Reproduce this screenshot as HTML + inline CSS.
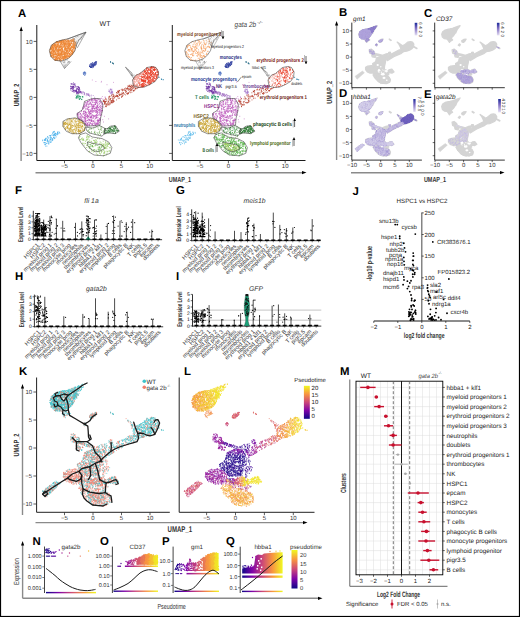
<!DOCTYPE html>
<html><head><meta charset="utf-8"><style>
html,body{margin:0;padding:0;background:#fff;}
svg{display:block;font-family:"Liberation Sans", sans-serif;text-rendering:geometricPrecision;}
</style></head><body>
<svg width="520" height="617" viewBox="0 0 520 617">
<defs><path id="my10" d="M73.9 40.6h0m-1-.9h0m-.2 1.7h0m-4.1-.3h0m-.8-.7h0m-4.1 1.2h0m-3.7-.5h0m-2.8 .4h0m-1.4 1.1h0m2.8 1.3h0m2.7-.5h0m1.3-1.1h0m1.1 .8h0m5.6-.2h0m.2 .9h0m.4 .7h0m3-.5h0m1.1-1.8h0m.4 5.5h0m-2.6-1.2h0m-3.4 1.4h0m-.4 0h0m-1.8-2.6h0m-.9 1.7h0m-4.3 .2h0m-.1-2.1h0m-.5 .9h0m-2.8 .3h0m-2.3 1.1h0m-.4-1.4h0m-2.7 .6h0m-.2-.8h0m0 1.5h0m-.8-1.3h0m1.3 4.5h0m.2-.9h0m.2 .2h0m1-.3h0m1.7-.1h0m.4-.9h0m.1 .8h0m.1 .7h0m.2 .9h0m.2-1.8h0m.2-.3h0m.1 2.1h0m6-1.1h0m2.7-1.5h0m.2 .4h0m.6-.1h0m0 2.3h0m1.3-.1h0m0-.4h0m.1 .4h0m2.4-.6h0m.4-2.1h0m1.9 3.1h0m-.2 .4h0m-1.3 1.6h0m-4-1.5h0m-.2 1h0m-1.9 1.2h0m0-1.8h0m-.6 .8h0m-1-1.5h0m-.1 1.3h0m-1.2-.2h0m0-.2h0m-.3 1.2h0m-.5-2.2h0m-.4-.2h0m-.3 2.4h0m-1.8-2.1h0m-.4-.3h0m-.7 .6h0m-6 1.2h0m-.1 .8h0m-.4-1.7h0m-1.4-.1h0m.7 2.3h0m2.4 .8h0m.3 1.7h0m.1-2.4h0m1.8 .3h0m1.8-.4h0m.3 1.2h0m1.2-.3h0m3 .6h0m.6 .5h0m1.4-2.1h0m1 1.9h0m.4-1.5h0m0 1.1h0m1.1 0h0m1.4 1.3h0m.7-1.2h0m.5 1h0m.8-.2h0m.2 .2h0m1.3-2.2h0m.8 0h0m-4.5 3.3h0m-.8 0h0m-.6-.3h0m-9.6 .1h0m-.7 2.3h0m-1.8-2.6h0m3.6 3.1h0m2.7-.4h0m4.4 .1h0"/><path id="my11" d="M74.1 41.4h0m-3.1-.6h0m-6.7 1h0m-.8-1.3h0m-.4 .3h0m-.9-.5h0m-2.1 1.6h0m-2.5 2.7h0m1-2h0m1.6 1.7h0m1.4-.9h0m.4 1.4h0m2-.6h0m.7-.9h0m.4-.3h0m1.1-.9h0m.4 2.2h0m1.8-2h0m.1 1.9h0m.4-.3h0m1.7 .2h0m.6-1.2h0m4.4-.1h0m0-.1h0m.1 2.1h0m-1.7 2.1h0m-.1 .5h0m-.5-.2h0m-.1-.8h0m-.6-.2h0m-1.2 1.2h0m-1.8-2.4h0m-.2 1.8h0m-1.5-.2h0m-.1-1.1h0m-1.7 1.3h0m-.5 .5h0m-1.7-2.3h0m-1.5 1h0m-2.7 .3h0m-.1 .4h0m-.1 .8h0m-.9-.5h0m-1 .1h0m-.5-.8h0m-3-1.3h0m-.1 .5h0m-1.1-.5h0m-.2 .9h0m-1.3 2.1h0m1.6 1.6h0m1.3 .8h0m.9-2.4h0m4 2.1h0m0-1h0m.1-1.1h0m.3 2.6h0m.4-1.1h0m1-.9h0m.3 .1h0m.2-.6h0m4.3 .7h0m.1-.8h0m.3 1.6h0m2.5-1h0m.6 2.2h0m.4-1.6h0m.3 0h0m.1 .9h0m.1-1.4h0m1.2 5h0m-2.3-2.3h0m-1.5 1.9h0m-1.8-.6h0m-2.3 1.2h0m-3.8-1.1h0m-1.7 .2h0m-.1-1.5h0m-.7 1.8h0m-2.9-1.9h0m-.9-.3h0m-2.4 .9h0m.3 4.4h0m.2-1.4h0m0 1.3h0m2 .3h0m2.6-2.6h0m.2 .4h0m1.1 1.5h0m0-.3h0m4.9 .1h0m.1-1.3h0m.8 .4h0m1.8 1.5h0m1.4-.5h0m1.7-.1h0m.5-.5h0m.1 1.2h0m.6 .3h0m-3.9 .6h0m-1.6 1.8h0m-.2-1h0m-1 .3h0m-6.6 1.4h0m-1.2-1.7h0m-1-.8h0m1.3 2.7h0m2.4 .1h0m1.6 .6h0m2.2-.4h0"/><path id="my12" d="M73.5 39.1h0m-.2 2.3h0m-.9-1.7h0m-4.1 .5h0m-1.3 1.3h0m-.8-1.6h0m-5.2 1.9h0m-2.1-.3h0m-1.8 .3h0m-1.7 1.2h0m.9 1.8h0m2.6 .1h0m1.4-1.1h0m3.1 .3h0m.6-.1h0m.2 .8h0m.5-.8h0m1.8-.3h0m.7 1h0m8.7-.4h0m-1.9 1.5h0m-.3 .2h0m-.9 1h0m-.2 .7h0m-.4-.3h0m-3.4-1h0m-3 .9h0m-1.1-1h0m-.7-.8h0m-3.1 1.2h0m-2.3-.7h0m-.3 1.7h0m-3.7-.8h0m-.2 .1h0m-.2-.8h0m-1.1 1.1h0m-.9 0h0m0 0h0m-.2-2.3h0m0 1.5h0m-.5 1.4h0m-1.1 2.2h0m1.9-1.5h0m.5 2h0m1.3-1.9h0m.7 1.9h0m2.4-1.6h0m4.6 1.8h0m2.9-.6h0m.2-.8h0m0-1.3h0m.1 1.8h0m1.1-1.1h0m3.2 .8h0m.4-.6h0m.9-.9h0m0 .8h0m.5 .9h0m0-1.6h0m1.5 1.6h0m1.6 .2h0m0 1.1h0m-1 .9h0m-.8 .4h0m-.1 .7h0m-.9-1.9h0m-.9 1.7h0m-6 .8h0m-1.7-1.1h0m-.1-1.6h0m0 0h0m-.2 .1h0m-.6 .4h0m-.4 .8h0m-.2-.1h0m0 1.5h0m-3.2-.7h0m-2.5 .5h0m0-1.2h0m-1.7-.4h0m-.4-.4h0m-.2-.5h0m-.7 .3h0m-1.9 1.6h0m.9 3.2h0m.5 .1h0m1.9-1.5h0m.6-.5h0m.8 2.2h0m3.8-1.4h0m1.3-1h0m.1 2.3h0m.9-1.7h0m5.7-.5h0m0 .5h0m.5-.4h0m2.3 .3h0m-9.4 5.3h0m0-.1h0m-.6-2h0m-1 2.1h0m-.4-2.5h0m-.8 1.8h0m-.6-.9h0m0 1.4h0m-.9-1.5h0m-.5 0h0m-.1-1.1h0m.2 3h0m5.2 .8h0"/><path id="my13" d="M73.7 38.7h0m1.2 2.4h0m-1.2 0h0m-2.3-1.3h0m-.6 .7h0m-3.1 .1h0m-.8-.6h0m-3 1.8h0m-2.4-1h0m-.1 .2h0m-.4-.6h0m-.9 1h0m-.2-.4h0m-4.5 3.8h0m1.5-2.6h0m.8 .7h0m1.6-.2h0m2.1 1h0m1.6-.3h0m2.5 .2h0m2-.5h0m.9 .2h0m1.5 1.6h0m.4-.3h0m.7-1.6h0m.1-.2h0m.4 .7h0m2.4 1.3h0m.1-.6h0m0 3.3h0m-.2 .2h0m-1.6-.4h0m-3.2 .3h0m-1.6-.7h0m-4.4-.9h0m0 1.2h0m-.2-2.2h0m-4.9 2.4h0m-1.7-.9h0m-.8-1h0m-2.6-.4h0m-.4 5.6h0m1.3-.2h0m4.1-.7h0m2.2 .1h0m1.2 .2h0m.5-1.1h0m.3 1h0m.3-.9h0m.1-.5h0m2.5 1.5h0m.7-1.5h0m0 1.4h0m.2 .1h0m.1-1.8h0m.2 1.4h0m.5 .8h0m1.2-1.3h0m2.2-.8h0m.8 .7h0m.9 1.5h0m.8-1h0m.4 1.1h0m.2 1.9h0m-1.3 .2h0m-.7-1.4h0m-3.1 1.5h0m-.1-1.5h0m-1 .3h0m-.1 .2h0m-2.3 1.9h0m-.3-2h0m-1.7 2.1h0m-1.2-1.2h0m-2.1-.7h0m-1.8 1.1h0m-2-1.1h0m-1.4 1.3h0m-.6-.6h0m-1.2 .5h0m-.4 .6h0m-.1-.3h0m-.6-1.4h0m-.6 .4h0m-.2 .2h0m.9 2.9h0m1.9 .7h0m1.1-1.7h0m3.9-.6h0m0 .7h0m.5 1.1h0m.7 .9h0m1.8-1.9h0m2 2.1h0m1-2h0m1.8 1.6h0m.9-.1h0m.8 1.9h0m-.4-1.2h0m-3.5-.1h0m-1.2 .3h0m-.3 1.7h0m-.4-1.3h0m-.9 .1h0m-.9 2h0m-.6-1.2h0m-.7-.2h0m-1.2-.1h0m-4.6-1h0m7.2 3.4h0"/><path id="my14" d="M73.9 41.1h0m-1-.6h0m-1.9 1.1h0m-.7-.9h0m-.4-.6h0m-3.4 1.6h0m-2.9-.4h0m-1-.8h0m-1.1 .7h0m-6.8 3.3h0m1.6-2.5h0m1.2 .2h0m3.3 .7h0m.2 .2h0m1.3 1.1h0m.1 .1h0m3.7 .4h0m2.2-.1h0m1.1-.8h0m.1 .4h0m.2-1.6h0m3.9 .8h0m1.4 4.4h0m-.4-.5h0m-1.9-1.4h0m-.7 .5h0m-.9 .8h0m-.9-2h0m-.6 1.3h0m-.9-1h0m-4.2 .2h0m-.2-.5h0m-.3 1.1h0m-.5 .7h0m-3.2 .6h0m-.8-1.5h0m-.6-.4h0m-2.2 .2h0m-.2 .5h0m-.6 1.1h0m-3.3-.3h0m-.1 .3h0m-.4 1.8h0m1.2-.8h0m1.2 .5h0m.9 .3h0m.6 1.3h0m.1-2h0m2 1.3h0m3.6-1.4h0m.3 1.5h0m3.1 .2h0m1.2 .7h0m1.1-.8h0m1.6-.7h0m1.1-.5h0m4.5-.7h0m-1.8 4.4h0m-1.1 .9h0m-.2-2h0m-2-.2h0m0 2.4h0m-.8-2.3h0m-.2 1.2h0m-.8 .8h0m-1.1 .5h0m-.9-1.8h0m-2.3 1.8h0m-.3-2.5h0m-.9-.3h0m-.3 .3h0m-.8 1h0m-3-.9h0m-1.4 2.4h0m-.2-1.9h0m-1.8-.7h0m-.8 .5h0m-.8 .6h0m-.6 .5h0m0 .9h0m-.9-2.1h0m1 3.5h0m1-1.2h0m2 .4h0m1.7 .5h0m.7 0h0m.5 .5h0m.4-.3h0m1.4 .1h0m.2-1.1h0m.3 1.3h0m.6-.2h0m.3 1.5h0m2.8-.9h0m.2-1.5h0m.7-.1h0m.7 2h0m.3 .6h0m4.4-1.1h0m0-.2h0m-4.3 2.2h0m-1.6-.2h0m0 1.1h0m-1.5 1.1h0m-4-.3h0m-2.1-.9h0m-.8-1.5h0m0 2.1h0m-.8 .7h0m-1.6-2.1h0"/><path id="my15" d="M73.1 41.2h0m-1.3 .3h0m-.9-1.4h0m-1.4 1.6h0m-.7-1.2h0m-.1 .8h0m-1.1 0h0m-1.2-1.2h0m-1.1 .2h0m-3.4 .9h0m-1.9 .1h0m-5 1.8h0m1.1 .2h0m1.7-.3h0m.2 1.2h0m1.1-2h0m.7-.2h0m2.1 .4h0m2.2-.1h0m0 .5h0m.8 1h0m4.4 0h0m2.7 1h0m1.6-1.8h0m.9 1.9h0m.8-2.8h0m-.6 3.9h0m-1.5-.8h0m-.1-.2h0m-4.7 1h0m-.9 .9h0m-.7-.2h0m-1-.3h0m-1.3 .7h0m-.1-1.9h0m-4 1.2h0m-2-.5h0m-.7 .2h0m-1.4 1h0m-.5 .1h0m-.1-2.2h0m-.4 2.5h0m-.2-2.2h0m-1.4 1.4h0m-3.9 3.3h0m1.2-1.6h0m.1 .1h0m.3 .5h0m.7 .2h0m3.5 .8h0m1.5-.8h0m1.4-.1h0m0 1.1h0m.2-1.1h0m1.2 .2h0m.2 1.1h0m.4 0h0m1.7-.1h0m1.4 .6h0m3.9-2.3h0m2 2h0m1.9 .3h0m2.2-2.6h0m.3 0h0m-1.1 3.7h0m-.5 1.8h0m-4.2-1.4h0m-1.7-1.4h0m0 .6h0m-4.2 .2h0m0 2.1h0m-.6-1.1h0m-3 1.1h0m-.1-.9h0m-.1-1.3h0m-2.5 .9h0m-2.8 .5h0m-.1-1.8h0m-1.3-.1h0m-1.1 2.6h0m.8 2.6h0m.4-.9h0m2-1h0m.2 .2h0m2.1 .1h0m0-.3h0m1.6 .6h0m1.1-.5h0m1.1-.6h0m.1 2.6h0m2.6-1.8h0m.6 2h0m1.8-.2h0m1.5-1.5h0m2.8 1.8h0m.5-2.6h0m.2 2.3h0m-1.2 1.1h0m-4.2 .9h0m-.9-.3h0m-.3 .9h0m-.1 .2h0m-.6-1.6h0m-3 1.1h0m-.3-.3h0m-2.9-1.3h0m-.7 1.6h0m-.7-1.2h0m-.4-.7h0m-.5 2.5h0"/><path id="my16" d="M73.3 40h0m-2 .1h0m-1.1 .4h0m-.7 .9h0m-.9-.1h0m-.4-1.3h0m-.2 1.5h0m-2.8-1.2h0m-.4-.1h0m-.2 .9h0m-1.5-1h0m-.3 1.4h0m-1.6-.5h0m-1.3 .2h0m-6.1 2.5h0m.4 .1h0m2.3-1.4h0m.3 .3h0m1.1 2.1h0m.6-2.8h0m.7 .7h0m1.5 1.7h0m1.2-2h0m1.5 .6h0m.4 .1h0m1 1.3h0m.6-1.2h0m2.3 .8h0m2.4 .9h0m1.1-1.9h0m.2 .5h0m1.7 1.4h0m1.1-1h0m1.1-1.5h0m.5 .7h0m.2 2.4h0m-.8 1.4h0m-7.4 .8h0m-5.5 0h0m0-.8h0m-2.2 .6h0m-2.8-1.5h0m-.5-.1h0m-.4 1.8h0m-.4-1.1h0m-.4 .8h0m-.4-1.8h0m-.8-.3h0m-.1-.2h0m-.7 2.7h0m-.3-.7h0m-.6 .1h0m0 .2h0m0-2.1h0m-.4 1.1h0m-1.1 .2h0m-.2 1.7h0m.4 .3h0m.2 .7h0m.3-.6h0m3.5-.3h0m1.8 1.5h0m.9-.5h0m1.4 1.2h0m.9-.8h0m.2-.6h0m1.2 0h0m8.9-1.1h0m.3 2.3h0m4.4-1.8h0m-2.7 4.2h0m0 1h0m-3.3-2.7h0m-1.5 2.8h0m-1.4-2.3h0m-4.9 2.1h0m-2 .1h0m-.3-.5h0m-1.3 0h0m-.8-2.1h0m-2.1 .7h0m-.2 .7h0m-.2-.8h0m-.3 .1h0m-.4-.5h0m-1 .7h0m-2-.5h0m2.8 4.3h0m2-.1h0m.2-1.7h0m3 1h0m.1 .4h0m.4-.8h0m.4 .4h0m.6-.4h0m.2-.4h0m1.1-.2h0m2.2 .5h0m.8 1.6h0m.7-2.1h0m.1 2.3h0m3-.3h0m1.9-1.1h0m.3 .9h0m-6.1 1.8h0m-3 .6h0m-1.2-.7h0m-.7 .6h0m-3.1-.7h0m-3.5 1.2h0"/><path id="my17" d="M71.9 41.2h0m-6.7-.4h0m-1.5-.2h0m-4.6 .5h0m-1.5 .5h0m-1 .3h0m-4.2 3h0m1.6-.8h0m.7 .2h0m.3 .3h0m1.4-.4h0m1.1 .4h0m.3-.3h0m.3 0h0m2.8 .2h0m.7-1.2h0m0 1.6h0m3.6-2.4h0m1.3-.4h0m.7 1.7h0m1.6-.1h0m4.4 .4h0m1.4-2h0m.1 4.1h0m-.5-1.1h0m-.3 2.7h0m-.1 .1h0m-3.4-2.2h0m-.5-.7h0m-.1 .2h0m-1 .6h0m-.2 1.6h0m-.1-1.7h0m-.4-.7h0m-.1 1.6h0m-2.9-1.3h0m-.1 2.1h0m-5.2-1.7h0m-2.2 .9h0m-1.2 .8h0m-.2-1.5h0m-.2 2h0m-5.4 1.6h0m.8 1.2h0m2.5-.3h0m2.7-2.1h0m1.5 2.1h0m.1 .1h0m.8 .4h0m1.4-.9h0m1.6-1.1h0m2.3 .5h0m.4-.4h0m2.9 1.9h0m.1-2.7h0m.4 2.3h0m2.4-1.9h0m.3 1.6h0m1.6 .1h0m.8-2.2h0m.3 1.1h0m-1.3 2.6h0m0 1.7h0m-1.1 .4h0m-.4-1.5h0m-1.2 1h0m-.1 .3h0m-2.7 0h0m-.7-.9h0m-1.7-.8h0m-10 1.6h0m-.2-2.3h0m-2.6 1.2h0m-.6 .7h0m-.3-.5h0m.5 3h0m1.1-1.3h0m1.1 1.3h0m.1-1.3h0m3.1 1.4h0m.7 .8h0m2.6-1.4h0m.5 1.1h0m1.6-1.6h0m.2 2.2h0m.6-.3h0m.6 .2h0m.4 0h0m3.3-1.8h0m.2 .5h0m0 .4h0m-1.1 2.7h0m-1-1.5h0m-.1 1.3h0m0-.3h0m-.3-.9h0m-1.1-.1h0m-.4 .9h0m-.9 .2h0m-1.1 .3h0m-.1-.2h0m-.3 1.2h0m-2.8-2.4h0m-.7 .1h0m-.7 .5h0m-.1-.2h0m-1.2 1.8h0m.3 1h0m.5-.2h0m1.5 .1h0"/><path id="my18" d="M73.8 39.7h0m-1.4 .9h0m-1.2 .7h0m-.4-.2h0m-1.9 0h0m-2.3 .5h0m-1.3-.4h0m-.7-1.3h0m-1.8 .4h0m-1.2 .6h0m-.4 .9h0m-8.3 3h0m1.3-1.1h0m1.3 .6h0m2.8-1.2h0m3.2-.9h0m1.7 .3h0m1.4 1.7h0m.7-1.9h0m1.6 1.2h0m.9 .7h0m.9-1.1h0m2.4 0h0m1.9-1.1h0m.8 .1h0m.6 1.3h0m.4 1.1h0m.3 1.1h0m-.6 1.1h0m-.6-.9h0m-3-.6h0m-1.3-.2h0m-.5 2.9h0m-3.4 0h0m-4.2-1.6h0m-.4-.7h0m0 1.1h0m-.4-.6h0m-.9 .1h0m-.1 1.3h0m-2-1.8h0m-1.4 1.9h0m-1.2-.7h0m-.5-1.7h0m-.4 1.5h0m-.2-1.7h0m-.8 2.7h0m-.4-1.5h0m-.3-.5h0m-1.9 3h0m.1-.7h0m.5 .9h0m2.1 .1h0m.3 .2h0m.1-.6h0m2 .4h0m.2 1.2h0m2.6 .2h0m.1-1.8h0m2 .8h0m1.9-.1h0m4.7 1.5h0m.8-1h0m1-1.7h0m.9 1h0m1.4 1.6h0m2.9-1.6h0m-.1 1.9h0m-.6 1.1h0m-1 .2h0m-.4-1.1h0m-2.4 2h0m-1.4 .1h0m-.4-.2h0m-1.4-1.5h0m-.9 .8h0m-.2 .9h0m-.7 .3h0m-.4-1h0m-.5-.4h0m-2.1 1.1h0m-1.1-2.3h0m-1.7 .9h0m-.9 .7h0m-2.5 .9h0m-2.2-2h0m-.5 2h0m-1.9 3.1h0m1.1-1.4h0m1.4-.2h0m1.4 1.3h0m.7-2h0m1.2 2.1h0m1.7-1.9h0m.8 1.5h0m1.9-2h0m3.3 2.3h0m.7 .5h0m4.7-2.3h0m-2.3 3.7h0m-1.4-1.2h0m-2.7 1.7h0m-1.2 1.1h0m-2.8-1.6h0m-1.3 .5h0m-1.2 .7h0m-3.4-2.3h0m-1.1 .4h0m2.9 2.6h0m3.6 .2h0"/><path id="my19" d="M74.2 39.8h0m-1.9 1.3h0m-.5-1h0m-6.4 .9h0m-3.5 .4h0m-1.2 .1h0m-.4-.4h0m-3.2 .7h0m-.4 .5h0m1 .4h0m2.8 1.6h0m.1-1.8h0m.7-.3h0m.9-.2h0m.6 2h0m.5-1.7h0m1.6 1.1h0m.2 .3h0m.4 1.1h0m.2-.3h0m.1-.8h0m1.3-1.5h0m.3 .5h0m1-.5h0m2 1.2h0m2.5 0h0m.7-1.4h0m1.7 2.9h0m.3-1.6h0m-1.8 3h0m-1.8 1.3h0m-.6-1.2h0m0 .2h0m-1.3 .3h0m-.7-1.2h0m-2.2 .4h0m-.4-.9h0m-.8 .6h0m-1.6 .1h0m-.5 1.2h0m-.1-.7h0m-1.6 1.1h0m-.8-.5h0m-.3-.3h0m-1.7 .7h0m-.6 0h0m0-1.4h0m-1.4 .1h0m-2.1 .9h0m-1.8-1.5h0m-.7-.3h0m-1.6 2.4h0m-1 1.9h0m2.4-1.5h0m.8 .7h0m4.1 1.9h0m1.4-.5h0m.8-.9h0m4.8-.7h0m1.7 .3h0m1.3 1.4h0m.5-2.1h0m.4 .7h0m2.6-.3h0m1.2 .7h0m1.9 1.1h0m-1.3 1.6h0m-5.8 1.5h0m-1-.7h0m-.2 .5h0m-1.1-1.6h0m-.9 1.3h0m-2.5-.3h0m-1-.4h0m-1.4 1.1h0m-1.7-2h0m-3.8 .6h0m-2.1 4.4h0m.8-.9h0m1.2 .3h0m1 .4h0m1.4 .5h0m1.6 .2h0m1.5-2h0m5.5 2.1h0m.4-.6h0m.7-2h0m.2 1.4h0m2.1 .8h0m1 .2h0m.2-2.7h0m.5 .1h0m0 1.7h0m.3-.5h0m2.5-.7h0m-6.6 4.3h0m-.3-1.8h0m-5 2.5h0m0-2.2h0m-.2 1.5h0m-.9-.3h0m-.3-.9h0m-.1-.1h0m-.8 .7h0m-1.4 .6h0m-.9-.3h0m-1.2 1.2h0m-.1-.3h0m1.4 .9h0m5.7 0h0"/><path id="my20" d="M84.9 33.8h0m-12.1 4.9h0m1.9-.2h0m1.3-1.4h0m1.8-.6h0m3.8 1.2h0m-.6 1.5h0m-2.8 .8h0m-1.9 1.2h0m-2-1.6h0m0 1.9h0m.6 1.4h0m1.2 .3h0m.4-.3h0m.1 3.1h0m-1.4-.8h0"/><path id="my21" d="M82.3 34.7h0m-.3-.8h0m-.4 1.6h0m-11.4 3.1h0m1.8-.2h0m1.1-1h0m.6 .9h0m1.3-1.5h0m2.2 1.2h0m.6-1.5h0m3.7 .5h0m-4.5 3.3h0m-.6 0h0m-.6 1.3h0m-1.9 .8h0m2.5 2h0"/><path id="my22" d="M79 35.3h0m-10.7 3.5h0m6.1-1.3h0m.1 .8h0m3.6-1.9h0m.2 .3h0m1.5 .7h0m1.3-1.4h0m0 .2h0m2 .4h0m-5.5 4h0m-1.6-.5h0m-1.1 .6h0m-2.4 .2h0m-3.5-1.8h0m5.7 4.9h0"/><path id="my23" d="M84.8 33.5h0m-2 0h0m-2.2 2h0m-4.9 1.2h0m4 .6h0m.2-1.1h0m1.6 2.7h0m.5-2.1h0m1.3-.5h0m-7.7 3h0m-1 2.4h0m-4-1.7h0m6.9 4.1h0m.5-.3h0m-1.6 2.8h0m-.2 .5h0"/><path id="my24" d="M81.1 35.3h0m-2.9 0h0m-2.9 3h0m.2-1.2h0m2.2-1h0m-1 5.2h0m-2.9-.2h0m-4.6-1.5h0m6.2 3.5h0m.7 1h0m1.1-1.1h0m1.2 1.8h0m.7-2h0m-2.1 2.3h0m-1.5-.1h0m0 .6h0"/><path id="my25" d="M85 33.5h0m-13.1 4.3h0m4.1 .2h0m3.3 .8h0m.6 0h0m.4-2.1h0m.3-.5h0m-1.5 4.5h0m-1.4-.2h0m-3.4 1.5h0m2.1 1.6h0m.5 .1h0m1.4 .6h0m-1.6 2.7h0m0-.8h0m-.8-1.2h0"/><path id="my26" d="M70.8 38.9h0m1.3-.3h0m2.1 0h0m.8-.3h0m2.3 .6h0m3.6-2.2h0m-5.8 3.8h0m-.8 .7h0m-.3 .5h0m-5.1-1.8h0m-1.3-.1h0m7.4 3.6h0m0-.1h0m2.2 0h0m.7 1.5h0m-2.2 1.3h0"/><path id="my27" d="M69.6 38.8h0m1.7-.7h0m3.7-1.4h0m.6-.1h0m2 1.2h0m.5-.6h0m.2-.2h0m2.9 1.4h0m-2.4 2.3h0m-.5-1.4h0m-1.1 2.1h0m-.9-.7h0m-3.5-.5h0m3 2.6h0m1.1 5h0m-1.3-2.7h0"/><path id="my28" d="M82.4 33.9h0m-2.6 1.9h0m-1.1-.6h0m-3.9 1.5h0m6.1 .1h0m.1 .2h0m1.5-.1h0m-3.1 2.6h0m-.9 .2h0m-.7 .2h0m-6-.6h0m4 4.2h0m.2-1.2h0m.6 0h0m.2 4h0m-1.4 .1h0"/><path id="my29" d="M81.6 34.2h0m-2.1 1.7h0m-6.9 2.3h0m1.3-.8h0m1.8 1.5h0m1.2-2.2h0m.4 1.5h0m.9-2.1h0m.2 2h0m2.6-1.8h0m-.4 3.8h0m-.2-.2h0m-2.3-.2h0m-2 .6h0m.1 4h0m1.9-.6h0"/><path id="my30" d="M64.2 61.4h0m4.3 .5h0m.5-.5h0m-1.9 3.5h0m-2.8 1.2h0"/><path id="my31" d="M63.6 62.3h0m4.1 .6h0m1.3-.2h0m-3.1 2.3h0m-.8 .2h0"/><path id="my32" d="M64.7 62.6h0m1.1-2.5h0m1.3 0h0m2.1 1.6h0m-3.8 5.4h0"/><path id="my33" d="M65.2 60.6h0m1.5 .1h0m2.3 2.8h0m-.6-.1h0m-4.8 1.3h0"/><path id="my34" d="M66 61.4h0m2.7-.9h0m.9 2.3h0m-3.6 .4h0m-3.4 .8h0"/><path id="my35" d="M67.1 62.1h0m.9 1.9h0m-3.8 1.8h0m-.5-.7h0"/><path id="my36" d="M66.1 59.5h0m-1.7 1.1h0m6.1 2.4h0m-5.7 .2h0"/><path id="my37" d="M68.2 61.9h0m.5 .7h0m-2.2 1.7h0m-2.4 2.2h0"/><path id="my38" d="M66.2 62.2h0m1.1 .9h0m-.1 .7h0m-3.9-.3h0"/><path id="my39" d="M65.9 61.5h0m3 2.1h0m-.8-.3h0m-4.8 2.2h0"/><path id="mono0" d="M96.4 63.8h0m-1-.8h0m-3.5 1.7h0m-.9-.9h0m-.9 2.8h0m.5 .3h0m.7 .6h0m1.4-.8h0"/><path id="mono1" d="M94.6 62.6h0m2.1-.8h0m-1.8 1.4h0m-.2 1.8h0m-.6-.7h0m-1.8-.2h0m-2.4 .7h0m2.7 1.4h0"/><path id="mono2" d="M95.9 64.6h0m-.9 .9h0m-1.3 .4h0m-.5-.7h0m0-1.2h0m-.8 .8h0m-2.6 1.8h0m3.4 0h0"/><path id="mono3" d="M95.7 61.7h0m.4 1.1h0m-.1 .9h0m-2 1.5h0m-.8 .2h0m-.2-1.6h0m-1.5 .6h0m-1.9 1.8h0"/><path id="mono4" d="M94.7 64.7h0m-.9 1.2h0m-.6-.6h0m-.1-2.3h0m-.5 1.7h0m-2.8 .9h0m1.5 1.5h0m.4 .1h0"/><path id="mono5" d="M95.5 64.4h0m-1.4-.8h0m-.9 1.2h0m-2-1.4h0m-.1 2.3h0m-1-.8h0m.3 2.5h0m.9-1.1h0"/><path id="mono6" d="M92.6 62.6h0m3.7-.5h0m.1-.1h0m-1.1 2.1h0m-.9-.4h0m-3.6 .3h0m.1 2.8h0m2.3 .6h0"/><path id="mono7" d="M95 62.3h0m-1 1.9h0m-1.2 1.3h0m-.1-.3h0m-1.4 .4h0m-.3-.8h0m-1.3 1.7h0m2.6 1.2h0"/><path id="mono8" d="M95.2 62.5h0m-.3 3.2h0m-.8-1.3h0m-2.2 1.4h0m-2.1 .7h0m.7 .7h0m.2 .2h0m.5-.1h0"/><path id="mono9" d="M95.4 62h0m.3 .4h0m.1 1.6h0m-1.7 .4h0m-2.1-1h0m-.4 3.8h0m1.5-.7h0m.3-.2h0"/><path id="monop0" d="M85.2 74.7h0m.6-1.6h0"/><path id="monop1" d="M83.8 74.4h0m.9-2.4h0"/><path id="monop2" d="M84.2 72.2h0m1.1 .6h0"/><path id="monop3" d="M83.4 73h0m1.2 2.3h0"/><path id="monop4" d="M83.2 73.1h0m.8-.7h0"/><path id="monop5" d="M83.8 73.8h0m.4-1.2h0"/><path id="monop6" d="M83.4 74.2h0m1.6 .7h0"/><path id="monop7" d="M84.3 73.1h0m.6 .2h0"/><path id="monop8" d="M84.9 72.8h0m.1-.6h0"/><path id="monop9" d="M84.7 72.8h0m1 1h0"/><path id="epcam0" d="M110.4 62h0"/><path id="epcam1" d="M113.5 63.7h0"/><path id="epcam2" d="M110.6 62.1h0"/><path id="epcam3" d="M112.7 62.8h0"/><path id="epcam4" d="M112.7 63.5h0"/><path id="epcam5" d="M113.5 63.9h0"/><path id="epcam6" d="M112.8 62.9h0"/><path id="epcam7" d="M113.1 63.5h0"/><path id="epcam8" d="M110.6 61.5h0"/><path id="epcam9" d="M110.8 62.4h0"/><path id="ery20" d="M150.5 67.9h0m.3-.2h0m3.1-.1h0m0-.3h0m3.3 2.3h0m-.1 .6h0m-2.5-.3h0m-.1 .9h0m-3.5-.1h0m-5.8-.4h0m-.3 0h0m-2.2 2.9h0m.1-1.2h0m3.2 1.8h0m.9-.6h0m2.1 1.2h0m3.3-.7h0m3.1-.8h0m1.7 3h0m-.4 1.8h0m-4.9-1.6h0m-.1-.1h0m-.9 1.4h0m-2-.2h0m-2-.1h0m-2.3-.1h0m-2.6 .1h0m-.6-1.2h0m-5.8 2h0m-1.7 .6h0m4-.5h0m2.6 .5h0m1.7 1.7h0m2.3-2h0m3.8 2.6h0m2.3-2.3h0m3.7 .1h0m1.5 .4h0m-5.3 2.1h0m-.3 0h0m-1.2 .3h0m-5 2.3h0m-.3-1h0m-4.2 .8h0m-.1 0h0m-1.6-2.2h0m-3.8 1.2h0m5.1 3h0m2.9-.9h0m3 .8h0m.4-.9h0m4.3-.2h0"/><path id="ery21" d="M147.3 68.2h0m.8 .2h0m9.8 3h0m-.1 .2h0m-3.3-2.5h0m-2.9 1.1h0m-3.4-.6h0m-.9 1.9h0m-2.1 .2h0m-4.1 1.4h0m2.8-1.1h0m.6 .5h0m1 .7h0m.5 .5h0m1.1 .5h0m1.5-2.1h0m1.8 0h0m1.2-.1h0m5.4 .7h0m0-.1h0m-3.2 4.9h0m-4.2-1.3h0m-.3 1h0m-.1-.3h0m-7.4-1.9h0m-4.7 1.8h0m-2.6 .6h0m-1.5 3.3h0m1.2-2.4h0m2.2 2.6h0m2.5-2.6h0m2.6 1.1h0m.5 1h0m.3-.3h0m1-2h0m5.4 2.5h0m1.8-.8h0m1 .8h0m4.4-2.3h0m-2.2 3.3h0m-3.7 .8h0m0-.3h0m-.4-.2h0m-4.3-.1h0m-2.4 1.7h0m-.5-2.2h0m-3 1.2h0m-2.9-1.5h0m6.3 5.2h0m6.1-2h0m-8.6 2.9h0m-2 .3h0"/><path id="ery22" d="M152 68.3h0m.9-1.4h0m1.7 1.3h0m.4 1.1h0m-1 .6h0m-1.8 1.5h0m-3-1h0m-1.5 0h0m-2.9 1.1h0m-1.7 .4h0m-5 2.7h0m1.1 .2h0m4.5-.9h0m3.1-1.4h0m.8-.3h0m2.1 1.7h0m1.1-1.2h0m.5-.4h0m.2 2.3h0m.8-2h0m.8 1.4h0m2.4-.2h0m-.5 2.3h0m-.5-.9h0m-4.1 .5h0m0 1.8h0m-4.8-1.6h0m-1.4-.1h0m-2.8 1.1h0m-1.3-.5h0m-.6-.5h0m-1.3-.3h0m1.7 3.9h0m1.3-.1h0m8-1h0m.5 2h0m2.7-.7h0m2.1-1.3h0m-1.9 3.1h0m-8.7-.1h0m-.7 1.8h0m-3.6-.4h0m-1.2 .6h0m-.1-.6h0m-4.6 2.8h0m2.5-.2h0m.6-1.4h0m.4 .6h0m2.4 .1h0m4.9-.7h0m2.2 1.5h0m-5.6 1.5h0"/><path id="ery23" d="M146.6 68.7h0m3.8 .2h0m4.1 1.2h0m-2.9 1.1h0m-1.1-.7h0m0-.8h0m-.1 2.1h0m-.4-1.3h0m-1.3-1.4h0m-.9 1.6h0m-1.1-.9h0m-2.5 .5h0m-7 4.6h0m2.3-.7h0m1.6-.6h0m3.1 .6h0m1.4-.7h0m.3-1.1h0m2.3 .1h0m.6 1h0m1.8 .7h0m4.8 .2h0m-3 2.3h0m-1-1.6h0m-1.1 .5h0m-1.3 1.8h0m-1.4 .2h0m-4.3-1.1h0m-1.6 .1h0m-3.1 .6h0m-3.1-.4h0m-2 1.9h0m3.9 .5h0m1.7-.9h0m.6 2h0m4-1h0m1.9 1.1h0m2.4-1.1h0m0-1.3h0m2 2.5h0m4.4-2.5h0m-2.9 4h0m-9 1.9h0m-.9-2.9h0m-1.5 1.8h0m-6-1.1h0m.2 2.5h0m2.9 1.4h0m3.9-.5h0m.3 .9h0m1.4 .8h0m1.1-.3h0"/><path id="ery24" d="M147 67.5h0m4.2 .1h0m.5-.8h0m.4 .9h0m4.3 1.2h0m-1.6 1.2h0m-.8 .2h0m-.9-.1h0m-1.1 .6h0m-2-1.6h0m-1.1 .6h0m-.4 .3h0m-4.2 1h0m-3.3 1.9h0m6.8 .7h0m3-1.4h0m1.6 1.4h0m2.6 .9h0m.5-.9h0m2.9-.7h0m-1.6 3h0m-1.8-.6h0m-6-.3h0m-.1 1.5h0m-1.2-.6h0m-2.6 .8h0m-8.9 3.1h0m.5-.3h0m4.9-.1h0m.9 1.2h0m.9-.3h0m2-.1h0m1.9-1.8h0m5.9 .3h0m0 .1h0m-1.8 3.3h0m-.4 1h0m-.2 .3h0m-.5 .3h0m-.1-2.8h0m-1.2 2.7h0m-.3-1.6h0m-.6 .6h0m-2.7-1.5h0m-1.1 2h0m-1.1-2.2h0m-.4 .1h0m-3.4 .9h0m-.3 1.7h0m-.4-2.6h0m-1.9 5.4h0m3.1-1.9h0"/><path id="ery25" d="M151.1 68.4h0m.6-1h0m.2 .1h0m1.1-.1h0m2.3 2.4h0m-6.2-.8h0m-6.4 5.4h0m.6-.2h0m6.9-.3h0m1.3 .6h0m.3-.3h0m1.5-1.2h0m.1 1.6h0m4.3 .6h0m-8.1 2.7h0m-1.7-1.2h0m-.2 .8h0m-1.4-.1h0m-2.1-2.1h0m-1.8 1.9h0m-1-.5h0m-.8-.2h0m-3.4 1h0m-.3-1.5h0m-.1-.9h0m-2.8 5h0m.2-.5h0m0-1.4h0m3.9 .4h0m1 .6h0m5.4 .7h0m1-1.8h0m1.7 .5h0m5.9 .7h0m.6 .7h0m1.2 1.2h0m-3.4 .6h0m-3.5-.6h0m-2 .9h0m-.1 .8h0m-.9-1.3h0m0 .5h0m-1.3-1.1h0m-1.2 2.8h0m-3.8-1.1h0m-3.5-.2h0m-.9-1.3h0m-.1 1.9h0m-.3-1.7h0m3.6 4.7h0m2-1.1h0m1.6 .8h0"/><path id="ery26" d="M154.2 67.3h0m.7 1.5h0m-.7 1.6h0m-7 .7h0m-1-.5h0m-5.4 3.7h0m.2-.1h0m5 .3h0m.4-.6h0m2.5-1.1h0m.5 .4h0m4.8 1.1h0m2.3 .9h0m-.1 2.1h0m-.7-1.2h0m-1.1 .6h0m-1.7-.2h0m-.8-1.5h0m-1.4 0h0m-.8 2h0m-.7-.4h0m-2.1 0h0m-1.6-.9h0m-2.8 1.4h0m-4.9-.8h0m-1.4-.5h0m-.1 2.1h0m-.7 1.6h0m3.3 1.3h0m7.3-2.1h0m2.6 1.6h0m2.8-.8h0m1-1.1h0m1.2 2.3h0m2-1.7h0m-11.2 2h0m-.3 .1h0m-2.3 2.6h0m-4.8-.6h0m-2-1.7h0m.2 3.8h0m.3 .4h0m.4 .5h0m.9-1.2h0m4.8 1.2h0m.4 .5h0m1-.3h0m.2 .4h0m.7-.4h0m3.1-1.3h0m1.9-.3h0m-10.8 2.5h0"/><path id="ery27" d="M146.9 68.2h0m4.2-1.2h0m.9 1.2h0m1.5-1.2h0m1.8 2.4h0m-1.6-.1h0m-.7 .1h0m-7.7 2.1h0m-4.7 3.2h0m.6-1.8h0m2.2 1.5h0m.8 .4h0m6.9-.7h0m4.4-1.4h0m2.7 1.6h0m-1.3 2.3h0m-3.6-.2h0m-.2 1.2h0m-5.1-1.9h0m-3.5 1h0m-1.4-.4h0m-.4 1.2h0m-2.5-.9h0m-1.3-.8h0m-2 2h0m-.9 0h0m-2.8 1.9h0m1.1-.5h0m1.1-1.1h0m4.7 1.6h0m1.3 1.2h0m3.3-.3h0m.9-1.8h0m.5 1.3h0m1.2-.8h0m0 0h0m1.3-1.2h0m.4 1.5h0m1.8-1.5h0m.1 1h0m-.3 4.2h0m-1.6-.4h0m-.3-1.3h0m-1 .6h0m-3.8-1.2h0m-4.4 2.8h0m-1.2-.9h0m-4 2.5h0m8.5 .3h0m.1 .1h0m.6-.6h0m.3-.5h0"/><path id="ery28" d="M155.4 67.6h0m-2 1.7h0m-.8 2.1h0m-2.1 .3h0m-1.5-2.5h0m-2.8 .4h0m-1.4 1.7h0m-5.5 3.3h0m.5-.7h0m.4 .1h0m5.9-.5h0m.5-1h0m.9 2.4h0m.7-1.6h0m1.7-.1h0m3.6-.6h0m1.9 .3h0m1.1 1.8h0m.9-.4h0m.1-2.3h0m-.2 5.8h0m-6.1-1h0m-6.5 .6h0m-1.1-.2h0m-4.9 .2h0m-.8-1h0m-1.1-.2h0m.5 2.7h0m1.9-.1h0m.2-.2h0m.3-.1h0m.2 .3h0m2.6 1.2h0m.4-.2h0m.4 .9h0m9.2-.3h0m0-.2h0m1.6 .3h0m1.2-.4h0m-4.9 2.7h0m-2.9-.2h0m-2-1.4h0m-1.9-.2h0m-9.6 2.6h0m-.4 1.3h0m4.3 1.7h0m2.1-1.6h0m2.1 1.8h0m.2-1.1h0m1.2-.9h0m2.6 .4h0m-6.7 2.1h0"/><path id="ery29" d="M146.8 68.4h0m3.3-.9h0m1.6-.9h0m4.9 4.5h0m-2.9-1.2h0m-2.9-.3h0m-5.2 1.9h0m4.9 1.7h0m1.7 .1h0m.9-.4h0m1.4 .9h0m2.6 1.1h0m.8-2.5h0m.1 2.2h0m-1.3 2.8h0m0-.9h0m-3.1-1.4h0m-.1 2.2h0m-6-2.3h0m-.2 1h0m-.7 1.3h0m-7.4-1.1h0m-.5 1.7h0m-3.3-.9h0m-.2-.6h0m2.7 4.3h0m3.4-.6h0m0-1.7h0m4.8 .1h0m2.8 .4h0m7.9-.5h0m-2.8 3h0m0-.1h0m-4.7 1.5h0m-1.3 .8h0m-3.9-2.1h0m-3.1-.2h0m-2.4 1.1h0m-.2 .6h0m-.2-1.8h0m-3.8 2.7h0m-1.3-.6h0m2 2.2h0m4.2-.2h0m1.8-.9h0m.4 0h0m.6 2.5h0m.6-2.2h0m.4 1.3h0m1.3-.2h0m1.5-1.1h0m3.3-.6h0"/><path id="hbb0" d="M131.7 74.1h0m1.3 1.1h0m-.3 .5h0"/><path id="hbb1" d="M127.9 69.5h0m4.6 5.7h0m-.6 .2h0"/><path id="hbb2" d="M131.5 74.8h0m2.6 .3h0m-2.9 0h0"/><path id="hbb3" d="M130.4 71.3h0m-.1 1.4h0m1 1.1h0"/><path id="hbb4" d="M126.1 68h0m6.1 7.6h0m-.3 2h0"/><path id="hbb5" d="M128.6 70.6h0m-1-.5h0m7.2 4h0"/><path id="hbb6" d="M128.8 71.5h0m4.3 1.8h0m-1.2 4.1h0"/><path id="hbb7" d="M128.8 70.3h0m-1.1 0h0m3.5 3.9h0"/><path id="hbb8" d="M130.3 71.2h0m1.4 2.9h0m.7 0h0"/><path id="hbb9" d="M131.7 72.1h0m.8 2.5h0m-.2 2.6h0"/><path id="dbl0" d="M163.1 79.8h0"/><path id="dbl1" d="M161.3 79h0"/><path id="dbl2" d="M158.8 77.4h0"/><path id="dbl3" d="M161.7 79.5h0"/><path id="dbl4" d="M161.4 79.3h0"/><path id="dbl5" d="M159.2 77.3h0"/><path id="dbl6" d="M163.3 79.6h0"/><path id="dbl7" d="M161.7 79.3h0"/><path id="dbl8" d=""/><path id="dbl9" d=""/><path id="ery10" d="M130.1 86.6h0m3.8-.6h0m.2-.2h0m3-1.1h0m-1.2 3.7h0m-.8 .2h0m-5.4 1.1h0m-2.2-1.7h0m-2 .1h0m.2 2.2h0m2.5-.2h0m4.9 .3h0m-10.1 4.9h0m-.7-1.9h0m-.4-.4h0m-.9 1.8h0m-8.3-.2h0m-1.4 .5h0m-5.4 3.4h0m4.4 0h0m3-1.8h0m-.9 3h0m-2.8 .2h0m-5.3 1.3h0m-.9-.9h0m6.5 2.3h0"/><path id="ery11" d="M132 85.5h0m3.9 3.4h0m-11.3-.1h0m-.6 .6h0m-1.7 .4h0m-.2-.7h0m1.6 1h0m5.9 1.9h0m1.1 .7h0m.2-2.1h0m3 0h0m-11.2 5.3h0m-12.1 3h0m4.8-2.7h0m0 .5h0m1.2-.5h0m-3.7 4.8h0m-4.3 .5h0m-3.3 1h0m.4 2.4h0m2.7-2.9h0m.7 2.8h0m2.2-2.4h0m.6 .4h0m-5.8 3.9h0m0-.2h0"/><path id="ery12" d="M132.1 86.5h0m5.1 2.1h0m-2.2 1.1h0m-2.7-1.3h0m-1.5 .2h0m-.7 .6h0m-2.8-1.3h0m-9 3.6h0m.7 1.3h0m12.9-.6h0m-4.1 2.1h0m-8.9 .6h0m-5.6 .5h0m-.8 1.5h0m1 2h0m.3-2.1h0m.8 1.2h0m2.3-1.7h0m.6 .5h0m-12 4.6h0m-.9-1.4h0m-.8 1.6h0m4 .5h0m4.5 .6h0m1-.6h0m-5.4 2.9h0"/><path id="ery13" d="M130.2 86.5h0m2 .2h0m5.8 1h0m-4.7 .5h0m-1.7-.5h0m-1.7 1.5h0m-10.7 1.6h0m6.7-.6h0m.6 1.5h0m1.6 .9h0m5.9-1.8h0m0-.5h0m-5.9 3.1h0m-1.1 .2h0m-3.7-.5h0m-.3 .9h0m-14.5 4.8h0m9.7-.2h0m0-1.7h0m4.2-.3h0m-8.1 4.6h0m-10 .5h0m-.7-1.1h0m-.4 .7h0m1.3 2.8h0m3.8 0h0"/><path id="ery14" d="M128 86.2h0m1.2-.9h0m.5 .1h0m1 1.1h0m6.4-1.2h0m.9 1.4h0m-10.1 1.9h0m-11.5 4.2h0m1.6-1.3h0m.2 .3h0m1-1.4h0m6.9 1.4h0m4.6-1.6h0m-2.3 2.9h0m-6.5 1.6h0m-1.2-.3h0m-1-.1h0m-.5 0h0m-3 1.7h0m-2.9 4.2h0m-.1 .4h0m-8.8 2h0m1.4 1h0m.9 1.2h0m.5 0h0m3.7-1.9h0"/><path id="ery15" d="M131.8 85.6h0m1.2 1h0m-.9 1.2h0m0 1.6h0m-5.7-.7h0m-5.2 1.1h0m-3.5 1.3h0m1.1-.1h0m4.7 1.7h0m1.9-.5h0m8-1.2h0m-4.8 2.3h0m-1.6 .1h0m-2.4 .7h0m-7.4 1.3h0m-5.5 .4h0m-2.4 1h0m.4 1.1h0m3.2 .5h0m6.7-.2h0m-3.1 1.7h0m-11-.7h0m-.5 2.2h0m-.1 2.3h0m7.9-1.6h0m-6.3 2.9h0"/><path id="ery16" d="M128.1 85.9h0m.4 .7h0m2.5-1.6h0m5 .3h0m0 2.8h0m-5-.9h0m-2.9 1.5h0m-1.8 .2h0m-9.6 3.7h0m2.9-1.8h0m2.7-.7h0m3 .9h0m6.2-1h0m-3.9 3.7h0m-7.7 1.4h0m-.5 .4h0m-9.5 1.1h0m4.5 .6h0m7.1-.5h0m-10 5.1h0m-.9-1.8h0m-2.4 .2h0m-1.6-.4h0m-1.8 2.2h0m4.5 1.6h0m2.4-1.2h0"/><path id="ery17" d="M133.1 85h0m1.6 .4h0m1.3 .5h0m1 .5h0m-1.5 1.7h0m-1.2-.7h0m-1 .2h0m-2 2.2h0m-2.3-1.6h0m-.6 1.6h0m-.8-.8h0m-5.1 1.8h0m7.6 .3h0m-7 2h0m-5.3 .3h0m-1.4 1.8h0m-2.2 .6h0m-.5-1.5h0m-3.9 1.9h0m3.7 .1h0m4.5 .2h0m-5.1 4.5h0m-1.3-.5h0m-4.6 3h0m2 1.2h0m-3.3 1.6h0"/><path id="ery18" d="M129.7 86.5h0m4.5-2h0m4.2 2.4h0m-8.2 1.1h0m-12.1 4.5h0m.2-.1h0m6.5-2h0m.9 4.5h0m-4.5-.9h0m-3.8 1.8h0m0-.2h0m-8.8 1.5h0m3.4 1.1h0m9.4-.9h0m-7.7 4.4h0m-.6-.5h0m-.9-.6h0m-.8 .6h0m-1.2 0h0m-.1-1.6h0m-3.6 1.7h0m-1.2 .3h0m-2.1-.3h0m1.3 2h0m3.5-.1h0m2.5 .7h0"/><path id="ery19" d="M128.5 86.4h0m6.9-1.3h0m1.4 1.6h0m-3.5 3h0m-.8-.7h0m-1.8-1h0m-4.4-.5h0m-.6 1.2h0m-1.7 0h0m-4.4 2.9h0m8.3 .5h0m.9 .7h0m2.4-1.7h0m-9.3 1.9h0m-.1 1.9h0m-2.5-.3h0m-7.8 .6h0m-2.2 1.1h0m2.9 .5h0m2.1 .6h0m.3-.5h0m4 1.4h0m-6.7 1.2h0m-8.8 1.9h0m3.7 2.7h0m4.1-.3h0"/><path id="hspc10" d="M97.4 98.9h0m-2.1 1.7h0m-.5-1.6h0m0 .7h0m-2.6-.4h0m-5.5 4.7h0m.8-1.1h0m2.2 .8h0m.9-1.2h0m1.8-.3h0m3.9 0h0m3.5 1.5h0m-.2 2.9h0m-1.3 1.1h0m-1.6-.5h0m-.6 .2h0m-.2 .3h0m-1-1.1h0m-1.5 .4h0m-3.4-.5h0m-1.7-1.5h0m-2.3 .8h0m.1 3h0m1.4 .2h0m4.9 1.5h0m1-1.9h0m1 0h0m2-.2h0m2.7 1.7h0m1.8 3.7h0m-1.6-.9h0m-1.4-.4h0m-1.6-1.4h0m0 1.1h0m-4-.2h0m-1.7-.5h0m-.8 .6h0m-.7 1.7h0m-.7-.6h0m-1.9 .7h0m-.8-.9h0m-7.4 .2h0m-.2 1.4h0m3.8 1.3h0m3.6-.1h0m0-1.2h0m.7 1.9h0m1.1 .1h0m8.1-1.3h0m1.3 0h0m.5 0h0m2.9-1.2h0m.3 1.6h0m-1.2 3.2h0m-3.9-1h0m-10 1.1h0m-.1-1.1h0m-.1-.3h0m-.8-.4h0m-.2 .9h0m-2.9 1.3h0m-1.7-1.3h0m4.4 2h0m.1 1.6h0m6.6 .9h0m1.1-2.5h0m1.6 .5h0m1.7 1.4h0m2.3 .8h0m.8-2.3h0m-.2 3.6h0m-.6-.3h0m-.2 0h0m-2.1 .8h0m-2.1 .6h0m-.6-.8h0m-2.7-.2h0m-1.7 .1h0m-1.6 .7h0m-1.3-1.5h0"/><path id="hspc11" d="M95.1 98.5h0m2.5 2.6h0m-.9-.4h0m-1.3 .3h0m-1.7-1.9h0m-.5 1.2h0m-1.2-.3h0m-.1 .8h0m-4.2 .8h0m-1.5 1h0m1.9 1.2h0m2.2-.4h0m2.6 1.5h0m2.2-2.5h0m1.2 0h0m2.6-.3h0m3.8 4.2h0m-2.1 1.2h0m-2.3 .1h0m-1.1-.8h0m-4.2-.8h0m-.7 1.3h0m-.8-.4h0m-2.9 .6h0m-1.6-.9h0m-2.8 .9h0m-.4-.9h0m-.8 1.7h0m.2 .5h0m2.7-.1h0m1.9 0h0m0 .7h0m1.3 .1h0m3.4-.3h0m2.4-.2h0m3.2 1.7h0m2-1.5h0m.1 .9h0m.9-.9h0m-1.4 2.5h0m-3.4 .4h0m-3.4-.5h0m-1.2 0h0m-3-.2h0m-2.6 1.2h0m-.5-1.2h0m-.9 1.8h0m-.5-2.1h0m-.8 2.1h0m0-1.8h0m-5.1 4.4h0m.6 .9h0m1-1.9h0m.5-.8h0m5.6 2.4h0m1.3-1.1h0m4.6 1h0m2.1-.4h0m3-1.1h0m1.9 .4h0m2-.9h0m-.5 4.9h0m-7.2-2h0m-2.1 2.2h0m-.3-2.1h0m-.3-.1h0m-1.3 .6h0m-4.4 .4h0m-4.3-.3h0m-1.4 .6h0m7.7 4.3h0m2.8-2.2h0m1.4 .4h0m6.1-.4h0m1.3 2.4h0m-2.4 1.3h0m-1 1.1h0m-6.1-.4h0m-1.2-1.8h0m-1.3 1.1h0"/><path id="hspc12" d="M91.4 98.9h0m4.7 2.6h0m-.7-1.8h0m-.6 .6h0m-6.7 1.2h0m0 3h0m3.4-.5h0m2.4 .7h0m1.3-.5h0m.3-.2h0m1.8-.3h0m4.5-.8h0m-1.4 2.9h0m-.3 .2h0m-3.2 1.2h0m-3.1-.4h0m-.5 .2h0m-.1-1.9h0m-1.5 .1h0m-3.3 1.8h0m-3.2-1.9h0m-2.2 2.3h0m2.9 2.4h0m2.9 1h0m1.5-.8h0m.6 .7h0m.7-.1h0m2 .3h0m1.2-2.7h0m2.9 1.4h0m2 .1h0m.1 .3h0m1 .8h0m.6-2.7h0m.9 2.4h0m-4.7 1h0m-.3 2h0m-2.7-2.5h0m-1.5 1.1h0m-1.2 0h0m-1.4-1.1h0m-.1 2.5h0m-.7-1.9h0m-.2 1.1h0m-4.1-.3h0m-1.5 .5h0m-6.6 1.1h0m.3 .4h0m.2 .2h0m3.3 .6h0m6.8 .9h0m.3 .3h0m2.2-1.5h0m3 1.8h0m.7-.9h0m1.5 .2h0m.9 1.2h0m-3.5 1.2h0m-2.4-.7h0m-.4-.4h0m-5.1 1.7h0m0 .8h0m-4-1.6h0m-2.5 0h0m6.4 2.3h0m.1 1.4h0m.2-.5h0m.5 1.5h0m5.4-2.4h0m3.8 2.2h0m2.5-1.4h0m.7-.1h0m.8-.3h0m.8-.9h0m-1.7 4.3h0m-3-.5h0m-1.8 1.9h0m-1.6-.7h0m-6.1-1.3h0m1.6 2.3h0"/><path id="hspc13" d="M99.7 101.2h0m-3-1h0m-1.9-1.1h0m-3.6 1.7h0m-3.2 .8h0m-.1 .4h0m2 2.6h0m1.9-.2h0m.4-2.3h0m2.9 2.3h0m.2 .1h0m.5-.8h0m.2-.7h0m3.2 1h0m2.7 0h0m-4.3 1.1h0m-.2 1.3h0m-.3-1h0m-.2 .7h0m-3.2 .2h0m-1.3 .3h0m-5.7-1.5h0m-.5 .9h0m6.2 2.9h0m.1-.2h0m0-.3h0m1.2 2.3h0m3.6-1.5h0m1.3 .8h0m1 0h0m2.2 .5h0m.4 0h0m-.2 1.3h0m-1.3 0h0m-1 1.2h0m-4-.7h0m-.9-1.3h0m-4.8 1.6h0m-1.1-.4h0m-3 .6h0m-1.7-1.6h0m-2.5 .4h0m-1.1 1.7h0m-2.6-.1h0m-.7 2.6h0m3.2 1h0m3.3-2.5h0m1.3 2.5h0m3.5-.5h0m3 .5h0m3.2-.6h0m4.3 3.7h0m-2.2-1.9h0m-1.2 .5h0m-4.2-1.4h0m-.9 .2h0m-1.4 2.3h0m-1.1-.8h0m-.7-1.2h0m-1.4 .8h0m-4.8 .4h0m2.4 2.6h0m1.7 .1h0m2.9-.6h0m.9 2h0m2.2-1.4h0m.3-1.2h0m2.3 1.1h0m4.1-1.4h0m1 .2h0m-1 3h0m-1.4 .4h0m-.2-.5h0m-.8 2.1h0m-1.3-2.1h0m-2.6 .6h0m-4.1 1.5h0m-.1-1.7h0m-.2 .6h0m-2 0h0"/><path id="hspc14" d="M96.9 98.7h0m3.3 2.4h0m-1.2-1.4h0m-2 .5h0m-5.2-.9h0m-.5 .7h0m-1.9 .6h0m-2.1 1.1h0m-3 3.2h0m.6-2.9h0m.1 1.6h0m1.3 1.3h0m3.6-2.8h0m6.2 .3h0m4.3 .2h0m1.7 .4h0m-.8 3.2h0m-6.6-1h0m-5.6 1.9h0m-1.2 .3h0m-2.1-.5h0m-1.3-1.9h0m-2.9 5.7h0m9.7-1.6h0m.2-.3h0m3.6-.2h0m.6 1.9h0m.5 0h0m.6-2.2h0m0 2.5h0m4.8 1.2h0m-.6 .2h0m-5-.7h0m-5.8 1.9h0m-3.2-1.2h0m-3 1.6h0m-1.2 .1h0m-2.3-.3h0m1.7 2.9h0m2.3-1.1h0m.3-.1h0m1.1-.5h0m1 1.1h0m.3-1.1h0m.5 .3h0m0 .5h0m1.5 0h0m2.9-.1h0m2.6 .8h0m4.3-1.8h0m1.2 .9h0m-.1 4.4h0m-5.2 .1h0m-1.1-1.9h0m-1.7-.1h0m-2.4 1.9h0m-1.2-.1h0m-4.4-2h0m-2-.6h0m-3.7 .3h0m7.7 3.7h0m.9-.8h0m.5 .2h0m1.4 2h0m1.8-2.3h0m.9 1h0m.6-.9h0m5.7 2.4h0m.1-1.9h0m.7-.4h0m.1 .3h0m.8 1.9h0m-2.8 2h0m-1.5-.7h0m-2.7-.1h0m-.4 .4h0m-1.6-.7h0m-1.1 1.6h0m-.2 .6h0m-3.4-.9h0"/><path id="hspc15" d="M99.4 101.4h0m-.8-2.1h0m-6.1 .5h0m-1.3-.4h0m-1.3 1.3h0m-.8-.8h0m-3.5 2.5h0m1.2 1.5h0m3.3 0h0m1.6 .9h0m2.1-2.6h0m1 .4h0m2.7 .3h0m4.6 1.4h0m.6 0h0m-4.5 .7h0m-.3 1.9h0m-.3-.8h0m-4 0h0m-.9 .7h0m-8.1-.2h0m-.7-.3h0m-.1 2h0m4.7 1.5h0m.2 1h0m6.1-1.9h0m2.1 .6h0m.3-1.5h0m2 .1h0m2.1 .5h0m.6 1.9h0m-4.1 1.5h0m-.5 1h0m-5.7 .9h0m-.7-.4h0m-1 .1h0m-4.4-1.4h0m-1.7-.6h0m-4.2 1.2h0m-2.3 1.2h0m2.8 2.8h0m1.6-1.8h0m6.9 1.8h0m.8-2.4h0m.6 2.2h0m2-1.3h0m.3-.5h0m1.3 .6h0m2.6 .9h0m.3-1.9h0m.6 1.2h0m3.3 2.2h0m-.7 .7h0m-1.7-1.1h0m-1-.2h0m-.6 .6h0m-.2-.5h0m-4.8-.2h0m-.3 1.1h0m-1.4 1.7h0m-2.5-2.3h0m-1.9 2.3h0m-1.6-2.8h0m-1.4 2.8h0m-.3-2.3h0m-2.6 1.6h0m2 .9h0m1.2 .7h0m3.3 .2h0m6.7 .8h0m1-.3h0m3.8-1.5h0m1 1.2h0m1.8-.4h0m-2 3.1h0m-4.4-.7h0m-4 1h0m-1.8 .8h0m-.9 .3h0m-2.3-1.9h0"/><path id="hspc16" d="M96 98.5h0m4.8 2.3h0m-.9-.9h0m-2.3 .5h0m0 .7h0m-1.5-1.9h0m-.7 .7h0m-7.8 .7h0m-3.4 2.9h0m.6-1.3h0m2.6 2.7h0m4-1.9h0m1.6 .5h0m0-1.1h0m7 .4h0m.4 .2h0m0 3.6h0m-.4-.6h0m-2.9 .2h0m-1.7 1.3h0m-.6-1.4h0m-.6 .1h0m-2.1-.9h0m-2.7-.2h0m-.5 .7h0m-2.5 .2h0m-1.3 1.6h0m-.7 .3h0m-.2-.5h0m-.2-2.4h0m-.6 3.9h0m6.5-.6h0m2.1 1.3h0m2.5-.6h0m3 .8h0m.4-.5h0m.4-1.1h0m1.4 2.6h0m2.2-1.7h0m-5.3 2h0m-3.5 1.4h0m-5.2 .8h0m-2.3-.5h0m-2-.1h0m-1.6-1.5h0m-.8 5.2h0m.4-2.4h0m2.4 1.2h0m3.2 .7h0m2.6 .7h0m.8-1h0m2.5-.7h0m6.6-.5h0m.7 1.8h0m-1.3 1.7h0m-.7-.9h0m-1.1 1.9h0m-6.4-1.8h0m-.6 1.4h0m-.8 .2h0m-.2 .3h0m-.8-.2h0m-1.8-1.8h0m-3.2 .4h0m-1.2 2.2h0m2.4 3h0m.3-.2h0m4.2-.5h0m2-.7h0m1.3 .6h0m1.7-1.7h0m1.6 2.7h0m2.8-2h0m.3 .1h0m-.6 3.1h0m-.9 1.2h0m-4-.4h0m-2.8-.6h0m-1.1 1.2h0m-4.3-2.1h0"/><path id="hspc17" d="M95.6 98.8h0m3.4 2.4h0m-.9-1.6h0m-2.8 .5h0m-.6 .8h0m-8 .5h0m-1.1 .4h0m.5 1.6h0m.1-.5h0m1 1.3h0m.9 0h0m4.8-1.6h0m2.5-.1h0m.4 1.7h0m6.9 .3h0m-.2 .6h0m-.8 2.8h0m-1.2-1.8h0m-.7-.3h0m-1.6 0h0m-1.5 .5h0m-2.9 .7h0m-2.2-1.2h0m-.8 1.4h0m-.1-.3h0m-2.8-1.3h0m-1.8-.3h0m-2.4-.3h0m-1.9 5.3h0m3.9-2.2h0m1.3 1h0m4.4-1h0m1.8 .2h0m3.6 2.5h0m.4-1.9h0m1.1 .8h0m2.1 2h0m-.5 .6h0m-8.4-1.1h0m-1 1.5h0m-2.6 .3h0m-1.1 .5h0m-.7-.6h0m-3.8-1.5h0m-2.7 1.7h0m-.2-.8h0m3.1 4.4h0m4.9-1.8h0m.4 .5h0m6.7-.3h0m2.9 1.6h0m2.2-1.3h0m-2.8 4.3h0m-.5-.4h0m-2.5-1.6h0m-1.8 .6h0m-.9 .8h0m-2.7 .7h0m-1.4-1.7h0m-1.7-.2h0m-3.1 2h0m-.8-1.9h0m-1.5-.8h0m4.1 4.3h0m4.2 1.1h0m.6 .1h0m6.1-1.9h0m.4 1.7h0m.1 0h0m.5-.2h0m.6 .2h0m1.2-.3h0m.4-.2h0m1.3 .1h0m-1.3 2.8h0m-4.8-1.5h0m-.9 .5h0m-5.3 1.7h0m-.4-2.3h0m-1.4 .1h0"/><path id="hspc18" d="M93.4 98.8h0m7.6 3h0m-7.1-2.1h0m-3.5 0h0m-.2 .2h0m-1.2 1.9h0m-.4-1.1h0m-1.9 .1h0m-.4 2.2h0m.2 1.3h0m1-2.3h0m.8 1.1h0m2.4-.4h0m3.6-.3h0m.1 .6h0m6.5 1.8h0m-1.2 2.3h0m-.6-1.8h0m-7.8 1.7h0m-1-.4h0m-1.2-.6h0m-2.6 .2h0m-1.1-.1h0m-1.8 1.7h0m6.4 .7h0m1.2 1.2h0m.3-1.6h0m1.2 .6h0m4.3-.5h0m.1 2.3h0m2.9-1h0m1.2 2.6h0m-3.4-.9h0m-1.8 .7h0m-6.4 1.2h0m-.1 .7h0m-9.6 2.9h0m4.1-2.6h0m1.4 1.6h0m1.3 1.1h0m.9-1.3h0m.8 1.2h0m.7-1.8h0m3.9 .7h0m.3-.8h0m4.6 .6h0m.2-.5h0m.2-.3h0m0 2.1h0m.3-.4h0m2.6-1.8h0m-1.5 4h0m-.8-1.5h0m-3.3 2.3h0m-2.8 .4h0m-.3-.1h0m-3.2-.2h0m-2.9-.7h0m-.1 .6h0m-1.5-.8h0m-1.3 .3h0m.7 2.2h0m.9 1h0m.7 0h0m.7 .3h0m.7-.8h0m.9-1.1h0m3.5 .8h0m.3 .4h0m.9 .1h0m.7 0h0m1.5 1.2h0m.6-2.6h0m2.3 .2h0m.1 .5h0m1.4 3.7h0m-2.7-1.5h0m-1.7-.2h0m-1.8 1h0m-2.9 1.5h0"/><path id="hspc19" d="M91.4 98.9h0m9.8 2.5h0m-1.9-2.4h0m-.7 2.5h0m-.8 .4h0m-1.1-.3h0m-.2 .1h0m-.7-1.1h0m-.2-1.6h0m-3.2 .1h0m-1.7 1.3h0m-5.9 2.3h0m1.1-.1h0m3.2-.4h0m1.5 1.5h0m1.9 .5h0m1-1.9h0m1.9-.2h0m1.6 .2h0m.3 2.2h0m.8-.6h0m1.6 .7h0m1.5-1.4h0m.5 2.7h0m-.6 .4h0m-3.1-1h0m-2.3 1.6h0m-1-1.9h0m-8.7 1.6h0m-3.6 3.2h0m1.9 0h0m4.5 .4h0m2-.2h0m1.8 .8h0m.6-2h0m1.5-.5h0m-.5 3.5h0m-1-.5h0m-.9 1.2h0m-1.5-1.2h0m-.3 2.6h0m-3.8-1.9h0m-2.9 1.2h0m-.1-1.6h0m-1.1 .1h0m-1.7 1.3h0m-.8-1h0m-2.1 1.3h0m2.5 3.4h0m1.3-.9h0m.7-.9h0m2.4 1.7h0m2.4-1.3h0m2.1 .4h0m.3-1.6h0m2.2 1h0m4 1.2h0m3.7-2.3h0m-1.8 5.1h0m-1.1-1h0m-.5 1.6h0m-4.5-1.7h0m-3-.7h0m-4.9 .4h0m-1.5 1.2h0m-.1 .4h0m-1.6-1.7h0m6.1 3.5h0m6 .1h0m1.6-.7h0m1.7-.5h0m2.9 .5h0m-1.5 4.7h0m-1.7-1.2h0m-2 1.4h0m-1-2.4h0m-2.3 1.4h0m-.1 .8h0m-1.3-.9h0m-2.5 .8h0"/><path id="hspc20" d="M76.1 119.2h0m-6.9-.5h0m-4.1 4.2h0m1.8-2.2h0m4.4 .3h0m.5-.2h0m4.8 .6h0m7.4 2.7h0m-2.2-1.1h0m-2.8 2.9h0m-.1-2.5h0m-8.9 .7h0m-3.5-.2h0m-.7 .3h0m-1.4-.2h0m-1 .3h0m3.7 3.5h0m1.1 .5h0m2.2-1h0m.4 1.4h0m.8-.9h0m1.4-1.6h0m3.5 2.1h0m0-1.1h0m.2 1.7h0m8-.4h0m-.2 .7h0m-.6 1.2h0m-1.1-.2h0m-2.6 1.1h0m-.7 .4h0m-1.3-.2h0m-2.1-1.9h0m-.8 1.3h0m-7.5-.5h0m5.2 1.9h0m.5 0h0m6 1.3h0"/><path id="hspc21" d="M78.1 119.7h0m-8.4-.9h0m-2 .8h0m-2.2 3h0m1.3-1.7h0m3 1.2h0m1.3-.7h0m4.2-.4h0m5.5 1.4h0m.9 0h0m.6 .1h0m.7 1.2h0m-3.2 1.6h0m-1.4-2h0m-2 1.7h0m-5.2-1.3h0m-1.6 1.1h0m-.9-.7h0m-.3 1.7h0m-4 .1h0m-.1-2.8h0m-.2 1.1h0m-.8 1.6h0m1.6 2.4h0m10.6-1.7h0m1.7 1.5h0m6.7-1h0m.5 .9h0m-1.6 1.9h0m-2.5 1.1h0m-2.5-1h0m-5-.1h0m-.3 .5h0m-7-1.1h0m10.7 3.4h0m3.2 .9h0m1.2-.9h0m.9-.4h0"/><path id="hspc22" d="M74.8 118.6h0m-1.8 .9h0m-2.3-.1h0m-.9 .4h0m-4.2 2.9h0m6.4-1.5h0m.1 1.5h0m9.7-.7h0m1 1.4h0m-2.4 2.5h0m-1.3-.1h0m-.7 .1h0m-.2-1.5h0m-.1 .9h0m-1 .3h0m-2.4-.6h0m-.9 .9h0m-2.2-1h0m-1.2-1h0m-4.2-.9h0m-.8 1.1h0m-.7-.2h0m-1.3-.8h0m3.5 5.2h0m.3-.5h0m.4-1.7h0m1.9 2.1h0m1.3-1.7h0m.7 .4h0m10.9-.7h0m-1.8 4.2h0m-.4-.3h0m-1.7 .2h0m-2.2 .1h0m-1.4-.8h0m-4.9 .5h0m-4.6-.7h0m8 4.1h0"/><path id="hspc23" d="M79.9 119.9h0m-5.9-1.4h0m1.2 3.6h0m3.5-.8h0m.3 .7h0m3.2-.5h0m.1 4.2h0m-3.1-2.5h0m-3.2 .1h0m-.1 2.5h0m-.2-.7h0m-3.2 .2h0m-2.3-.8h0m-1.6 .8h0m-.8-2.3h0m-.6 .3h0m-3.1 .5h0m-.2 .3h0m-.7 2.2h0m2.5 1.2h0m2-.9h0m.3 2.1h0m2.6 .1h0m.2-.3h0m6.9-2.3h0m.9 1.1h0m.7 .3h0m1-.3h0m.7 1.5h0m1.3-2.7h0m1.8 4.4h0m-1.7 .6h0m-11.2 0h0m-.1-1.4h0m-1.6-.7h0m0 3h0m2.2 .7h0m1.2 .9h0"/><path id="hspc24" d="M69.9 120.9h0m2.9 .1h0m1.8-.1h0m1.1 .1h0m1.9 0h0m3.4-.4h0m-.6 2.5h0m-.2 1.7h0m-2.9 .3h0m-.1-1.5h0m-6.5 1.9h0m-1.8-1.3h0m-4.8 2.4h0m3.8 1.3h0m3.1-1.8h0m10.2 .7h0m.4 1.1h0m.4-.5h0m.7 1.3h0m1.6 1.6h0m-2.9 .7h0m-2 0h0m-.3 .5h0m-.4-1.4h0m-.2 .2h0m-5.4 0h0m-.6 1.5h0m-1.2-.8h0m-.9 .3h0m-.3-.4h0m-1-1.4h0m-.6 1.8h0m-2.8-2h0m9.2 3.3h0m.6-.6h0m.9 1.7h0m2.1-.7h0m.4-.1h0"/><path id="hspc25" d="M76.8 118.6h0m-3.1 .4h0m-5.6 .1h0m-4.2 2.6h0m1.3 .4h0m2.9 0h0m2.9-1.3h0m5 1.3h0m3.3 .6h0m.1-2.4h0m.8 1.4h0m4.1 3.9h0m-4.2 .3h0m-3.7-1.5h0m-5.2 1.3h0m-1.6-1.2h0m-1.9-.2h0m-.4 .1h0m-.1 1.5h0m-1.8-1.5h0m-1-1.3h0m-.7 .1h0m3.8 4.3h0m2.7 .9h0m.3-.5h0m3.7-1.8h0m1 .6h0m3.5 .3h0m.2 1.2h0m.1-.7h0m5.1 2.2h0m-3.9 1.5h0m-.7-1.1h0m-1.1-.6h0m-1.2 1.9h0m-4.1 0h0m-3.5-1.1h0m-.5-1.2h0"/><path id="hspc26" d="M79.7 119.9h0m-4.2-1h0m-3.8 .2h0m-7.8 3.1h0m4.2-1.4h0m2.1 1.7h0m1.7-.8h0m6.4-.9h0m.9 .7h0m.8 1h0m4.6 2.4h0m-1.7-1.8h0m-1 1.8h0m-3.2-.2h0m-4.3-.5h0m-.6-1.2h0m-.9 2.7h0m-.6-.3h0m-2.8-1.6h0m-2.7-.3h0m-.4 3.1h0m1.4 .9h0m4.6-.1h0m2.5 .7h0m.3 .1h0m.9-1.3h0m.9 .6h0m4.4-1.1h0m1.1-.1h0m-2.4 4.6h0m-1.4 .7h0m-.1-1.6h0m-3.4 .8h0m-.9-1.4h0m-.7 .2h0m-2.5-.1h0m-5.7-.5h0m9.3 4.3h0"/><path id="hspc27" d="M78 119.7h0m-.4 .1h0m-9.3 1.7h0m1.1 .3h0m2.2-.1h0m.1-1.1h0m7.1-.2h0m1.1 2.2h0m.8-1.6h0m-.6 3.4h0m-3.6 1h0m-.3-.1h0m-.9-1.7h0m-2.3-.5h0m-3.3 .6h0m-.9 .2h0m-.3-.8h0m-4.7 2.3h0m.6 2.6h0m5.7-1h0m3.5 1.4h0m.4 .1h0m1-1.3h0m.5 1.1h0m.2-1.7h0m4.2-.5h0m3.7 2.3h0m.2-2.4h0m-1.2 3.3h0m-1.5 .4h0m-.1 1.6h0m-1.4-1.8h0m-3.9 1.3h0m-4.5 .8h0m-3.3-1.1h0m-1.5-1.2h0m-.1 1.8h0m10.3 1.4h0"/><path id="hspc28" d="M79.7 119.8h0m-7.2-.4h0m0-.2h0m-4.9 2h0m1.6 1h0m4.1-1.2h0m.3 .3h0m1.5 .8h0m3.3 1.8h0m-1.8 .1h0m-4.2 1.7h0m-.1-1.3h0m-1.3-.2h0m-1-.9h0m-3.2 2.4h0m-.5-1.8h0m-.2-.6h0m-1.7 .2h0m-.5 3.2h0m.1-.1h0m1.6-.6h0m1.8 2.7h0m1.1-1h0m.5 .1h0m.2-1.1h0m1.3 .9h0m1.2-.1h0m2 .4h0m.1-.3h0m1.2 .3h0m2.2-1.2h0m.7 .8h0m1.5 1.2h0m1-.2h0m-1.7 2.8h0m-5.7 .2h0m-5.2-2.5h0m3.6 3.5h0"/><path id="hspc29" d="M77.1 119.8h0m-1.8-.3h0m-.2-1.6h0m-.6 1.6h0m-7.6 .4h0m-3.2 2h0m2.4-1.6h0m1.1 2.4h0m.6-1.2h0m.6-.8h0m2.1 1.4h0m2-2.1h0m1.5 2.7h0m1.2-1.7h0m3.8 1.6h0m1.4 .3h0m2.2 .8h0m-6.8-.6h0m-2.8 2.2h0m-7.8 .8h0m.4 1.2h0m1.6-.7h0m2.7 2.1h0m.8-.5h0m3.1-.5h0m.8 1.1h0m0-1.2h0m2-1.4h0m2 .3h0m5.5 .6h0m.9 .7h0m-2.1 3.4h0m-3.9-1.7h0m-10.1 1.1h0m-1.8-1.6h0m-1.8 .8h0m5.9 2.2h0m.2 .3h0"/><path id="phagL0" d="M99.4 125.8h0m-5.6 3h0m1.3-1.3h0m5.6-.5h0m1 1.2h0m2.7 .2h0m-.8 2.6h0m-2.8-1.4h0m-.9 .4h0m-.5 1.7h0m-.8-2.3h0m-7 2.3h0m-1.8-2.4h0m-.5 2.6h0m5 .4h0m.7 1.8h0m2.1-1.5h0m2-.2h0m1.5 1.9h0m.9-1.8h0m1.4-.5h0m-2.7 3.2h0"/><path id="phagL1" d="M90 128.8h0m1.2-.2h0m.4 .2h0m5.2-2h0m1.2 1.1h0m2.8 1h0m.9-2h0m2.5 3.6h0m-2.5-.3h0m-6.8 1h0m-6.4-1h0m-.3 1h0m-.3-.8h0m1.3 2h0m2 .4h0m3.5-.1h0m.1-.5h0m.5 1.6h0m2.5-.1h0m.5 .9h0m1.1-1.4h0m4.5-1.1h0"/><path id="phagL2" d="M89.3 128h0m.4-.2h0m4.4 .5h0m1-.8h0m0 .7h0m1.5-.2h0m2.1-.6h0m.3 1.3h0m3.9-.6h0m-2.8 3h0m-1.4-.2h0m-1.5-.5h0m-.9 .3h0m-1.5-1.1h0m-1.1 .3h0m-1.5-.1h0m-1.6 2.5h0m3.5 .2h0m1.5 .9h0m1.1-.4h0m5.6 2h0m-.2 .6h0"/><path id="phagL3" d="M87.9 128.5h0m5.2 .3h0m1.6-1.3h0m.3 .3h0m4.2 .6h0m1.6-.8h0m4.1 1.2h0m-.8 1.9h0m-2.3-.2h0m-.5 .9h0m-1.2-.2h0m-.5-.7h0m-5.5 .8h0m-1 .1h0m-.4-.8h0m-.9-.3h0m-.1-1.1h0m-.3 .9h0m-1.5 1.6h0m-2.2-.4h0m6.2 .9h0m4.1 2.5h0"/><path id="phagL4" d="M95.4 128h0m1.2 .6h0m4.2-1.3h0m3.7 1.1h0m-2.7 2.9h0m0-1.8h0m-1.4 1h0m-2.3 1h0m-.8-2.2h0m-.5 .3h0m-3-.4h0m-.5-.1h0m-2.7 .8h0m-.1 1.8h0m-1.6-1h0m-1.1 .2h0m5.3 2.5h0m1.3-.7h0m2.2-.5h0m3.5 2.5h0m.4 .1h0m1.4 .5h0"/><path id="phagL5" d="M90.3 128.2h0m9.8 .7h0m.2-1.8h0m.5 .7h0m.4 0h0m1.6 2.8h0m-5.6-1.4h0m-2.7 .2h0m-5.6 1.4h0m-1.5-1.8h0m-.4 1.4h0m2.9 2h0m.8 .8h0m2-.5h0m.7 .2h0m1.5-.6h0m.2 .3h0m1.5 .3h0m5.7 1h0m0-.9h0m.5 .6h0m-3.7 1.5h0"/><path id="phagL6" d="M87.2 128.4h0m.3-.2h0m11.2-.4h0m.2-1.4h0m3.9 5.4h0m-1-2.1h0m-1.7 .6h0m0-.4h0m-2.8 1h0m-4.4-1.2h0m-.1 2h0m-1.1-1.2h0m-.1-.8h0m-1.1 0h0m-.3 .9h0m.5 2h0m7.6 2.1h0m1.9-1.5h0m.3 .7h0m1-1.5h0m1.1 1.1h0m1-1.5h0"/><path id="phagL7" d="M87.7 128.5h0m3.6 .3h0m4-1.7h0m2.1 1.5h0m1.5-1.8h0m1.2-.7h0m.1 .9h0m4.4 2.7h0m-.9 2h0m-1.5-.7h0m-.1-1.4h0m-3.3 1.3h0m-.8-.1h0m-10.3-1.5h0m-1.4-.3h0m2.8 3.5h0m2 .6h0m5.1-.3h0m0 0h0m5.8 .1h0m1.9-.1h0m.4-.7h0"/><path id="phagL8" d="M86.4 127.7h0m10.8-.4h0m4 1.3h0m3.3 2h0m-2.6 .9h0m-.3 .1h0m-1.2-2.4h0m-.9 1.4h0m-.8 .7h0m-2.5-.2h0m-.5-.3h0m-5.9 .4h0m2.1 1.4h0m1.4-.4h0m2.4 1.9h0m1.5-1.1h0m.6 .4h0m3.2 1.4h0m0-2.5h0m.4 1.8h0m.7-.3h0m-1.3 1.4h0"/><path id="phagL9" d="M90.4 128.3h0m.8-.3h0m3.6-.3h0m2.9-1.2h0m3.9 .4h0m.1 1h0m0 .2h0m2.9 2.2h0m-1.4 0h0m-2.7 .8h0m-2.9-1.6h0m-.6 .7h0m-4.6-1h0m-.5 2.6h0m-.8-.4h0m-4.1-.9h0m9.2 4.1h0m1.6-.4h0m.6 .7h0m.8-2.2h0m2.5 .6h0m.7 1.3h0"/><path id="phagR0" d="M109.1 128.9h0m1.2-1.3h0m4.9-1.4h0m1.8 5.4h0m-3.5-.5h0m0 .7h0m-.4-.8h0m-.1-.4h0m-.2-.3h0m-.6 1.2h0m-1-2.1h0m-1.4 .5h0m-1.9 1.2h0m2.5 1.1h0m1.4-.2h0"/><path id="phagR1" d="M112.9 127.5h0m2-1h0m.5 4.5h0m-.9-.4h0m-1.7-.8h0m-1 .2h0m-.7-.6h0m-1.7 2.5h0m-.7-1.5h0m-.7 .2h0m-3.1 1.3h0m-.2-.2h0m1.1 1.1h0m2-.6h0m6.2 1.2h0"/><path id="phagR2" d="M114.3 125.8h0m-6 3.1h0m2.4-.1h0m3.5-2.3h0m.9 1.7h0m3.5 2.5h0m-.6-.1h0m-1-.1h0m-4.4-.2h0m-2.5 .4h0m-.3 .3h0m-2.6-2h0m-1.9 4h0m.4 .4h0m3.3-.7h0"/><path id="phagR3" d="M108.9 128.1h0m.5 .5h0m5.4-2.3h0m.8 .9h0m.3 1.1h0m1.3 .7h0m-.1 1.5h0m-.4-1.2h0m-1.9 .1h0m-.3 1.9h0m-4.6 0h0m-.9 .4h0m-3.2-1.1h0m1.3 1.9h0m8.3 0h0"/><path id="phagR4" d="M105.6 128.9h0m4.2-.1h0m.8-.5h0m2.7 0h0m1.5-1.5h0m.9 1.3h0m0-.4h0m1.7 3.3h0m-2.5-2h0m-1.1 .9h0m-3.2 1h0m-1.7 .2h0m-1.8 .3h0m-.9 1.1h0m2.4 .3h0"/><path id="phagR5" d="M109.2 127.9h0m1.3 .5h0m2.4-1.7h0m.5 2.2h0m.7-.3h0m2.2 2h0m-2 .6h0m-2.7-.1h0m-.6-1.4h0m-4.7 1h0m-.8 .1h0m-.3-1.7h0m-.3 .4h0m2.2 2.8h0m5.8 .6h0"/><path id="phagR6" d="M107.6 128.7h0m2.2-1.7h0m0 1.5h0m1.9-1.2h0m.1-1h0m2.5 .6h0m1.6-.2h0m2 4.3h0m-5.9-.8h0m-1.3-1.1h0m-1.2 2.3h0m-1-1.1h0m-4.1 3.4h0m11-.3h0m.2-.4h0"/><path id="phagR7" d="M108.8 128.3h0m1 .6h0m1.7-1.4h0m.8-.6h0m1.7 .3h0m1.9 2h0m-.7 1h0m0-.8h0m-1.4-.2h0m-5.1 1.5h0m-.2 0h0m-3.4 .5h0m5.6 1.7h0m5-.4h0m1.2-.5h0"/><path id="phagR8" d="M111.1 128.1h0m.5-.6h0m.2 0h0m.2-.8h0m3 2h0m1.2 .7h0m-2.6 2.2h0m-.2-2.1h0m-4.8 .8h0m-2.6-.8h0m-.2 3h0m6.5 .4h0m.8-.6h0m1.9 .2h0m.1-.5h0"/><path id="phagR9" d="M111.7 127.3h0m.5 .5h0m.5-1.2h0m1.8 1h0m1.9 1h0m2 3.1h0m-2.5-2.6h0m-1.4 2.6h0m-2.7-.4h0m-4.4 0h0m-.4 .3h0m-2.2 0h0m.2 2.1h0m1.2-.8h0m9.3-.4h0"/><path id="lymO0" d="M89.3 136.8h0m-.8-.1h0m-1.7-.5h0m-7.4 1.5h0m3.7 2.1h0m3.1 .5h0m1.9-1.4h0m3.9-.6h0m4.4 1.9h0m12.7 3.2h0m-12.4-1.2h0m-1.2 .3h0m-.7 0h0m-3.4-1.1h0m-5.7-.1h0m-2.9 1.8h0m6.8 3.3h0m.5-1.7h0m2.9 2.1h0m2-.9h0m6-1.5h0m2 2.5h0m.1-1.6h0m.1 .9h0m.2-1.5h0m3.4 .4h0m.1 1.5h0m.1-2.6h0m.9 2.6h0m.4-2.2h0m1.7 3.2h0m-3.1 1h0m-1-1.2h0m-.4 1h0m-7.4-1h0m-4.3 2.5h0m-5.7-2.9h0m1.5 4.3h0m4-1.3h0m7.4 .5h0m.5 .8h0m3.4 .3h0m2-.4h0m1.9-.1h0m1-.5h0m-2.8 2.7h0m-.7 1.5h0m-2.8-1.8h0m-3.7 .5h0m-2.7 1.4h0"/><path id="lymO1" d="M80.8 134.4h0m8 2.9h0m-1.5-2.3h0m-.1 2.9h0m-.6-.2h0m-4.1 .4h0m4.2 1.5h0m.9 .1h0m1.7 .4h0m6.3-.2h0m1.8-1.3h0m1.9 .2h0m8.8 4.6h0m-.9-.6h0m-1.9 1.1h0m-2.1-2.7h0m-.3 2.7h0m-2.8-2h0m-.8 1.8h0m-3.1-.9h0m-2.3 .6h0m-3.9-2.1h0m-4.5 2.2h0m-2.7 .2h0m3.8 1.6h0m1.1 0h0m5.3 1.5h0m.6-2.8h0m7.4 .1h0m1.3 1.6h0m1.6 .1h0m1.3 .1h0m1.8-1.8h0m1.8 .2h0m1.2 3.5h0m-5.3 .7h0m-.8 .7h0m-5.9-.1h0m-9 2.6h0m2.6-.7h0m4.6-.6h0m1.6 1.4h0m1.6-.1h0m2.6-.3h0m2.2-.4h0m.2 1.6h0m5.5-.9h0m-5.1 1.4h0m-4.4 1h0m-4.1-.9h0"/><path id="lymO2" d="M87.6 136.2h0m-7.6 .1h0m.6 3.2h0m.9-1.1h0m.5 1.2h0m.3 .5h0m1.3-.4h0m.1-.8h0m.2 1.6h0m9.6-.1h0m.9 0h0m11.3 1.6h0m-.2 .2h0m-4.5 .6h0m-3.9-.9h0m-1.9-.1h0m-.3-.5h0m-3.1 2.3h0m-3.5-2h0m-4.2 1.7h0m0 1.8h0m5.9 1.7h0m2.1-1.3h0m.5 .9h0m2.7-1.3h0m4.6 1.8h0m1.7-2.2h0m.9 .6h0m1.4 1h0m.3-2.1h0m1.3 .9h0m2.1 .2h0m-1.8 2.2h0m-1.3-.1h0m-.1-.1h0m-5 .6h0m-.4 1.2h0m-9.7-.7h0m-3-.9h0m6.4 3.4h0m1 1.1h0m.7-.5h0m4.9 .7h0m2.3 .5h0m1.6-2.3h0m4.3 1.3h0m-3.4 2.2h0m-.2 1.7h0m-.5 .1h0m-5.6-.7h0"/><path id="lymO3" d="M82.9 133.9h0m2.7 1h0m10.3 3h0m-14.8-.8h0m-.4 2.1h0m.7 1.5h0m4.2-.8h0m7.5 1h0m1.4-2.8h0m8.3 2.7h0m1.7 .1h0m1.9 1.6h0m-1 .4h0m-.1 .2h0m-4-1.9h0m-.4 2.1h0m-.6-1.9h0m-4.2 1.6h0m-.4-1.3h0m-3.1 1.7h0m-3.3-1.3h0m-5 .9h0m-2.8 .5h0m5.6 2.6h0m3.4-1.5h0m1.2-.1h0m2 1h0m.3-.3h0m16.2 1.8h0m-.1 1.9h0m-.2-1.1h0m-6.1 1.9h0m-3.4-1h0m-5 .9h0m-.7-.5h0m-4.7 .8h0m.2 2.5h0m.1-1.5h0m1 1.7h0m3.9-2.2h0m.4 1.9h0m4.5-1.6h0m.7 1h0m.5-1.3h0m5 .6h0m-8.4 2h0m-1.4 1.8h0m-1-1h0m-1.8 1h0m-1.2-1.3h0"/><path id="lymO4" d="M86.5 134.8h0m2.6 .6h0m-.8 1.7h0m-5.2-1.8h0m-2 1.9h0m-1.7 .8h0m2 .1h0m3.9-.1h0m.8 1.7h0m4.6-1.6h0m1.4 2.4h0m2.2-2h0m1.6 .6h0m7.7 1.1h0m4.3 2h0m-8.4 .3h0m-.6 1.3h0m-1.5-1.4h0m-.2-.3h0m-.5 1h0m-6.7 .3h0m-2.3-1.9h0m-3.1-.5h0m-1 1.9h0m-.9-1.1h0m.6 3.5h0m5.4-1.1h0m1.6 1.1h0m8.5 1.2h0m2.5-1.7h0m1.8 2.1h0m.9-.7h0m5.5-.1h0m.6 1.2h0m-5.9 1.2h0m-12.4-.4h0m-1.5-.3h0m-1.9 1.9h0m5.4 3h0m5.4-2h0m1.9 1.8h0m.3-.8h0m1.7 .5h0m1.4-.2h0m3.2-1h0m-8.1 3.6h0m-.6 .6h0m-.7-2.2h0m-4.2 .2h0m-2.1 .5h0"/><path id="lymO5" d="M87.3 134.7h0m5.1 2.9h0m-3.7-2.2h0m-.7 .6h0m0 1.7h0m-1.6-.8h0m-1.9-1.4h0m-5.3 1.3h0m4.9 2.4h0m3.5-.2h0m2.3 .9h0m1.2-1.3h0m3.2-.6h0m4.3 1.5h0m3.8 4.2h0m-3.3-.5h0m-.1-1.7h0m-1.8 2.1h0m-2.4 .2h0m-1.3-2.2h0m-3.7 1.7h0m-2.5-.6h0m-2.5-1.1h0m-2.2 1.1h0m10.8 2.3h0m14.9 0h0m.1-.9h0m2.3 4.7h0m-6.1-1.2h0m-1.3 1.8h0m-2-1.7h0m-1.1 .9h0m-1.5 1h0m-.5-1.9h0m-.8 0h0m-.6 1.9h0m-3.9-.3h0m-.6 3.3h0m.1-2.2h0m2.2-.1h0m2.1 1.2h0m1.7-.5h0m6.5 1.3h0m1.6-1.4h0m1.1-.3h0m2.1 .8h0m1.1-1.2h0m-4.4 3.4h0m-8.9 1.4h0m-4.1-1.3h0"/><path id="lymO6" d="M80.8 134.3h0m5.9 3.2h0m-3.8-1.8h0m-2.5 1.9h0m-1.9 .2h0m2.1 1.9h0m.7-.8h0m3.6 .7h0m1.5-.3h0m.8 .5h0m8.9 .3h0m.5-1.2h0m1.6 1.4h0m.1 .3h0m.1-.6h0m4.6 .3h0m6.3 3.3h0m-1 .3h0m-.8-1h0m-2.2-.4h0m-5.2 .9h0m-1.6-1.9h0m-.7-.2h0m-2.9 2.3h0m-.1-.1h0m-5.2-2.3h0m-1.9 1.2h0m-.5-1.2h0m-3.3 4.5h0m1.1 .9h0m.5-.7h0m.5-.1h0m1-.5h0m.9 .1h0m3 1h0m7.5-1.1h0m9.8 3.6h0m-6.9 .1h0m-2.7-1.6h0m-1.4 .6h0m-6.2 1h0m-2-1.3h0m-3.1-.5h0m5.2 4.5h0m5.8 .6h0m5.3 .4h0m3.1 1.6h0m-3.4-.9h0m-.6 1.2h0m-5.6-.5h0"/><path id="lymO7" d="M83.9 134.6h0m12.8 3.2h0m-6.6-.4h0m-3.2-.8h0m-3.9-1.2h0m-.9 .5h0m.9 3.8h0m.8 1.2h0m3.2-.5h0m2-1.9h0m18.2 3.2h0m-4.8 1.3h0m-.8-.2h0m-.5 .6h0m-.1-1h0m-1.6 .8h0m-7.3-.8h0m-10.9-.1h0m5.5 3.4h0m1.1-.1h0m.5-.1h0m.1-.7h0m.3-.5h0m5.1 2.6h0m4.4-.5h0m2.8-.7h0m0-.6h0m1.5 1.8h0m.4-1.3h0m5.3 .7h0m1.9-.4h0m-.6 1.3h0m-7.8 0h0m-4.6 .1h0m-.9 1.8h0m-2-1.2h0m-.2-.7h0m-.4 1.2h0m-2 1.1h0m-2.6 1.5h0m8.6-.9h0m.1 1.8h0m5.2 .2h0m1.1 .8h0m1.2-2.5h0m3 2.9h0m-3.6 .2h0m-5.5 1.9h0m-2.7-.5h0m-.3-.2h0"/><path id="lymO8" d="M86.5 134.5h0m-.7 3.1h0m-3.7 1.1h0m.6 .8h0m.7 .3h0m.2 1h0m.8-1.6h0m2-.1h0m.7 1.6h0m.4-1.8h0m5.5 .7h0m2.5-.2h0m3.5-1.2h0m7.1 5h0m-1.6-.6h0m-3.3-.4h0m-2.8 1.2h0m-1.4-.2h0m-.7 0h0m-14.8-1.9h0m9.4 4.1h0m.8 .5h0m1-.6h0m.1-.1h0m3.9 1.6h0m2.4-1.3h0m4.6 1.2h0m0-2.3h0m5.3 1.5h0m1.2-.5h0m-7.3 3.7h0m-5-1.3h0m-.6 .9h0m-1.8 1h0m-.1-2.5h0m-4.4 2.6h0m4 1.2h0m2.1 1.2h0m.7-1.4h0m.5 .5h0m1.4 .9h0m.3-1h0m.5-1.2h0m2.2 2.8h0m3.2-2.3h0m1 1h0m-3.8 1.7h0m-7.6-.1h0m-2.1 1.3h0m-.3-.7h0"/><path id="lymO9" d="M89.8 136.4h0m-2.2-.6h0m-.2-.2h0m-1.2 .7h0m-1.2-.6h0m-1 2h0m-1.1 0h0m-2.7-2.3h0m4.8 4.9h0m4.4-.6h0m2.6 .5h0m3.7-1.7h0m10.7 4.9h0m-2 .3h0m-.1-2.1h0m-.2 1.6h0m-8.2-1h0m-3.8-.4h0m-3.2 .7h0m-.4-.3h0m-.1-.1h0m-.2-.1h0m-.2 .3h0m-.1 1.3h0m-7.2-1.5h0m7.7 4.6h0m8.8-.1h0m3.5-1.8h0m1.2 .9h0m.9 .9h0m4.3-2h0m-1.4 2.8h0m-11.8 2.4h0m-4.6-2.2h0m-.6-.5h0m0 1.6h0m1.4 1.6h0m.5 .8h0m13.6-.9h0m2.4 1.5h0m.7 .2h0m1.8-1.9h0m.4 .6h0m.7 1.1h0m-4.6 1.4h0m-2.2 1.2h0m-1.2-.1h0m-2.5-.9h0m-7.8 .1h0m-.2 .1h0"/><path id="lymI0" d="M88.6 144h0m2.3 1.1h0m5-.9h0m1.9 1.3h0m3.6 1.2h0m-.4 2.6h0m-.3-.5h0m-1 1h0m-5.3-.1h0"/><path id="lymI1" d="M87.6 142.6h0m13.8 4.7h0m-1.6 .2h0m-1.5 2h0m-6.9-.4h0m-1.1-.9h0m-.8-1.1h0m8.9 4h0m1.6-1h0"/><path id="lymI2" d="M92.3 143.6h0m-2.2 .9h0m.9 2.1h0m1.3-1.1h0m0 .8h0m3.8-1h0m3.1 1.4h0m-.2 1.4h0m-3 2.1h0"/><path id="lymI3" d="M90.9 144.4h0m.2 .1h0m1.6 1.5h0m2.5 .6h0m2.9-1.3h0m-3.1 3.6h0m-4.7-.3h0m6.7 2.4h0m2.9-.6h0"/><path id="lymI4" d="M90.7 143h0m7.3 3.9h0m4.6 1.5h0m-2 .9h0m-3.9-1.8h0m-3.5 2h0m2.5 1.7h0m1.2-1h0m2.7 .3h0"/><path id="lymI5" d="M89.8 144.6h0m2 2.3h0m6.2-2.5h0m3.8 2.1h0m1.7 .5h0m-.3 1.1h0m-2.7-.4h0m-2.7 1h0m-3.6-.7h0"/><path id="lymI6" d="M93.5 143.4h0m-4.4 1.6h0m1.7 1.8h0m2-2h0m2.2 .7h0m.3 .2h0m2.8-.2h0m3.5 .8h0m-6.6 4.1h0"/><path id="lymI7" d="M89.6 144.2h0m3.4 .4h0m3.1 1.5h0m8.1 2.1h0m-9.7 .3h0m-.9 .6h0m-1.3-.6h0m3.2 2.1h0m3.5-.1h0"/><path id="lymI8" d="M90.9 143.7h0m0-.4h0m-1.8 .2h0m-.3 .7h0m9.3 2.3h0m1.6-1.1h0m3.2 2.1h0m-9.9 .5h0m3.6 2.1h0"/><path id="lymI9" d="M92.7 144.6h0m2.4 .7h0m.5 1.3h0m.6-1.9h0m.6 .1h0m5.3 4.8h0m-7.5-.4h0m-.6-1.6h0m1.9 2.5h0"/><path id="neut0" d="M54.6 131.4h0m.1 3h0m0 .5h0m.3-1.9h0m.4 .5h0m4.4-.3h0m-4.5 2.5h0m-.4-.7h0m-1.2 0h0m-.3 .6h0m0 1.7h0m-2.9-1.4h0m-2.8 .8h0m-.3 .3h0m-2.7 3h0m2.8 .6h0m1.7-.3h0m.6 1.5h0m-.8 2h0m-3.6 .4h0"/><path id="neut1" d="M53.3 132.1h0m2.6 2.1h0m1.9 0h0m.2-.5h0m-2.5 1.6h0m-.9-.3h0m-1.1 2.3h0m-1.6-2.3h0m-3 2.4h0m-4.4 2.8h0m1.3-1.5h0m.3-.6h0m1.4 1.9h0m2.4-.9h0m4.4-.5h0m.7-.5h0m-6.3 4.6h0m-1.1-1.7h0m-1.9 1.6h0m-1.3 0h0"/><path id="neut2" d="M53.3 131.9h0m-.6 1.2h0m4.8-.7h0m2.1 0h0m-4.9 4.8h0m-2.5-2.1h0m-.7 2.6h0m-1.1-2h0m-.3-.1h0m-.8 .1h0m-6.5 4.3h0m2.7-.7h0m.5-.7h0m4.4 1.3h0m.3-.2h0m.5-.8h0m1.3-.3h0m-1.7 3.5h0m-.6 .2h0m-1.8-1h0"/><path id="neut3" d="M52.9 133.2h0m.9 1.5h0m.1-2.7h0m1 1.4h0m1.9 1.4h0m.4-.1h0m.2-2.6h0m.4 1.3h0m-7.3 4.3h0m-5.4 1.6h0m.9 .7h0m6-.9h0m.5 .7h0m.2 .6h0m.1-.8h0m1.2-1.4h0m-7 5.2h0m-2.9-.5h0m-.1-.5h0m.9 2.3h0"/><path id="neut4" d="M58.8 131.9h0m-2.7 1.7h0m1.7-.6h0m-1.6 3.9h0m-5.4 .2h0m-8.1 3.6h0m2-.7h0m.7 .5h0m2-1.2h0m.8-1h0m2.3 .7h0m1.3 1.8h0m-.7 1.2h0m-2.6 1.8h0m-.7-1.9h0m-.7-.7h0m-.8 2.4h0m-1.2 .8h0m.6 1.7h0m1.2 0h0"/><path id="neut5" d="M56.5 131.8h0m-5.1 2.4h0m2-1.2h0m1.5 1.8h0m1.2-1.3h0m3.3 0h0m.7-.6h0m-3.8 3.1h0m-13.8 4.8h0m4.9-.9h0m0-.2h0m2.1 1.1h0m.2-.2h0m2.3-.5h0m1.2-.9h0m-2.5 2h0m-1.5 .8h0m-.3 1.2h0m-.7 .4h0m-2.4 0h0"/><path id="neut6" d="M54.8 134.5h0m.1-2.5h0m.7 0h0m-.3 3.4h0m-.1 1h0m-.4-1.3h0m-.3 .8h0m0-.9h0m-.9 1.2h0m0-.1h0m-1.8 .5h0m-2.2-1.2h0m-2.8 2.3h0m-.9 .7h0m2.8 2.5h0m.5 0h0m.7-.8h0m3.1-.3h0m-5.2 3.6h0m-2.5-.3h0"/><path id="neut7" d="M57.9 131.6h0m-4.4 1h0m4.5-.1h0m-2.4 3.6h0m-.5 .3h0m-.9 1.3h0m-4.5-2.7h0m-1.1 1.2h0m-.5 1.7h0m-.1 0h0m-4.4 2.8h0m1.5-.7h0m.6 .6h0m2.2-2.3h0m0 1.9h0m1.6-1h0m2.8 .5h0m-2.4 2.9h0m-4.9 .1h0m2.3 2.6h0"/><path id="neut8" d="M56.5 131.4h0m-.5-.8h0m-1.3 4h0m3.9-.8h0m-1.4 1.4h0m-.6 1.1h0m-.8 1.2h0m-3.8-.1h0m-.5-1h0m-5.4 1.1h0m-3 3.2h0m5.9-2.2h0m1.6 2.9h0m-.5 .2h0m-.4 .3h0m-2.4 .3h0m-1.2 .3h0m-.8-1.5h0m-.8 .9h0m.6 3.4h0"/><path id="neut9" d="M50.3 134.5h0m4.9-1.9h0m.9 .7h0m1.1 1.4h0m.4 .7h0m-5 .3h0m-3 1.1h0m-.1-1.5h0m-1 2.2h0m-2.6 2.6h0m1-1.4h0m1.5 .6h0m.9-1.3h0m.4 1.6h0m1.9-.7h0m.7 1.2h0m.5-1.2h0m.7 .5h0m-5.2 3.4h0m-2.9 1.2h0"/><path id="nk0" d="M72.7 86.3h0m.4 .4h0m.7 0h0m.3-2.6h0m3.9 2.6h0m1.4 1.5h0m-2.2 .7h0m-2.8 3.1h0m2.1-1.3h0m2.9 2h0m-2.7 .4h0"/><path id="nk1" d="M71.1 83.7h0m-.5 2.6h0m2.8 .6h0m.4 .7h0m-1.6-.4h0m-.6 1.4h0m-.6-.8h0m4.3 3.5h0m.9 .9h0m3.3-.3h0m-1.4 1.4h0"/><path id="nk2" d="M75.6 86.9h0m3.7 .8h0m-.2 1.3h0m-.4-1.6h0m-2.1 2h0m-3.3 1.4h0m1.7-.1h0m.9 .8h0m.8 1.4h0m3.5-1.6h0m.1 1.2h0"/><path id="nk3" d="M73.4 84.7h0m-2.7 4.1h0m2.9 3.1h0m.1-1.2h0m0-.4h0m1.8 .3h0m1 .6h0m1.9 .9h0m.7-1.4h0m1.1 .8h0m-2.8 1.5h0"/><path id="nk4" d="M73.6 82.9h0m-2.3 1.3h0m2.2 2.3h0m1.2-1.6h0m-1.9 3h0m-.5-.7h0m-.3 1.3h0m4.3 2.8h0m.1-.1h0m.3-.1h0m.7 .8h0"/><path id="nk5" d="M71.6 86.5h0m7.5 2.1h0m-.2 .8h0m-1.2-.7h0m-4.1-.3h0m-.7-1.4h0m-2.1 1.7h0m4.2 1.9h0m2.7 2.2h0m.8-.8h0m.2-1.7h0"/><path id="nk6" d="M72.2 84.3h0m2.8 .8h0m1.9 1.7h0m2.1 2.3h0m-.7 .7h0m-5.9-.4h0m1.9 1.3h0m2.1 .1h0m1.9 1h0m2 .4h0m-1.6 1.2h0"/><path id="nk7" d="M75 83.9h0m.3 2h0m1.8 .9h0m1.3 .1h0m1.5 3h0m-5.7-2.7h0m-1.1 1.7h0m-2.2 1.2h0m6.1 2.6h0m3.6-1h0m.2 .8h0"/><path id="nk8" d="M72 83.6h0m-1.1 2.8h0m2 .3h0m.4-.5h0m5.6 1.1h0m-.6 2.2h0m-1.6-1.2h0m-.6 1.6h0m-4 1.3h0m.4 0h0m5.4 1.4h0"/><path id="nk9" d="M74.1 84.1h0m4.2 3.3h0m-.8 1.5h0m-3.7 .9h0m-1.3-1.7h0m-.9-.1h0m6.2 4h0m1.3-2h0m.2 1.1h0m.6 1.5h0m-3.1 1.3h0"/><path id="nkst0" d="M79 92.2h0m.1-1.5h0m2.2 .8h0m1.1 .6h0m6.1 1.8h0m-.1 .9h0m-.9-.6h0m-2.8-1h0"/><path id="nkst1" d="M80.5 92.8h0m2.7-.8h0m8.2 3.2h0m-3-.3h0m-1.8-1.4h0m-1.8 .5h0m-2.6-.2h0m7.3 2.4h0"/><path id="nkst2" d="M89.9 95.8h0m-2.2-1.8h0m-1 .5h0m-.5 1.2h0m-2-2.4h0m0 1.5h0m-2.5-1.3h0m13 3.8h0"/><path id="nkst3" d="M81.6 92.5h0m11.6 3h0m-3.4-.3h0m-.8-1h0m-.7 1h0m-.3 .1h0m-3.4-2.2h0m-.3 1.4h0"/><path id="nkst4" d="M81.5 92.5h0m.4-.2h0m1.8-.1h0m.5 .6h0m4.4 2.7h0m-.4-.3h0m-1.1-1.1h0m4.1 2.9h0"/><path id="nkst5" d="M79.8 92.4h0m.7 .4h0m2.1 .1h0m11.9 3h0m-10-1.1h0m-.2-.1h0m7.9 2.7h0m2.3-1.1h0"/><path id="nkst6" d="M83.5 92.2h0m4.1 1.8h0m-4.1 0h0m-1.8-.5h0m-1.1 0h0m6.8 2.5h0m5.9 1.8h0m1.1-.7h0"/><path id="nkst7" d="M80.6 91.3h0m.5 .3h0m11 3.7h0m-1.5-.7h0m-1.5 .2h0m-4.2-1.2h0m8.7 4.3h0m.1-1.7h0"/><path id="nkst8" d="M79.3 92.7h0m5.7 .2h0m6.1 1.5h0m-.9 1.1h0m-7.3-2.5h0m-.6 1.2h0m6.8 2.3h0m3-.5h0"/><path id="nkst9" d="M80.8 91.4h0m.9 1.3h0m2.8-.1h0m2.4 1.2h0m-.3 1h0m-.6 .9h0m1.2 .3h0m4.2 1.1h0"/><path id="tc0" d="M76.5 97.9h0m.6-1h0m.1 0h0m5.3-.2h0m.3 .1h0"/><path id="tc1" d="M78.7 95.1h0m-2.8 2.7h0m2.7-.8h0m3.6-.4h0m.3 .1h0"/><path id="tc2" d="M76.6 96.9h0m.5-.6h0m2.8 1.9h0m2 1h0m-.4 .2h0"/><path id="tc3" d="M77.8 95h0m-1.6 3.1h0m.5-1.4h0m3.7-.1h0m1.1 2.9h0"/><path id="tc4" d="M76.9 96.6h0m.2 .4h0m1.3 .8h0m.7-1.7h0m.9 2h0"/><path id="tc5" d="M77.9 95.9h0m-1.3 1.8h0m.6 .4h0m2.5-1.8h0"/><path id="tc6" d="M76.1 95.3h0m6.4 1.4h0m.5 .3h0m-3.5 2.3h0"/><path id="tc7" d="M78.9 96.3h0m.2 2.6h0m.6-2.3h0m2.2 3h0"/><path id="tc8" d="M76.4 96.9h0m3.4-.4h0m.3 2.2h0m.2-.4h0"/><path id="tc9" d="M77.6 95.3h0m-.6 2.1h0m3.3-.5h0m-1 2.6h0"/><path id="thr0" d="M111.8 91.8h0m.4-.1h0m.4 1.4h0"/><path id="thr1" d="M111.8 89.2h0m-1.6 0h0m1.4 2.4h0"/><path id="thr2" d="M108.9 90.1h0m1.9 2.7h0m.8 1.4h0"/><path id="thr3" d="M111.9 90.3h0m.7 1.7h0m-.5 1h0"/><path id="thr4" d="M110.7 89.6h0m.8 3h0m-.9 .6h0"/><path id="thr5" d="M109.8 91.4h0m.2-.6h0"/><path id="thr6" d="M110.6 89.2h0m2.2 2.9h0"/><path id="thr7" d="M109.7 91.2h0m1.9 1.4h0"/><path id="thr8" d="M111.4 89.9h0m-1.6 2.8h0"/><path id="thr9" d="M108.8 91.5h0m3.1 1.6h0"/><path id="fill0" d="M104.1 130.7h0m-10.9 .3h0m-9.1-1.1h0m-.4 .7h0m-.5 2.4h0m.7 .4h0m3.3 1h0m.3-2.3h0m11.9 .7h0m2.5 3.9h0m-1.7 1h0m-4.5-1.9h0m-3.4 .4h0m-1.7-.8h0m7.1 2.8h0"/><path id="fill1" d="M92.9 128.9h0m8.8 2.2h0m-8.9 .1h0m-4-.6h0m-3.4-1.1h0m-1.1-.3h0m4.7 3.7h0m7.4-.9h0m4.8 .1h0m3.3 2.3h0m1.2 0h0m.9 .9h0m-1.3 2.4h0m-12.6-.9h0m11.4 2.7h0"/><path id="fill2" d="M91 128.7h0m12.8 2.5h0m-9.3-1.8h0m-6.6 2.5h0m-1-.7h0m-.8-.5h0m-1.4 .8h0m-.3-.3h0m7.2 3h0m6.1 .7h0m1.4-1.7h0m5.2-.4h0m3.8 2.9h0m-4.3 1.9h0m-10.9-.8h0"/><path id="fill3" d="M99.8 127.5h0m2.9 2.3h0m-2.2 .4h0m-13.1-.8h0m-3.1 2h0m8.2 3.3h0m3.1-2.4h0m2.2 2.6h0m.3-1.8h0m6.5-.1h0m.9 4h0m-12.2-1.3h0m9.5 3.7h0m.4 .4h0m1.1-.5h0"/><path id="fill4" d="M103.7 130.4h0m-2.8-.6h0m-4.4 .2h0m-6.9 1.4h0m-.9-.6h0m-1.3 1h0m-.6 .2h0m4.4 2.1h0m4.1 .3h0m2.7-1.6h0m1.1 .5h0m1.2 .7h0m3.9 3.4h0m-1.5-.9h0m-.5 3h0"/><path id="fill5" d="M95.5 128.9h0m.7-.7h0m5 .4h0m-14 .4h0m-1.5 .5h0m-.9-.3h0m-1.1 3h0m2.3 1.2h0m1.7 .9h0m9.4 1.1h0m-6.3 1.3h0m-1-.4h0m-.4-.7h0m9.2 3.3h0m2 .2h0"/><path id="fill6" d="M100.3 127.6h0m-1.4 2.1h0m-13.8 1.2h0m3.1 3.3h0m2-.7h0m1-1.3h0m.9 1.3h0m1.4-1h0m.1 1.7h0m14.3 2.2h0m-3.8 .7h0m-.1-.8h0m-8.3-.1h0m.2 2.3h0m6.9-.3h0"/><path id="fill7" d="M99.9 130.1h0m-.4-1.1h0m-.3 1.3h0m-5.5-1.3h0m0 .7h0m-8.3 1.1h0m6.9 1.3h0m2.8 1.2h0m6.1 1.2h0m1.1 .3h0m2-.5h0m2.6 1.9h0m-8.4 0h0m-1 2.3h0m2.4 .5h0"/><path id="fill8" d="M99.5 130.3h0m-4.2 .7h0m-7.6-.4h0m-1.3-.3h0m-2.3-.3h0m1 3.7h0m2.5-.9h0m1.9 1.6h0m.1-1.5h0m6.3-.9h0m4.1 2.8h0m2.2-1.2h0m2.6 2.4h0m-7.4 1.5h0m6.1 .5h0"/><path id="fill9" d="M102.2 128.6h0m2 2.1h0m-2.9 .3h0m-8.8-.3h0m-6.9 .1h0m1.1 1.5h0m.2 .9h0m4.9-.7h0m.5 2.3h0m13.3-.5h0m-3.1 3.2h0m-2.6-1.3h0m-2.2-.5h0m.5 2.4h0m.6 .7h0"/><path id="fill20" d="M100.3 98.6h0m1-.3h0m3.9-.6h0m-1.3 2.9h0m-1-1.5h0m-2.2 2.3h0"/><path id="fill21" d="M106.9 94.8h0m-.7-1.7h0m-3.9 2.6h0m-2.7-.4h0m4.7 5.1h0m-.7-.8h0"/><path id="fill22" d="M107 95.1h0m-10.5 1.8h0m1.4 0h0m5.2-.9h0m-.6 3h0m-.6 .2h0"/><path id="fill23" d="M106.7 95.6h0m-1.7-1.6h0m-7 2.6h0m1.6 .5h0m5.5 .9h0m-1 1.8h0"/><path id="fill24" d="M101.9 94.8h0m-5.3 1.6h0m1.8 1.3h0m6.6-.5h0m.4 2.2h0m-6.2 .6h0"/><path id="fill25" d="M97.4 95.8h0m.8 .6h0m4.4 2.2h0m.9 .1h0m.1 .9h0m-5.3 1.4h0"/><path id="fill26" d="M101 94h0m-3.6 4.8h0m1.2-2.6h0m3.7 .6h0m-1.6 5h0m-2.3-1.6h0"/><path id="fill27" d="M104.7 94.6h0m-2.7 .7h0m2.9 .9h0m-4.1 5.2h0m-1.8-.5h0m-.1 0h0"/><path id="fill28" d="M106 95.5h0m-1.5-2h0m-5.3 1.8h0m5.3 1.8h0m2-.1h0m-6.8 3.2h0"/><path id="fill29" d="M104.1 94.3h0m-2.1-.5h0m.9 2.2h0m1.7 .7h0m.3 1h0m-2.4 2.1h0"/><path id="fill30" d="M103.9 107.2h0m-1.8-.4h0m-.2 8.2h0m2.4 1.3h0m4.4 2.6h0m-5.9 .8h0m.6 2.3h0"/><path id="fill31" d="M106.2 111.1h0m1.6 4.8h0m.3 1.3h0m-1.5 1h0m-3-.7h0m1.5 5.1h0m-2 3.8h0"/><path id="fill32" d="M106.7 109.6h0m-4.3 3.9h0m.4 1.1h0m4.3 2.7h0m-2.7 2.6h0m-.2 1.3h0m0 4.2h0"/><path id="fill33" d="M105.7 110.3h0m-1.3 5.6h0m2.5 3.3h0m-.2-1h0m-3.8 1.7h0m5.5 .2h0m-4.6 5.3h0"/><path id="fill34" d="M103 110.7h0m.9 .1h0m1.1-2.7h0m-1.4 5.6h0m.1 3.7h0m-.5 3.7h0m-.4 3.3h0"/><path id="fill35" d="M107.7 110.6h0m-.9 2.8h0m-.1 .9h0m-.5 3.2h0m-3.2 5.2h0m4.5-2.3h0m-4.2 6.4h0"/><path id="fill36" d="M103.8 109.5h0m3.1 3h0m-1.3 4.2h0m.6-.8h0m.4 2.5h0m-3.9 1.4h0m-.3-2.5h0"/><path id="fill37" d="M105.9 111.6h0m-2.6 2.6h0m6.4 2.9h0m-4.7 1.6h0m-2-.4h0m.3 2.2h0m3.5 2.3h0"/><path id="fill38" d="M103.5 108.5h0m2.1 .9h0m-1.9 3.1h0m1.1 6.4h0m.2 1.9h0m-1.7 3.1h0m-.5 2.6h0"/><path id="fill39" d="M105.3 110.4h0m-2.6 3.5h0m5.8 2.2h0m-2.6 3.4h0m-2.3-1.8h0m-1.8 1.6h0m.9 4.5h0"/></defs>
<rect x="0.5" y="0.5" width="519" height="616" fill="#fff" stroke="#000" stroke-width="1.2"/>
<text x="18" y="17.3" font-size="11.4" font-weight="bold">A</text>
<g transform="translate(0.00 0.00)" stroke="#ef8532" stroke-width="0.85" stroke-linecap="round"><use href="#my10"/><use href="#my11"/><use href="#my12"/><use href="#my13"/><use href="#my14"/><use href="#my15"/><use href="#my16"/><use href="#my17"/><use href="#my18"/><use href="#my19"/></g>
<g transform="translate(0.00 0.00)" stroke="#8a8a8a" stroke-width="0.85" stroke-linecap="round"><use href="#my20"/></g>
<g transform="translate(0.00 0.00)" stroke="#8a8a8a" stroke-width="0.85" stroke-linecap="round"><use href="#my30"/><use href="#my31"/><use href="#my32"/></g>
<g transform="translate(0.00 0.00)" stroke="#3040a0" stroke-width="0.85" stroke-linecap="round"><use href="#mono0"/><use href="#mono1"/><use href="#mono2"/><use href="#mono3"/><use href="#mono4"/><use href="#mono5"/><use href="#mono6"/><use href="#mono7"/><use href="#mono8"/><use href="#mono9"/></g>
<g transform="translate(0.00 0.00)" stroke="#4a6fc0" stroke-width="0.85" stroke-linecap="round"><use href="#monop0"/><use href="#monop1"/><use href="#monop2"/><use href="#monop3"/><use href="#monop4"/><use href="#monop5"/><use href="#monop6"/><use href="#monop7"/><use href="#monop8"/><use href="#monop9"/></g>
<g transform="translate(0.00 0.00)" stroke="#2a6f8a" stroke-width="0.85" stroke-linecap="round"><use href="#epcam0"/><use href="#epcam1"/><use href="#epcam2"/><use href="#epcam3"/><use href="#epcam4"/><use href="#epcam5"/><use href="#epcam6"/><use href="#epcam7"/><use href="#epcam8"/><use href="#epcam9"/></g>
<g transform="translate(0.00 0.00)" stroke="#e8351e" stroke-width="0.85" stroke-linecap="round"><use href="#ery20"/><use href="#ery21"/><use href="#ery22"/><use href="#ery23"/><use href="#ery24"/><use href="#ery25"/><use href="#ery26"/><use href="#ery27"/><use href="#ery28"/><use href="#ery29"/></g>
<g transform="translate(0.00 0.00)" stroke="#8a8a8a" stroke-width="0.85" stroke-linecap="round"><use href="#hbb0"/><use href="#hbb1"/><use href="#hbb2"/></g>
<g transform="translate(0.00 0.00)" stroke="#3a8ab0" stroke-width="0.85" stroke-linecap="round"><use href="#dbl0"/><use href="#dbl1"/><use href="#dbl2"/><use href="#dbl3"/><use href="#dbl4"/><use href="#dbl5"/><use href="#dbl6"/><use href="#dbl7"/><use href="#dbl8"/><use href="#dbl9"/></g>
<g transform="translate(0.00 0.00)" stroke="#b0301e" stroke-width="0.85" stroke-linecap="round"><use href="#ery10"/><use href="#ery11"/><use href="#ery12"/><use href="#ery13"/><use href="#ery14"/><use href="#ery15"/><use href="#ery16"/><use href="#ery17"/><use href="#ery18"/></g>
<g transform="translate(0.00 0.00)" stroke="#b64ab6" stroke-width="0.85" stroke-linecap="round"><use href="#hspc10"/><use href="#hspc11"/><use href="#hspc12"/><use href="#hspc13"/><use href="#hspc14"/><use href="#hspc15"/></g>
<g transform="translate(0.00 0.00)" stroke="#c9a028" stroke-width="0.85" stroke-linecap="round"><use href="#hspc20"/><use href="#hspc21"/><use href="#hspc22"/><use href="#hspc23"/><use href="#hspc24"/><use href="#hspc25"/><use href="#hspc26"/></g>
<g transform="translate(0.00 0.00)" stroke="#6aa84f" stroke-width="0.85" stroke-linecap="round"><use href="#phagL0"/><use href="#phagL1"/></g>
<g transform="translate(0.00 0.00)" stroke="#2a7a30" stroke-width="0.85" stroke-linecap="round"><use href="#phagR0"/><use href="#phagR1"/><use href="#phagR2"/><use href="#phagR3"/><use href="#phagR4"/><use href="#phagR5"/><use href="#phagR6"/></g>
<g transform="translate(0.00 0.00)" stroke="#86c04a" stroke-width="0.85" stroke-linecap="round"><use href="#lymO0"/><use href="#lymO1"/><use href="#lymO2"/></g>
<g transform="translate(0.00 0.00)" stroke="#5aaa44" stroke-width="0.85" stroke-linecap="round"><use href="#lymI0"/><use href="#lymI1"/><use href="#lymI2"/></g>
<g transform="translate(0.00 0.00)" stroke="#35a8e8" stroke-width="0.85" stroke-linecap="round"><use href="#neut0"/><use href="#neut1"/><use href="#neut2"/><use href="#neut3"/><use href="#neut4"/></g>
<g transform="translate(0.00 0.00)" stroke="#6a2aa0" stroke-width="0.85" stroke-linecap="round"><use href="#nk0"/><use href="#nk1"/><use href="#nk2"/><use href="#nk3"/><use href="#nk4"/><use href="#nk5"/><use href="#nk6"/><use href="#nk7"/><use href="#nk8"/><use href="#nk9"/></g>
<g transform="translate(0.00 0.00)" stroke="#a878c8" stroke-width="0.85" stroke-linecap="round"><use href="#nkst0"/><use href="#nkst1"/><use href="#nkst2"/><use href="#nkst3"/><use href="#nkst4"/></g>
<g transform="translate(0.00 0.00)" stroke="#30a070" stroke-width="0.85" stroke-linecap="round"><use href="#tc0"/><use href="#tc1"/><use href="#tc2"/><use href="#tc3"/><use href="#tc4"/><use href="#tc5"/><use href="#tc6"/><use href="#tc7"/><use href="#tc8"/><use href="#tc9"/></g>
<g transform="translate(0.00 0.00)" stroke="#a070c8" stroke-width="0.85" stroke-linecap="round"><use href="#thr0"/><use href="#thr1"/><use href="#thr2"/><use href="#thr3"/><use href="#thr4"/><use href="#thr5"/><use href="#thr6"/><use href="#thr7"/><use href="#thr8"/><use href="#thr9"/></g>
<g transform="translate(0.00 0.00)" stroke="#b050b0" stroke-width="0.85" stroke-linecap="round"><use href="#fill20"/></g>
<g transform="translate(0.00 0.00)" stroke="#c070c0" stroke-width="0.85" stroke-linecap="round"><use href="#fill30"/></g>
<path d="M92.3 80h0m21.2 2.4h0m-11.9-1h0m-.4 .8h0m-5.3-.7h0m11.1 3.2h0m-4.7 11.8h0m2.8 .3h0" stroke="#c070c0" stroke-width="0.7" stroke-linecap="round"/>
<path d="M132.5 80 135.5 75.5 140 73.5 142.5 71.5 141 78 139 87.5 133.5 86Z" fill="#fff" fill-opacity="0.45"/>
<path d="M86 32.2L67 39.2M86 32.2L69 41M86 32.2L71.1 42.7M86 32.2L73.1 44.5M86 32.2L75.2 46.2M86 32.2L77.2 48" stroke="#999" stroke-width="0.25" fill="none"/>
<path d="M86 32.2L67 39.2M86 32.2L77.2 48" stroke="#777" stroke-width="0.5" fill="none"/>
<path d="M64.5 68.5L59.5 60M64.5 68.5L62.4 60.4M64.5 68.5L65.2 60.8M64.5 68.5L68.1 61.1M64.5 68.5L71 61.5" stroke="#999" stroke-width="0.3" fill="none"/>
<path d="M64.5 68.5L59.5 60M64.5 68.5L71 61.5" stroke="#777" stroke-width="0.5" fill="none"/>
<path d="M125.5 67.2L132.5 73.5M125.5 67.2L133 75M125.5 67.2L133.5 76.5M125.5 67.2L134 78M125.5 67.2L134.5 79.5" stroke="#999" stroke-width="0.3" fill="none"/>
<path d="M125.5 67.2L132.5 73.5M125.5 67.2L134.5 79.5" stroke="#777" stroke-width="0.5" fill="none"/>
<path d="M132.5 80 135.5 75.5 140 73.5 144 70 147 67.5 152 66.5 156 67.5 158.6 72 158 77.5 155 81.5 150 84.5 144.5 87 138 87.5 133.5 86Z" fill="none" stroke="#4a4a4a" stroke-width="0.6"/>
<path d="M84.5 101.3 92.5 98.5 99.5 98.5 102.9 104.2 102.3 111.2 100.6 118.1 100 125 94.8 125.6 86.8 126.2 83.3 121.5 77.5 118.1 77 113.5 82.2 110 83.3 106.5Z" fill="none" stroke="#4a4a4a" stroke-width="0.6"/>
<path d="M62.9 121.4 67 119 75.1 117.8 81.7 120.6 85.8 126.3 84.1 131.2 79.2 133.7 71.9 133.7 66.2 131.2 62.9 126.3Z" fill="none" stroke="#4a4a4a" stroke-width="0.6"/>
<path d="M85.8 127.2 92.3 128 99.7 125.5 105 128.5 104 134 102.1 136.2 95.6 134.5 89 132.9 86.6 130.4Z" fill="none" stroke="#4a4a4a" stroke-width="0.6"/>
<path d="M105 128.5 107 128.8 110.3 126.3 115.2 125.5 119.3 131.2 115.2 133.7 108.6 132.9 104 134Z" fill="none" stroke="#4a4a4a" stroke-width="0.6"/>
<path d="M80 134.5 85.8 132.9 92.3 137 102.1 138.6 108.6 141.9 111.9 147.6 110.3 153.3 103.7 155.8 94 155 87.4 150.9 80.9 142.7 78.4 137.8Z" fill="none" stroke="#4a4a4a" stroke-width="0.6"/>
<path d="M87.4 141.9 94 143.5 102.1 145.1 104.6 148.4 100.5 150.9 95.6 151.7 90.7 149.2 87.4 145.1Z" fill="none" stroke="#4a4a4a" stroke-width="0.6"/>
<path d="M49.4 50.6 51.4 45.2 56.2 41.8 62.9 39.8 68 38.8 73 37 80 34.3 86 32.2 83 35.5 78.5 40.5 76.5 45 75 50.6 72.3 54.6 68.3 58.6 61.5 61.1 54.8 60.3 50.8 56.6Z" fill="none" stroke="#4a4a4a" stroke-width="0.6"/>
<g transform="translate(135.50 0.00)" stroke="#f59a55" stroke-width="0.85" stroke-linecap="round"><use href="#my10"/><use href="#my11"/></g>
<g transform="translate(135.50 0.00)" stroke="#8a8a8a" stroke-width="0.85" stroke-linecap="round"><use href="#my20"/></g>
<g transform="translate(135.50 0.00)" stroke="#8a8a8a" stroke-width="0.85" stroke-linecap="round"><use href="#my30"/><use href="#my31"/><use href="#my32"/></g>
<g transform="translate(135.50 0.00)" stroke="#3040a0" stroke-width="0.85" stroke-linecap="round"><use href="#mono0"/><use href="#mono1"/><use href="#mono2"/><use href="#mono3"/><use href="#mono4"/><use href="#mono5"/><use href="#mono6"/><use href="#mono7"/><use href="#mono8"/><use href="#mono9"/></g>
<g transform="translate(135.50 0.00)" stroke="#4a6fc0" stroke-width="0.85" stroke-linecap="round"><use href="#monop0"/><use href="#monop1"/><use href="#monop2"/><use href="#monop3"/><use href="#monop4"/><use href="#monop5"/><use href="#monop6"/><use href="#monop7"/><use href="#monop8"/><use href="#monop9"/></g>
<g transform="translate(135.50 0.00)" stroke="#2a6f8a" stroke-width="0.85" stroke-linecap="round"><use href="#epcam0"/><use href="#epcam1"/><use href="#epcam2"/><use href="#epcam3"/><use href="#epcam4"/><use href="#epcam5"/><use href="#epcam6"/><use href="#epcam7"/><use href="#epcam8"/><use href="#epcam9"/></g>
<g transform="translate(135.50 0.00)" stroke="#e8351e" stroke-width="0.85" stroke-linecap="round"><use href="#ery20"/><use href="#ery21"/><use href="#ery22"/><use href="#ery23"/></g>
<g transform="translate(135.50 0.00)" stroke="#8a8a8a" stroke-width="0.85" stroke-linecap="round"><use href="#hbb0"/><use href="#hbb1"/><use href="#hbb2"/></g>
<g transform="translate(135.50 0.00)" stroke="#3a8ab0" stroke-width="0.85" stroke-linecap="round"><use href="#dbl0"/><use href="#dbl1"/><use href="#dbl2"/><use href="#dbl3"/><use href="#dbl4"/><use href="#dbl5"/><use href="#dbl6"/><use href="#dbl7"/><use href="#dbl8"/><use href="#dbl9"/></g>
<g transform="translate(135.50 0.00)" stroke="#b0301e" stroke-width="0.85" stroke-linecap="round"><use href="#ery10"/><use href="#ery11"/><use href="#ery12"/><use href="#ery13"/><use href="#ery14"/><use href="#ery15"/></g>
<g transform="translate(135.50 0.00)" stroke="#bb55bb" stroke-width="0.85" stroke-linecap="round"><use href="#hspc10"/><use href="#hspc11"/><use href="#hspc12"/><use href="#hspc13"/><use href="#hspc14"/></g>
<g transform="translate(135.50 0.00)" stroke="#c9a028" stroke-width="0.85" stroke-linecap="round"><use href="#hspc20"/><use href="#hspc21"/><use href="#hspc22"/><use href="#hspc23"/><use href="#hspc24"/><use href="#hspc25"/><use href="#hspc26"/><use href="#hspc27"/></g>
<g transform="translate(135.50 0.00)" stroke="#2a8a30" stroke-width="0.85" stroke-linecap="round"><use href="#phagL0"/><use href="#phagL1"/><use href="#phagL2"/></g>
<g transform="translate(135.50 0.00)" stroke="#2a7a30" stroke-width="0.85" stroke-linecap="round"><use href="#phagR0"/><use href="#phagR1"/><use href="#phagR2"/><use href="#phagR3"/><use href="#phagR4"/><use href="#phagR5"/><use href="#phagR6"/><use href="#phagR7"/><use href="#phagR8"/><use href="#phagR9"/></g>
<g transform="translate(135.50 0.00)" stroke="#4cae3c" stroke-width="0.85" stroke-linecap="round"><use href="#lymO0"/><use href="#lymO1"/><use href="#lymO2"/><use href="#lymO3"/><use href="#lymO4"/><use href="#lymO5"/><use href="#lymO6"/></g>
<g transform="translate(135.50 0.00)" stroke="#a8cc60" stroke-width="0.85" stroke-linecap="round"><use href="#lymI0"/><use href="#lymI1"/><use href="#lymI2"/><use href="#lymI3"/><use href="#lymI4"/><use href="#lymI5"/><use href="#lymI6"/><use href="#lymI7"/><use href="#lymI8"/><use href="#lymI9"/></g>
<g transform="translate(135.50 0.00)" stroke="#55b8ea" stroke-width="0.85" stroke-linecap="round"><use href="#neut0"/><use href="#neut1"/><use href="#neut2"/><use href="#neut3"/></g>
<g transform="translate(135.50 0.00)" stroke="#6a2aa0" stroke-width="0.85" stroke-linecap="round"><use href="#nk0"/><use href="#nk1"/><use href="#nk2"/><use href="#nk3"/><use href="#nk4"/><use href="#nk5"/><use href="#nk6"/><use href="#nk7"/><use href="#nk8"/><use href="#nk9"/></g>
<g transform="translate(135.50 0.00)" stroke="#a878c8" stroke-width="0.85" stroke-linecap="round"><use href="#nkst0"/><use href="#nkst1"/><use href="#nkst2"/><use href="#nkst3"/><use href="#nkst4"/><use href="#nkst5"/><use href="#nkst6"/><use href="#nkst7"/><use href="#nkst8"/><use href="#nkst9"/></g>
<g transform="translate(135.50 0.00)" stroke="#30a070" stroke-width="0.85" stroke-linecap="round"><use href="#tc0"/><use href="#tc1"/><use href="#tc2"/><use href="#tc3"/><use href="#tc4"/><use href="#tc5"/><use href="#tc6"/><use href="#tc7"/><use href="#tc8"/><use href="#tc9"/></g>
<g transform="translate(135.50 0.00)" stroke="#a070c8" stroke-width="0.85" stroke-linecap="round"><use href="#thr0"/><use href="#thr1"/><use href="#thr2"/><use href="#thr3"/><use href="#thr4"/><use href="#thr5"/><use href="#thr6"/><use href="#thr7"/><use href="#thr8"/><use href="#thr9"/></g>
<g transform="translate(135.50 0.00)" stroke="#7cbf4a" stroke-width="0.85" stroke-linecap="round"><use href="#fill0"/></g>
<g transform="translate(135.50 0.00)" stroke="#b050b0" stroke-width="0.85" stroke-linecap="round"><use href="#fill20"/></g>
<g transform="translate(135.50 0.00)" stroke="#c070c0" stroke-width="0.85" stroke-linecap="round"><use href="#fill30"/></g>
<path d="M227.8 80h0m21.2 2.4h0m-11.9-1h0m-.4 .8h0m-5.3-.7h0m11.1 3.2h0m-4.7 11.8h0m2.8 .3h0" stroke="#c070c0" stroke-width="0.7" stroke-linecap="round"/>
<path d="M268 80 271 75.5 275.5 73.5 278 71.5 276.5 78 274.5 87.5 269 86Z" fill="#fff" fill-opacity="0.45"/>
<path d="M221.5 32.2L202.5 39.2M221.5 32.2L204.5 41M221.5 32.2L206.6 42.7M221.5 32.2L208.6 44.5M221.5 32.2L210.7 46.2M221.5 32.2L212.7 48" stroke="#bbb" stroke-width="0.25" fill="none"/>
<path d="M221.5 32.2L202.5 39.2M221.5 32.2L212.7 48" stroke="#999" stroke-width="0.5" fill="none"/>
<path d="M200 68.5L195 60M200 68.5L197.9 60.4M200 68.5L200.7 60.8M200 68.5L203.6 61.1M200 68.5L206.5 61.5" stroke="#bbb" stroke-width="0.3" fill="none"/>
<path d="M200 68.5L195 60M200 68.5L206.5 61.5" stroke="#999" stroke-width="0.5" fill="none"/>
<path d="M261 67.2L268 73.5M261 67.2L268.5 75M261 67.2L269 76.5M261 67.2L269.5 78M261 67.2L270 79.5" stroke="#bbb" stroke-width="0.3" fill="none"/>
<path d="M261 67.2L268 73.5M261 67.2L270 79.5" stroke="#999" stroke-width="0.5" fill="none"/>
<path d="M268 80 271 75.5 275.5 73.5 279.5 70 282.5 67.5 287.5 66.5 291.5 67.5 294.1 72 293.5 77.5 290.5 81.5 285.5 84.5 280 87 273.5 87.5 269 86Z" fill="none" stroke="#4a4a4a" stroke-width="0.6"/>
<path d="M220 101.3 228 98.5 235 98.5 238.4 104.2 237.8 111.2 236.1 118.1 235.5 125 230.3 125.6 222.3 126.2 218.8 121.5 213 118.1 212.5 113.5 217.7 110 218.8 106.5Z" fill="none" stroke="#4a4a4a" stroke-width="0.6"/>
<path d="M198.4 121.4 202.5 119 210.6 117.8 217.2 120.6 221.3 126.3 219.6 131.2 214.7 133.7 207.4 133.7 201.7 131.2 198.4 126.3Z" fill="none" stroke="#4a4a4a" stroke-width="0.6"/>
<path d="M221.3 127.2 227.8 128 235.2 125.5 240.5 128.5 239.5 134 237.6 136.2 231.1 134.5 224.5 132.9 222.1 130.4Z" fill="none" stroke="#4a4a4a" stroke-width="0.6"/>
<path d="M240.5 128.5 242.5 128.8 245.8 126.3 250.7 125.5 254.8 131.2 250.7 133.7 244.1 132.9 239.5 134Z" fill="none" stroke="#4a4a4a" stroke-width="0.6"/>
<path d="M215.5 134.5 221.3 132.9 227.8 137 237.6 138.6 244.1 141.9 247.4 147.6 245.8 153.3 239.2 155.8 229.5 155 222.9 150.9 216.4 142.7 213.9 137.8Z" fill="none" stroke="#4a4a4a" stroke-width="0.6"/>
<path d="M222.9 141.9 229.5 143.5 237.6 145.1 240.1 148.4 236 150.9 231.1 151.7 226.2 149.2 222.9 145.1Z" fill="none" stroke="#4a4a4a" stroke-width="0.6"/>
<path d="M184.9 50.6 186.9 45.2 191.7 41.8 198.4 39.8 203.5 38.8 208.5 37 215.5 34.3 221.5 32.2 218.5 35.5 214 40.5 212 45 210.5 50.6 207.8 54.6 203.8 58.6 197 61.1 190.3 60.3 186.3 56.6Z" fill="none" stroke="#4a4a4a" stroke-width="0.6"/>
<line x1="36.8" y1="25" x2="36.8" y2="160.5" stroke="#000" stroke-width="0.9"/>
<line x1="36.8" y1="160.5" x2="170" y2="160.5" stroke="#000" stroke-width="0.9"/>
<line x1="33.6" y1="41.4" x2="36.8" y2="41.4" stroke="#333" stroke-width="0.8"/>
<text x="32.5" y="43.5" font-size="6" text-anchor="end" fill="#333">10</text>
<line x1="33.6" y1="69.4" x2="36.8" y2="69.4" stroke="#333" stroke-width="0.8"/>
<text x="32.5" y="71.5" font-size="6" text-anchor="end" fill="#333">5</text>
<line x1="33.6" y1="97.4" x2="36.8" y2="97.4" stroke="#333" stroke-width="0.8"/>
<text x="32.5" y="99.5" font-size="6" text-anchor="end" fill="#333">0</text>
<line x1="33.6" y1="125.4" x2="36.8" y2="125.4" stroke="#333" stroke-width="0.8"/>
<text x="32.5" y="127.5" font-size="6" text-anchor="end" fill="#333">−5</text>
<line x1="33.6" y1="153.4" x2="36.8" y2="153.4" stroke="#333" stroke-width="0.8"/>
<text x="32.5" y="155.5" font-size="6" text-anchor="end" fill="#333">−10</text>
<line x1="64.5" y1="160.5" x2="64.5" y2="163.3" stroke="#333" stroke-width="0.8"/>
<text x="64.5" y="168.4" font-size="6" text-anchor="middle" fill="#333">−5</text>
<line x1="92.9" y1="160.5" x2="92.9" y2="163.3" stroke="#333" stroke-width="0.8"/>
<text x="92.9" y="168.4" font-size="6" text-anchor="middle" fill="#333">0</text>
<line x1="121.3" y1="160.5" x2="121.3" y2="163.3" stroke="#333" stroke-width="0.8"/>
<text x="121.3" y="168.4" font-size="6" text-anchor="middle" fill="#333">5</text>
<line x1="149.7" y1="160.5" x2="149.7" y2="163.3" stroke="#333" stroke-width="0.8"/>
<text x="149.7" y="168.4" font-size="6" text-anchor="middle" fill="#333">10</text>
<line x1="172.3" y1="25" x2="172.3" y2="160.5" stroke="#000" stroke-width="0.9"/>
<line x1="172.3" y1="160.5" x2="305.5" y2="160.5" stroke="#000" stroke-width="0.9"/>
<line x1="169.1" y1="41.4" x2="172.3" y2="41.4" stroke="#333" stroke-width="0.8"/>
<line x1="169.1" y1="69.4" x2="172.3" y2="69.4" stroke="#333" stroke-width="0.8"/>
<line x1="169.1" y1="97.4" x2="172.3" y2="97.4" stroke="#333" stroke-width="0.8"/>
<line x1="169.1" y1="125.4" x2="172.3" y2="125.4" stroke="#333" stroke-width="0.8"/>
<line x1="169.1" y1="153.4" x2="172.3" y2="153.4" stroke="#333" stroke-width="0.8"/>
<line x1="200" y1="160.5" x2="200" y2="163.3" stroke="#333" stroke-width="0.8"/>
<text x="200" y="168.4" font-size="6" text-anchor="middle" fill="#333">−5</text>
<line x1="228.4" y1="160.5" x2="228.4" y2="163.3" stroke="#333" stroke-width="0.8"/>
<text x="228.4" y="168.4" font-size="6" text-anchor="middle" fill="#333">0</text>
<line x1="256.8" y1="160.5" x2="256.8" y2="163.3" stroke="#333" stroke-width="0.8"/>
<text x="256.8" y="168.4" font-size="6" text-anchor="middle" fill="#333">5</text>
<line x1="285.2" y1="160.5" x2="285.2" y2="163.3" stroke="#333" stroke-width="0.8"/>
<text x="285.2" y="168.4" font-size="6" text-anchor="middle" fill="#333">10</text>
<line x1="21.1" y1="30" x2="21.1" y2="161" stroke="#8a8a8a" stroke-width="1.4"/>
<path d="M21.2 26.5 L19.6 31 L22.8 31Z" fill="#000"/>
<text x="0" y="0" font-size="7.4" text-anchor="middle" font-weight="bold" fill="#333" transform="translate(19.4 95) rotate(-90)" textLength="22.5" lengthAdjust="spacingAndGlyphs">UMAP_2</text>
<line x1="35.5" y1="172.7" x2="303" y2="172.7" stroke="#8a8a8a" stroke-width="1.4"/>
<path d="M306.5 172.6 L302 171 L302 174.2Z" fill="#000"/>
<text x="179.9" y="181.8" font-size="7.4" text-anchor="middle" font-weight="bold" fill="#333" textLength="22.2" lengthAdjust="spacingAndGlyphs">UMAP_1</text>
<text x="105" y="26.3" font-size="7" text-anchor="middle" fill="#222">WT</text>
<text x="234.6" y="26.9" font-size="7.6" font-style="italic" fill="#444" textLength="21.5" lengthAdjust="spacingAndGlyphs">gata 2b</text>
<text x="256.9" y="23.6" font-size="4.2" font-style="italic" fill="#444" textLength="5.8" lengthAdjust="spacingAndGlyphs">-/-</text>
<text x="177" y="35.6" font-size="5.4" font-weight="bold" fill="#7a4218" textLength="44.4" lengthAdjust="spacingAndGlyphs">myeloid progenitors 1</text>
<text x="211" y="47.6" font-size="4.2" fill="#111" textLength="33" lengthAdjust="spacingAndGlyphs">myeloid progenitors 2</text>
<text x="181" y="68.6" font-size="4.2" fill="#111" textLength="33" lengthAdjust="spacingAndGlyphs">myeloid progenitors 3</text>
<text x="219.8" y="58.8" font-size="5.6" font-weight="bold" fill="#1a2a80" textLength="21.9" lengthAdjust="spacingAndGlyphs">monocytes</text>
<text x="256.4" y="61.8" font-size="5.4" font-weight="bold" fill="#7a2010" textLength="47.4" lengthAdjust="spacingAndGlyphs">erythroid progenitors 2</text>
<text x="252" y="68.9" font-size="4.2" fill="#111" textLength="14" lengthAdjust="spacingAndGlyphs">hbba1 +klf1</text>
<text x="191" y="80.7" font-size="5.6" font-weight="bold" fill="#1a3590" textLength="45.8" lengthAdjust="spacingAndGlyphs">monocyte progenitors</text>
<text x="242" y="77.6" font-size="4.2" fill="#111" textLength="9.2" lengthAdjust="spacingAndGlyphs">epcam</text>
<text x="216" y="88" font-size="5.6" font-weight="bold" fill="#3a1a6a" textLength="6" lengthAdjust="spacingAndGlyphs">NK</text>
<text x="225.4" y="87.6" font-size="4.2" fill="#111" textLength="11.4" lengthAdjust="spacingAndGlyphs">pigr3.5</text>
<text x="243" y="88" font-size="5.6" font-weight="bold" fill="#6a3a90" textLength="26.5" lengthAdjust="spacingAndGlyphs">thrombocytes</text>
<text x="259.7" y="99.2" font-size="5.4" font-weight="bold" fill="#6a1a10" textLength="47.3" lengthAdjust="spacingAndGlyphs">erythroid progenitors 1</text>
<text x="195" y="98.7" font-size="5.6" font-weight="bold" fill="#1a7a4a" textLength="14" lengthAdjust="spacingAndGlyphs">T cells</text>
<text x="204.1" y="107.8" font-size="5.6" font-weight="bold" fill="#8a2a8a" textLength="14.8" lengthAdjust="spacingAndGlyphs">HSPC1</text>
<text x="193.4" y="117.8" font-size="5.6" font-weight="bold" fill="#7a6218" textLength="15.4" lengthAdjust="spacingAndGlyphs">HSPC2</text>
<text x="173.7" y="126.7" font-size="5.6" font-weight="bold" fill="#2a78a8" textLength="21.6" lengthAdjust="spacingAndGlyphs">neutrophils</text>
<text x="253" y="126.2" font-size="5.6" font-weight="bold" fill="#10400f" textLength="39" lengthAdjust="spacingAndGlyphs">phagocytic B cells</text>
<text x="250" y="145.2" font-size="5.6" font-weight="bold" fill="#4a6a10" textLength="40.7" lengthAdjust="spacingAndGlyphs">lymphoid progenitor</text>
<text x="202.5" y="151.7" font-size="5.6" font-weight="bold" fill="#1a5a1a" textLength="11.5" lengthAdjust="spacingAndGlyphs">B cells</text>
<text x="291.2" y="85.1" font-size="4.2" fill="#111" textLength="11.1" lengthAdjust="spacingAndGlyphs">doublets</text>
<line x1="241.2" y1="77.2" x2="237.6" y2="81.8" stroke="#111" stroke-width="0.5"/>
<line x1="262.5" y1="69.3" x2="266.5" y2="72.3" stroke="#555" stroke-width="0.4"/>
<line x1="212" y1="45.5" x2="208.5" y2="43" stroke="#555" stroke-width="0.4"/>
<line x1="223" y1="31" x2="223" y2="39" stroke="#000" stroke-width="0.6"/>
<path d="M223 39 l-1.4 -2.6 h2.8Z"/>
<line x1="221.5" y1="30" x2="221.5" y2="37" stroke="#aaa" stroke-width="0.8"/>
<line x1="306" y1="56" x2="306" y2="64" stroke="#000" stroke-width="0.6"/>
<path d="M306 64 l-1.4 -2.6 h2.8Z"/>
<line x1="304.5" y1="55" x2="304.5" y2="62" stroke="#aaa" stroke-width="0.8"/>
<line x1="294.6" y1="118.5" x2="294.6" y2="127" stroke="#000" stroke-width="0.6"/>
<path d="M294.6 118.5 l-1.4 2.6 h2.8Z"/>
<line x1="293.2" y1="120" x2="293.2" y2="127.5" stroke="#aaa" stroke-width="0.8"/>
<line x1="294" y1="137.5" x2="294" y2="146" stroke="#000" stroke-width="0.6"/>
<path d="M294 137.5 l-1.4 2.6 h2.8Z"/>
<line x1="292.6" y1="139" x2="292.6" y2="146.5" stroke="#aaa" stroke-width="0.8"/>
<line x1="217" y1="143.5" x2="217" y2="152" stroke="#000" stroke-width="0.6"/>
<path d="M217 143.5 l-1.4 2.6 h2.8Z"/>
<line x1="215.6" y1="145" x2="215.6" y2="152.5" stroke="#aaa" stroke-width="0.8"/>
<path d="M358.8 34.2 359.8 31.7 362.2 30.1 365.6 29.2 369 29.2 371 28.5 372.3 31 371.7 34.2 370.3 36.1 368.3 37.9 364.9 39.1 361.5 38.7 359.5 37Z" fill="#d4d4d4" stroke="#d4d4d4" stroke-width="1.3" stroke-linejoin="round"/>
<path d="M367.2 29 370.2 28.1 374.2 26.7 377.2 25.6 376.2 27.1 374.2 29.7 372.7 33.2 371.7 32.1 370.7 29.7Z" fill="#d4d4d4" stroke="#d4d4d4" stroke-width="1.3" stroke-linejoin="round"/>
<path d="M364.2 38.8 366.6 42.4 367.2 41.4 369.7 39.9 368.2 38.1Z" fill="#d4d4d4" stroke="#d4d4d4" stroke-width="1.3" stroke-linejoin="round"/>
<path d="M378.8 40.9 380.8 39.5 383.2 39.2 382.3 40.7 380.8 42.4 379.2 42.1Z" fill="#d4d4d4" stroke="#d4d4d4" stroke-width="1.3" stroke-linejoin="round"/>
<path d="M375.4 45.2 376.5 43.9 377.4 44.5 376.7 45.9Z" fill="#d4d4d4" stroke="#d4d4d4" stroke-width="1.3" stroke-linejoin="round"/>
<path d="M389.3 39 391.3 40.2 390.8 40.6 389.3 39.5Z" fill="#d4d4d4" stroke="#d4d4d4" stroke-width="1.3" stroke-linejoin="round"/>
<path d="M400.6 48 402.1 45.9 404.4 44.9 406.4 43.3 407.9 42.1 410.5 41.6 412.5 42.1 413.8 44.2 413.5 46.8 412 48.7 409.5 50.1 406.7 51.2 403.4 51.5 401.1 50.8Z" fill="#d4d4d4" stroke="#d4d4d4" stroke-width="1.3" stroke-linejoin="round"/>
<path d="M397.2 42.1 401.9 45.2 400.5 47.5 398.9 44.2Z" fill="#d4d4d4" stroke="#d4d4d4" stroke-width="1.3" stroke-linejoin="round"/>
<path d="M414 46.6 417 48.2 416.8 48.7 413.7 47Z" fill="#d4d4d4" stroke="#d4d4d4" stroke-width="1.3" stroke-linejoin="round"/>
<path d="M385.5 57.6 392.3 53.6 399.4 49.8 402.9 50.1 403.9 51.2 401.4 53.3 393.8 56.6 387.3 60.6Z" fill="#d4d4d4" stroke="#d4d4d4" stroke-width="1.3" stroke-linejoin="round"/>
<path d="M376.5 57.9 380.5 56.6 384 56.6 385.7 59.3 385.4 62.6 384.6 65.8 384.3 69 381.7 69.3 377.6 69.6 375.9 67.4 372.9 65.8 372.7 63.6 375.3 62 375.9 60.4Z" fill="#d4d4d4" stroke="#d4d4d4" stroke-width="1.3" stroke-linejoin="round"/>
<path d="M365.6 67.3 367.7 66.2 371.7 65.6 375.1 67 377.1 69.6 376.3 71.9 373.8 73.1 370.1 73.1 367.3 71.9 365.6 69.6Z" fill="#d4d4d4" stroke="#d4d4d4" stroke-width="1.3" stroke-linejoin="round"/>
<path d="M377.1 70 380.4 70.4 384.1 69.2 386.8 70.7 386.3 73.2 385.3 74.3 382.1 73.5 378.7 72.7 377.5 71.5Z" fill="none" stroke="#d4d4d4" stroke-width="1.6" stroke-linejoin="round"/>
<g transform="matrix(0.5035 0 0 0.4679 333.92 10.53)" stroke="#d4d4d4" stroke-width="3.09" stroke-linecap="round"><use href="#phagL0"/><use href="#phagL1"/><use href="#phagL2"/><use href="#phagL3"/><use href="#phagL4"/><use href="#phagL5"/><use href="#phagL6"/><use href="#phagL7"/><use href="#phagL8"/><use href="#phagL9"/></g>
<path d="M386.8 70.7 387.8 70.8 389.5 69.6 391.9 69.2 394 71.9 391.9 73.1 388.6 72.7 386.3 73.2Z" fill="#d4d4d4" stroke="#d4d4d4" stroke-width="1.3" stroke-linejoin="round"/>
<path d="M374.2 73.5 377.1 72.7 380.4 74.6 385.3 75.4 388.6 76.9 390.3 79.6 389.5 82.3 386.1 83.4 381.3 83 377.9 81.1 374.7 77.3 373.4 75Z" fill="none" stroke="#d4d4d4" stroke-width="1.6" stroke-linejoin="round"/>
<g transform="matrix(0.5035 0 0 0.4679 333.92 10.53)" stroke="#d4d4d4" stroke-width="3.09" stroke-linecap="round"><use href="#lymO0"/><use href="#lymO1"/><use href="#lymO2"/><use href="#lymO3"/><use href="#lymO4"/><use href="#lymO5"/><use href="#lymO6"/><use href="#lymO7"/><use href="#lymO8"/><use href="#lymO9"/></g>
<path d="M377.9 76.9 381.3 77.7 385.3 78.4 386.6 80 384.5 81.1 382.1 81.5 379.6 80.3 377.9 78.4Z" fill="#d4d4d4" stroke="#d4d4d4" stroke-width="1.3" stroke-linejoin="round"/>
<path d="M355.1 76.3 362.4 71.1 364.4 72.8 357.1 79.3Z" fill="#d4d4d4" stroke="#d4d4d4" stroke-width="0.5" stroke-linejoin="round"/>
<path d="M369.2 49.8 371.2 49.1 373.7 51 374.7 53.9 372.7 54.5 369.7 53.1Z" fill="#d4d4d4" stroke="#d4d4d4" stroke-width="1.3" stroke-linejoin="round"/>
<path d="M373.2 52.6 377.2 54 381.8 55.2 381.7 56.6 377.2 55.4 373.7 54.3Z" fill="#d4d4d4" stroke="#d4d4d4" stroke-width="1.3" stroke-linejoin="round"/>
<path d="M371.8 55 374.2 54.7 375.9 55.9 375.2 57.4 372.2 56.8Z" fill="#d4d4d4" stroke="#d4d4d4" stroke-width="1.3" stroke-linejoin="round"/>
<path d="M388.7 52.3 390.3 52.2 391 54 389.8 55 388.7 54Z" fill="#d4d4d4" stroke="#d4d4d4" stroke-width="1.3" stroke-linejoin="round"/>
<path d="M376.2 70.9 384.3 69.9 387.3 71.4 388.8 74.6 386.3 76 381.8 75.3 378.2 74.2 375.7 72.8Z" fill="#d4d4d4" stroke="#d4d4d4" stroke-width="1.3" stroke-linejoin="round"/>
<path d="M382.3 55.4 385.8 54 388.3 53.6 387.3 56.8 385.3 58.7 383.3 57.8Z" fill="#d4d4d4" stroke="#d4d4d4" stroke-width="1.3" stroke-linejoin="round"/>
<g transform="matrix(0.5035 0 0 0.4679 333.92 10.53)" stroke="#fff" stroke-width="1.44" stroke-linecap="round"><use href="#phagL1"/></g>
<ellipse cx="379" cy="70.2" rx="1.2" ry="1.3" fill="#fff"/>
<ellipse cx="382.8" cy="74.2" rx="1.9" ry="1.2" fill="#fff"/>
<ellipse cx="386.4" cy="71.1" rx="1.6" ry="1" fill="#fff"/>
<ellipse cx="384" cy="77.9" rx="1.5" ry="1.1" fill="#fff"/>
<ellipse cx="377.7" cy="65" rx="1.1" ry="1" fill="#fff"/>
<ellipse cx="380.8" cy="66.7" rx="0.7" ry="0.7" fill="#fff"/>
<ellipse cx="386.8" cy="80.2" rx="0.9" ry="0.7" fill="#fff"/>
<g transform="matrix(0.5035 0 0 0.4679 333.92 10.53)" stroke="#7465c0" stroke-width="1.85" stroke-linecap="round"><use href="#my11"/></g>
<g transform="matrix(0.5035 0 0 0.4679 333.92 10.53)" stroke="#9d8ed3" stroke-width="1.85" stroke-linecap="round"><use href="#my15"/></g>
<g transform="matrix(0.5035 0 0 0.4679 333.92 10.53)" stroke="#a495d6" stroke-width="1.85" stroke-linecap="round"><use href="#my16"/></g>
<g transform="matrix(0.5035 0 0 0.4679 333.92 10.53)" stroke="#a899d8" stroke-width="1.85" stroke-linecap="round"><use href="#my10"/></g>
<g transform="matrix(0.5035 0 0 0.4679 333.92 10.53)" stroke="#ab9dd9" stroke-width="1.85" stroke-linecap="round"><use href="#my12"/></g>
<g transform="matrix(0.5035 0 0 0.4679 333.92 10.53)" stroke="#aea0da" stroke-width="1.85" stroke-linecap="round"><use href="#my17"/></g>
<g transform="matrix(0.5035 0 0 0.4679 333.92 10.53)" stroke="#aea1da" stroke-width="1.85" stroke-linecap="round"><use href="#my13"/></g>
<g transform="matrix(0.5035 0 0 0.4679 333.92 10.53)" stroke="#afa2db" stroke-width="1.85" stroke-linecap="round"><use href="#my19"/></g>
<g transform="matrix(0.5035 0 0 0.4679 333.92 10.53)" stroke="#afa2db" stroke-width="1.85" stroke-linecap="round"><use href="#my14"/></g>
<g transform="matrix(0.5035 0 0 0.4679 333.92 10.53)" stroke="#b1a5dc" stroke-width="1.85" stroke-linecap="round"><use href="#my18"/></g>
<g transform="matrix(0.5035 0 0 0.4679 333.92 10.53)" stroke="#6758ba" stroke-width="1.85" stroke-linecap="round"><use href="#my28"/></g>
<g transform="matrix(0.5035 0 0 0.4679 333.92 10.53)" stroke="#8172c6" stroke-width="1.85" stroke-linecap="round"><use href="#my29"/></g>
<g transform="matrix(0.5035 0 0 0.4679 333.92 10.53)" stroke="#8475c8" stroke-width="1.85" stroke-linecap="round"><use href="#my27"/></g>
<g transform="matrix(0.5035 0 0 0.4679 333.92 10.53)" stroke="#8677c8" stroke-width="1.85" stroke-linecap="round"><use href="#my22"/></g>
<g transform="matrix(0.5035 0 0 0.4679 333.92 10.53)" stroke="#8879c9" stroke-width="1.85" stroke-linecap="round"><use href="#my21"/></g>
<g transform="matrix(0.5035 0 0 0.4679 333.92 10.53)" stroke="#8879c9" stroke-width="1.85" stroke-linecap="round"><use href="#my24"/></g>
<g transform="matrix(0.5035 0 0 0.4679 333.92 10.53)" stroke="#8d7ecc" stroke-width="1.85" stroke-linecap="round"><use href="#my26"/></g>
<g transform="matrix(0.5035 0 0 0.4679 333.92 10.53)" stroke="#8d7ecc" stroke-width="1.85" stroke-linecap="round"><use href="#my25"/></g>
<g transform="matrix(0.5035 0 0 0.4679 333.92 10.53)" stroke="#8f80cc" stroke-width="1.85" stroke-linecap="round"><use href="#my20"/></g>
<g transform="matrix(0.5035 0 0 0.4679 333.92 10.53)" stroke="#8f80cd" stroke-width="1.85" stroke-linecap="round"><use href="#my23"/></g>
<g transform="matrix(0.5035 0 0 0.4679 333.92 10.53)" stroke="#9687d0" stroke-width="1.85" stroke-linecap="round"><use href="#my31"/></g>
<g transform="matrix(0.5035 0 0 0.4679 333.92 10.53)" stroke="#9687d0" stroke-width="1.85" stroke-linecap="round"><use href="#my34"/></g>
<g transform="matrix(0.5035 0 0 0.4679 333.92 10.53)" stroke="#9788d0" stroke-width="1.85" stroke-linecap="round"><use href="#my32"/></g>
<g transform="matrix(0.5035 0 0 0.4679 333.92 10.53)" stroke="#9889d1" stroke-width="1.85" stroke-linecap="round"><use href="#my30"/></g>
<g transform="matrix(0.5035 0 0 0.4679 333.92 10.53)" stroke="#a293d5" stroke-width="1.85" stroke-linecap="round"><use href="#my33"/></g>
<g transform="matrix(0.5035 0 0 0.4679 333.92 10.53)" stroke="#a495d6" stroke-width="1.85" stroke-linecap="round"><use href="#my35"/></g>
<g transform="matrix(0.5035 0 0 0.4679 333.92 10.53)" stroke="#9081cd" stroke-width="1.85" stroke-linecap="round"><use href="#mono3"/></g>
<g transform="matrix(0.5035 0 0 0.4679 333.92 10.53)" stroke="#9485cf" stroke-width="1.85" stroke-linecap="round"><use href="#mono2"/></g>
<g transform="matrix(0.5035 0 0 0.4679 333.92 10.53)" stroke="#a597d7" stroke-width="1.85" stroke-linecap="round"><use href="#mono4"/></g>
<g transform="matrix(0.5035 0 0 0.4679 333.92 10.53)" stroke="#b8adde" stroke-width="1.85" stroke-linecap="round"><use href="#mono0"/></g>
<g transform="matrix(0.5035 0 0 0.4679 333.92 10.53)" stroke="#b9aedf" stroke-width="1.85" stroke-linecap="round"><use href="#mono1"/></g>
<g transform="matrix(0.5035 0 0 0.4679 333.92 10.53)" stroke="#9384ce" stroke-width="1.85" stroke-linecap="round"><use href="#monop1"/></g>
<g transform="matrix(0.5035 0 0 0.4679 333.92 10.53)" stroke="#9485cf" stroke-width="1.85" stroke-linecap="round"><use href="#monop4"/></g>
<g transform="matrix(0.5035 0 0 0.4679 333.92 10.53)" stroke="#9d8ed3" stroke-width="1.85" stroke-linecap="round"><use href="#monop2"/></g>
<g transform="matrix(0.5035 0 0 0.4679 333.92 10.53)" stroke="#aa9cd9" stroke-width="1.85" stroke-linecap="round"><use href="#monop0"/></g>
<g transform="matrix(0.5035 0 0 0.4679 333.92 10.53)" stroke="#b1a5dc" stroke-width="1.85" stroke-linecap="round"><use href="#monop3"/></g>
<g transform="matrix(0.5035 0 0 0.4679 333.92 10.53)" stroke="#aa9cd9" stroke-width="1.85" stroke-linecap="round"><use href="#nk1"/></g>
<g transform="matrix(0.5035 0 0 0.4679 333.92 10.53)" stroke="#aa9cd9" stroke-width="1.85" stroke-linecap="round"><use href="#nk2"/></g>
<g transform="matrix(0.5035 0 0 0.4679 333.92 10.53)" stroke="#b4a8dd" stroke-width="1.85" stroke-linecap="round"><use href="#nk0"/></g>
<line x1="351.8" y1="22.6" x2="351.8" y2="87.7" stroke="#000" stroke-width="0.8"/>
<line x1="351.8" y1="87.7" x2="421.9" y2="87.7" stroke="#000" stroke-width="0.8"/>
<line x1="349.8" y1="30.9" x2="351.8" y2="30.9" stroke="#000" stroke-width="0.6"/>
<line x1="349.8" y1="44" x2="351.8" y2="44" stroke="#000" stroke-width="0.6"/>
<line x1="349.8" y1="57.1" x2="351.8" y2="57.1" stroke="#000" stroke-width="0.6"/>
<line x1="349.8" y1="70.2" x2="351.8" y2="70.2" stroke="#000" stroke-width="0.6"/>
<line x1="349.8" y1="83.3" x2="351.8" y2="83.3" stroke="#000" stroke-width="0.6"/>
<line x1="352.1" y1="87.7" x2="352.1" y2="89.7" stroke="#000" stroke-width="0.6"/>
<line x1="366.4" y1="87.7" x2="366.4" y2="89.7" stroke="#000" stroke-width="0.6"/>
<line x1="380.7" y1="87.7" x2="380.7" y2="89.7" stroke="#000" stroke-width="0.6"/>
<line x1="395" y1="87.7" x2="395" y2="89.7" stroke="#000" stroke-width="0.6"/>
<line x1="409.3" y1="87.7" x2="409.3" y2="89.7" stroke="#000" stroke-width="0.6"/>
<text x="353.1" y="20.6" font-size="6.4" font-style="italic" fill="#222">gm1</text>
<linearGradient id="gB" x1="0" y1="1" x2="0" y2="0"><stop offset="0" stop-color="#e4def2"/><stop offset="0.6" stop-color="#7a68c0"/><stop offset="1" stop-color="#1a2a9a"/></linearGradient>
<rect x="414.7" y="22.8" width="2.6" height="12.6" fill="url(#gB)"/>
<text x="0" y="0" font-size="4.6" text-anchor="middle" fill="#333" transform="translate(418.5 23.5) rotate(90)">6</text>
<text x="0" y="0" font-size="4.6" text-anchor="middle" fill="#333" transform="translate(418.5 27.6) rotate(90)">4</text>
<text x="0" y="0" font-size="4.6" text-anchor="middle" fill="#333" transform="translate(418.5 31.8) rotate(90)">2</text>
<text x="0" y="0" font-size="4.6" text-anchor="middle" fill="#333" transform="translate(418.5 35.9) rotate(90)">0</text>
<path d="M441.7 34.2 442.7 31.7 445.1 30.1 448.5 29.2 451.9 29.2 453.9 28.5 455.2 31 454.6 34.2 453.2 36.1 451.2 37.9 447.8 39.1 444.4 38.7 442.4 37Z" fill="#d4d4d4" stroke="#d4d4d4" stroke-width="1.3" stroke-linejoin="round"/>
<path d="M450.1 29 453.1 28.1 457.1 26.7 460.1 25.6 459.1 27.1 457.1 29.7 455.6 33.2 454.6 32.1 453.6 29.7Z" fill="#d4d4d4" stroke="#d4d4d4" stroke-width="1.3" stroke-linejoin="round"/>
<path d="M447.1 38.8 449.5 42.4 450.1 41.4 452.6 39.9 451.1 38.1Z" fill="#d4d4d4" stroke="#d4d4d4" stroke-width="1.3" stroke-linejoin="round"/>
<path d="M461.7 40.9 463.7 39.5 466.1 39.2 465.2 40.7 463.7 42.4 462.1 42.1Z" fill="#d4d4d4" stroke="#d4d4d4" stroke-width="1.3" stroke-linejoin="round"/>
<path d="M458.3 45.2 459.4 43.9 460.3 44.5 459.6 45.9Z" fill="#d4d4d4" stroke="#d4d4d4" stroke-width="1.3" stroke-linejoin="round"/>
<path d="M472.2 39 474.2 40.2 473.7 40.6 472.2 39.5Z" fill="#d4d4d4" stroke="#d4d4d4" stroke-width="1.3" stroke-linejoin="round"/>
<path d="M483.5 48 485.1 45.9 487.3 44.9 489.3 43.3 490.8 42.1 493.4 41.6 495.4 42.1 496.7 44.2 496.4 46.8 494.9 48.7 492.4 50.1 489.6 51.2 486.3 51.5 484 50.8Z" fill="#d4d4d4" stroke="#d4d4d4" stroke-width="1.3" stroke-linejoin="round"/>
<path d="M480.1 42.1 484.8 45.2 483.4 47.5 481.8 44.2Z" fill="#d4d4d4" stroke="#d4d4d4" stroke-width="1.3" stroke-linejoin="round"/>
<path d="M496.9 46.6 499.9 48.2 499.7 48.7 496.6 47Z" fill="#d4d4d4" stroke="#d4d4d4" stroke-width="1.3" stroke-linejoin="round"/>
<path d="M468.4 57.6 475.2 53.6 482.3 49.8 485.8 50.1 486.8 51.2 484.3 53.3 476.7 56.6 470.2 60.6Z" fill="#d4d4d4" stroke="#d4d4d4" stroke-width="1.3" stroke-linejoin="round"/>
<path d="M459.4 57.9 463.4 56.6 466.9 56.6 468.6 59.3 468.3 62.6 467.5 65.8 467.2 69 464.6 69.3 460.5 69.6 458.8 67.4 455.8 65.8 455.6 63.6 458.2 62 458.8 60.4Z" fill="#d4d4d4" stroke="#d4d4d4" stroke-width="1.3" stroke-linejoin="round"/>
<path d="M448.5 67.3 450.6 66.2 454.6 65.6 458 67 460 69.6 459.2 71.9 456.7 73.1 453 73.1 450.2 71.9 448.5 69.6Z" fill="#d4d4d4" stroke="#d4d4d4" stroke-width="1.3" stroke-linejoin="round"/>
<path d="M460 70 463.3 70.4 467 69.2 469.7 70.7 469.2 73.2 468.2 74.3 465 73.5 461.6 72.7 460.4 71.5Z" fill="none" stroke="#d4d4d4" stroke-width="1.6" stroke-linejoin="round"/>
<g transform="matrix(0.5035 0 0 0.4679 416.82 10.53)" stroke="#d4d4d4" stroke-width="3.09" stroke-linecap="round"><use href="#phagL0"/><use href="#phagL1"/><use href="#phagL2"/><use href="#phagL3"/><use href="#phagL4"/><use href="#phagL5"/><use href="#phagL6"/><use href="#phagL7"/><use href="#phagL8"/><use href="#phagL9"/></g>
<path d="M469.7 70.7 470.7 70.8 472.4 69.6 474.8 69.2 476.9 71.9 474.8 73.1 471.5 72.7 469.2 73.2Z" fill="#d4d4d4" stroke="#d4d4d4" stroke-width="1.3" stroke-linejoin="round"/>
<path d="M457.1 73.5 460 72.7 463.3 74.6 468.2 75.4 471.5 76.9 473.2 79.6 472.4 82.3 469 83.4 464.2 83 460.8 81.1 457.6 77.3 456.3 75Z" fill="none" stroke="#d4d4d4" stroke-width="1.6" stroke-linejoin="round"/>
<g transform="matrix(0.5035 0 0 0.4679 416.82 10.53)" stroke="#d4d4d4" stroke-width="3.09" stroke-linecap="round"><use href="#lymO0"/><use href="#lymO1"/><use href="#lymO2"/><use href="#lymO3"/><use href="#lymO4"/><use href="#lymO5"/><use href="#lymO6"/><use href="#lymO7"/><use href="#lymO8"/><use href="#lymO9"/></g>
<path d="M460.8 76.9 464.2 77.7 468.2 78.4 469.5 80 467.4 81.1 465 81.5 462.5 80.3 460.8 78.4Z" fill="#d4d4d4" stroke="#d4d4d4" stroke-width="1.3" stroke-linejoin="round"/>
<path d="M438 76.3 445.3 71.1 447.3 72.8 440 79.3Z" fill="#d4d4d4" stroke="#d4d4d4" stroke-width="0.5" stroke-linejoin="round"/>
<path d="M452.1 49.8 454.1 49.1 456.6 51 457.6 53.9 455.6 54.5 452.6 53.1Z" fill="#d4d4d4" stroke="#d4d4d4" stroke-width="1.3" stroke-linejoin="round"/>
<path d="M456.1 52.6 460.1 54 464.7 55.2 464.6 56.6 460.1 55.4 456.6 54.3Z" fill="#d4d4d4" stroke="#d4d4d4" stroke-width="1.3" stroke-linejoin="round"/>
<path d="M454.7 55 457.1 54.7 458.8 55.9 458.1 57.4 455.1 56.8Z" fill="#d4d4d4" stroke="#d4d4d4" stroke-width="1.3" stroke-linejoin="round"/>
<path d="M471.6 52.3 473.2 52.2 473.9 54 472.7 55 471.6 54Z" fill="#d4d4d4" stroke="#d4d4d4" stroke-width="1.3" stroke-linejoin="round"/>
<path d="M459.1 70.9 467.2 69.9 470.2 71.4 471.7 74.6 469.2 76 464.7 75.3 461.1 74.2 458.6 72.8Z" fill="#d4d4d4" stroke="#d4d4d4" stroke-width="1.3" stroke-linejoin="round"/>
<path d="M465.2 55.4 468.7 54 471.2 53.6 470.2 56.8 468.2 58.7 466.2 57.8Z" fill="#d4d4d4" stroke="#d4d4d4" stroke-width="1.3" stroke-linejoin="round"/>
<g transform="matrix(0.5035 0 0 0.4679 416.82 10.53)" stroke="#fff" stroke-width="1.44" stroke-linecap="round"><use href="#phagL1"/></g>
<ellipse cx="461.9" cy="70.2" rx="1.2" ry="1.3" fill="#fff"/>
<ellipse cx="465.7" cy="74.2" rx="1.9" ry="1.2" fill="#fff"/>
<ellipse cx="469.3" cy="71.1" rx="1.6" ry="1" fill="#fff"/>
<ellipse cx="466.9" cy="77.9" rx="1.5" ry="1.1" fill="#fff"/>
<ellipse cx="460.6" cy="65" rx="1.1" ry="1" fill="#fff"/>
<ellipse cx="463.7" cy="66.7" rx="0.7" ry="0.7" fill="#fff"/>
<ellipse cx="469.7" cy="80.2" rx="0.9" ry="0.7" fill="#fff"/>
<g transform="matrix(0.5035 0 0 0.4679 416.82 10.53)" stroke="#a192d5" stroke-width="1.85" stroke-linecap="round"><use href="#lymO1"/></g>
<g transform="matrix(0.5035 0 0 0.4679 416.82 10.53)" stroke="#a192d5" stroke-width="1.85" stroke-linecap="round"><use href="#lymO5"/></g>
<g transform="matrix(0.5035 0 0 0.4679 416.82 10.53)" stroke="#a596d7" stroke-width="1.85" stroke-linecap="round"><use href="#lymO3"/></g>
<g transform="matrix(0.5035 0 0 0.4679 416.82 10.53)" stroke="#a799d8" stroke-width="1.85" stroke-linecap="round"><use href="#lymO7"/></g>
<g transform="matrix(0.5035 0 0 0.4679 416.82 10.53)" stroke="#ab9dd9" stroke-width="1.85" stroke-linecap="round"><use href="#lymO6"/></g>
<g transform="matrix(0.5035 0 0 0.4679 416.82 10.53)" stroke="#ada0da" stroke-width="1.85" stroke-linecap="round"><use href="#lymO2"/></g>
<g transform="matrix(0.5035 0 0 0.4679 416.82 10.53)" stroke="#aea1da" stroke-width="1.85" stroke-linecap="round"><use href="#lymO4"/></g>
<g transform="matrix(0.5035 0 0 0.4679 416.82 10.53)" stroke="#b6abde" stroke-width="1.85" stroke-linecap="round"><use href="#lymO0"/></g>
<g transform="matrix(0.5035 0 0 0.4679 416.82 10.53)" stroke="#a293d5" stroke-width="1.85" stroke-linecap="round"><use href="#lymI0"/></g>
<g transform="matrix(0.5035 0 0 0.4679 416.82 10.53)" stroke="#a89ad8" stroke-width="1.85" stroke-linecap="round"><use href="#lymI2"/></g>
<g transform="matrix(0.5035 0 0 0.4679 416.82 10.53)" stroke="#ada0da" stroke-width="1.85" stroke-linecap="round"><use href="#lymI1"/></g>
<g transform="matrix(0.5035 0 0 0.4679 416.82 10.53)" stroke="#c1b8e2" stroke-width="1.85" stroke-linecap="round"><use href="#lymI3"/></g>
<g transform="matrix(0.5035 0 0 0.4679 416.82 10.53)" stroke="#a799d8" stroke-width="1.85" stroke-linecap="round"><use href="#phagR1"/></g>
<g transform="matrix(0.5035 0 0 0.4679 416.82 10.53)" stroke="#ac9fda" stroke-width="1.85" stroke-linecap="round"><use href="#phagR2"/></g>
<g transform="matrix(0.5035 0 0 0.4679 416.82 10.53)" stroke="#b4a8dd" stroke-width="1.85" stroke-linecap="round"><use href="#phagR5"/></g>
<g transform="matrix(0.5035 0 0 0.4679 416.82 10.53)" stroke="#b4a8dd" stroke-width="1.85" stroke-linecap="round"><use href="#phagR0"/></g>
<g transform="matrix(0.5035 0 0 0.4679 416.82 10.53)" stroke="#bbb1e0" stroke-width="1.85" stroke-linecap="round"><use href="#phagR4"/></g>
<g transform="matrix(0.5035 0 0 0.4679 416.82 10.53)" stroke="#c8c0e5" stroke-width="1.85" stroke-linecap="round"><use href="#phagR3"/></g>
<g transform="matrix(0.5035 0 0 0.4679 416.82 10.53)" stroke="#a192d5" stroke-width="1.85" stroke-linecap="round"><use href="#phagL4"/></g>
<g transform="matrix(0.5035 0 0 0.4679 416.82 10.53)" stroke="#a293d5" stroke-width="1.85" stroke-linecap="round"><use href="#phagL3"/></g>
<g transform="matrix(0.5035 0 0 0.4679 416.82 10.53)" stroke="#a596d7" stroke-width="1.85" stroke-linecap="round"><use href="#phagL2"/></g>
<g transform="matrix(0.5035 0 0 0.4679 416.82 10.53)" stroke="#aea1da" stroke-width="1.85" stroke-linecap="round"><use href="#phagL1"/></g>
<g transform="matrix(0.5035 0 0 0.4679 416.82 10.53)" stroke="#c7bfe4" stroke-width="1.85" stroke-linecap="round"><use href="#phagL0"/></g>
<g transform="matrix(0.5035 0 0 0.4679 416.82 10.53)" stroke="#9586cf" stroke-width="1.85" stroke-linecap="round"><use href="#dbl0"/></g>
<g transform="matrix(0.5035 0 0 0.4679 416.82 10.53)" stroke="#9b8cd2" stroke-width="1.85" stroke-linecap="round"><use href="#dbl1"/></g>
<g transform="matrix(0.5035 0 0 0.4679 416.82 10.53)" stroke="#a799d8" stroke-width="1.85" stroke-linecap="round"><use href="#dbl3"/></g>
<g transform="matrix(0.5035 0 0 0.4679 416.82 10.53)" stroke="#ab9dd9" stroke-width="1.85" stroke-linecap="round"><use href="#dbl4"/></g>
<g transform="matrix(0.5035 0 0 0.4679 416.82 10.53)" stroke="#ac9fda" stroke-width="1.85" stroke-linecap="round"><use href="#dbl2"/></g>
<g transform="matrix(0.5035 0 0 0.4679 416.82 10.53)" stroke="#bbb0df" stroke-width="1.85" stroke-linecap="round"><use href="#nk0"/></g>
<line x1="434.7" y1="22.6" x2="434.7" y2="87.7" stroke="#000" stroke-width="0.8"/>
<line x1="434.7" y1="87.7" x2="504.8" y2="87.7" stroke="#000" stroke-width="0.8"/>
<line x1="432.7" y1="30.9" x2="434.7" y2="30.9" stroke="#000" stroke-width="0.6"/>
<line x1="432.7" y1="44" x2="434.7" y2="44" stroke="#000" stroke-width="0.6"/>
<line x1="432.7" y1="57.1" x2="434.7" y2="57.1" stroke="#000" stroke-width="0.6"/>
<line x1="432.7" y1="70.2" x2="434.7" y2="70.2" stroke="#000" stroke-width="0.6"/>
<line x1="432.7" y1="83.3" x2="434.7" y2="83.3" stroke="#000" stroke-width="0.6"/>
<line x1="435" y1="87.7" x2="435" y2="89.7" stroke="#000" stroke-width="0.6"/>
<line x1="449.3" y1="87.7" x2="449.3" y2="89.7" stroke="#000" stroke-width="0.6"/>
<line x1="463.6" y1="87.7" x2="463.6" y2="89.7" stroke="#000" stroke-width="0.6"/>
<line x1="477.9" y1="87.7" x2="477.9" y2="89.7" stroke="#000" stroke-width="0.6"/>
<line x1="492.2" y1="87.7" x2="492.2" y2="89.7" stroke="#000" stroke-width="0.6"/>
<text x="436" y="20.6" font-size="6.4" font-style="italic" fill="#222">CD37</text>
<linearGradient id="gC" x1="0" y1="1" x2="0" y2="0"><stop offset="0" stop-color="#e4def2"/><stop offset="0.6" stop-color="#7a68c0"/><stop offset="1" stop-color="#1a2a9a"/></linearGradient>
<rect x="496.9" y="22.8" width="2.6" height="12.6" fill="url(#gC)"/>
<text x="0" y="0" font-size="4.6" text-anchor="middle" fill="#333" transform="translate(500.7 23.5) rotate(90)">6</text>
<text x="0" y="0" font-size="4.6" text-anchor="middle" fill="#333" transform="translate(500.7 27.6) rotate(90)">4</text>
<text x="0" y="0" font-size="4.6" text-anchor="middle" fill="#333" transform="translate(500.7 31.8) rotate(90)">2</text>
<text x="0" y="0" font-size="4.6" text-anchor="middle" fill="#333" transform="translate(500.7 35.9) rotate(90)">0</text>
<path d="M358.8 106.6 359.8 104.1 362.2 102.5 365.6 101.6 369 101.6 371 100.9 372.3 103.4 371.7 106.6 370.3 108.5 368.3 110.3 364.9 111.5 361.5 111.1 359.5 109.4Z" fill="#d4d4d4" stroke="#d4d4d4" stroke-width="1.3" stroke-linejoin="round"/>
<path d="M367.2 101.4 370.2 100.5 374.2 99.1 377.2 98 376.2 99.5 374.2 102.1 372.7 105.6 371.7 104.5 370.7 102.1Z" fill="#d4d4d4" stroke="#d4d4d4" stroke-width="1.3" stroke-linejoin="round"/>
<path d="M364.2 111.2 366.6 114.8 367.2 113.8 369.7 112.3 368.2 110.5Z" fill="#d4d4d4" stroke="#d4d4d4" stroke-width="1.3" stroke-linejoin="round"/>
<path d="M378.8 113.3 380.8 111.9 383.2 111.6 382.3 113.1 380.8 114.8 379.2 114.5Z" fill="#d4d4d4" stroke="#d4d4d4" stroke-width="1.3" stroke-linejoin="round"/>
<path d="M375.4 117.6 376.5 116.3 377.4 116.9 376.7 118.3Z" fill="#d4d4d4" stroke="#d4d4d4" stroke-width="1.3" stroke-linejoin="round"/>
<path d="M389.3 111.4 391.3 112.6 390.8 113 389.3 111.9Z" fill="#d4d4d4" stroke="#d4d4d4" stroke-width="1.3" stroke-linejoin="round"/>
<path d="M400.6 120.4 402.1 118.3 404.4 117.3 406.4 115.7 407.9 114.5 410.5 114 412.5 114.5 413.8 116.6 413.5 119.2 412 121.1 409.5 122.5 406.7 123.6 403.4 123.9 401.1 123.2Z" fill="#d4d4d4" stroke="#d4d4d4" stroke-width="1.3" stroke-linejoin="round"/>
<path d="M397.2 114.5 401.9 117.6 400.5 119.9 398.9 116.6Z" fill="#d4d4d4" stroke="#d4d4d4" stroke-width="1.3" stroke-linejoin="round"/>
<path d="M414 119 417 120.6 416.8 121.1 413.7 119.4Z" fill="#d4d4d4" stroke="#d4d4d4" stroke-width="1.3" stroke-linejoin="round"/>
<path d="M385.5 130 392.3 126 399.4 122.2 402.9 122.5 403.9 123.6 401.4 125.7 393.8 129 387.3 133Z" fill="#d4d4d4" stroke="#d4d4d4" stroke-width="1.3" stroke-linejoin="round"/>
<path d="M376.5 130.3 380.5 129 384 129 385.7 131.7 385.4 135 384.6 138.2 384.3 141.4 381.7 141.7 377.6 142 375.9 139.8 372.9 138.2 372.7 136 375.3 134.4 375.9 132.8Z" fill="#d4d4d4" stroke="#d4d4d4" stroke-width="1.3" stroke-linejoin="round"/>
<path d="M365.6 139.7 367.7 138.6 371.7 138 375.1 139.4 377.1 142 376.3 144.3 373.8 145.5 370.1 145.5 367.3 144.3 365.6 142Z" fill="#d4d4d4" stroke="#d4d4d4" stroke-width="1.3" stroke-linejoin="round"/>
<path d="M377.1 142.4 380.4 142.8 384.1 141.6 386.8 143.1 386.3 145.6 385.3 146.7 382.1 145.9 378.7 145.1 377.5 143.9Z" fill="none" stroke="#d4d4d4" stroke-width="1.6" stroke-linejoin="round"/>
<g transform="matrix(0.5035 0 0 0.4679 333.92 82.93)" stroke="#d4d4d4" stroke-width="3.09" stroke-linecap="round"><use href="#phagL0"/><use href="#phagL1"/><use href="#phagL2"/><use href="#phagL3"/><use href="#phagL4"/><use href="#phagL5"/><use href="#phagL6"/><use href="#phagL7"/><use href="#phagL8"/><use href="#phagL9"/></g>
<path d="M386.8 143.1 387.8 143.2 389.5 142 391.9 141.6 394 144.3 391.9 145.5 388.6 145.1 386.3 145.6Z" fill="#d4d4d4" stroke="#d4d4d4" stroke-width="1.3" stroke-linejoin="round"/>
<path d="M374.2 145.9 377.1 145.1 380.4 147 385.3 147.8 388.6 149.3 390.3 152 389.5 154.7 386.1 155.8 381.3 155.4 377.9 153.5 374.7 149.7 373.4 147.4Z" fill="none" stroke="#d4d4d4" stroke-width="1.6" stroke-linejoin="round"/>
<g transform="matrix(0.5035 0 0 0.4679 333.92 82.93)" stroke="#d4d4d4" stroke-width="3.09" stroke-linecap="round"><use href="#lymO0"/><use href="#lymO1"/><use href="#lymO2"/><use href="#lymO3"/><use href="#lymO4"/><use href="#lymO5"/><use href="#lymO6"/><use href="#lymO7"/><use href="#lymO8"/><use href="#lymO9"/></g>
<path d="M377.9 149.3 381.3 150.1 385.3 150.8 386.6 152.4 384.5 153.5 382.1 153.9 379.6 152.7 377.9 150.8Z" fill="#d4d4d4" stroke="#d4d4d4" stroke-width="1.3" stroke-linejoin="round"/>
<path d="M355.1 148.7 362.4 143.5 364.4 145.2 357.1 151.7Z" fill="#d4d4d4" stroke="#d4d4d4" stroke-width="0.5" stroke-linejoin="round"/>
<path d="M369.2 122.2 371.2 121.5 373.7 123.4 374.7 126.3 372.7 126.9 369.7 125.5Z" fill="#d4d4d4" stroke="#d4d4d4" stroke-width="1.3" stroke-linejoin="round"/>
<path d="M373.2 125 377.2 126.4 381.8 127.6 381.7 129 377.2 127.8 373.7 126.7Z" fill="#d4d4d4" stroke="#d4d4d4" stroke-width="1.3" stroke-linejoin="round"/>
<path d="M371.8 127.4 374.2 127.1 375.9 128.3 375.2 129.8 372.2 129.2Z" fill="#d4d4d4" stroke="#d4d4d4" stroke-width="1.3" stroke-linejoin="round"/>
<path d="M388.7 124.7 390.3 124.6 391 126.4 389.8 127.4 388.7 126.4Z" fill="#d4d4d4" stroke="#d4d4d4" stroke-width="1.3" stroke-linejoin="round"/>
<path d="M376.2 143.3 384.3 142.3 387.3 143.8 388.8 147 386.3 148.4 381.8 147.7 378.2 146.6 375.7 145.2Z" fill="#d4d4d4" stroke="#d4d4d4" stroke-width="1.3" stroke-linejoin="round"/>
<path d="M382.3 127.8 385.8 126.4 388.3 126 387.3 129.2 385.3 131.1 383.3 130.2Z" fill="#d4d4d4" stroke="#d4d4d4" stroke-width="1.3" stroke-linejoin="round"/>
<g transform="matrix(0.5035 0 0 0.4679 333.92 82.93)" stroke="#fff" stroke-width="1.44" stroke-linecap="round"><use href="#phagL1"/></g>
<ellipse cx="379" cy="142.6" rx="1.2" ry="1.3" fill="#fff"/>
<ellipse cx="382.8" cy="146.6" rx="1.9" ry="1.2" fill="#fff"/>
<ellipse cx="386.4" cy="143.5" rx="1.6" ry="1" fill="#fff"/>
<ellipse cx="384" cy="150.3" rx="1.5" ry="1.1" fill="#fff"/>
<ellipse cx="377.7" cy="137.4" rx="1.1" ry="1" fill="#fff"/>
<ellipse cx="380.8" cy="139.1" rx="0.7" ry="0.7" fill="#fff"/>
<ellipse cx="386.8" cy="152.6" rx="0.9" ry="0.7" fill="#fff"/>
<g transform="matrix(0.5035 0 0 0.4679 333.92 82.93)" stroke="#6052b7" stroke-width="1.85" stroke-linecap="round"><use href="#ery25"/></g>
<g transform="matrix(0.5035 0 0 0.4679 333.92 82.93)" stroke="#6253b8" stroke-width="1.85" stroke-linecap="round"><use href="#ery29"/></g>
<g transform="matrix(0.5035 0 0 0.4679 333.92 82.93)" stroke="#6556b9" stroke-width="1.85" stroke-linecap="round"><use href="#ery20"/></g>
<g transform="matrix(0.5035 0 0 0.4679 333.92 82.93)" stroke="#6859ba" stroke-width="1.85" stroke-linecap="round"><use href="#ery26"/></g>
<g transform="matrix(0.5035 0 0 0.4679 333.92 82.93)" stroke="#695abb" stroke-width="1.85" stroke-linecap="round"><use href="#ery23"/></g>
<g transform="matrix(0.5035 0 0 0.4679 333.92 82.93)" stroke="#6b5cbc" stroke-width="1.85" stroke-linecap="round"><use href="#ery28"/></g>
<g transform="matrix(0.5035 0 0 0.4679 333.92 82.93)" stroke="#6c5dbc" stroke-width="1.85" stroke-linecap="round"><use href="#ery22"/></g>
<g transform="matrix(0.5035 0 0 0.4679 333.92 82.93)" stroke="#6f60be" stroke-width="1.85" stroke-linecap="round"><use href="#ery27"/></g>
<g transform="matrix(0.5035 0 0 0.4679 333.92 82.93)" stroke="#7162bf" stroke-width="1.85" stroke-linecap="round"><use href="#ery21"/></g>
<g transform="matrix(0.5035 0 0 0.4679 333.92 82.93)" stroke="#7162bf" stroke-width="1.85" stroke-linecap="round"><use href="#ery24"/></g>
<g transform="matrix(0.5035 0 0 0.4679 333.92 82.93)" stroke="#9081cd" stroke-width="1.85" stroke-linecap="round"><use href="#hbb7"/></g>
<g transform="matrix(0.5035 0 0 0.4679 333.92 82.93)" stroke="#9182cd" stroke-width="1.85" stroke-linecap="round"><use href="#hbb0"/></g>
<g transform="matrix(0.5035 0 0 0.4679 333.92 82.93)" stroke="#9a8bd2" stroke-width="1.85" stroke-linecap="round"><use href="#hbb1"/></g>
<g transform="matrix(0.5035 0 0 0.4679 333.92 82.93)" stroke="#9f90d4" stroke-width="1.85" stroke-linecap="round"><use href="#hbb4"/></g>
<g transform="matrix(0.5035 0 0 0.4679 333.92 82.93)" stroke="#a091d4" stroke-width="1.85" stroke-linecap="round"><use href="#hbb5"/></g>
<g transform="matrix(0.5035 0 0 0.4679 333.92 82.93)" stroke="#a697d7" stroke-width="1.85" stroke-linecap="round"><use href="#hbb2"/></g>
<g transform="matrix(0.5035 0 0 0.4679 333.92 82.93)" stroke="#b9aedf" stroke-width="1.85" stroke-linecap="round"><use href="#hbb6"/></g>
<g transform="matrix(0.5035 0 0 0.4679 333.92 82.93)" stroke="#d7d2eb" stroke-width="1.85" stroke-linecap="round"><use href="#hbb3"/></g>
<g transform="matrix(0.5035 0 0 0.4679 333.92 82.93)" stroke="#6d5ebd" stroke-width="1.85" stroke-linecap="round"><use href="#dbl2"/></g>
<g transform="matrix(0.5035 0 0 0.4679 333.92 82.93)" stroke="#7b6cc4" stroke-width="1.85" stroke-linecap="round"><use href="#dbl0"/></g>
<g transform="matrix(0.5035 0 0 0.4679 333.92 82.93)" stroke="#7d6ec4" stroke-width="1.85" stroke-linecap="round"><use href="#dbl6"/></g>
<g transform="matrix(0.5035 0 0 0.4679 333.92 82.93)" stroke="#8f80cd" stroke-width="1.85" stroke-linecap="round"><use href="#dbl4"/></g>
<g transform="matrix(0.5035 0 0 0.4679 333.92 82.93)" stroke="#9485cf" stroke-width="1.85" stroke-linecap="round"><use href="#dbl1"/></g>
<g transform="matrix(0.5035 0 0 0.4679 333.92 82.93)" stroke="#9687d0" stroke-width="1.85" stroke-linecap="round"><use href="#dbl5"/></g>
<g transform="matrix(0.5035 0 0 0.4679 333.92 82.93)" stroke="#9a8bd2" stroke-width="1.85" stroke-linecap="round"><use href="#dbl7"/></g>
<g transform="matrix(0.5035 0 0 0.4679 333.92 82.93)" stroke="#9a8bd2" stroke-width="1.85" stroke-linecap="round"><use href="#dbl3"/></g>
<g transform="matrix(0.5035 0 0 0.4679 333.92 82.93)" stroke="#9f90d4" stroke-width="1.85" stroke-linecap="round"><use href="#ery13"/></g>
<g transform="matrix(0.5035 0 0 0.4679 333.92 82.93)" stroke="#a698d7" stroke-width="1.85" stroke-linecap="round"><use href="#ery15"/></g>
<g transform="matrix(0.5035 0 0 0.4679 333.92 82.93)" stroke="#a99bd8" stroke-width="1.85" stroke-linecap="round"><use href="#ery16"/></g>
<g transform="matrix(0.5035 0 0 0.4679 333.92 82.93)" stroke="#b0a3db" stroke-width="1.85" stroke-linecap="round"><use href="#ery18"/></g>
<g transform="matrix(0.5035 0 0 0.4679 333.92 82.93)" stroke="#b2a5dc" stroke-width="1.85" stroke-linecap="round"><use href="#ery11"/></g>
<g transform="matrix(0.5035 0 0 0.4679 333.92 82.93)" stroke="#b8adde" stroke-width="1.85" stroke-linecap="round"><use href="#ery14"/></g>
<g transform="matrix(0.5035 0 0 0.4679 333.92 82.93)" stroke="#bcb1e0" stroke-width="1.85" stroke-linecap="round"><use href="#ery17"/></g>
<g transform="matrix(0.5035 0 0 0.4679 333.92 82.93)" stroke="#cbc3e6" stroke-width="1.85" stroke-linecap="round"><use href="#ery12"/></g>
<g transform="matrix(0.5035 0 0 0.4679 333.92 82.93)" stroke="#cbc3e6" stroke-width="1.85" stroke-linecap="round"><use href="#ery10"/></g>
<g transform="matrix(0.5035 0 0 0.4679 333.92 82.93)" stroke="#a596d7" stroke-width="1.85" stroke-linecap="round"><use href="#my16"/></g>
<g transform="matrix(0.5035 0 0 0.4679 333.92 82.93)" stroke="#b1a5dc" stroke-width="1.85" stroke-linecap="round"><use href="#my11"/></g>
<g transform="matrix(0.5035 0 0 0.4679 333.92 82.93)" stroke="#b2a5dc" stroke-width="1.85" stroke-linecap="round"><use href="#my14"/></g>
<g transform="matrix(0.5035 0 0 0.4679 333.92 82.93)" stroke="#b2a6dc" stroke-width="1.85" stroke-linecap="round"><use href="#my12"/></g>
<g transform="matrix(0.5035 0 0 0.4679 333.92 82.93)" stroke="#b3a7dc" stroke-width="1.85" stroke-linecap="round"><use href="#my10"/></g>
<g transform="matrix(0.5035 0 0 0.4679 333.92 82.93)" stroke="#bbb0df" stroke-width="1.85" stroke-linecap="round"><use href="#my13"/></g>
<g transform="matrix(0.5035 0 0 0.4679 333.92 82.93)" stroke="#bcb2e0" stroke-width="1.85" stroke-linecap="round"><use href="#my15"/></g>
<g transform="matrix(0.5035 0 0 0.4679 333.92 82.93)" stroke="#d7d2eb" stroke-width="1.85" stroke-linecap="round"><use href="#my17"/></g>
<g transform="matrix(0.5035 0 0 0.4679 333.92 82.93)" stroke="#d7d2eb" stroke-width="1.85" stroke-linecap="round"><use href="#my18"/></g>
<g transform="matrix(0.5035 0 0 0.4679 333.92 82.93)" stroke="#a495d6" stroke-width="1.85" stroke-linecap="round"><use href="#my23"/></g>
<g transform="matrix(0.5035 0 0 0.4679 333.92 82.93)" stroke="#b2a5dc" stroke-width="1.85" stroke-linecap="round"><use href="#my22"/></g>
<g transform="matrix(0.5035 0 0 0.4679 333.92 82.93)" stroke="#bab0df" stroke-width="1.85" stroke-linecap="round"><use href="#my21"/></g>
<g transform="matrix(0.5035 0 0 0.4679 333.92 82.93)" stroke="#cec7e7" stroke-width="1.85" stroke-linecap="round"><use href="#my20"/></g>
<g transform="matrix(0.5035 0 0 0.4679 333.92 82.93)" stroke="#d1cbe8" stroke-width="1.85" stroke-linecap="round"><use href="#my25"/></g>
<g transform="matrix(0.5035 0 0 0.4679 333.92 82.93)" stroke="#d1cbe8" stroke-width="1.85" stroke-linecap="round"><use href="#my24"/></g>
<g transform="matrix(0.5035 0 0 0.4679 333.92 82.93)" stroke="#9687d0" stroke-width="1.85" stroke-linecap="round"><use href="#my31"/></g>
<g transform="matrix(0.5035 0 0 0.4679 333.92 82.93)" stroke="#b4a9dd" stroke-width="1.85" stroke-linecap="round"><use href="#my32"/></g>
<g transform="matrix(0.5035 0 0 0.4679 333.92 82.93)" stroke="#b5a9dd" stroke-width="1.85" stroke-linecap="round"><use href="#my30"/></g>
<g transform="matrix(0.5035 0 0 0.4679 333.92 82.93)" stroke="#b9aedf" stroke-width="1.85" stroke-linecap="round"><use href="#my35"/></g>
<g transform="matrix(0.5035 0 0 0.4679 333.92 82.93)" stroke="#cfc8e7" stroke-width="1.85" stroke-linecap="round"><use href="#my33"/></g>
<g transform="matrix(0.5035 0 0 0.4679 333.92 82.93)" stroke="#d7d2eb" stroke-width="1.85" stroke-linecap="round"><use href="#my34"/></g>
<g transform="matrix(0.5035 0 0 0.4679 333.92 82.93)" stroke="#8a7bca" stroke-width="1.85" stroke-linecap="round"><use href="#hspc16"/></g>
<g transform="matrix(0.5035 0 0 0.4679 333.92 82.93)" stroke="#a596d7" stroke-width="1.85" stroke-linecap="round"><use href="#hspc14"/></g>
<g transform="matrix(0.5035 0 0 0.4679 333.92 82.93)" stroke="#ac9ed9" stroke-width="1.85" stroke-linecap="round"><use href="#hspc10"/></g>
<g transform="matrix(0.5035 0 0 0.4679 333.92 82.93)" stroke="#afa2db" stroke-width="1.85" stroke-linecap="round"><use href="#hspc15"/></g>
<g transform="matrix(0.5035 0 0 0.4679 333.92 82.93)" stroke="#b3a7dc" stroke-width="1.85" stroke-linecap="round"><use href="#hspc17"/></g>
<g transform="matrix(0.5035 0 0 0.4679 333.92 82.93)" stroke="#b4a8dd" stroke-width="1.85" stroke-linecap="round"><use href="#hspc12"/></g>
<g transform="matrix(0.5035 0 0 0.4679 333.92 82.93)" stroke="#bfb5e1" stroke-width="1.85" stroke-linecap="round"><use href="#hspc13"/></g>
<g transform="matrix(0.5035 0 0 0.4679 333.92 82.93)" stroke="#c2b9e2" stroke-width="1.85" stroke-linecap="round"><use href="#hspc11"/></g>
<g transform="matrix(0.5035 0 0 0.4679 333.92 82.93)" stroke="#d1cbe8" stroke-width="1.85" stroke-linecap="round"><use href="#hspc18"/></g>
<g transform="matrix(0.5035 0 0 0.4679 333.92 82.93)" stroke="#9e8fd4" stroke-width="1.85" stroke-linecap="round"><use href="#hspc25"/></g>
<g transform="matrix(0.5035 0 0 0.4679 333.92 82.93)" stroke="#ac9ed9" stroke-width="1.85" stroke-linecap="round"><use href="#hspc24"/></g>
<g transform="matrix(0.5035 0 0 0.4679 333.92 82.93)" stroke="#b5aadd" stroke-width="1.85" stroke-linecap="round"><use href="#hspc20"/></g>
<g transform="matrix(0.5035 0 0 0.4679 333.92 82.93)" stroke="#bbb0df" stroke-width="1.85" stroke-linecap="round"><use href="#hspc28"/></g>
<g transform="matrix(0.5035 0 0 0.4679 333.92 82.93)" stroke="#beb4e1" stroke-width="1.85" stroke-linecap="round"><use href="#hspc27"/></g>
<g transform="matrix(0.5035 0 0 0.4679 333.92 82.93)" stroke="#c1b7e2" stroke-width="1.85" stroke-linecap="round"><use href="#hspc23"/></g>
<g transform="matrix(0.5035 0 0 0.4679 333.92 82.93)" stroke="#c4bbe3" stroke-width="1.85" stroke-linecap="round"><use href="#hspc21"/></g>
<g transform="matrix(0.5035 0 0 0.4679 333.92 82.93)" stroke="#d0cae8" stroke-width="1.85" stroke-linecap="round"><use href="#hspc22"/></g>
<g transform="matrix(0.5035 0 0 0.4679 333.92 82.93)" stroke="#d3cee9" stroke-width="1.85" stroke-linecap="round"><use href="#hspc26"/></g>
<g transform="matrix(0.5035 0 0 0.4679 333.92 82.93)" stroke="#a293d5" stroke-width="1.85" stroke-linecap="round"><use href="#phagL3"/></g>
<g transform="matrix(0.5035 0 0 0.4679 333.92 82.93)" stroke="#a799d8" stroke-width="1.85" stroke-linecap="round"><use href="#phagL1"/></g>
<g transform="matrix(0.5035 0 0 0.4679 333.92 82.93)" stroke="#c4bbe3" stroke-width="1.85" stroke-linecap="round"><use href="#phagL2"/></g>
<g transform="matrix(0.5035 0 0 0.4679 333.92 82.93)" stroke="#c5bde4" stroke-width="1.85" stroke-linecap="round"><use href="#phagL5"/></g>
<g transform="matrix(0.5035 0 0 0.4679 333.92 82.93)" stroke="#c6bee4" stroke-width="1.85" stroke-linecap="round"><use href="#phagL6"/></g>
<g transform="matrix(0.5035 0 0 0.4679 333.92 82.93)" stroke="#c7bfe4" stroke-width="1.85" stroke-linecap="round"><use href="#phagL0"/></g>
<g transform="matrix(0.5035 0 0 0.4679 333.92 82.93)" stroke="#c8c0e5" stroke-width="1.85" stroke-linecap="round"><use href="#phagL7"/></g>
<g transform="matrix(0.5035 0 0 0.4679 333.92 82.93)" stroke="#d2cce9" stroke-width="1.85" stroke-linecap="round"><use href="#phagL4"/></g>
<g transform="matrix(0.5035 0 0 0.4679 333.92 82.93)" stroke="#b2a6dc" stroke-width="1.85" stroke-linecap="round"><use href="#phagR6"/></g>
<g transform="matrix(0.5035 0 0 0.4679 333.92 82.93)" stroke="#b8adde" stroke-width="1.85" stroke-linecap="round"><use href="#phagR2"/></g>
<g transform="matrix(0.5035 0 0 0.4679 333.92 82.93)" stroke="#bfb5e1" stroke-width="1.85" stroke-linecap="round"><use href="#phagR1"/></g>
<g transform="matrix(0.5035 0 0 0.4679 333.92 82.93)" stroke="#cac3e6" stroke-width="1.85" stroke-linecap="round"><use href="#phagR5"/></g>
<g transform="matrix(0.5035 0 0 0.4679 333.92 82.93)" stroke="#d4cfea" stroke-width="1.85" stroke-linecap="round"><use href="#phagR7"/></g>
<g transform="matrix(0.5035 0 0 0.4679 333.92 82.93)" stroke="#d5d0ea" stroke-width="1.85" stroke-linecap="round"><use href="#phagR3"/></g>
<g transform="matrix(0.5035 0 0 0.4679 333.92 82.93)" stroke="#d7d2eb" stroke-width="1.85" stroke-linecap="round"><use href="#phagR0"/></g>
<g transform="matrix(0.5035 0 0 0.4679 333.92 82.93)" stroke="#d7d2eb" stroke-width="1.85" stroke-linecap="round"><use href="#phagR4"/></g>
<g transform="matrix(0.5035 0 0 0.4679 333.92 82.93)" stroke="#8d7ecc" stroke-width="1.85" stroke-linecap="round"><use href="#lymO4"/></g>
<g transform="matrix(0.5035 0 0 0.4679 333.92 82.93)" stroke="#a192d5" stroke-width="1.85" stroke-linecap="round"><use href="#lymO0"/></g>
<g transform="matrix(0.5035 0 0 0.4679 333.92 82.93)" stroke="#a596d7" stroke-width="1.85" stroke-linecap="round"><use href="#lymO1"/></g>
<g transform="matrix(0.5035 0 0 0.4679 333.92 82.93)" stroke="#ada0da" stroke-width="1.85" stroke-linecap="round"><use href="#lymO2"/></g>
<g transform="matrix(0.5035 0 0 0.4679 333.92 82.93)" stroke="#b5a9dd" stroke-width="1.85" stroke-linecap="round"><use href="#lymO5"/></g>
<g transform="matrix(0.5035 0 0 0.4679 333.92 82.93)" stroke="#bbb0df" stroke-width="1.85" stroke-linecap="round"><use href="#lymO6"/></g>
<g transform="matrix(0.5035 0 0 0.4679 333.92 82.93)" stroke="#c2b9e2" stroke-width="1.85" stroke-linecap="round"><use href="#lymO7"/></g>
<g transform="matrix(0.5035 0 0 0.4679 333.92 82.93)" stroke="#d7d2eb" stroke-width="1.85" stroke-linecap="round"><use href="#lymO3"/></g>
<g transform="matrix(0.5035 0 0 0.4679 333.92 82.93)" stroke="#9e8fd4" stroke-width="1.85" stroke-linecap="round"><use href="#lymI5"/></g>
<g transform="matrix(0.5035 0 0 0.4679 333.92 82.93)" stroke="#ac9ed9" stroke-width="1.85" stroke-linecap="round"><use href="#lymI0"/></g>
<g transform="matrix(0.5035 0 0 0.4679 333.92 82.93)" stroke="#b2a6dc" stroke-width="1.85" stroke-linecap="round"><use href="#lymI2"/></g>
<g transform="matrix(0.5035 0 0 0.4679 333.92 82.93)" stroke="#b2a6dc" stroke-width="1.85" stroke-linecap="round"><use href="#lymI7"/></g>
<g transform="matrix(0.5035 0 0 0.4679 333.92 82.93)" stroke="#bfb6e1" stroke-width="1.85" stroke-linecap="round"><use href="#lymI3"/></g>
<g transform="matrix(0.5035 0 0 0.4679 333.92 82.93)" stroke="#c5bde4" stroke-width="1.85" stroke-linecap="round"><use href="#lymI4"/></g>
<g transform="matrix(0.5035 0 0 0.4679 333.92 82.93)" stroke="#ccc5e6" stroke-width="1.85" stroke-linecap="round"><use href="#lymI6"/></g>
<g transform="matrix(0.5035 0 0 0.4679 333.92 82.93)" stroke="#d7d2eb" stroke-width="1.85" stroke-linecap="round"><use href="#lymI1"/></g>
<g transform="matrix(0.5035 0 0 0.4679 333.92 82.93)" stroke="#b2a6dc" stroke-width="1.85" stroke-linecap="round"><use href="#neut1"/></g>
<g transform="matrix(0.5035 0 0 0.4679 333.92 82.93)" stroke="#b5a9dd" stroke-width="1.85" stroke-linecap="round"><use href="#neut5"/></g>
<g transform="matrix(0.5035 0 0 0.4679 333.92 82.93)" stroke="#b8adde" stroke-width="1.85" stroke-linecap="round"><use href="#neut4"/></g>
<g transform="matrix(0.5035 0 0 0.4679 333.92 82.93)" stroke="#c2b8e2" stroke-width="1.85" stroke-linecap="round"><use href="#neut7"/></g>
<g transform="matrix(0.5035 0 0 0.4679 333.92 82.93)" stroke="#cac3e6" stroke-width="1.85" stroke-linecap="round"><use href="#neut0"/></g>
<g transform="matrix(0.5035 0 0 0.4679 333.92 82.93)" stroke="#cbc4e6" stroke-width="1.85" stroke-linecap="round"><use href="#neut2"/></g>
<g transform="matrix(0.5035 0 0 0.4679 333.92 82.93)" stroke="#ccc5e6" stroke-width="1.85" stroke-linecap="round"><use href="#neut6"/></g>
<g transform="matrix(0.5035 0 0 0.4679 333.92 82.93)" stroke="#d4cfea" stroke-width="1.85" stroke-linecap="round"><use href="#neut3"/></g>
<g transform="matrix(0.5035 0 0 0.4679 333.92 82.93)" stroke="#afa2db" stroke-width="1.85" stroke-linecap="round"><use href="#nk2"/></g>
<g transform="matrix(0.5035 0 0 0.4679 333.92 82.93)" stroke="#b0a3db" stroke-width="1.85" stroke-linecap="round"><use href="#nk5"/></g>
<g transform="matrix(0.5035 0 0 0.4679 333.92 82.93)" stroke="#b3a7dc" stroke-width="1.85" stroke-linecap="round"><use href="#nk0"/></g>
<g transform="matrix(0.5035 0 0 0.4679 333.92 82.93)" stroke="#bbb0df" stroke-width="1.85" stroke-linecap="round"><use href="#nk1"/></g>
<g transform="matrix(0.5035 0 0 0.4679 333.92 82.93)" stroke="#bdb3e0" stroke-width="1.85" stroke-linecap="round"><use href="#nk6"/></g>
<g transform="matrix(0.5035 0 0 0.4679 333.92 82.93)" stroke="#c3bae3" stroke-width="1.85" stroke-linecap="round"><use href="#nk3"/></g>
<g transform="matrix(0.5035 0 0 0.4679 333.92 82.93)" stroke="#c9c2e5" stroke-width="1.85" stroke-linecap="round"><use href="#nk4"/></g>
<g transform="matrix(0.5035 0 0 0.4679 333.92 82.93)" stroke="#9a8bd2" stroke-width="1.85" stroke-linecap="round"><use href="#nkst4"/></g>
<g transform="matrix(0.5035 0 0 0.4679 333.92 82.93)" stroke="#beb5e1" stroke-width="1.85" stroke-linecap="round"><use href="#nkst3"/></g>
<g transform="matrix(0.5035 0 0 0.4679 333.92 82.93)" stroke="#c3bbe3" stroke-width="1.85" stroke-linecap="round"><use href="#nkst2"/></g>
<g transform="matrix(0.5035 0 0 0.4679 333.92 82.93)" stroke="#cbc3e6" stroke-width="1.85" stroke-linecap="round"><use href="#nkst1"/></g>
<g transform="matrix(0.5035 0 0 0.4679 333.92 82.93)" stroke="#cdc6e7" stroke-width="1.85" stroke-linecap="round"><use href="#nkst6"/></g>
<g transform="matrix(0.5035 0 0 0.4679 333.92 82.93)" stroke="#cfc9e8" stroke-width="1.85" stroke-linecap="round"><use href="#nkst5"/></g>
<g transform="matrix(0.5035 0 0 0.4679 333.92 82.93)" stroke="#d7d2eb" stroke-width="1.85" stroke-linecap="round"><use href="#nkst0"/></g>
<g transform="matrix(0.5035 0 0 0.4679 333.92 82.93)" stroke="#a899d8" stroke-width="1.85" stroke-linecap="round"><use href="#tc3"/></g>
<g transform="matrix(0.5035 0 0 0.4679 333.92 82.93)" stroke="#ab9ed9" stroke-width="1.85" stroke-linecap="round"><use href="#tc5"/></g>
<g transform="matrix(0.5035 0 0 0.4679 333.92 82.93)" stroke="#b8adde" stroke-width="1.85" stroke-linecap="round"><use href="#tc1"/></g>
<g transform="matrix(0.5035 0 0 0.4679 333.92 82.93)" stroke="#b9aedf" stroke-width="1.85" stroke-linecap="round"><use href="#tc2"/></g>
<g transform="matrix(0.5035 0 0 0.4679 333.92 82.93)" stroke="#bab0df" stroke-width="1.85" stroke-linecap="round"><use href="#tc4"/></g>
<g transform="matrix(0.5035 0 0 0.4679 333.92 82.93)" stroke="#c3bae3" stroke-width="1.85" stroke-linecap="round"><use href="#tc0"/></g>
<g transform="matrix(0.5035 0 0 0.4679 333.92 82.93)" stroke="#d5d0ea" stroke-width="1.85" stroke-linecap="round"><use href="#tc6"/></g>
<g transform="matrix(0.5035 0 0 0.4679 333.92 82.93)" stroke="#a192d5" stroke-width="1.85" stroke-linecap="round"><use href="#thr3"/></g>
<g transform="matrix(0.5035 0 0 0.4679 333.92 82.93)" stroke="#ab9dd9" stroke-width="1.85" stroke-linecap="round"><use href="#thr0"/></g>
<g transform="matrix(0.5035 0 0 0.4679 333.92 82.93)" stroke="#b1a4db" stroke-width="1.85" stroke-linecap="round"><use href="#thr4"/></g>
<g transform="matrix(0.5035 0 0 0.4679 333.92 82.93)" stroke="#b3a7dc" stroke-width="1.85" stroke-linecap="round"><use href="#thr5"/></g>
<g transform="matrix(0.5035 0 0 0.4679 333.92 82.93)" stroke="#b8acde" stroke-width="1.85" stroke-linecap="round"><use href="#thr1"/></g>
<g transform="matrix(0.5035 0 0 0.4679 333.92 82.93)" stroke="#bcb1e0" stroke-width="1.85" stroke-linecap="round"><use href="#thr2"/></g>
<g transform="matrix(0.5035 0 0 0.4679 333.92 82.93)" stroke="#d1cae8" stroke-width="1.85" stroke-linecap="round"><use href="#thr6"/></g>
<g transform="matrix(0.5035 0 0 0.4679 333.92 82.93)" stroke="#9a8bd2" stroke-width="1.85" stroke-linecap="round"><use href="#mono1"/></g>
<g transform="matrix(0.5035 0 0 0.4679 333.92 82.93)" stroke="#a192d5" stroke-width="1.85" stroke-linecap="round"><use href="#mono5"/></g>
<g transform="matrix(0.5035 0 0 0.4679 333.92 82.93)" stroke="#a899d8" stroke-width="1.85" stroke-linecap="round"><use href="#mono0"/></g>
<g transform="matrix(0.5035 0 0 0.4679 333.92 82.93)" stroke="#a899d8" stroke-width="1.85" stroke-linecap="round"><use href="#mono2"/></g>
<g transform="matrix(0.5035 0 0 0.4679 333.92 82.93)" stroke="#b0a4db" stroke-width="1.85" stroke-linecap="round"><use href="#mono6"/></g>
<g transform="matrix(0.5035 0 0 0.4679 333.92 82.93)" stroke="#cac2e5" stroke-width="1.85" stroke-linecap="round"><use href="#mono7"/></g>
<g transform="matrix(0.5035 0 0 0.4679 333.92 82.93)" stroke="#cbc3e6" stroke-width="1.85" stroke-linecap="round"><use href="#mono4"/></g>
<g transform="matrix(0.5035 0 0 0.4679 333.92 82.93)" stroke="#d5d0ea" stroke-width="1.85" stroke-linecap="round"><use href="#mono3"/></g>
<g transform="matrix(0.5035 0 0 0.4679 333.92 82.93)" stroke="#9d8ed3" stroke-width="1.85" stroke-linecap="round"><use href="#monop5"/></g>
<g transform="matrix(0.5035 0 0 0.4679 333.92 82.93)" stroke="#a091d4" stroke-width="1.85" stroke-linecap="round"><use href="#monop1"/></g>
<g transform="matrix(0.5035 0 0 0.4679 333.92 82.93)" stroke="#a798d7" stroke-width="1.85" stroke-linecap="round"><use href="#monop7"/></g>
<g transform="matrix(0.5035 0 0 0.4679 333.92 82.93)" stroke="#ab9dd9" stroke-width="1.85" stroke-linecap="round"><use href="#monop2"/></g>
<g transform="matrix(0.5035 0 0 0.4679 333.92 82.93)" stroke="#ac9fda" stroke-width="1.85" stroke-linecap="round"><use href="#monop3"/></g>
<g transform="matrix(0.5035 0 0 0.4679 333.92 82.93)" stroke="#beb5e1" stroke-width="1.85" stroke-linecap="round"><use href="#monop0"/></g>
<g transform="matrix(0.5035 0 0 0.4679 333.92 82.93)" stroke="#c1b7e2" stroke-width="1.85" stroke-linecap="round"><use href="#monop6"/></g>
<g transform="matrix(0.5035 0 0 0.4679 333.92 82.93)" stroke="#d7d2eb" stroke-width="1.85" stroke-linecap="round"><use href="#monop4"/></g>
<line x1="351.8" y1="95" x2="351.8" y2="160.1" stroke="#000" stroke-width="0.8"/>
<line x1="351.8" y1="160.1" x2="421.9" y2="160.1" stroke="#000" stroke-width="0.8"/>
<line x1="349.8" y1="103.3" x2="351.8" y2="103.3" stroke="#000" stroke-width="0.6"/>
<line x1="349.8" y1="116.4" x2="351.8" y2="116.4" stroke="#000" stroke-width="0.6"/>
<line x1="349.8" y1="129.5" x2="351.8" y2="129.5" stroke="#000" stroke-width="0.6"/>
<line x1="349.8" y1="142.6" x2="351.8" y2="142.6" stroke="#000" stroke-width="0.6"/>
<line x1="349.8" y1="155.7" x2="351.8" y2="155.7" stroke="#000" stroke-width="0.6"/>
<line x1="352.1" y1="160.1" x2="352.1" y2="162.1" stroke="#000" stroke-width="0.6"/>
<line x1="366.4" y1="160.1" x2="366.4" y2="162.1" stroke="#000" stroke-width="0.6"/>
<line x1="380.7" y1="160.1" x2="380.7" y2="162.1" stroke="#000" stroke-width="0.6"/>
<line x1="395" y1="160.1" x2="395" y2="162.1" stroke="#000" stroke-width="0.6"/>
<line x1="409.3" y1="160.1" x2="409.3" y2="162.1" stroke="#000" stroke-width="0.6"/>
<text x="353.1" y="99.3" font-size="6.4" font-style="italic" fill="#222">hbba1</text>
<linearGradient id="gD" x1="0" y1="1" x2="0" y2="0"><stop offset="0" stop-color="#e4def2"/><stop offset="0.6" stop-color="#7a68c0"/><stop offset="1" stop-color="#1a2a9a"/></linearGradient>
<rect x="413.3" y="99" width="2.3" height="12.9" fill="url(#gD)"/>
<text x="0" y="0" font-size="4.6" text-anchor="middle" fill="#333" transform="translate(417.6 99.7) rotate(90)">7.5</text>
<text x="0" y="0" font-size="4.6" text-anchor="middle" fill="#333" transform="translate(421.2 103.9) rotate(90)">5.0</text>
<text x="0" y="0" font-size="4.6" text-anchor="middle" fill="#333" transform="translate(417.6 108.2) rotate(90)">2.5</text>
<text x="0" y="0" font-size="4.6" text-anchor="middle" fill="#333" transform="translate(421.2 112.4) rotate(90)">0.0</text>
<path d="M441.7 106.6 442.7 104.1 445.1 102.5 448.5 101.6 451.9 101.6 453.9 100.9 455.2 103.4 454.6 106.6 453.2 108.5 451.2 110.3 447.8 111.5 444.4 111.1 442.4 109.4Z" fill="#d4d4d4" stroke="#d4d4d4" stroke-width="1.3" stroke-linejoin="round"/>
<path d="M450.1 101.4 453.1 100.5 457.1 99.1 460.1 98 459.1 99.5 457.1 102.1 455.6 105.6 454.6 104.5 453.6 102.1Z" fill="#d4d4d4" stroke="#d4d4d4" stroke-width="1.3" stroke-linejoin="round"/>
<path d="M447.1 111.2 449.5 114.8 450.1 113.8 452.6 112.3 451.1 110.5Z" fill="#d4d4d4" stroke="#d4d4d4" stroke-width="1.3" stroke-linejoin="round"/>
<path d="M461.7 113.3 463.7 111.9 466.1 111.6 465.2 113.1 463.7 114.8 462.1 114.5Z" fill="#d4d4d4" stroke="#d4d4d4" stroke-width="1.3" stroke-linejoin="round"/>
<path d="M458.3 117.6 459.4 116.3 460.3 116.9 459.6 118.3Z" fill="#d4d4d4" stroke="#d4d4d4" stroke-width="1.3" stroke-linejoin="round"/>
<path d="M472.2 111.4 474.2 112.6 473.7 113 472.2 111.9Z" fill="#d4d4d4" stroke="#d4d4d4" stroke-width="1.3" stroke-linejoin="round"/>
<path d="M483.5 120.4 485.1 118.3 487.3 117.3 489.3 115.7 490.8 114.5 493.4 114 495.4 114.5 496.7 116.6 496.4 119.2 494.9 121.1 492.4 122.5 489.6 123.6 486.3 123.9 484 123.2Z" fill="#d4d4d4" stroke="#d4d4d4" stroke-width="1.3" stroke-linejoin="round"/>
<path d="M480.1 114.5 484.8 117.6 483.4 119.9 481.8 116.6Z" fill="#d4d4d4" stroke="#d4d4d4" stroke-width="1.3" stroke-linejoin="round"/>
<path d="M496.9 119 499.9 120.6 499.7 121.1 496.6 119.4Z" fill="#d4d4d4" stroke="#d4d4d4" stroke-width="1.3" stroke-linejoin="round"/>
<path d="M468.4 130 475.2 126 482.3 122.2 485.8 122.5 486.8 123.6 484.3 125.7 476.7 129 470.2 133Z" fill="#d4d4d4" stroke="#d4d4d4" stroke-width="1.3" stroke-linejoin="round"/>
<path d="M459.4 130.3 463.4 129 466.9 129 468.6 131.7 468.3 135 467.5 138.2 467.2 141.4 464.6 141.7 460.5 142 458.8 139.8 455.8 138.2 455.6 136 458.2 134.4 458.8 132.8Z" fill="#d4d4d4" stroke="#d4d4d4" stroke-width="1.3" stroke-linejoin="round"/>
<path d="M448.5 139.7 450.6 138.6 454.6 138 458 139.4 460 142 459.2 144.3 456.7 145.5 453 145.5 450.2 144.3 448.5 142Z" fill="#d4d4d4" stroke="#d4d4d4" stroke-width="1.3" stroke-linejoin="round"/>
<path d="M460 142.4 463.3 142.8 467 141.6 469.7 143.1 469.2 145.6 468.2 146.7 465 145.9 461.6 145.1 460.4 143.9Z" fill="none" stroke="#d4d4d4" stroke-width="1.6" stroke-linejoin="round"/>
<g transform="matrix(0.5035 0 0 0.4679 416.82 82.93)" stroke="#d4d4d4" stroke-width="3.09" stroke-linecap="round"><use href="#phagL0"/><use href="#phagL1"/><use href="#phagL2"/><use href="#phagL3"/><use href="#phagL4"/><use href="#phagL5"/><use href="#phagL6"/><use href="#phagL7"/><use href="#phagL8"/><use href="#phagL9"/></g>
<path d="M469.7 143.1 470.7 143.2 472.4 142 474.8 141.6 476.9 144.3 474.8 145.5 471.5 145.1 469.2 145.6Z" fill="#d4d4d4" stroke="#d4d4d4" stroke-width="1.3" stroke-linejoin="round"/>
<path d="M457.1 145.9 460 145.1 463.3 147 468.2 147.8 471.5 149.3 473.2 152 472.4 154.7 469 155.8 464.2 155.4 460.8 153.5 457.6 149.7 456.3 147.4Z" fill="none" stroke="#d4d4d4" stroke-width="1.6" stroke-linejoin="round"/>
<g transform="matrix(0.5035 0 0 0.4679 416.82 82.93)" stroke="#d4d4d4" stroke-width="3.09" stroke-linecap="round"><use href="#lymO0"/><use href="#lymO1"/><use href="#lymO2"/><use href="#lymO3"/><use href="#lymO4"/><use href="#lymO5"/><use href="#lymO6"/><use href="#lymO7"/><use href="#lymO8"/><use href="#lymO9"/></g>
<path d="M460.8 149.3 464.2 150.1 468.2 150.8 469.5 152.4 467.4 153.5 465 153.9 462.5 152.7 460.8 150.8Z" fill="#d4d4d4" stroke="#d4d4d4" stroke-width="1.3" stroke-linejoin="round"/>
<path d="M438 148.7 445.3 143.5 447.3 145.2 440 151.7Z" fill="#d4d4d4" stroke="#d4d4d4" stroke-width="0.5" stroke-linejoin="round"/>
<path d="M452.1 122.2 454.1 121.5 456.6 123.4 457.6 126.3 455.6 126.9 452.6 125.5Z" fill="#d4d4d4" stroke="#d4d4d4" stroke-width="1.3" stroke-linejoin="round"/>
<path d="M456.1 125 460.1 126.4 464.7 127.6 464.6 129 460.1 127.8 456.6 126.7Z" fill="#d4d4d4" stroke="#d4d4d4" stroke-width="1.3" stroke-linejoin="round"/>
<path d="M454.7 127.4 457.1 127.1 458.8 128.3 458.1 129.8 455.1 129.2Z" fill="#d4d4d4" stroke="#d4d4d4" stroke-width="1.3" stroke-linejoin="round"/>
<path d="M471.6 124.7 473.2 124.6 473.9 126.4 472.7 127.4 471.6 126.4Z" fill="#d4d4d4" stroke="#d4d4d4" stroke-width="1.3" stroke-linejoin="round"/>
<path d="M459.1 143.3 467.2 142.3 470.2 143.8 471.7 147 469.2 148.4 464.7 147.7 461.1 146.6 458.6 145.2Z" fill="#d4d4d4" stroke="#d4d4d4" stroke-width="1.3" stroke-linejoin="round"/>
<path d="M465.2 127.8 468.7 126.4 471.2 126 470.2 129.2 468.2 131.1 466.2 130.2Z" fill="#d4d4d4" stroke="#d4d4d4" stroke-width="1.3" stroke-linejoin="round"/>
<g transform="matrix(0.5035 0 0 0.4679 416.82 82.93)" stroke="#fff" stroke-width="1.44" stroke-linecap="round"><use href="#phagL1"/></g>
<ellipse cx="461.9" cy="142.6" rx="1.2" ry="1.3" fill="#fff"/>
<ellipse cx="465.7" cy="146.6" rx="1.9" ry="1.2" fill="#fff"/>
<ellipse cx="469.3" cy="143.5" rx="1.6" ry="1" fill="#fff"/>
<ellipse cx="466.9" cy="150.3" rx="1.5" ry="1.1" fill="#fff"/>
<ellipse cx="460.6" cy="137.4" rx="1.1" ry="1" fill="#fff"/>
<ellipse cx="463.7" cy="139.1" rx="0.7" ry="0.7" fill="#fff"/>
<ellipse cx="469.7" cy="152.6" rx="0.9" ry="0.7" fill="#fff"/>
<g transform="matrix(0.5035 0 0 0.4679 416.82 82.93)" stroke="#c2b9e2" stroke-width="1.85" stroke-linecap="round"><use href="#hspc10"/></g>
<g transform="matrix(0.5035 0 0 0.4679 416.82 82.93)" stroke="#d1cbe8" stroke-width="1.85" stroke-linecap="round"><use href="#hspc11"/></g>
<g transform="matrix(0.5035 0 0 0.4679 416.82 82.93)" stroke="#c2b9e2" stroke-width="1.85" stroke-linecap="round"><use href="#hspc20"/></g>
<g transform="matrix(0.5035 0 0 0.4679 416.82 82.93)" stroke="#d7d2eb" stroke-width="1.85" stroke-linecap="round"><use href="#nkst0"/></g>
<line x1="434.7" y1="95" x2="434.7" y2="160.1" stroke="#000" stroke-width="0.8"/>
<line x1="434.7" y1="160.1" x2="504.8" y2="160.1" stroke="#000" stroke-width="0.8"/>
<line x1="432.7" y1="103.3" x2="434.7" y2="103.3" stroke="#000" stroke-width="0.6"/>
<line x1="432.7" y1="116.4" x2="434.7" y2="116.4" stroke="#000" stroke-width="0.6"/>
<line x1="432.7" y1="129.5" x2="434.7" y2="129.5" stroke="#000" stroke-width="0.6"/>
<line x1="432.7" y1="142.6" x2="434.7" y2="142.6" stroke="#000" stroke-width="0.6"/>
<line x1="432.7" y1="155.7" x2="434.7" y2="155.7" stroke="#000" stroke-width="0.6"/>
<line x1="435" y1="160.1" x2="435" y2="162.1" stroke="#000" stroke-width="0.6"/>
<line x1="449.3" y1="160.1" x2="449.3" y2="162.1" stroke="#000" stroke-width="0.6"/>
<line x1="463.6" y1="160.1" x2="463.6" y2="162.1" stroke="#000" stroke-width="0.6"/>
<line x1="477.9" y1="160.1" x2="477.9" y2="162.1" stroke="#000" stroke-width="0.6"/>
<line x1="492.2" y1="160.1" x2="492.2" y2="162.1" stroke="#000" stroke-width="0.6"/>
<text x="436" y="99.3" font-size="6.4" font-style="italic" fill="#222">gata2b</text>
<linearGradient id="gE" x1="0" y1="1" x2="0" y2="0"><stop offset="0" stop-color="#e4def2"/><stop offset="0.6" stop-color="#7a68c0"/><stop offset="1" stop-color="#1a2a9a"/></linearGradient>
<rect x="498.2" y="99" width="2.7" height="13.4" fill="url(#gE)"/>
<text x="0" y="0" font-size="4.6" text-anchor="middle" fill="#333" transform="translate(502.1 99.7) rotate(90)">4</text>
<text x="0" y="0" font-size="4.6" text-anchor="middle" fill="#333" transform="translate(502.1 103) rotate(90)">3</text>
<text x="0" y="0" font-size="4.6" text-anchor="middle" fill="#333" transform="translate(502.1 106.3) rotate(90)">2</text>
<text x="0" y="0" font-size="4.6" text-anchor="middle" fill="#333" transform="translate(502.1 109.6) rotate(90)">1</text>
<text x="0" y="0" font-size="4.6" text-anchor="middle" fill="#333" transform="translate(502.1 112.9) rotate(90)">0</text>
<text x="349" y="33" font-size="6" text-anchor="end" fill="#333">10</text>
<text x="349" y="46.1" font-size="6" text-anchor="end" fill="#333">5</text>
<text x="349" y="59.2" font-size="6" text-anchor="end" fill="#333">0</text>
<text x="349" y="72.3" font-size="6" text-anchor="end" fill="#333">−5</text>
<text x="349" y="85.4" font-size="6" text-anchor="end" fill="#333">−10</text>
<text x="349" y="105.4" font-size="6" text-anchor="end" fill="#333">10</text>
<text x="349" y="118.5" font-size="6" text-anchor="end" fill="#333">5</text>
<text x="349" y="131.6" font-size="6" text-anchor="end" fill="#333">0</text>
<text x="349" y="144.7" font-size="6" text-anchor="end" fill="#333">−5</text>
<text x="349" y="157.8" font-size="6" text-anchor="end" fill="#333">−10</text>
<text x="352.1" y="166.6" font-size="6" text-anchor="middle" fill="#333">−10</text>
<text x="366.4" y="166.6" font-size="6" text-anchor="middle" fill="#333">−5</text>
<text x="380.7" y="166.6" font-size="6" text-anchor="middle" fill="#333">0</text>
<text x="395" y="166.6" font-size="6" text-anchor="middle" fill="#333">5</text>
<text x="409.3" y="166.6" font-size="6" text-anchor="middle" fill="#333">10</text>
<text x="435" y="166.6" font-size="6" text-anchor="middle" fill="#333">−10</text>
<text x="449.3" y="166.6" font-size="6" text-anchor="middle" fill="#333">−5</text>
<text x="463.6" y="166.6" font-size="6" text-anchor="middle" fill="#333">0</text>
<text x="477.9" y="166.6" font-size="6" text-anchor="middle" fill="#333">5</text>
<text x="492.2" y="166.6" font-size="6" text-anchor="middle" fill="#333">10</text>
<text x="339" y="16.4" font-size="11.4" font-weight="bold">B</text>
<text x="424" y="16.6" font-size="11.4" font-weight="bold">C</text>
<text x="339" y="97.4" font-size="11.4" font-weight="bold">D</text>
<text x="424" y="98.3" font-size="11.4" font-weight="bold">E</text>
<line x1="336.6" y1="25" x2="336.6" y2="160" stroke="#8a8a8a" stroke-width="1.4"/>
<path d="M336.6 21 L335 25.5 L338.2 25.5Z"/>
<text x="0" y="0" font-size="7.6" text-anchor="middle" font-weight="bold" fill="#333" transform="translate(331.9 92.4) rotate(-90)" textLength="22.8" lengthAdjust="spacingAndGlyphs">UMAP_2</text>
<line x1="351" y1="172.7" x2="501" y2="172.7" stroke="#8a8a8a" stroke-width="1.4"/>
<path d="M504.5 172.6 L500 171 L500 174.2Z"/>
<text x="435" y="181.8" font-size="7.4" text-anchor="middle" font-weight="bold" fill="#333" textLength="22.2" lengthAdjust="spacingAndGlyphs">UMAP_1</text>
<line x1="33.3" y1="210.8" x2="33.3" y2="240.3" stroke="#000" stroke-width="0.8"/>
<line x1="31.5" y1="239.5" x2="33.3" y2="239.5" stroke="#000" stroke-width="0.6"/>
<text x="30.7" y="241.2" font-size="5" text-anchor="end">0</text>
<line x1="31.5" y1="233.7" x2="33.3" y2="233.7" stroke="#000" stroke-width="0.6"/>
<text x="30.7" y="235.3" font-size="5" text-anchor="end">1</text>
<line x1="31.5" y1="227.8" x2="33.3" y2="227.8" stroke="#000" stroke-width="0.6"/>
<text x="30.7" y="229.5" font-size="5" text-anchor="end">2</text>
<line x1="31.5" y1="221.9" x2="33.3" y2="221.9" stroke="#000" stroke-width="0.6"/>
<text x="30.7" y="223.6" font-size="5" text-anchor="end">3</text>
<line x1="31.5" y1="216.1" x2="33.3" y2="216.1" stroke="#000" stroke-width="0.6"/>
<text x="30.7" y="217.8" font-size="5" text-anchor="end">4</text>
<line x1="33.3" y1="239.7" x2="162.1" y2="239.7" stroke="#222" stroke-width="0.9"/>
<path d="M35.3 239.2h4M41.7 239.2h4M48 239.2h4M54.4 239.2h4M60.7 239.2h4M67.1 239.2h4M73.5 239.2h4M79.8 239.2h4M86.2 239.2h4M92.5 239.2h4M98.9 239.2h4M105.3 239.2h4M111.6 239.2h4M118 239.2h4M124.3 239.2h4M130.7 239.2h4M137.1 239.2h4M143.4 239.2h4M149.8 239.2h4M156.1 239.2h4" stroke="#000" stroke-width="1.5"/>
<line x1="37.3" y1="239.5" x2="37.3" y2="241.3" stroke="#000" stroke-width="0.5"/>
<line x1="43.7" y1="239.5" x2="43.7" y2="241.3" stroke="#000" stroke-width="0.5"/>
<line x1="50" y1="239.5" x2="50" y2="241.3" stroke="#000" stroke-width="0.5"/>
<line x1="56.4" y1="239.5" x2="56.4" y2="241.3" stroke="#000" stroke-width="0.5"/>
<line x1="62.7" y1="239.5" x2="62.7" y2="241.3" stroke="#000" stroke-width="0.5"/>
<line x1="69.1" y1="239.5" x2="69.1" y2="241.3" stroke="#000" stroke-width="0.5"/>
<line x1="75.5" y1="239.5" x2="75.5" y2="241.3" stroke="#000" stroke-width="0.5"/>
<line x1="81.8" y1="239.5" x2="81.8" y2="241.3" stroke="#000" stroke-width="0.5"/>
<line x1="88.2" y1="239.5" x2="88.2" y2="241.3" stroke="#000" stroke-width="0.5"/>
<line x1="94.5" y1="239.5" x2="94.5" y2="241.3" stroke="#000" stroke-width="0.5"/>
<line x1="100.9" y1="239.5" x2="100.9" y2="241.3" stroke="#000" stroke-width="0.5"/>
<line x1="107.3" y1="239.5" x2="107.3" y2="241.3" stroke="#000" stroke-width="0.5"/>
<line x1="113.6" y1="239.5" x2="113.6" y2="241.3" stroke="#000" stroke-width="0.5"/>
<line x1="120" y1="239.5" x2="120" y2="241.3" stroke="#000" stroke-width="0.5"/>
<line x1="126.3" y1="239.5" x2="126.3" y2="241.3" stroke="#000" stroke-width="0.5"/>
<line x1="132.7" y1="239.5" x2="132.7" y2="241.3" stroke="#000" stroke-width="0.5"/>
<line x1="139.1" y1="239.5" x2="139.1" y2="241.3" stroke="#000" stroke-width="0.5"/>
<line x1="145.4" y1="239.5" x2="145.4" y2="241.3" stroke="#000" stroke-width="0.5"/>
<line x1="151.8" y1="239.5" x2="151.8" y2="241.3" stroke="#000" stroke-width="0.5"/>
<line x1="158.1" y1="239.5" x2="158.1" y2="241.3" stroke="#000" stroke-width="0.5"/>
<text x="91.5" y="202.5" font-size="6.8" text-anchor="middle" font-style="italic" fill="#333">fli 1a</text>
<text x="0" y="0" font-size="7.0" text-anchor="middle" font-weight="bold" fill="#333" transform="translate(23 224.3) rotate(-90)" textLength="35.2" lengthAdjust="spacingAndGlyphs">Expression Level</text>
<path d="M85.9 239.5 L88.2 236.3 L90.5 239.5 Z" fill="#1aa37a"/>
<line x1="37.3" y1="239.5" x2="37.3" y2="213.5" stroke="#000" stroke-width="0.7"/>
<path d="M39.7 213.5h0m-.2 .3h0m-.4-.3h0m-.2 .1h0m-.7-.1h0m-.1 0h0m-.3 1h0m-.2-1h0m-.2 2.3h0m-.1-.6h0m-.1 .2h0m-.2-1.9h0m-.9 2h0m-.3-2h0m-.1 0h0m0 3.7h0m.2-.2h0m.1 1.4h0m.2-2h0m.4 .8h0m1.3 0h0m1-.7h0m.3 1.8h0m.1 .4h0m.7 .3h0m-.2 1.7h0m-.2-.5h0m-.1 1.4h0m-1-1.7h0m-.1 1.2h0m-.4 .3h0m-.2-2.3h0m0 2.5h0m-.3-.8h0m-.1-1h0m0 1.2h0m-.2 .6h0m-.1-1.3h0m-.5 .4h0m0-.4h0m-.1-.9h0m-.1 2h0m-.5-.9h0m-.5 1.4h0m-.2-1.6h0m-.3-1.2h0m-.3 3h0m.2 .6h0m0 1.1h0m.1-1.7h0m.2 1.6h0m0 1h0m.1-1.5h0m.3-.1h0m.1 1.1h0m.2-.9h0m.1 1.5h0m.4-2.4h0m0 1.5h0m.1-1.3h0m.1-.4h0m.2 1.5h0m.7-1.5h0m.4 1.4h0m0 .9h0m.4 .3h0m.2-1.4h0m.1 1.5h0m.5-1.2h0m0-1.4h0m.5 2.4h0m.4 .2h0m.2-2.6h0m0 .9h0m0 3.1h0m-.3 .6h0m0 1h0m-.1-2.8h0m0 .4h0m-.1 2.3h0m-.6-2.5h0m-.4 1.3h0m0-.8h0m0 .8h0m-.9-.1h0m-.1 .6h0m0-.1h0m-.2-.7h0m-.1 1.4h0m-.3-2.6h0m-.3 .8h0m0-.7h0m-.1 2h0m0-.7h0m-.2-.8h0m-.3 1.4h0m-.1-.3h0m-.1-.6h0m-.3 .5h0m0 .3h0m0 .5h0m0-1.1h0m-.3-.5h0m-.4 .5h0m0 .3h0m0-.3h0m-.3-.5h0m-.1 .8h0m0 3.3h0m.1-1.6h0m.1 1.9h0m0-.1h0m.1 .1h0m.2-1.4h0m0 .1h0m.1-.2h0m.3-.4h0m.1-.3h0m0 2.3h0m.2 .3h0m.1 .1h0m.1-1.6h0m.1-.4h0m.6 1.3h0m.1-1.1h0m.1-.7h0m.1-.1h0m.3 2.2h0m.1 .5h0m.1-.6h0m.2-.7h0m.1-.2h0m0 1.5h0m.5-1.1h0m.1-.9h0m.4-.5h0m.2 2.1h0m0-1.9h0m.1 .8h0m.1 .5h0m0-.6h0m0 1.2h0m.1-1.4h0m.3 .1h0m.2-.8h0m.1 2.3h0m.1-1.4h0m0 .1h0m.1 3.8h0m-.4-.2h0m-.1-1.9h0m0 2.4h0m-.4-.1h0m-.2-.7h0m-.2-1.1h0m-.1 2h0m-.3-1.1h0m-.5 .6h0m0 .4h0m-.4 .3h0m0-.7h0m-.4-.3h0m-.2-1.8h0m-.3 .6h0m-.1 1.8h0m-.1-1.3h0m-.2-1h0m-.2 1.2h0m0-.1h0m-.1 .9h0m0 .7h0m-.4-.3h0m-.1-2h0m-.5 .2h0m-.2 2.6h0m0 1.3h0m.3 .4h0m0-.5h0m0 .5h0m.1-2h0m.2 1.7h0m0-.1h0m.2 .4h0m.1 0h0m.1-1.1h0m.3 1.1h0m.1 0h0m.2-1.9h0m0 0h0m0 1.9h0m.4-1.3h0m.2-.7h0m.1 .3h0m0 1.7h0m.1 0h0m.1 0h0m.1-.3h0m0-.5h0m.7 .7h0m.3 .1h0m.1-1.6h0m.5 .9h0m.1-1.3h0m.2 .6h0m.3 .2h0m0 .3h0m.2 .9h0m.2 0h0m0-1.6h0m0 .6h0" stroke="#000" stroke-width="1.2" stroke-linecap="round"/>
<line x1="43.7" y1="239.5" x2="43.7" y2="219.6" stroke="#000" stroke-width="0.7"/>
<path d="M41.7 222.5h0m1.1 .1h0m.3 .7h0m0-.8h0m.4 1h0m.2 .1h0m.5 1h0m1.7 .2h0m.2-.1h0m0 1.7h0m-.2 1.2h0m-.3-2.5h0m-.1 .4h0m0 1.8h0m0 .4h0m-.1-.7h0m-.3 .9h0m0-1.9h0m-.2 1.6h0m-.2-.6h0m-.5 .3h0m-.1-1.2h0m-.2 .2h0m-.3-.7h0m0-.2h0m0 2.1h0m-1.3-1.3h0m0 1.7h0m-.2-.5h0m0-.5h0m-.1 .4h0m-.4-2h0m0 0h0m0-.1h0m-.3 1.7h0m-.1 .9h0m-.1-.4h0m-.2-1.7h0m.1 5.1h0m.1-1.9h0m.2-.9h0m0 .6h0m0 1.4h0m.1-.5h0m0-.2h0m.3 .2h0m0 1.1h0m.1-1h0m0 1.2h0m.4-1.9h0m.1 .9h0m.2-.5h0m.3 .4h0m0-1.6h0m0 1.6h0m.1-.8h0m.7 1.5h0m0-1.4h0m.2 .3h0m.1 .6h0m0 0h0m.1-1.7h0m.1 .4h0m.2 1.2h0m.2 0h0m.3-.5h0m.1 0h0m.1-1.2h0m0 2.3h0m.1 .1h0m.1-.7h0m.2-.3h0m.3-.4h0m.2-.2h0m0 .8h0m0-.2h0m.5 .4h0m0-1.2h0m0-.7h0m.1 4.1h0m-.9 1.5h0m-.1-.8h0m0 .2h0m-.2 .8h0m-.7-.4h0m-.4-1.9h0m-.2 1.1h0m0 .7h0m0-.1h0m-.1-1.4h0m-.4 .1h0m-.1 .8h0m0-.9h0m-.2-.8h0m-.4 1.7h0m0 .9h0m-.5 .3h0m-.1-1.6h0m0-1.1h0m-.5 .4h0m-.1 .5h0m0-1.1h0m-.1 1.1h0m0-.7h0m-.4 1.1h0m0 .5h0m-.2 1.9h0m.2-.3h0m0 .9h0m0 .5h0m.1 0h0m.3-1.6h0m.1 .7h0m.3 .9h0m.6-1.4h0m.1 1.4h0m.1-1h0m0 1h0m.4 0h0m.3-.6h0m.2-1.1h0m.1 .1h0m.4 .6h0m.1 .6h0m0 .4h0m.1 0h0m.2 0h0m.5 0h0m.1 0h0m.1-1.6h0m.2 1.6h0m.2-.4h0m0-.7h0m.4 1.1h0m.1 0h0" stroke="#000" stroke-width="1.2" stroke-linecap="round"/>
<line x1="50" y1="239.5" x2="50" y2="216.1" stroke="#000" stroke-width="0.7"/>
<path d="M51.3 216.1h0m.2 1.1h0m.5 .5h0m-1.2 2.7h0m-.8 .4h0m-1.7 .5h0m-.3 3.6h0m1.6-2h0m1.7 1h0m.1-1.5h0m-2 3h0m-1.5 1.9h0m.4 .7h0m1.4 2.2h0m.2 0h0m0-1.5h0m.2 1.2h0m2 2.4h0m-4.2 0h0m1.2 3.7h0m.4-1.6h0m.3 1.6h0m1 0h0m.2-.9h0m.6 .9h0" stroke="#000" stroke-width="1.2" stroke-linecap="round"/>
<line x1="56.4" y1="239.5" x2="56.4" y2="219" stroke="#000" stroke-width="0.7"/>
<path d="M56.2 219h0m1.3 6.9h0m-.2-.4h0m-1.3 2.9h0m0 5h0m-1.7 .6h0" stroke="#000" stroke-width="1.2" stroke-linecap="round"/>
<line x1="62.7" y1="239.5" x2="62.7" y2="220.8" stroke="#000" stroke-width="0.7"/>
<path d="M61.1 228h0m2.2 2.9h0m.8-2.6h0m.7 2.6h0" stroke="#000" stroke-width="1.2" stroke-linecap="round"/>
<line x1="75.5" y1="239.5" x2="75.5" y2="222.8" stroke="#000" stroke-width="0.7"/>
<path d="M74.7 227.3h0m2.7 5h0m.1 3.6h0" stroke="#000" stroke-width="1.2" stroke-linecap="round"/>
<line x1="81.8" y1="239.5" x2="81.8" y2="221.4" stroke="#000" stroke-width="0.7"/>
<path d="M80 229.3h0m.2 .2h0m1-.8h0m1.4 .5h0m.5 2.3h0m-.7 .4h0m-.1-.9h0m-1.3 1.2h0m-1.3 1.4h0m3.1 1.2h0m.3 1.2h0m.5-1.4h0" stroke="#000" stroke-width="1.2" stroke-linecap="round"/>
<line x1="88.2" y1="239.5" x2="88.2" y2="216.1" stroke="#000" stroke-width="0.7"/>
<path d="M86.4 216.1h0m.2 2.8h0m1.1-2.8h0m.6 .4h0m1 2h0m.8 .2h0m-1.6 1.7h0m-.5 0h0m-.6 .4h0m-.2-1.1h0m-.5 1.4h0m-.1-.5h0m-.4 2h0m1 1.1h0m.5 .4h0m.6-1.8h0m0-.2h0m.6 2.6h0m0-.3h0m1-2.3h0m.1 0h0m0 5.8h0m-1.1-1.4h0m-.3 1.3h0m-.2-1.5h0m-.6 .3h0m-.7-1.4h0m-.1 .4h0m-.1 3.2h0m.1-.1h0m.7 .9h0m1.7 1h0m.2-2.2h0m.1 .4h0m-.5 3.7h0m-.3-1.2h0m-.8 1.4h0m-1.3 .5h0m-.3-.6h0m-.3 3.1h0" stroke="#000" stroke-width="1.2" stroke-linecap="round"/>
<line x1="94.5" y1="239.5" x2="94.5" y2="219.9" stroke="#000" stroke-width="0.7"/>
<path d="M96.4 219.9h0m-1.2 0h0m1.3 6.2h0m-2.2 1h0m-.7 .4h0m-.8 .4h0m1.6 1.1h0m1.5-.7h0m.7 2.5h0m-.3 2.6h0m-.5-1.6h0m-.2 1.8h0m-.8-2.3h0m-1.5 2.1h0m-.1 2.6h0m2.6-1.7h0m.2 1.7h0m.4 0h0" stroke="#000" stroke-width="1.2" stroke-linecap="round"/>
<line x1="100.9" y1="239.5" x2="100.9" y2="234.5" stroke="#000" stroke-width="0.7"/>
<line x1="107.3" y1="239.5" x2="107.3" y2="223.4" stroke="#000" stroke-width="0.7"/>
<path d="M108.5 223.4h0m-2.3 3.1h0m-.2 6.8h0" stroke="#000" stroke-width="1.2" stroke-linecap="round"/>
<line x1="113.6" y1="239.5" x2="113.6" y2="215.5" stroke="#000" stroke-width="0.7"/>
<path d="M112.7 216.5h0m2.7 .6h0m-.9 3.4h0m-1.6 1.4h0m.6 .8h0m1.3 4.6h0m-2 3.5h0m1.2 0h0m.4 2.7h0m-2.1 0h0" stroke="#000" stroke-width="1.2" stroke-linecap="round"/>
<line x1="120" y1="239.5" x2="120" y2="220.8" stroke="#000" stroke-width="0.7"/>
<path d="M121.2 220.8h0m.9 1.5h0m-4 3.8h0m1.6 9.9h0m1.8 0h0m.6 0h0" stroke="#000" stroke-width="1.2" stroke-linecap="round"/>
<line x1="126.3" y1="239.5" x2="126.3" y2="222.2" stroke="#000" stroke-width="0.7"/>
<path d="M126.2 224.3h0m2.3 2.9h0m-3.6-.9h0m1.2 2.6h0m.5 1.9h0m.7-1.9h0m-3.1 2.7h0m2.4 4.4h0" stroke="#000" stroke-width="1.2" stroke-linecap="round"/>
<line x1="132.7" y1="239.5" x2="132.7" y2="219" stroke="#000" stroke-width="0.7"/>
<path d="M131.4 222.2h0m3.3 .5h0m-2.8 4.2h0m-1.3 5.5h0" stroke="#000" stroke-width="1.2" stroke-linecap="round"/>
<line x1="151.8" y1="239.5" x2="151.8" y2="229.6" stroke="#000" stroke-width="0.7"/>
<path d="M152.6 231.6h0m-2.9 .4h0m1.6 4h0" stroke="#000" stroke-width="1.2" stroke-linecap="round"/>
<text x="0" y="0" font-size="5.7" text-anchor="end" fill="#333" transform="translate(39.3 245.5) rotate(-45)">HSPC1</text>
<text x="0" y="0" font-size="5.7" text-anchor="end" fill="#333" transform="translate(45.7 245.5) rotate(-45)">HSPC2</text>
<text x="0" y="0" font-size="5.7" text-anchor="end" fill="#333" transform="translate(52 245.5) rotate(-45)">myeloid prog 1</text>
<text x="0" y="0" font-size="5.7" text-anchor="end" fill="#333" transform="translate(58.4 245.5) rotate(-45)">myeloid prog 2</text>
<text x="0" y="0" font-size="5.7" text-anchor="end" fill="#333" transform="translate(64.7 245.5) rotate(-45)">myeloid prog 3</text>
<text x="0" y="0" font-size="5.7" text-anchor="end" fill="#333" transform="translate(71.1 245.5) rotate(-45)">monocyte prog</text>
<text x="0" y="0" font-size="5.7" text-anchor="end" fill="#333" transform="translate(77.5 245.5) rotate(-45)">monocytes</text>
<text x="0" y="0" font-size="5.7" text-anchor="end" fill="#333" transform="translate(83.8 245.5) rotate(-45)">neutrophils</text>
<text x="0" y="0" font-size="5.7" text-anchor="end" fill="#333" transform="translate(90.2 245.5) rotate(-45)">thrombocytes</text>
<text x="0" y="0" font-size="5.7" text-anchor="end" fill="#333" transform="translate(96.5 245.5) rotate(-45)">erythroid prog 1</text>
<text x="0" y="0" font-size="5.7" text-anchor="end" fill="#333" transform="translate(102.9 245.5) rotate(-45)">hbba1 + klf1</text>
<text x="0" y="0" font-size="5.7" text-anchor="end" fill="#333" transform="translate(109.3 245.5) rotate(-45)">erythroid prog 2</text>
<text x="0" y="0" font-size="5.7" text-anchor="end" fill="#333" transform="translate(115.6 245.5) rotate(-45)">lymphoid prog</text>
<text x="0" y="0" font-size="5.7" text-anchor="end" fill="#333" transform="translate(122 245.5) rotate(-45)">B cells</text>
<text x="0" y="0" font-size="5.7" text-anchor="end" fill="#333" transform="translate(128.3 245.5) rotate(-45)">phagocytic B</text>
<text x="0" y="0" font-size="5.7" text-anchor="end" fill="#333" transform="translate(134.7 245.5) rotate(-45)">NK</text>
<text x="0" y="0" font-size="5.7" text-anchor="end" fill="#333" transform="translate(141.1 245.5) rotate(-45)">T cells</text>
<text x="0" y="0" font-size="5.7" text-anchor="end" fill="#333" transform="translate(147.4 245.5) rotate(-45)">pigr3.5</text>
<text x="0" y="0" font-size="5.7" text-anchor="end" fill="#333" transform="translate(153.8 245.5) rotate(-45)">epcam</text>
<text x="0" y="0" font-size="5.7" text-anchor="end" fill="#333" transform="translate(160.1 245.5) rotate(-45)">doublets</text>
<line x1="191.7" y1="209.3" x2="191.7" y2="241.3" stroke="#000" stroke-width="0.8"/>
<line x1="189.9" y1="240.5" x2="191.7" y2="240.5" stroke="#000" stroke-width="0.6"/>
<text x="189.1" y="242.2" font-size="5" text-anchor="end">0</text>
<line x1="189.9" y1="234" x2="191.7" y2="234" stroke="#000" stroke-width="0.6"/>
<text x="189.1" y="235.7" font-size="5" text-anchor="end">1</text>
<line x1="189.9" y1="227.5" x2="191.7" y2="227.5" stroke="#000" stroke-width="0.6"/>
<text x="189.1" y="229.2" font-size="5" text-anchor="end">2</text>
<line x1="189.9" y1="221" x2="191.7" y2="221" stroke="#000" stroke-width="0.6"/>
<text x="189.1" y="222.7" font-size="5" text-anchor="end">3</text>
<line x1="189.9" y1="214.5" x2="191.7" y2="214.5" stroke="#000" stroke-width="0.6"/>
<text x="189.1" y="216.2" font-size="5" text-anchor="end">4</text>
<line x1="191.7" y1="240.7" x2="320.5" y2="240.7" stroke="#222" stroke-width="0.9"/>
<path d="M193.7 240.2h4M200.2 240.2h4M206.6 240.2h4M213.1 240.2h4M219.6 240.2h4M226 240.2h4M232.5 240.2h4M239 240.2h4M245.5 240.2h4M251.9 240.2h4M258.4 240.2h4M264.9 240.2h4M271.3 240.2h4M277.8 240.2h4M284.3 240.2h4M290.8 240.2h4M297.2 240.2h4M303.7 240.2h4M310.2 240.2h4M316.6 240.2h4" stroke="#000" stroke-width="1.5"/>
<line x1="195.7" y1="240.5" x2="195.7" y2="242.3" stroke="#000" stroke-width="0.5"/>
<line x1="202.2" y1="240.5" x2="202.2" y2="242.3" stroke="#000" stroke-width="0.5"/>
<line x1="208.6" y1="240.5" x2="208.6" y2="242.3" stroke="#000" stroke-width="0.5"/>
<line x1="215.1" y1="240.5" x2="215.1" y2="242.3" stroke="#000" stroke-width="0.5"/>
<line x1="221.6" y1="240.5" x2="221.6" y2="242.3" stroke="#000" stroke-width="0.5"/>
<line x1="228" y1="240.5" x2="228" y2="242.3" stroke="#000" stroke-width="0.5"/>
<line x1="234.5" y1="240.5" x2="234.5" y2="242.3" stroke="#000" stroke-width="0.5"/>
<line x1="241" y1="240.5" x2="241" y2="242.3" stroke="#000" stroke-width="0.5"/>
<line x1="247.5" y1="240.5" x2="247.5" y2="242.3" stroke="#000" stroke-width="0.5"/>
<line x1="253.9" y1="240.5" x2="253.9" y2="242.3" stroke="#000" stroke-width="0.5"/>
<line x1="260.4" y1="240.5" x2="260.4" y2="242.3" stroke="#000" stroke-width="0.5"/>
<line x1="266.9" y1="240.5" x2="266.9" y2="242.3" stroke="#000" stroke-width="0.5"/>
<line x1="273.3" y1="240.5" x2="273.3" y2="242.3" stroke="#000" stroke-width="0.5"/>
<line x1="279.8" y1="240.5" x2="279.8" y2="242.3" stroke="#000" stroke-width="0.5"/>
<line x1="286.3" y1="240.5" x2="286.3" y2="242.3" stroke="#000" stroke-width="0.5"/>
<line x1="292.8" y1="240.5" x2="292.8" y2="242.3" stroke="#000" stroke-width="0.5"/>
<line x1="299.2" y1="240.5" x2="299.2" y2="242.3" stroke="#000" stroke-width="0.5"/>
<line x1="305.7" y1="240.5" x2="305.7" y2="242.3" stroke="#000" stroke-width="0.5"/>
<line x1="312.2" y1="240.5" x2="312.2" y2="242.3" stroke="#000" stroke-width="0.5"/>
<line x1="318.6" y1="240.5" x2="318.6" y2="242.3" stroke="#000" stroke-width="0.5"/>
<text x="254.5" y="202.5" font-size="6.8" text-anchor="middle" font-style="italic" fill="#333">meis1b</text>
<text x="0" y="0" font-size="7.0" text-anchor="middle" font-weight="bold" fill="#333" transform="translate(181.4 224) rotate(-90)" textLength="35.2" lengthAdjust="spacingAndGlyphs">Expression Level</text>
<line x1="195.7" y1="240.5" x2="195.7" y2="211.2" stroke="#000" stroke-width="0.7"/>
<path d="M194.4 212.7h0m3.7 .5h0m-4.7 2.1h0m-.4 1.6h0m.7 .1h0m.1 .9h0m0 1h0m1.4-.7h0m2.3 0h0m.9 2.2h0m-.5 1.5h0m-.2-.8h0m-.2 .7h0m-.2-.7h0m0 .4h0m-1-1.9h0m0 1h0m0 1.1h0m0-1h0m-1-1.6h0m-.1 2.8h0m-.3 0h0m-.5-2.2h0m-.3-.5h0m-.9 .5h0m-.1 2.2h0m-.1-.9h0m-.1 2.1h0m.1-1h0m.3 1.3h0m.8-1.1h0m.3 2.6h0m.2-2.8h0m.3 2.1h0m.1-1h0m.1 1.6h0m0-2.4h0m.1 1.8h0m.2-1.5h0m0 .3h0m.3 .8h0m.1 .1h0m.2 .7h0m.1-1.1h0m.1-.2h0m.1 1.5h0m.1-2.5h0m.1 0h0m0 .8h0m.2-.9h0m0 1.9h0m.4-.7h0m0-.1h0m.4-1h0m.2 2.6h0m.5-1.7h0m-.1 4.5h0m0 .1h0m-.1-1.6h0m-.1-.6h0m0 .7h0m-.2-.5h0m-.6-.8h0m0 2.9h0m-.1-.3h0m-.1-2.1h0m-.1 1.6h0m-.3-1.1h0m-.1 1.5h0m-.1-.8h0m0-.1h0m-.2 1.2h0m-.3-.1h0m-.1-2.5h0m0 1.6h0m-.2 0h0m0 .3h0m-.2 .2h0m0-.8h0m-.2 .3h0m-.2-.5h0m0-.6h0m-.1 1.7h0m-.1-1.3h0m0 1.6h0m-.1-.2h0m-.3 .3h0m-.4 0h0m-.6-2.6h0m0 2.3h0m-.2 2.6h0m.3 .3h0m0-1h0m.1 1h0m.1-.8h0m.4 .1h0m.1 .6h0m.3-1.3h0m.3 .9h0m0-1h0m.1-.6h0m.2 2.6h0m.1-.1h0m.1-.5h0m.1-1.8h0m0 2.1h0m.1-2.6h0m0 .8h0m0 .9h0m.2-.5h0m0 .4h0m.2-.6h0m.3-1h0m.3 .4h0m.1 1.9h0m.1-2.1h0m.4 2.5h0m.1-.3h0m0-.6h0m.3-1.6h0m0 1.8h0m.1-1.2h0m.1 2h0m0-2h0m.2 .3h0m.5-.7h0m0 1.7h0m.1-.3h0m0-.1h0m-.1 2.3h0m-.1 1.1h0m-.1-1.6h0m0 1.2h0m-.1 1.2h0m0-.5h0m-.1-1.1h0m-.2 .8h0m-.1-1.4h0m-.1 1.6h0m0-1.4h0m-.5 1.7h0m-.3-1.9h0m-.1 .5h0m-.1-.4h0m0 1.5h0m-.1 .2h0m-.4 .2h0m-.2-.1h0m-.4-1.1h0m-.1-1.4h0m0 2.2h0m-.1-.5h0m-.2 .2h0m-.3-.9h0m-.2-.5h0m-.5 1.2h0m-.6-.6h0m-.5 .2h0m.1 4.2h0m.1-.5h0m.1 .5h0m.3-1.3h0m.2-.7h0m.1 2h0m0 0h0m0-1.8h0m.1 1.8h0m0-2.5h0m.3 .2h0m.4-.3h0m.2 2.6h0m.2 0h0m.2-1.7h0m.3 .6h0m.3 1.1h0m.1-.3h0m1.3 .3h0m0-.5h0m.1 .5h0m.6 0h0" stroke="#000" stroke-width="1.2" stroke-linecap="round"/>
<line x1="202.2" y1="240.5" x2="202.2" y2="212.6" stroke="#000" stroke-width="0.7"/>
<path d="M202.6 217h0m2 2.8h0m-1.2 1.6h0m-.8 0h0m-.8-.6h0m-.6 .8h0m-1.1 3.3h0m1.4-.1h0m.6-1.3h0m.1 1.2h0m.5 0h0m1.1-1.2h0m.7-.9h0m.4 4.8h0m-.2-1.9h0m0 .3h0m-.5 .3h0m-.6 .7h0m-.8-1.5h0m-.2 2.6h0m-.1-2h0m-.5-.9h0m-.8 2.9h0m-.3-1.7h0m-.1 .2h0m-.6 1h0m-.6-1.1h0m-.2 1.1h0m0 3.5h0m.5 0h0m.4-1.2h0m0 .5h0m0-1.3h0m0 1.2h0m.5 0h0m.2-.3h0m.2-1h0m.1 1.9h0m.3-1.3h0m.3-1.4h0m.2 1h0m.1-.4h0m.1 1.4h0m.1 .2h0m.7-.4h0m.1-.7h0m.3 1.3h0m0-.5h0m0-1h0m0 1.2h0m.1 .3h0m.3-.1h0m.1-.1h0m.3-.4h0m.2 .5h0m.4 2.5h0m-.6 .2h0m-.3-1.7h0m-.4 1.7h0m0 .7h0m-.5-2h0m-.1-.7h0m-.6 1.3h0m-.3-1.2h0m-1.1 2.5h0m-.3-.6h0m-.2 .5h0m0-1.5h0m-.2 1.6h0m-.2-.1h0m0 .2h0m-.4-1.1h0m-.1 .9h0m0-1.8h0m0 1.2h0m0 3.4h0m.1 .3h0m.3-.9h0m.1 .9h0m.2 0h0m.1-1.4h0m.4 .6h0m.5 .8h0m.1 0h0m.1 0h0m.3 0h0m.1 0h0m.5-2.6h0m.1 2.6h0m.2 0h0m0 0h0m.3-1.1h0m0-1.1h0m.1 1.8h0m.3 .4h0m.2-.1h0m.1 .1h0m.1-2.2h0m.1 .2h0m.2 2h0m.2 0h0m.1 0h0m.2 0h0m.2-2.3h0m.2 2.3h0" stroke="#000" stroke-width="1.2" stroke-linecap="round"/>
<line x1="208.6" y1="240.5" x2="208.6" y2="218.4" stroke="#000" stroke-width="0.7"/>
<path d="M210.6 225.6h0m-.2 4.4h0m-3.5 3h0m0 .6h0m2.1 1.6h0m1.1 1.4h0" stroke="#000" stroke-width="1.2" stroke-linecap="round"/>
<line x1="215.1" y1="240.5" x2="215.1" y2="231.4" stroke="#000" stroke-width="0.7"/>
<line x1="234.5" y1="240.5" x2="234.5" y2="230.8" stroke="#000" stroke-width="0.7"/>
<line x1="241" y1="240.5" x2="241" y2="232.1" stroke="#000" stroke-width="0.7"/>
<line x1="247.5" y1="240.5" x2="247.5" y2="217.8" stroke="#000" stroke-width="0.7"/>
<path d="M248.6 218.2h0m.2-.4h0m.4 2.9h0m-1 .7h0m-1.7 2.3h0m.1-1.2h0m1.4 .7h0m.7 2.2h0m-.4 0h0m-.4 1.3h0m-.4-1.3h0m-.4 1.3h0m-.2 2.3h0m.5 .4h0m1.1 2.4h0m-1.2-.5h0m0 0h0m-1.2 1.3h0m-.4 1.7h0m.1-.3h0" stroke="#000" stroke-width="1.2" stroke-linecap="round"/>
<line x1="253.9" y1="240.5" x2="253.9" y2="223.6" stroke="#000" stroke-width="0.7"/>
<path d="M254.5 227.9h0m-.7-.3h0m-.7-2.1h0m-.5 .4h0m.7 4.5h0m-1 6.2h0m.6 0h0m3.1-1h0" stroke="#000" stroke-width="1.2" stroke-linecap="round"/>
<line x1="260.4" y1="240.5" x2="260.4" y2="234" stroke="#000" stroke-width="0.7"/>
<line x1="273.3" y1="240.5" x2="273.3" y2="212.6" stroke="#000" stroke-width="0.7"/>
<path d="M274 221.6h0m-1.3-.2h0m.3 2.4h0m1.9 3.6h0" stroke="#000" stroke-width="1.2" stroke-linecap="round"/>
<line x1="279.8" y1="240.5" x2="279.8" y2="224.9" stroke="#000" stroke-width="0.7"/>
<path d="M280.6 229.7h0m1.3 2.9h0m-1.8 1.3h0" stroke="#000" stroke-width="1.2" stroke-linecap="round"/>
<line x1="286.3" y1="240.5" x2="286.3" y2="228.8" stroke="#000" stroke-width="0.7"/>
<path d="M284.3 229.6h0m2.2-.8h0m.1 2.1h0m.2-.2h0m-1 3.2h0m-1-.8h0m1.2 3.5h0m1.4-.8h0" stroke="#000" stroke-width="1.2" stroke-linecap="round"/>
<line x1="292.8" y1="240.5" x2="292.8" y2="227.5" stroke="#000" stroke-width="0.7"/>
<path d="M294.4 227.5h0m-1.5 4.4h0m-1.1 1.3h0" stroke="#000" stroke-width="1.2" stroke-linecap="round"/>
<line x1="312.2" y1="240.5" x2="312.2" y2="219.1" stroke="#000" stroke-width="0.7"/>
<path d="M313.2 225.9h0m-2.3 4.2h0m.3 .6h0" stroke="#000" stroke-width="1.2" stroke-linecap="round"/>
<text x="0" y="0" font-size="5.7" text-anchor="end" fill="#333" transform="translate(197.7 246.5) rotate(-45)">HSPC1</text>
<text x="0" y="0" font-size="5.7" text-anchor="end" fill="#333" transform="translate(204.2 246.5) rotate(-45)">HSPC2</text>
<text x="0" y="0" font-size="5.7" text-anchor="end" fill="#333" transform="translate(210.6 246.5) rotate(-45)">myeloid prog 1</text>
<text x="0" y="0" font-size="5.7" text-anchor="end" fill="#333" transform="translate(217.1 246.5) rotate(-45)">myeloid prog 2</text>
<text x="0" y="0" font-size="5.7" text-anchor="end" fill="#333" transform="translate(223.6 246.5) rotate(-45)">myeloid prog 3</text>
<text x="0" y="0" font-size="5.7" text-anchor="end" fill="#333" transform="translate(230 246.5) rotate(-45)">monocyte prog</text>
<text x="0" y="0" font-size="5.7" text-anchor="end" fill="#333" transform="translate(236.5 246.5) rotate(-45)">monocytes</text>
<text x="0" y="0" font-size="5.7" text-anchor="end" fill="#333" transform="translate(243 246.5) rotate(-45)">neutrophils</text>
<text x="0" y="0" font-size="5.7" text-anchor="end" fill="#333" transform="translate(249.5 246.5) rotate(-45)">thrombocytes</text>
<text x="0" y="0" font-size="5.7" text-anchor="end" fill="#333" transform="translate(255.9 246.5) rotate(-45)">erythroid prog 1</text>
<text x="0" y="0" font-size="5.7" text-anchor="end" fill="#333" transform="translate(262.4 246.5) rotate(-45)">hbba1 + klf1</text>
<text x="0" y="0" font-size="5.7" text-anchor="end" fill="#333" transform="translate(268.9 246.5) rotate(-45)">erythroid prog 2</text>
<text x="0" y="0" font-size="5.7" text-anchor="end" fill="#333" transform="translate(275.3 246.5) rotate(-45)">lymphoid prog</text>
<text x="0" y="0" font-size="5.7" text-anchor="end" fill="#333" transform="translate(281.8 246.5) rotate(-45)">B cells</text>
<text x="0" y="0" font-size="5.7" text-anchor="end" fill="#333" transform="translate(288.3 246.5) rotate(-45)">phagocytic B</text>
<text x="0" y="0" font-size="5.7" text-anchor="end" fill="#333" transform="translate(294.8 246.5) rotate(-45)">NK</text>
<text x="0" y="0" font-size="5.7" text-anchor="end" fill="#333" transform="translate(301.2 246.5) rotate(-45)">T cells</text>
<text x="0" y="0" font-size="5.7" text-anchor="end" fill="#333" transform="translate(307.7 246.5) rotate(-45)">pigr3.5</text>
<text x="0" y="0" font-size="5.7" text-anchor="end" fill="#333" transform="translate(314.2 246.5) rotate(-45)">epcam</text>
<text x="0" y="0" font-size="5.7" text-anchor="end" fill="#333" transform="translate(320.6 246.5) rotate(-45)">doublets</text>
<line x1="34.4" y1="294.6" x2="34.4" y2="327.4" stroke="#000" stroke-width="0.8"/>
<line x1="32.6" y1="326.6" x2="34.4" y2="326.6" stroke="#000" stroke-width="0.6"/>
<text x="31.8" y="328.3" font-size="5" text-anchor="end">0</text>
<line x1="32.6" y1="319.2" x2="34.4" y2="319.2" stroke="#000" stroke-width="0.6"/>
<text x="31.8" y="320.9" font-size="5" text-anchor="end">1</text>
<line x1="32.6" y1="311.7" x2="34.4" y2="311.7" stroke="#000" stroke-width="0.6"/>
<text x="31.8" y="313.4" font-size="5" text-anchor="end">2</text>
<line x1="32.6" y1="304.2" x2="34.4" y2="304.2" stroke="#000" stroke-width="0.6"/>
<text x="31.8" y="305.9" font-size="5" text-anchor="end">3</text>
<line x1="32.6" y1="296.8" x2="34.4" y2="296.8" stroke="#000" stroke-width="0.6"/>
<text x="31.8" y="298.5" font-size="5" text-anchor="end">4</text>
<line x1="34.4" y1="326.8" x2="163.2" y2="326.8" stroke="#222" stroke-width="0.9"/>
<path d="M36.4 326.3h4M42.8 326.3h4M49.1 326.3h4M55.4 326.3h4M61.8 326.3h4M68.2 326.3h4M74.5 326.3h4M80.8 326.3h4M87.2 326.3h4M93.5 326.3h4M99.9 326.3h4M106.2 326.3h4M112.6 326.3h4M118.9 326.3h4M125.3 326.3h4M131.7 326.3h4M138 326.3h4M144.3 326.3h4M150.7 326.3h4M157 326.3h4" stroke="#000" stroke-width="1.5"/>
<line x1="38.4" y1="326.6" x2="38.4" y2="328.4" stroke="#000" stroke-width="0.5"/>
<line x1="44.8" y1="326.6" x2="44.8" y2="328.4" stroke="#000" stroke-width="0.5"/>
<line x1="51.1" y1="326.6" x2="51.1" y2="328.4" stroke="#000" stroke-width="0.5"/>
<line x1="57.4" y1="326.6" x2="57.4" y2="328.4" stroke="#000" stroke-width="0.5"/>
<line x1="63.8" y1="326.6" x2="63.8" y2="328.4" stroke="#000" stroke-width="0.5"/>
<line x1="70.2" y1="326.6" x2="70.2" y2="328.4" stroke="#000" stroke-width="0.5"/>
<line x1="76.5" y1="326.6" x2="76.5" y2="328.4" stroke="#000" stroke-width="0.5"/>
<line x1="82.8" y1="326.6" x2="82.8" y2="328.4" stroke="#000" stroke-width="0.5"/>
<line x1="89.2" y1="326.6" x2="89.2" y2="328.4" stroke="#000" stroke-width="0.5"/>
<line x1="95.5" y1="326.6" x2="95.5" y2="328.4" stroke="#000" stroke-width="0.5"/>
<line x1="101.9" y1="326.6" x2="101.9" y2="328.4" stroke="#000" stroke-width="0.5"/>
<line x1="108.2" y1="326.6" x2="108.2" y2="328.4" stroke="#000" stroke-width="0.5"/>
<line x1="114.6" y1="326.6" x2="114.6" y2="328.4" stroke="#000" stroke-width="0.5"/>
<line x1="120.9" y1="326.6" x2="120.9" y2="328.4" stroke="#000" stroke-width="0.5"/>
<line x1="127.3" y1="326.6" x2="127.3" y2="328.4" stroke="#000" stroke-width="0.5"/>
<line x1="133.7" y1="326.6" x2="133.7" y2="328.4" stroke="#000" stroke-width="0.5"/>
<line x1="140" y1="326.6" x2="140" y2="328.4" stroke="#000" stroke-width="0.5"/>
<line x1="146.3" y1="326.6" x2="146.3" y2="328.4" stroke="#000" stroke-width="0.5"/>
<line x1="152.7" y1="326.6" x2="152.7" y2="328.4" stroke="#000" stroke-width="0.5"/>
<line x1="159" y1="326.6" x2="159" y2="328.4" stroke="#000" stroke-width="0.5"/>
<text x="96.5" y="291" font-size="6.8" text-anchor="middle" font-style="italic" fill="#333">gata2b</text>
<text x="0" y="0" font-size="7.0" text-anchor="middle" font-weight="bold" fill="#333" transform="translate(24.1 309.7) rotate(-90)" textLength="35.2" lengthAdjust="spacingAndGlyphs">Expression Level</text>
<line x1="38.4" y1="326.6" x2="38.4" y2="296.1" stroke="#000" stroke-width="0.7"/>
<path d="M35.8 296.1h0m1.8 0h0m2.9 0h0m-.4 1h0m-2.6 1.6h0m-.1-1h0m-.1 4.8h0m1.1-2h0m1 .2h0m.3 2.2h0m.7-.8h0m.7 .4h0m-.4 3.4h0m-.2-2.4h0m-.4-.2h0m-1 1.6h0m-1.1-1.3h0m-2.1 1.8h0m-.2 .3h0m0 2h0m.1-1.4h0m.3 .2h0m.5 0h0m.1 1h0m.2-.9h0m.3-.1h0m.1 .5h0m.4 .9h0m.6 .9h0m1-2.3h0m.2 2.1h0m1.1-.9h0m.6-1.4h0m-1.3 4h0m-.2 .6h0m-1.5-.5h0m-.7 .2h0m-.1-1.4h0m-.2 1.6h0m-.1-1.8h0m-.1 1.5h0m-.1 1.4h0m-.1-1.2h0m0-.6h0m-.5-.3h0m-.4 .2h0m-.2-.2h0m-.1 .7h0m0 .8h0m1 2.4h0m.2-.7h0m1.9 1.1h0m.5-2h0m.5 2.5h0m.1-2h0m.7 .4h0m-1.1 3.6h0m-.1-.6h0m-.7 .8h0m-1.1 .8h0m0-1.1h0m-1.5-1.5h0m.3 4.8h0m.3-1.1h0m.4 .6h0m1.6-1.2h0m.6 .5h0m.7 .1h0m.3-.4h0m.9 2.7h0m-.2 1.1h0m-1.4-1h0m-.2 .4h0m-1.3 .1h0m-1.4 .5h0" stroke="#000" stroke-width="1.2" stroke-linecap="round"/>
<line x1="44.8" y1="326.6" x2="44.8" y2="296.8" stroke="#000" stroke-width="0.7"/>
<path d="M44.9 308.2h0m.4 0h0m.8-.6h0m.6 3.8h0m-.7-.4h0m-.3-1.1h0m-1.6-.4h0m-.4 .3h0m-1.1 2h0m-.4-2.7h0m-.2 .9h0m.7 2.9h0m.2 .3h0m.2 1.4h0m1.4-2.6h0m.3 2.7h0m1.6-1h0m.3-.3h0m.8 4h0m-.1 .1h0m-1-.8h0m-.2 1.1h0m-1.3-1.2h0m-.4-1.1h0m-.9-.1h0m-.2-.2h0m-.3 1.1h0m-1-.8h0m.6 4.7h0m1.3-1h0m1.1-.9h0m.2 .5h0m2.1 2.7h0m-1.3 .6h0m-.2 0h0m-.1-1.1h0m-.1 .2h0m0 .7h0m-.3 .2h0m-.3 0h0m-.4 0h0m-1.7 0h0m-.8 0h0m0 0h0m-.1 0h0" stroke="#000" stroke-width="1.2" stroke-linecap="round"/>
<line x1="63.8" y1="326.6" x2="63.8" y2="316.2" stroke="#000" stroke-width="0.7"/>
<path d="M65.6 317.3h0" stroke="#000" stroke-width="1.2" stroke-linecap="round"/>
<line x1="82.8" y1="326.6" x2="82.8" y2="313.9" stroke="#000" stroke-width="0.7"/>
<path d="M84.5 316.9h0m-.4 .3h0" stroke="#000" stroke-width="1.2" stroke-linecap="round"/>
<line x1="89.2" y1="326.6" x2="89.2" y2="318.4" stroke="#000" stroke-width="0.7"/>
<path d="M88.5 318.5h0" stroke="#000" stroke-width="1.2" stroke-linecap="round"/>
<line x1="95.5" y1="326.6" x2="95.5" y2="298.3" stroke="#000" stroke-width="0.7"/>
<path d="M96.1 313.1h0m.4 1.1h0m.6 .6h0m-.5 .5h0m-1.1 3.4h0m1.7 0h0" stroke="#000" stroke-width="1.2" stroke-linecap="round"/>
<line x1="108.2" y1="326.6" x2="108.2" y2="311.7" stroke="#000" stroke-width="0.7"/>
<path d="M108.5 314.3h0m-.2 3.6h0" stroke="#000" stroke-width="1.2" stroke-linecap="round"/>
<line x1="114.6" y1="326.6" x2="114.6" y2="298.3" stroke="#000" stroke-width="0.7"/>
<path d="M112.8 311.1h0m.1 1h0m.4 1.7h0m.8-.4h0m.3 1.5h0m1.1 .4h0m-2.8 2h0m1.2 3h0" stroke="#000" stroke-width="1.2" stroke-linecap="round"/>
<line x1="127.3" y1="326.6" x2="127.3" y2="311.7" stroke="#000" stroke-width="0.7"/>
<path d="M125.7 314.8h0m.8-2.3h0m1.8 4.8h0m-1.8 4h0" stroke="#000" stroke-width="1.2" stroke-linecap="round"/>
<line x1="152.7" y1="326.6" x2="152.7" y2="319.2" stroke="#000" stroke-width="0.7"/>
<path d="M151.4 319.2h0m1.8 0h0" stroke="#000" stroke-width="1.2" stroke-linecap="round"/>
<text x="0" y="0" font-size="5.7" text-anchor="end" fill="#333" transform="translate(40.4 332.6) rotate(-45)">HSPC1</text>
<text x="0" y="0" font-size="5.7" text-anchor="end" fill="#333" transform="translate(46.8 332.6) rotate(-45)">HSPC2</text>
<text x="0" y="0" font-size="5.7" text-anchor="end" fill="#333" transform="translate(53.1 332.6) rotate(-45)">myeloid prog 1</text>
<text x="0" y="0" font-size="5.7" text-anchor="end" fill="#333" transform="translate(59.4 332.6) rotate(-45)">myeloid prog 2</text>
<text x="0" y="0" font-size="5.7" text-anchor="end" fill="#333" transform="translate(65.8 332.6) rotate(-45)">myeloid prog 3</text>
<text x="0" y="0" font-size="5.7" text-anchor="end" fill="#333" transform="translate(72.2 332.6) rotate(-45)">monocyte prog</text>
<text x="0" y="0" font-size="5.7" text-anchor="end" fill="#333" transform="translate(78.5 332.6) rotate(-45)">monocytes</text>
<text x="0" y="0" font-size="5.7" text-anchor="end" fill="#333" transform="translate(84.8 332.6) rotate(-45)">neutrophils</text>
<text x="0" y="0" font-size="5.7" text-anchor="end" fill="#333" transform="translate(91.2 332.6) rotate(-45)">thrombocytes</text>
<text x="0" y="0" font-size="5.7" text-anchor="end" fill="#333" transform="translate(97.5 332.6) rotate(-45)">erythroid prog 1</text>
<text x="0" y="0" font-size="5.7" text-anchor="end" fill="#333" transform="translate(103.9 332.6) rotate(-45)">hbba1 + klf1</text>
<text x="0" y="0" font-size="5.7" text-anchor="end" fill="#333" transform="translate(110.2 332.6) rotate(-45)">erythroid prog 2</text>
<text x="0" y="0" font-size="5.7" text-anchor="end" fill="#333" transform="translate(116.6 332.6) rotate(-45)">lymphoid prog</text>
<text x="0" y="0" font-size="5.7" text-anchor="end" fill="#333" transform="translate(122.9 332.6) rotate(-45)">B cells</text>
<text x="0" y="0" font-size="5.7" text-anchor="end" fill="#333" transform="translate(129.3 332.6) rotate(-45)">phagocytic B</text>
<text x="0" y="0" font-size="5.7" text-anchor="end" fill="#333" transform="translate(135.7 332.6) rotate(-45)">NK</text>
<text x="0" y="0" font-size="5.7" text-anchor="end" fill="#333" transform="translate(142 332.6) rotate(-45)">T cells</text>
<text x="0" y="0" font-size="5.7" text-anchor="end" fill="#333" transform="translate(148.3 332.6) rotate(-45)">pigr3.5</text>
<text x="0" y="0" font-size="5.7" text-anchor="end" fill="#333" transform="translate(154.7 332.6) rotate(-45)">epcam</text>
<text x="0" y="0" font-size="5.7" text-anchor="end" fill="#333" transform="translate(161 332.6) rotate(-45)">doublets</text>
<line x1="192.5" y1="310.1" x2="321.3" y2="310.1" stroke="#888" stroke-width="0.5"/>
<line x1="192.5" y1="320.2" x2="321.3" y2="320.2" stroke="#888" stroke-width="0.5"/>
<line x1="192.5" y1="294.4" x2="192.5" y2="326.7" stroke="#000" stroke-width="0.8"/>
<line x1="190.7" y1="325.9" x2="192.5" y2="325.9" stroke="#000" stroke-width="0.6"/>
<text x="189.9" y="327.6" font-size="5" text-anchor="end">0</text>
<line x1="190.7" y1="319.6" x2="192.5" y2="319.6" stroke="#000" stroke-width="0.6"/>
<text x="189.9" y="321.3" font-size="5" text-anchor="end">1</text>
<line x1="190.7" y1="313.3" x2="192.5" y2="313.3" stroke="#000" stroke-width="0.6"/>
<text x="189.9" y="315" font-size="5" text-anchor="end">2</text>
<line x1="190.7" y1="307" x2="192.5" y2="307" stroke="#000" stroke-width="0.6"/>
<text x="189.9" y="308.7" font-size="5" text-anchor="end">3</text>
<line x1="190.7" y1="300.7" x2="192.5" y2="300.7" stroke="#000" stroke-width="0.6"/>
<text x="189.9" y="302.4" font-size="5" text-anchor="end">4</text>
<line x1="190.7" y1="294.4" x2="192.5" y2="294.4" stroke="#000" stroke-width="0.6"/>
<text x="189.9" y="296.1" font-size="5" text-anchor="end">5</text>
<line x1="192.5" y1="326.1" x2="321.3" y2="326.1" stroke="#222" stroke-width="0.9"/>
<path d="M194.5 325.6h4M200.8 325.6h4M207.1 325.6h4M213.4 325.6h4M219.7 325.6h4M226 325.6h4M232.3 325.6h4M238.6 325.6h4M244.9 325.6h4M251.2 325.6h4M257.5 325.6h4M263.8 325.6h4M270.1 325.6h4M276.4 325.6h4M282.7 325.6h4M289 325.6h4M295.3 325.6h4M301.6 325.6h4M307.9 325.6h4M314.2 325.6h4" stroke="#000" stroke-width="1.5"/>
<line x1="196.5" y1="325.9" x2="196.5" y2="327.7" stroke="#000" stroke-width="0.5"/>
<line x1="202.8" y1="325.9" x2="202.8" y2="327.7" stroke="#000" stroke-width="0.5"/>
<line x1="209.1" y1="325.9" x2="209.1" y2="327.7" stroke="#000" stroke-width="0.5"/>
<line x1="215.4" y1="325.9" x2="215.4" y2="327.7" stroke="#000" stroke-width="0.5"/>
<line x1="221.7" y1="325.9" x2="221.7" y2="327.7" stroke="#000" stroke-width="0.5"/>
<line x1="228" y1="325.9" x2="228" y2="327.7" stroke="#000" stroke-width="0.5"/>
<line x1="234.3" y1="325.9" x2="234.3" y2="327.7" stroke="#000" stroke-width="0.5"/>
<line x1="240.6" y1="325.9" x2="240.6" y2="327.7" stroke="#000" stroke-width="0.5"/>
<line x1="246.9" y1="325.9" x2="246.9" y2="327.7" stroke="#000" stroke-width="0.5"/>
<line x1="253.2" y1="325.9" x2="253.2" y2="327.7" stroke="#000" stroke-width="0.5"/>
<line x1="259.5" y1="325.9" x2="259.5" y2="327.7" stroke="#000" stroke-width="0.5"/>
<line x1="265.8" y1="325.9" x2="265.8" y2="327.7" stroke="#000" stroke-width="0.5"/>
<line x1="272.1" y1="325.9" x2="272.1" y2="327.7" stroke="#000" stroke-width="0.5"/>
<line x1="278.4" y1="325.9" x2="278.4" y2="327.7" stroke="#000" stroke-width="0.5"/>
<line x1="284.7" y1="325.9" x2="284.7" y2="327.7" stroke="#000" stroke-width="0.5"/>
<line x1="291" y1="325.9" x2="291" y2="327.7" stroke="#000" stroke-width="0.5"/>
<line x1="297.3" y1="325.9" x2="297.3" y2="327.7" stroke="#000" stroke-width="0.5"/>
<line x1="303.6" y1="325.9" x2="303.6" y2="327.7" stroke="#000" stroke-width="0.5"/>
<line x1="309.9" y1="325.9" x2="309.9" y2="327.7" stroke="#000" stroke-width="0.5"/>
<line x1="316.2" y1="325.9" x2="316.2" y2="327.7" stroke="#000" stroke-width="0.5"/>
<text x="256" y="291" font-size="6.8" text-anchor="middle" font-style="italic" fill="#333">GFP</text>
<text x="0" y="0" font-size="7.0" text-anchor="middle" font-weight="bold" fill="#333" transform="translate(182.2 309.2) rotate(-90)" textLength="35.2" lengthAdjust="spacingAndGlyphs">Expression Level</text>
<path d="M244.2 325.9 244.9 324 245.7 320.9 245.6 317.7 244.8 314.6 244.3 310.1 244.3 303.8 244.9 299.4 245.4 296.3 246.1 294.7 246.9 294.4 L246.9 294.4 247.7 294.7 248.4 296.3 248.9 299.4 249.5 303.8 249.5 310.1 249 314.6 248.2 317.7 248.1 320.9 248.9 324 249.6 325.9 Z" fill="#1aa37a" stroke="#222" stroke-width="0.3"/>
<path d="M246.3 295.9h0m.5-.6h0m.1 0h0m.6-.2h0m.3 .9h0m.4 2.5h0m-1.2 .4h0m-.2 .9h0m-.1 .1h0m-.1-1h0m-.3-.4h0m-.1-.5h0m-.7 1.4h0m.4 3.2h0m0 .3h0m.2-2.1h0m.6 1.3h0m1-1.9h0m.2-.1h0m.2 1h0m0-.2h0m.4 .2h0m.1 .6h0m0 3.8h0m-.2 .4h0m-.9-2.3h0m-.3 .8h0m-.1-.5h0m-.5 .1h0m-.2-.1h0m-.3 .4h0m-.1-1h0m-.4 1.2h0m0 .4h0m-.5-1.3h0m-.2 1.9h0m.2 1.5h0m1.6 1.1h0m.4-1.4h0m.4-.2h0m.2 1.4h0m0-.7h0m.3 .2h0m0 1.2h0m.7 1.2h0m-1.2 .4h0m-.3 1.4h0m-.3-2.1h0m-.6 .4h0m0 1.5h0m-.2-2.1h0m-.9 1.1h0m.2 4.5h0m.8-2.5h0m.4 1.2h0m.1-.6h0m.3 1.1h0m.6 .5h0m0-1.2h0m.1-.2h0m.1 1h0m.1 .7h0m0-.8h0m.1 0h0m.2-1.9h0m.1 .9h0m.4-.1h0m-1.4 2.8h0m-.4-.2h0m-1.1-.3h0" stroke="#111" stroke-width="1.0" stroke-linecap="round"/>
<ellipse cx="246.9" cy="295" rx="1.8" ry="0.9" fill="#111"/>
<line x1="196.5" y1="325.9" x2="196.5" y2="310.8" stroke="#000" stroke-width="0.7"/>
<path d="M196.3 310.8h0m0 0h0m-.1 .8h0m-.9 .1h0m-.2-.5h0m-.6-.4h0m-.8 2.1h0m.4 1.7h0m0-1.7h0m0 .2h0m.2 .8h0m.4 .7h0m.1 0h0m.3 .3h0m.2-2.7h0m.1 .4h0m.1 .4h0m.8 .8h0m0 .5h0m.6-2.3h0m.2 .1h0m0 1.2h0m1.5 1.4h0m0-1.8h0m.2 1.9h0m.3-1.6h0m-.3 2.9h0m-.8 .8h0m-.8-.5h0m-.3-.8h0m-.4 1.9h0m0-2.2h0m-.2-.1h0m0 .8h0m-.4 .7h0m-.8 .9h0m-.1-.6h0m-.1-.5h0m0 .1h0m-1-1.5h0m0 1.2h0m.7 1.7h0m.2 .5h0m.1 1.8h0m.2-1.9h0m.4-.2h0m.3 1h0m.3-.4h0m.2 2.1h0m.2-.4h0m.3-1.8h0m.3-.3h0m.2 1.3h0m.3-.3h0m.8-.8h0m.4 .6h0m0 .7h0m-.1 1.1h0m-.2 1.1h0m-.4 0h0m-.8-.9h0m-.2 0h0m-.6 .9h0m-1.2-.6h0m-.2 .6h0m-.9 0h0m-.2-.6h0" stroke="#000" stroke-width="1.2" stroke-linecap="round"/>
<line x1="202.8" y1="325.9" x2="202.8" y2="309.5" stroke="#000" stroke-width="0.7"/>
<path d="M204.9 310.7h0m-.5-1.2h0m-.7 .6h0m-.7 1.7h0m-1.8-1h0m-.6 3.2h0m.7 .9h0m.1-1.6h0m.1 .6h0m.3-.3h0m.1-1.4h0m.1 1.3h0m0-.5h0m.3 1h0m.9 .3h0m.9-.3h0m.1 .2h0m.9-.2h0m.4 .1h0m0 .7h0m-.2 1.3h0m-.1 .5h0m0 .1h0m-.7-1.2h0m-.1-.4h0m-.3 1.6h0m-.1 .9h0m0-1.2h0m-.8-.7h0m-1.4 .2h0m-1.2 0h0m-.2 .9h0m-.2-.8h0m-.1 3h0m.5 1.6h0m.4-.3h0m0-1.4h0m.4-.9h0m.1 .4h0m1.3 1.7h0m.7 .3h0m1.5 .1h0m-2 1.6h0m-.4-.9h0m-.8 .9h0" stroke="#000" stroke-width="1.2" stroke-linecap="round"/>
<line x1="209.1" y1="325.9" x2="209.1" y2="305.1" stroke="#000" stroke-width="0.7"/>
<path d="M207.2 308.4h0m1.9 1.6h0m-1.2-.8h0m0 3h0m1.7 .2h0m1.5 3h0m-.1-.4h0m0 2.7h0m-1.5-1.1h0m-2.1-1.3h0m2.1 5.9h0m-.4 .8h0" stroke="#000" stroke-width="1.2" stroke-linecap="round"/>
<line x1="221.7" y1="325.9" x2="221.7" y2="319.6" stroke="#000" stroke-width="0.7"/>
<path d="M221.9 319.7h0m1.1 .1h0" stroke="#000" stroke-width="1.2" stroke-linecap="round"/>
<line x1="234.3" y1="325.9" x2="234.3" y2="320.2" stroke="#000" stroke-width="0.7"/>
<path d="M234.2 320.2h0" stroke="#000" stroke-width="1.2" stroke-linecap="round"/>
<line x1="240.6" y1="325.9" x2="240.6" y2="313.3" stroke="#000" stroke-width="0.7"/>
<path d="M242.4 313.3h0m-3.7 2.3h0m-.1 .4h0" stroke="#000" stroke-width="1.2" stroke-linecap="round"/>
<line x1="253.2" y1="325.9" x2="253.2" y2="300.1" stroke="#000" stroke-width="0.7"/>
<path d="M253.8 300.1h0m1.2 0h0m-2.9 5.1h0m3 2.8h0m.3 1.3h0m-.2 .8h0m-.4 1.6h0m-.1-2.7h0m-2.2 1.3h0m-1.3 2h0m1.9 1.8h0m1.5 2.6h0m-1 2.4h0m.2-.1h0" stroke="#000" stroke-width="1.2" stroke-linecap="round"/>
<line x1="259.5" y1="325.9" x2="259.5" y2="315.2" stroke="#000" stroke-width="0.7"/>
<path d="M259.6 316.1h0" stroke="#000" stroke-width="1.2" stroke-linecap="round"/>
<line x1="272.1" y1="325.9" x2="272.1" y2="305.7" stroke="#000" stroke-width="0.7"/>
<path d="M273.7 305.7h0m.5 8.8h0m-1.3 1.6h0" stroke="#000" stroke-width="1.2" stroke-linecap="round"/>
<line x1="278.4" y1="325.9" x2="278.4" y2="304.5" stroke="#000" stroke-width="0.7"/>
<path d="M279.7 314.5h0m.1 2.7h0m-2.8 4.9h0" stroke="#000" stroke-width="1.2" stroke-linecap="round"/>
<line x1="284.7" y1="325.9" x2="284.7" y2="313.3" stroke="#000" stroke-width="0.7"/>
<path d="M286.5 316.3h0m-3.4 .9h0m1 2.2h0m1-.3h0m1.7 .2h0m-4.1 2.8h0" stroke="#000" stroke-width="1.2" stroke-linecap="round"/>
<line x1="291" y1="325.9" x2="291" y2="317.1" stroke="#000" stroke-width="0.7"/>
<path d="M290.5 317.1h0m.7 1.8h0" stroke="#000" stroke-width="1.2" stroke-linecap="round"/>
<line x1="309.9" y1="325.9" x2="309.9" y2="314.6" stroke="#000" stroke-width="0.7"/>
<path d="M308.5 318.6h0m2.4 .2h0" stroke="#000" stroke-width="1.2" stroke-linecap="round"/>
<text x="0" y="0" font-size="5.7" text-anchor="end" fill="#333" transform="translate(198.5 331.9) rotate(-45)">HSPC1</text>
<text x="0" y="0" font-size="5.7" text-anchor="end" fill="#333" transform="translate(204.8 331.9) rotate(-45)">HSPC2</text>
<text x="0" y="0" font-size="5.7" text-anchor="end" fill="#333" transform="translate(211.1 331.9) rotate(-45)">myeloid prog 1</text>
<text x="0" y="0" font-size="5.7" text-anchor="end" fill="#333" transform="translate(217.4 331.9) rotate(-45)">myeloid prog 2</text>
<text x="0" y="0" font-size="5.7" text-anchor="end" fill="#333" transform="translate(223.7 331.9) rotate(-45)">myeloid prog 3</text>
<text x="0" y="0" font-size="5.7" text-anchor="end" fill="#333" transform="translate(230 331.9) rotate(-45)">monocyte prog</text>
<text x="0" y="0" font-size="5.7" text-anchor="end" fill="#333" transform="translate(236.3 331.9) rotate(-45)">monocytes</text>
<text x="0" y="0" font-size="5.7" text-anchor="end" fill="#333" transform="translate(242.6 331.9) rotate(-45)">neutrophils</text>
<text x="0" y="0" font-size="5.7" text-anchor="end" fill="#333" transform="translate(248.9 331.9) rotate(-45)">thrombocytes</text>
<text x="0" y="0" font-size="5.7" text-anchor="end" fill="#333" transform="translate(255.2 331.9) rotate(-45)">erythroid prog 1</text>
<text x="0" y="0" font-size="5.7" text-anchor="end" fill="#333" transform="translate(261.5 331.9) rotate(-45)">hbba1 + klf1</text>
<text x="0" y="0" font-size="5.7" text-anchor="end" fill="#333" transform="translate(267.8 331.9) rotate(-45)">erythroid prog 2</text>
<text x="0" y="0" font-size="5.7" text-anchor="end" fill="#333" transform="translate(274.1 331.9) rotate(-45)">lymphoid prog</text>
<text x="0" y="0" font-size="5.7" text-anchor="end" fill="#333" transform="translate(280.4 331.9) rotate(-45)">B cells</text>
<text x="0" y="0" font-size="5.7" text-anchor="end" fill="#333" transform="translate(286.7 331.9) rotate(-45)">phagocytic B</text>
<text x="0" y="0" font-size="5.7" text-anchor="end" fill="#333" transform="translate(293 331.9) rotate(-45)">NK</text>
<text x="0" y="0" font-size="5.7" text-anchor="end" fill="#333" transform="translate(299.3 331.9) rotate(-45)">T cells</text>
<text x="0" y="0" font-size="5.7" text-anchor="end" fill="#333" transform="translate(305.6 331.9) rotate(-45)">pigr3.5</text>
<text x="0" y="0" font-size="5.7" text-anchor="end" fill="#333" transform="translate(311.9 331.9) rotate(-45)">epcam</text>
<text x="0" y="0" font-size="5.7" text-anchor="end" fill="#333" transform="translate(318.2 331.9) rotate(-45)">doublets</text>
<text x="15" y="194.3" font-size="11.4" font-weight="bold">F</text>
<text x="176" y="194.3" font-size="11.4" font-weight="bold">G</text>
<text x="15" y="279.8" font-size="11.4" font-weight="bold">H</text>
<text x="176" y="279.8" font-size="11.4" font-weight="bold">I</text>
<text x="352.5" y="194.8" font-size="11.4" font-weight="bold">J</text>
<text x="422" y="202.5" font-size="6.2" text-anchor="middle" fill="#222">HSPC1 vs HSPC2</text>
<line x1="421.8" y1="212.4" x2="421.8" y2="321" stroke="#666" stroke-width="1.2"/>
<line x1="373.8" y1="321" x2="469.8" y2="321" stroke="#000" stroke-width="0.9"/>
<line x1="421.8" y1="212.9" x2="423.8" y2="212.9" stroke="#000" stroke-width="0.6"/>
<text x="424.6" y="214.9" font-size="6" fill="#222">250</text>
<line x1="421.8" y1="234.5" x2="423.8" y2="234.5" stroke="#000" stroke-width="0.6"/>
<text x="424.6" y="236.5" font-size="6" fill="#222">200</text>
<line x1="421.8" y1="256.1" x2="423.8" y2="256.1" stroke="#000" stroke-width="0.6"/>
<text x="424.6" y="258.1" font-size="6" fill="#222">150</text>
<line x1="421.8" y1="277.8" x2="423.8" y2="277.8" stroke="#000" stroke-width="0.6"/>
<text x="424.6" y="279.8" font-size="6" fill="#222">100</text>
<line x1="421.8" y1="299.4" x2="423.8" y2="299.4" stroke="#000" stroke-width="0.6"/>
<text x="424.6" y="301.4" font-size="6" fill="#222">50</text>
<line x1="373.8" y1="321" x2="373.8" y2="323" stroke="#000" stroke-width="0.6"/>
<text x="373.8" y="329" font-size="6" text-anchor="middle" fill="#222">−2</text>
<line x1="397.8" y1="321" x2="397.8" y2="323" stroke="#000" stroke-width="0.6"/>
<text x="397.8" y="329" font-size="6" text-anchor="middle" fill="#222">−1</text>
<line x1="421.8" y1="321" x2="421.8" y2="323" stroke="#000" stroke-width="0.6"/>
<text x="421.8" y="329" font-size="6" text-anchor="middle" fill="#222">0</text>
<line x1="445.8" y1="321" x2="445.8" y2="323" stroke="#000" stroke-width="0.6"/>
<text x="445.8" y="329" font-size="6" text-anchor="middle" fill="#222">1</text>
<line x1="469.8" y1="321" x2="469.8" y2="323" stroke="#000" stroke-width="0.6"/>
<text x="469.8" y="329" font-size="6" text-anchor="middle" fill="#222">2</text>
<text x="424.2" y="337.6" font-size="7.6" text-anchor="middle" font-weight="bold" fill="#333" textLength="40.7" lengthAdjust="spacingAndGlyphs">log2 fold change</text>
<text x="0" y="0" font-size="7.6" text-anchor="middle" font-weight="bold" fill="#333" transform="translate(371.6 263.5) rotate(-90)" textLength="35" lengthAdjust="spacingAndGlyphs">-log10 p-value</text>
<path d="M395.2 224.6h0m2.1 0h0m2.4 11.6h0m15.6-2.1h0m-15.6 4.3h0m33.1 3.5h0m-29 1.3h0m.7 4.7h0m1 3.9h0m7.7 1.3h0m.4 3h0m-.4 0h0m-9.4 1.3h0m8.9 3h0m.5 0h0m-9.2 .9h0m.3 3.5h0m8.6-.5h0m.5 1.3h0m-2.9 3.1h0m1.7 1.3h0m1.2 .8h0m1.4 1.8h0m-.2 1.7h0m-1.9 0h0m-8.9 2.6h0m9.1 0h0m36 2.1h0m-37.9 1.8h0m-3.6 .4h0m-3.4-1.3h0m-.9 4.8h0m6.7-1.8h0m17.8 2.2h0m0 2.6h0m-19-1.3h0m-1.2 2.2h0m19.9-.5h0m.5 2.6h0m8.4 1.3h0m-7.9-.4h0m-18.5 0h0m1.2 3.4h0m17.8-.8h0m.7 1.7h0m14.1 3.5h0m-13.4-1.8h0m-18.5 .9h0m-.1 2h0m2.6 .5h0m.6-.8h0m.3 .1h0m13.2 .4h0m.7 3h0m-15.9 1.3h0m-2 .6h0m.1 1.1h0m3-.7h0m21.9 2.4h0m-5.6 .9h0m-15 1.2h0m-.1 0h0m-3.4-1.1h0m-2.5-.1h0m-.6 2.6h0m0 2h0m.7 .9h0m.2-1.8h0m.5 1.4h0m.2-2h0m.6 0h0m2.3 1h0m1.4-1.4h0m.8 .7h0m.2 1.4h0m14.4 .1h0m5.7-1.6h0m11.1 .6h0m-8.4 4.3h0m-3.9-1.7h0m-2.5 1.1h0m-.4 .2h0m-.1 .8h0m-3.8-1.5h0m-15.2 .2h0m-.5-1.5h0m-.1 1.8h0m-2.3-1.6h0m-.7 .7h0m-.3 .3h0m1.6 3.9h0m.6-1.2h0m.9 .2h0m1.7-.5h0m0 1.3h0m15.5-1h0m1.1-.5h0m.1-.3h0m.9 1.7h0m0-1.1h0m1.1 1.2h0m.8-.8h0m1.2 .9h0m1.7-.2h0m5-.2h0" stroke="#000" stroke-width="1.85" stroke-linecap="round"/>
<text x="379" y="223" font-size="6.0" fill="#222">snu13b</text>
<text x="401.4" y="229.3" font-size="6.0" fill="#222">cycsb</text>
<text x="381" y="238.7" font-size="6.0" fill="#222">hspe1</text>
<text x="389.5" y="246.3" font-size="6.0" fill="#222">nhp2</text>
<text x="386" y="252" font-size="6.0" fill="#222">tubb2b</text>
<text x="389" y="256.6" font-size="6.0" fill="#222">pcna</text>
<text x="385" y="261" font-size="6.0" fill="#222">npm1a</text>
<text x="387" y="265.7" font-size="6.0" fill="#222">nop16</text>
<text x="404" y="269.5" font-size="6.0" fill="#222">myca</text>
<text x="383" y="275" font-size="6.0" fill="#222">dnajb11</text>
<text x="383" y="280.5" font-size="6.0" fill="#222">hspd1</text>
<text x="383" y="288.5" font-size="6.0" fill="#222">mcm6</text>
<text x="412" y="288.5" font-size="6.0" fill="#222">rpa3</text>
<text x="437" y="244" font-size="6.0" fill="#222">CR383676.1</text>
<text x="437.5" y="273.7" font-size="6.0" fill="#222">FP015823.2</text>
<text x="430" y="287" font-size="6.0" fill="#222">sla2</text>
<text x="430" y="292.6" font-size="6.0" fill="#222">maf1</text>
<text x="433" y="298.5" font-size="6.0" fill="#222">arl5c</text>
<text x="447.7" y="299.9" font-size="6.0" fill="#222">ddit4</text>
<text x="432" y="305.5" font-size="6.0" fill="#222">ndrg1a</text>
<text x="450.4" y="314" font-size="6.0" fill="#222">cxcr4b</text>
<text x="19" y="375.3" font-size="11.4" font-weight="bold">K</text>
<text x="184" y="375.3" font-size="11.4" font-weight="bold">L</text>
<g transform="translate(0.00 350.60)" stroke="#3ec3cb" stroke-width="0.80" stroke-linecap="round"><use href="#my10"/></g>
<g transform="translate(0.00 350.60)" stroke="#3ec3cb" stroke-width="0.80" stroke-linecap="round"><use href="#my11"/></g>
<g transform="translate(0.00 350.60)" stroke="#f0806e" stroke-width="0.80" stroke-linecap="round"><use href="#my12"/></g>
<g transform="translate(0.00 350.60)" stroke="#3ec3cb" stroke-width="0.80" stroke-linecap="round"><use href="#my13"/></g>
<g transform="translate(0.00 350.60)" stroke="#3ec3cb" stroke-width="0.80" stroke-linecap="round"><use href="#my14"/></g>
<g transform="translate(0.00 350.60)" stroke="#3ec3cb" stroke-width="0.80" stroke-linecap="round"><use href="#my15"/></g>
<g transform="translate(0.00 350.60)" stroke="#3ec3cb" stroke-width="0.80" stroke-linecap="round"><use href="#my16"/></g>
<g transform="translate(0.00 350.60)" stroke="#3ec3cb" stroke-width="0.80" stroke-linecap="round"><use href="#my17"/></g>
<g transform="translate(0.00 350.60)" stroke="#3ec3cb" stroke-width="0.80" stroke-linecap="round"><use href="#my18"/></g>
<g transform="translate(0.00 350.60)" stroke="#f0806e" stroke-width="0.80" stroke-linecap="round"><use href="#my19"/></g>
<g transform="translate(0.00 350.60)" stroke="#3ec3cb" stroke-width="0.80" stroke-linecap="round"><use href="#my20"/></g>
<g transform="translate(0.00 350.60)" stroke="#f0806e" stroke-width="0.80" stroke-linecap="round"><use href="#my21"/></g>
<g transform="translate(0.00 350.60)" stroke="#3ec3cb" stroke-width="0.80" stroke-linecap="round"><use href="#my22"/></g>
<g transform="translate(0.00 350.60)" stroke="#3ec3cb" stroke-width="0.80" stroke-linecap="round"><use href="#my23"/></g>
<g transform="translate(0.00 350.60)" stroke="#3ec3cb" stroke-width="0.80" stroke-linecap="round"><use href="#my24"/></g>
<g transform="translate(0.00 350.60)" stroke="#f0806e" stroke-width="0.80" stroke-linecap="round"><use href="#my25"/></g>
<g transform="translate(0.00 350.60)" stroke="#3ec3cb" stroke-width="0.80" stroke-linecap="round"><use href="#my26"/></g>
<g transform="translate(0.00 350.60)" stroke="#3ec3cb" stroke-width="0.80" stroke-linecap="round"><use href="#my27"/></g>
<g transform="translate(0.00 350.60)" stroke="#3ec3cb" stroke-width="0.80" stroke-linecap="round"><use href="#my28"/></g>
<g transform="translate(0.00 350.60)" stroke="#3ec3cb" stroke-width="0.80" stroke-linecap="round"><use href="#my29"/></g>
<g transform="translate(0.00 350.60)" stroke="#f0806e" stroke-width="0.80" stroke-linecap="round"><use href="#my30"/></g>
<g transform="translate(0.00 350.60)" stroke="#3ec3cb" stroke-width="0.80" stroke-linecap="round"><use href="#my31"/></g>
<g transform="translate(0.00 350.60)" stroke="#3ec3cb" stroke-width="0.80" stroke-linecap="round"><use href="#my32"/></g>
<g transform="translate(0.00 350.60)" stroke="#3ec3cb" stroke-width="0.80" stroke-linecap="round"><use href="#my33"/></g>
<g transform="translate(0.00 350.60)" stroke="#3ec3cb" stroke-width="0.80" stroke-linecap="round"><use href="#my34"/></g>
<g transform="translate(0.00 350.60)" stroke="#f0806e" stroke-width="0.80" stroke-linecap="round"><use href="#my35"/></g>
<g transform="translate(0.00 350.60)" stroke="#3ec3cb" stroke-width="0.80" stroke-linecap="round"><use href="#my36"/></g>
<g transform="translate(0.00 350.60)" stroke="#f0806e" stroke-width="0.80" stroke-linecap="round"><use href="#my37"/></g>
<g transform="translate(0.00 350.60)" stroke="#3ec3cb" stroke-width="0.80" stroke-linecap="round"><use href="#my38"/></g>
<g transform="translate(0.00 350.60)" stroke="#3ec3cb" stroke-width="0.80" stroke-linecap="round"><use href="#my39"/></g>
<g transform="translate(0.00 350.60)" stroke="#f0806e" stroke-width="0.80" stroke-linecap="round"><use href="#mono0"/></g>
<g transform="translate(0.00 350.60)" stroke="#f0806e" stroke-width="0.80" stroke-linecap="round"><use href="#mono1"/></g>
<g transform="translate(0.00 350.60)" stroke="#f0806e" stroke-width="0.80" stroke-linecap="round"><use href="#mono2"/></g>
<g transform="translate(0.00 350.60)" stroke="#f0806e" stroke-width="0.80" stroke-linecap="round"><use href="#mono3"/></g>
<g transform="translate(0.00 350.60)" stroke="#f0806e" stroke-width="0.80" stroke-linecap="round"><use href="#mono4"/></g>
<g transform="translate(0.00 350.60)" stroke="#3ec3cb" stroke-width="0.80" stroke-linecap="round"><use href="#mono5"/></g>
<g transform="translate(0.00 350.60)" stroke="#f0806e" stroke-width="0.80" stroke-linecap="round"><use href="#mono6"/></g>
<g transform="translate(0.00 350.60)" stroke="#f0806e" stroke-width="0.80" stroke-linecap="round"><use href="#mono7"/></g>
<g transform="translate(0.00 350.60)" stroke="#3ec3cb" stroke-width="0.80" stroke-linecap="round"><use href="#mono8"/></g>
<g transform="translate(0.00 350.60)" stroke="#3ec3cb" stroke-width="0.80" stroke-linecap="round"><use href="#mono9"/></g>
<g transform="translate(0.00 350.60)" stroke="#3ec3cb" stroke-width="0.80" stroke-linecap="round"><use href="#monop0"/></g>
<g transform="translate(0.00 350.60)" stroke="#f0806e" stroke-width="0.80" stroke-linecap="round"><use href="#monop1"/></g>
<g transform="translate(0.00 350.60)" stroke="#3ec3cb" stroke-width="0.80" stroke-linecap="round"><use href="#monop2"/></g>
<g transform="translate(0.00 350.60)" stroke="#f0806e" stroke-width="0.80" stroke-linecap="round"><use href="#monop3"/></g>
<g transform="translate(0.00 350.60)" stroke="#f0806e" stroke-width="0.80" stroke-linecap="round"><use href="#monop4"/></g>
<g transform="translate(0.00 350.60)" stroke="#f0806e" stroke-width="0.80" stroke-linecap="round"><use href="#monop5"/></g>
<g transform="translate(0.00 350.60)" stroke="#3ec3cb" stroke-width="0.80" stroke-linecap="round"><use href="#monop6"/></g>
<g transform="translate(0.00 350.60)" stroke="#f0806e" stroke-width="0.80" stroke-linecap="round"><use href="#monop7"/></g>
<g transform="translate(0.00 350.60)" stroke="#3ec3cb" stroke-width="0.80" stroke-linecap="round"><use href="#monop8"/></g>
<g transform="translate(0.00 350.60)" stroke="#f0806e" stroke-width="0.80" stroke-linecap="round"><use href="#monop9"/></g>
<g transform="translate(0.00 350.60)" stroke="#3ec3cb" stroke-width="0.80" stroke-linecap="round"><use href="#epcam0"/></g>
<g transform="translate(0.00 350.60)" stroke="#f0806e" stroke-width="0.80" stroke-linecap="round"><use href="#epcam1"/></g>
<g transform="translate(0.00 350.60)" stroke="#f0806e" stroke-width="0.80" stroke-linecap="round"><use href="#epcam2"/></g>
<g transform="translate(0.00 350.60)" stroke="#3ec3cb" stroke-width="0.80" stroke-linecap="round"><use href="#epcam3"/></g>
<g transform="translate(0.00 350.60)" stroke="#3ec3cb" stroke-width="0.80" stroke-linecap="round"><use href="#epcam4"/></g>
<g transform="translate(0.00 350.60)" stroke="#3ec3cb" stroke-width="0.80" stroke-linecap="round"><use href="#epcam5"/></g>
<g transform="translate(0.00 350.60)" stroke="#3ec3cb" stroke-width="0.80" stroke-linecap="round"><use href="#epcam6"/></g>
<g transform="translate(0.00 350.60)" stroke="#3ec3cb" stroke-width="0.80" stroke-linecap="round"><use href="#epcam7"/></g>
<g transform="translate(0.00 350.60)" stroke="#3ec3cb" stroke-width="0.80" stroke-linecap="round"><use href="#epcam8"/></g>
<g transform="translate(0.00 350.60)" stroke="#3ec3cb" stroke-width="0.80" stroke-linecap="round"><use href="#epcam9"/></g>
<g transform="translate(0.00 350.60)" stroke="#3ec3cb" stroke-width="0.80" stroke-linecap="round"><use href="#ery20"/></g>
<g transform="translate(0.00 350.60)" stroke="#3ec3cb" stroke-width="0.80" stroke-linecap="round"><use href="#ery21"/></g>
<g transform="translate(0.00 350.60)" stroke="#3ec3cb" stroke-width="0.80" stroke-linecap="round"><use href="#ery22"/></g>
<g transform="translate(0.00 350.60)" stroke="#3ec3cb" stroke-width="0.80" stroke-linecap="round"><use href="#ery23"/></g>
<g transform="translate(0.00 350.60)" stroke="#3ec3cb" stroke-width="0.80" stroke-linecap="round"><use href="#ery24"/></g>
<g transform="translate(0.00 350.60)" stroke="#3ec3cb" stroke-width="0.80" stroke-linecap="round"><use href="#ery25"/></g>
<g transform="translate(0.00 350.60)" stroke="#f0806e" stroke-width="0.80" stroke-linecap="round"><use href="#ery26"/></g>
<g transform="translate(0.00 350.60)" stroke="#3ec3cb" stroke-width="0.80" stroke-linecap="round"><use href="#ery27"/></g>
<g transform="translate(0.00 350.60)" stroke="#3ec3cb" stroke-width="0.80" stroke-linecap="round"><use href="#ery28"/></g>
<g transform="translate(0.00 350.60)" stroke="#f0806e" stroke-width="0.80" stroke-linecap="round"><use href="#ery29"/></g>
<g transform="translate(0.00 350.60)" stroke="#3ec3cb" stroke-width="0.80" stroke-linecap="round"><use href="#hbb0"/></g>
<g transform="translate(0.00 350.60)" stroke="#3ec3cb" stroke-width="0.80" stroke-linecap="round"><use href="#hbb1"/></g>
<g transform="translate(0.00 350.60)" stroke="#f0806e" stroke-width="0.80" stroke-linecap="round"><use href="#hbb2"/></g>
<g transform="translate(0.00 350.60)" stroke="#f0806e" stroke-width="0.80" stroke-linecap="round"><use href="#hbb3"/></g>
<g transform="translate(0.00 350.60)" stroke="#f0806e" stroke-width="0.80" stroke-linecap="round"><use href="#hbb4"/></g>
<g transform="translate(0.00 350.60)" stroke="#f0806e" stroke-width="0.80" stroke-linecap="round"><use href="#hbb5"/></g>
<g transform="translate(0.00 350.60)" stroke="#f0806e" stroke-width="0.80" stroke-linecap="round"><use href="#hbb6"/></g>
<g transform="translate(0.00 350.60)" stroke="#3ec3cb" stroke-width="0.80" stroke-linecap="round"><use href="#hbb7"/></g>
<g transform="translate(0.00 350.60)" stroke="#3ec3cb" stroke-width="0.80" stroke-linecap="round"><use href="#hbb8"/></g>
<g transform="translate(0.00 350.60)" stroke="#3ec3cb" stroke-width="0.80" stroke-linecap="round"><use href="#hbb9"/></g>
<g transform="translate(0.00 350.60)" stroke="#3ec3cb" stroke-width="0.80" stroke-linecap="round"><use href="#dbl0"/></g>
<g transform="translate(0.00 350.60)" stroke="#f0806e" stroke-width="0.80" stroke-linecap="round"><use href="#dbl1"/></g>
<g transform="translate(0.00 350.60)" stroke="#3ec3cb" stroke-width="0.80" stroke-linecap="round"><use href="#dbl2"/></g>
<g transform="translate(0.00 350.60)" stroke="#3ec3cb" stroke-width="0.80" stroke-linecap="round"><use href="#dbl3"/></g>
<g transform="translate(0.00 350.60)" stroke="#3ec3cb" stroke-width="0.80" stroke-linecap="round"><use href="#dbl4"/></g>
<g transform="translate(0.00 350.60)" stroke="#3ec3cb" stroke-width="0.80" stroke-linecap="round"><use href="#dbl5"/></g>
<g transform="translate(0.00 350.60)" stroke="#3ec3cb" stroke-width="0.80" stroke-linecap="round"><use href="#dbl6"/></g>
<g transform="translate(0.00 350.60)" stroke="#3ec3cb" stroke-width="0.80" stroke-linecap="round"><use href="#dbl7"/></g>
<g transform="translate(0.00 350.60)" stroke="#3ec3cb" stroke-width="0.80" stroke-linecap="round"><use href="#dbl8"/></g>
<g transform="translate(0.00 350.60)" stroke="#3ec3cb" stroke-width="0.80" stroke-linecap="round"><use href="#dbl9"/></g>
<g transform="translate(0.00 350.60)" stroke="#3ec3cb" stroke-width="0.80" stroke-linecap="round"><use href="#ery10"/></g>
<g transform="translate(0.00 350.60)" stroke="#3ec3cb" stroke-width="0.80" stroke-linecap="round"><use href="#ery11"/></g>
<g transform="translate(0.00 350.60)" stroke="#f0806e" stroke-width="0.80" stroke-linecap="round"><use href="#ery12"/></g>
<g transform="translate(0.00 350.60)" stroke="#3ec3cb" stroke-width="0.80" stroke-linecap="round"><use href="#ery13"/></g>
<g transform="translate(0.00 350.60)" stroke="#f0806e" stroke-width="0.80" stroke-linecap="round"><use href="#ery14"/></g>
<g transform="translate(0.00 350.60)" stroke="#f0806e" stroke-width="0.80" stroke-linecap="round"><use href="#ery15"/></g>
<g transform="translate(0.00 350.60)" stroke="#3ec3cb" stroke-width="0.80" stroke-linecap="round"><use href="#ery16"/></g>
<g transform="translate(0.00 350.60)" stroke="#3ec3cb" stroke-width="0.80" stroke-linecap="round"><use href="#ery17"/></g>
<g transform="translate(0.00 350.60)" stroke="#f0806e" stroke-width="0.80" stroke-linecap="round"><use href="#ery18"/></g>
<g transform="translate(0.00 350.60)" stroke="#3ec3cb" stroke-width="0.80" stroke-linecap="round"><use href="#ery19"/></g>
<g transform="translate(0.00 350.60)" stroke="#f0806e" stroke-width="0.80" stroke-linecap="round"><use href="#hspc10"/></g>
<g transform="translate(0.00 350.60)" stroke="#3ec3cb" stroke-width="0.80" stroke-linecap="round"><use href="#hspc11"/></g>
<g transform="translate(0.00 350.60)" stroke="#3ec3cb" stroke-width="0.80" stroke-linecap="round"><use href="#hspc12"/></g>
<g transform="translate(0.00 350.60)" stroke="#f0806e" stroke-width="0.80" stroke-linecap="round"><use href="#hspc13"/></g>
<g transform="translate(0.00 350.60)" stroke="#f0806e" stroke-width="0.80" stroke-linecap="round"><use href="#hspc14"/></g>
<g transform="translate(0.00 350.60)" stroke="#f0806e" stroke-width="0.80" stroke-linecap="round"><use href="#hspc15"/></g>
<g transform="translate(0.00 350.60)" stroke="#f0806e" stroke-width="0.80" stroke-linecap="round"><use href="#hspc16"/></g>
<g transform="translate(0.00 350.60)" stroke="#f0806e" stroke-width="0.80" stroke-linecap="round"><use href="#hspc17"/></g>
<g transform="translate(0.00 350.60)" stroke="#3ec3cb" stroke-width="0.80" stroke-linecap="round"><use href="#hspc18"/></g>
<g transform="translate(0.00 350.60)" stroke="#3ec3cb" stroke-width="0.80" stroke-linecap="round"><use href="#hspc19"/></g>
<g transform="translate(0.00 350.60)" stroke="#3ec3cb" stroke-width="0.80" stroke-linecap="round"><use href="#hspc20"/></g>
<g transform="translate(0.00 350.60)" stroke="#3ec3cb" stroke-width="0.80" stroke-linecap="round"><use href="#hspc21"/></g>
<g transform="translate(0.00 350.60)" stroke="#f0806e" stroke-width="0.80" stroke-linecap="round"><use href="#hspc22"/></g>
<g transform="translate(0.00 350.60)" stroke="#f0806e" stroke-width="0.80" stroke-linecap="round"><use href="#hspc23"/></g>
<g transform="translate(0.00 350.60)" stroke="#f0806e" stroke-width="0.80" stroke-linecap="round"><use href="#hspc24"/></g>
<g transform="translate(0.00 350.60)" stroke="#f0806e" stroke-width="0.80" stroke-linecap="round"><use href="#hspc25"/></g>
<g transform="translate(0.00 350.60)" stroke="#f0806e" stroke-width="0.80" stroke-linecap="round"><use href="#hspc26"/></g>
<g transform="translate(0.00 350.60)" stroke="#f0806e" stroke-width="0.80" stroke-linecap="round"><use href="#hspc27"/></g>
<g transform="translate(0.00 350.60)" stroke="#f0806e" stroke-width="0.80" stroke-linecap="round"><use href="#hspc28"/></g>
<g transform="translate(0.00 350.60)" stroke="#f0806e" stroke-width="0.80" stroke-linecap="round"><use href="#hspc29"/></g>
<g transform="translate(0.00 350.60)" stroke="#3ec3cb" stroke-width="0.80" stroke-linecap="round"><use href="#phagL0"/></g>
<g transform="translate(0.00 350.60)" stroke="#3ec3cb" stroke-width="0.80" stroke-linecap="round"><use href="#phagL1"/></g>
<g transform="translate(0.00 350.60)" stroke="#f0806e" stroke-width="0.80" stroke-linecap="round"><use href="#phagL2"/></g>
<g transform="translate(0.00 350.60)" stroke="#f0806e" stroke-width="0.80" stroke-linecap="round"><use href="#phagL3"/></g>
<g transform="translate(0.00 350.60)" stroke="#f0806e" stroke-width="0.80" stroke-linecap="round"><use href="#phagL4"/></g>
<g transform="translate(0.00 350.60)" stroke="#f0806e" stroke-width="0.80" stroke-linecap="round"><use href="#phagL5"/></g>
<g transform="translate(0.00 350.60)" stroke="#f0806e" stroke-width="0.80" stroke-linecap="round"><use href="#phagL6"/></g>
<g transform="translate(0.00 350.60)" stroke="#3ec3cb" stroke-width="0.80" stroke-linecap="round"><use href="#phagL7"/></g>
<g transform="translate(0.00 350.60)" stroke="#f0806e" stroke-width="0.80" stroke-linecap="round"><use href="#phagL8"/></g>
<g transform="translate(0.00 350.60)" stroke="#f0806e" stroke-width="0.80" stroke-linecap="round"><use href="#phagL9"/></g>
<g transform="translate(0.00 350.60)" stroke="#f0806e" stroke-width="0.80" stroke-linecap="round"><use href="#phagR0"/></g>
<g transform="translate(0.00 350.60)" stroke="#f0806e" stroke-width="0.80" stroke-linecap="round"><use href="#phagR1"/></g>
<g transform="translate(0.00 350.60)" stroke="#3ec3cb" stroke-width="0.80" stroke-linecap="round"><use href="#phagR2"/></g>
<g transform="translate(0.00 350.60)" stroke="#f0806e" stroke-width="0.80" stroke-linecap="round"><use href="#phagR3"/></g>
<g transform="translate(0.00 350.60)" stroke="#f0806e" stroke-width="0.80" stroke-linecap="round"><use href="#phagR4"/></g>
<g transform="translate(0.00 350.60)" stroke="#f0806e" stroke-width="0.80" stroke-linecap="round"><use href="#phagR5"/></g>
<g transform="translate(0.00 350.60)" stroke="#f0806e" stroke-width="0.80" stroke-linecap="round"><use href="#phagR6"/></g>
<g transform="translate(0.00 350.60)" stroke="#3ec3cb" stroke-width="0.80" stroke-linecap="round"><use href="#phagR7"/></g>
<g transform="translate(0.00 350.60)" stroke="#3ec3cb" stroke-width="0.80" stroke-linecap="round"><use href="#phagR8"/></g>
<g transform="translate(0.00 350.60)" stroke="#3ec3cb" stroke-width="0.80" stroke-linecap="round"><use href="#phagR9"/></g>
<g transform="translate(0.00 350.60)" stroke="#f0806e" stroke-width="0.80" stroke-linecap="round"><use href="#lymO0"/></g>
<g transform="translate(0.00 350.60)" stroke="#f0806e" stroke-width="0.80" stroke-linecap="round"><use href="#lymO1"/></g>
<g transform="translate(0.00 350.60)" stroke="#f0806e" stroke-width="0.80" stroke-linecap="round"><use href="#lymO2"/></g>
<g transform="translate(0.00 350.60)" stroke="#3ec3cb" stroke-width="0.80" stroke-linecap="round"><use href="#lymO3"/></g>
<g transform="translate(0.00 350.60)" stroke="#f0806e" stroke-width="0.80" stroke-linecap="round"><use href="#lymO4"/></g>
<g transform="translate(0.00 350.60)" stroke="#f0806e" stroke-width="0.80" stroke-linecap="round"><use href="#lymO5"/></g>
<g transform="translate(0.00 350.60)" stroke="#f0806e" stroke-width="0.80" stroke-linecap="round"><use href="#lymO6"/></g>
<g transform="translate(0.00 350.60)" stroke="#3ec3cb" stroke-width="0.80" stroke-linecap="round"><use href="#lymO7"/></g>
<g transform="translate(0.00 350.60)" stroke="#f0806e" stroke-width="0.80" stroke-linecap="round"><use href="#lymO8"/></g>
<g transform="translate(0.00 350.60)" stroke="#3ec3cb" stroke-width="0.80" stroke-linecap="round"><use href="#lymO9"/></g>
<g transform="translate(0.00 350.60)" stroke="#f0806e" stroke-width="0.80" stroke-linecap="round"><use href="#lymI0"/></g>
<g transform="translate(0.00 350.60)" stroke="#3ec3cb" stroke-width="0.80" stroke-linecap="round"><use href="#lymI1"/></g>
<g transform="translate(0.00 350.60)" stroke="#f0806e" stroke-width="0.80" stroke-linecap="round"><use href="#lymI2"/></g>
<g transform="translate(0.00 350.60)" stroke="#3ec3cb" stroke-width="0.80" stroke-linecap="round"><use href="#lymI3"/></g>
<g transform="translate(0.00 350.60)" stroke="#f0806e" stroke-width="0.80" stroke-linecap="round"><use href="#lymI4"/></g>
<g transform="translate(0.00 350.60)" stroke="#3ec3cb" stroke-width="0.80" stroke-linecap="round"><use href="#lymI5"/></g>
<g transform="translate(0.00 350.60)" stroke="#f0806e" stroke-width="0.80" stroke-linecap="round"><use href="#lymI6"/></g>
<g transform="translate(0.00 350.60)" stroke="#f0806e" stroke-width="0.80" stroke-linecap="round"><use href="#lymI7"/></g>
<g transform="translate(0.00 350.60)" stroke="#f0806e" stroke-width="0.80" stroke-linecap="round"><use href="#lymI8"/></g>
<g transform="translate(0.00 350.60)" stroke="#f0806e" stroke-width="0.80" stroke-linecap="round"><use href="#lymI9"/></g>
<g transform="translate(0.00 350.60)" stroke="#3ec3cb" stroke-width="0.80" stroke-linecap="round"><use href="#neut0"/></g>
<g transform="translate(0.00 350.60)" stroke="#f0806e" stroke-width="0.80" stroke-linecap="round"><use href="#neut1"/></g>
<g transform="translate(0.00 350.60)" stroke="#3ec3cb" stroke-width="0.80" stroke-linecap="round"><use href="#neut2"/></g>
<g transform="translate(0.00 350.60)" stroke="#3ec3cb" stroke-width="0.80" stroke-linecap="round"><use href="#neut3"/></g>
<g transform="translate(0.00 350.60)" stroke="#f0806e" stroke-width="0.80" stroke-linecap="round"><use href="#neut4"/></g>
<g transform="translate(0.00 350.60)" stroke="#3ec3cb" stroke-width="0.80" stroke-linecap="round"><use href="#neut5"/></g>
<g transform="translate(0.00 350.60)" stroke="#f0806e" stroke-width="0.80" stroke-linecap="round"><use href="#neut6"/></g>
<g transform="translate(0.00 350.60)" stroke="#3ec3cb" stroke-width="0.80" stroke-linecap="round"><use href="#neut7"/></g>
<g transform="translate(0.00 350.60)" stroke="#3ec3cb" stroke-width="0.80" stroke-linecap="round"><use href="#neut8"/></g>
<g transform="translate(0.00 350.60)" stroke="#f0806e" stroke-width="0.80" stroke-linecap="round"><use href="#neut9"/></g>
<g transform="translate(0.00 350.60)" stroke="#3ec3cb" stroke-width="0.80" stroke-linecap="round"><use href="#nk0"/></g>
<g transform="translate(0.00 350.60)" stroke="#f0806e" stroke-width="0.80" stroke-linecap="round"><use href="#nk1"/></g>
<g transform="translate(0.00 350.60)" stroke="#f0806e" stroke-width="0.80" stroke-linecap="round"><use href="#nk2"/></g>
<g transform="translate(0.00 350.60)" stroke="#f0806e" stroke-width="0.80" stroke-linecap="round"><use href="#nk3"/></g>
<g transform="translate(0.00 350.60)" stroke="#f0806e" stroke-width="0.80" stroke-linecap="round"><use href="#nk4"/></g>
<g transform="translate(0.00 350.60)" stroke="#3ec3cb" stroke-width="0.80" stroke-linecap="round"><use href="#nk5"/></g>
<g transform="translate(0.00 350.60)" stroke="#f0806e" stroke-width="0.80" stroke-linecap="round"><use href="#nk6"/></g>
<g transform="translate(0.00 350.60)" stroke="#f0806e" stroke-width="0.80" stroke-linecap="round"><use href="#nk7"/></g>
<g transform="translate(0.00 350.60)" stroke="#3ec3cb" stroke-width="0.80" stroke-linecap="round"><use href="#nk8"/></g>
<g transform="translate(0.00 350.60)" stroke="#3ec3cb" stroke-width="0.80" stroke-linecap="round"><use href="#nk9"/></g>
<g transform="translate(0.00 350.60)" stroke="#3ec3cb" stroke-width="0.80" stroke-linecap="round"><use href="#nkst0"/></g>
<g transform="translate(0.00 350.60)" stroke="#3ec3cb" stroke-width="0.80" stroke-linecap="round"><use href="#nkst1"/></g>
<g transform="translate(0.00 350.60)" stroke="#3ec3cb" stroke-width="0.80" stroke-linecap="round"><use href="#nkst2"/></g>
<g transform="translate(0.00 350.60)" stroke="#f0806e" stroke-width="0.80" stroke-linecap="round"><use href="#nkst3"/></g>
<g transform="translate(0.00 350.60)" stroke="#f0806e" stroke-width="0.80" stroke-linecap="round"><use href="#nkst4"/></g>
<g transform="translate(0.00 350.60)" stroke="#f0806e" stroke-width="0.80" stroke-linecap="round"><use href="#nkst5"/></g>
<g transform="translate(0.00 350.60)" stroke="#f0806e" stroke-width="0.80" stroke-linecap="round"><use href="#nkst6"/></g>
<g transform="translate(0.00 350.60)" stroke="#3ec3cb" stroke-width="0.80" stroke-linecap="round"><use href="#nkst7"/></g>
<g transform="translate(0.00 350.60)" stroke="#f0806e" stroke-width="0.80" stroke-linecap="round"><use href="#nkst8"/></g>
<g transform="translate(0.00 350.60)" stroke="#3ec3cb" stroke-width="0.80" stroke-linecap="round"><use href="#nkst9"/></g>
<g transform="translate(0.00 350.60)" stroke="#3ec3cb" stroke-width="0.80" stroke-linecap="round"><use href="#tc0"/></g>
<g transform="translate(0.00 350.60)" stroke="#f0806e" stroke-width="0.80" stroke-linecap="round"><use href="#tc1"/></g>
<g transform="translate(0.00 350.60)" stroke="#3ec3cb" stroke-width="0.80" stroke-linecap="round"><use href="#tc2"/></g>
<g transform="translate(0.00 350.60)" stroke="#3ec3cb" stroke-width="0.80" stroke-linecap="round"><use href="#tc3"/></g>
<g transform="translate(0.00 350.60)" stroke="#f0806e" stroke-width="0.80" stroke-linecap="round"><use href="#tc4"/></g>
<g transform="translate(0.00 350.60)" stroke="#3ec3cb" stroke-width="0.80" stroke-linecap="round"><use href="#tc5"/></g>
<g transform="translate(0.00 350.60)" stroke="#f0806e" stroke-width="0.80" stroke-linecap="round"><use href="#tc6"/></g>
<g transform="translate(0.00 350.60)" stroke="#3ec3cb" stroke-width="0.80" stroke-linecap="round"><use href="#tc7"/></g>
<g transform="translate(0.00 350.60)" stroke="#f0806e" stroke-width="0.80" stroke-linecap="round"><use href="#tc8"/></g>
<g transform="translate(0.00 350.60)" stroke="#f0806e" stroke-width="0.80" stroke-linecap="round"><use href="#tc9"/></g>
<g transform="translate(0.00 350.60)" stroke="#3ec3cb" stroke-width="0.80" stroke-linecap="round"><use href="#thr0"/></g>
<g transform="translate(0.00 350.60)" stroke="#f0806e" stroke-width="0.80" stroke-linecap="round"><use href="#thr1"/></g>
<g transform="translate(0.00 350.60)" stroke="#3ec3cb" stroke-width="0.80" stroke-linecap="round"><use href="#thr2"/></g>
<g transform="translate(0.00 350.60)" stroke="#3ec3cb" stroke-width="0.80" stroke-linecap="round"><use href="#thr3"/></g>
<g transform="translate(0.00 350.60)" stroke="#f0806e" stroke-width="0.80" stroke-linecap="round"><use href="#thr4"/></g>
<g transform="translate(0.00 350.60)" stroke="#f0806e" stroke-width="0.80" stroke-linecap="round"><use href="#thr5"/></g>
<g transform="translate(0.00 350.60)" stroke="#f0806e" stroke-width="0.80" stroke-linecap="round"><use href="#thr6"/></g>
<g transform="translate(0.00 350.60)" stroke="#3ec3cb" stroke-width="0.80" stroke-linecap="round"><use href="#thr7"/></g>
<g transform="translate(0.00 350.60)" stroke="#f0806e" stroke-width="0.80" stroke-linecap="round"><use href="#thr8"/></g>
<g transform="translate(0.00 350.60)" stroke="#3ec3cb" stroke-width="0.80" stroke-linecap="round"><use href="#thr9"/></g>
<g transform="translate(0.00 350.60)" stroke="#3ec3cb" stroke-width="0.80" stroke-linecap="round"><use href="#fill0"/></g>
<g transform="translate(0.00 350.60)" stroke="#f0806e" stroke-width="0.80" stroke-linecap="round"><use href="#fill1"/></g>
<g transform="translate(0.00 350.60)" stroke="#3ec3cb" stroke-width="0.80" stroke-linecap="round"><use href="#fill2"/></g>
<g transform="translate(0.00 350.60)" stroke="#3ec3cb" stroke-width="0.80" stroke-linecap="round"><use href="#fill3"/></g>
<g transform="translate(0.00 350.60)" stroke="#3ec3cb" stroke-width="0.80" stroke-linecap="round"><use href="#fill4"/></g>
<g transform="translate(0.00 350.60)" stroke="#f0806e" stroke-width="0.80" stroke-linecap="round"><use href="#fill5"/></g>
<g transform="translate(0.00 350.60)" stroke="#f0806e" stroke-width="0.80" stroke-linecap="round"><use href="#fill6"/></g>
<g transform="translate(0.00 350.60)" stroke="#f0806e" stroke-width="0.80" stroke-linecap="round"><use href="#fill7"/></g>
<g transform="translate(0.00 350.60)" stroke="#f0806e" stroke-width="0.80" stroke-linecap="round"><use href="#fill8"/></g>
<g transform="translate(0.00 350.60)" stroke="#f0806e" stroke-width="0.80" stroke-linecap="round"><use href="#fill9"/></g>
<g transform="translate(0.00 350.60)" stroke="#3ec3cb" stroke-width="0.80" stroke-linecap="round"><use href="#fill20"/></g>
<g transform="translate(0.00 350.60)" stroke="#3ec3cb" stroke-width="0.80" stroke-linecap="round"><use href="#fill21"/></g>
<g transform="translate(0.00 350.60)" stroke="#f0806e" stroke-width="0.80" stroke-linecap="round"><use href="#fill22"/></g>
<g transform="translate(0.00 350.60)" stroke="#3ec3cb" stroke-width="0.80" stroke-linecap="round"><use href="#fill23"/></g>
<g transform="translate(0.00 350.60)" stroke="#f0806e" stroke-width="0.80" stroke-linecap="round"><use href="#fill24"/></g>
<g transform="translate(0.00 350.60)" stroke="#f0806e" stroke-width="0.80" stroke-linecap="round"><use href="#fill25"/></g>
<g transform="translate(0.00 350.60)" stroke="#3ec3cb" stroke-width="0.80" stroke-linecap="round"><use href="#fill26"/></g>
<g transform="translate(0.00 350.60)" stroke="#3ec3cb" stroke-width="0.80" stroke-linecap="round"><use href="#fill27"/></g>
<g transform="translate(0.00 350.60)" stroke="#3ec3cb" stroke-width="0.80" stroke-linecap="round"><use href="#fill28"/></g>
<g transform="translate(0.00 350.60)" stroke="#f0806e" stroke-width="0.80" stroke-linecap="round"><use href="#fill29"/></g>
<g transform="translate(0.00 350.60)" stroke="#f0806e" stroke-width="0.80" stroke-linecap="round"><use href="#fill30"/></g>
<g transform="translate(0.00 350.60)" stroke="#f0806e" stroke-width="0.80" stroke-linecap="round"><use href="#fill31"/></g>
<g transform="translate(0.00 350.60)" stroke="#f0806e" stroke-width="0.80" stroke-linecap="round"><use href="#fill32"/></g>
<g transform="translate(0.00 350.60)" stroke="#3ec3cb" stroke-width="0.80" stroke-linecap="round"><use href="#fill33"/></g>
<g transform="translate(0.00 350.60)" stroke="#3ec3cb" stroke-width="0.80" stroke-linecap="round"><use href="#fill34"/></g>
<g transform="translate(0.00 350.60)" stroke="#f0806e" stroke-width="0.80" stroke-linecap="round"><use href="#fill35"/></g>
<g transform="translate(0.00 350.60)" stroke="#f0806e" stroke-width="0.80" stroke-linecap="round"><use href="#fill36"/></g>
<g transform="translate(0.00 350.60)" stroke="#3ec3cb" stroke-width="0.80" stroke-linecap="round"><use href="#fill37"/></g>
<g transform="translate(0.00 350.60)" stroke="#f0806e" stroke-width="0.80" stroke-linecap="round"><use href="#fill38"/></g>
<g transform="translate(0.00 350.60)" stroke="#f0806e" stroke-width="0.80" stroke-linecap="round"><use href="#fill39"/></g>
<path d="M87.1 383 L84 384.5 L81.8 385.8 L79 388 L76.4 389.8 L72.3 392.5 L68.3 395.2 L66 398 L67.5 402 L68.3 406 L68.3 410 L69.6 415.4 L75 418.5 L80 421.5 L84.5 424.1 L87.8 426.1 L88.2 431 L88.5 436.9 L89.8 439.6" fill="none" stroke="#1a1a1a" stroke-width="1.3" stroke-linejoin="round" stroke-linecap="round"/>
<path d="M68.3 395.2 L64 394 L60 395.5 L56 396 L53.5 397.5 L54.5 401 L57 402 L58 405.5 L61 407 L63 410 L65.5 411 L68.3 410" fill="none" stroke="#1a1a1a" stroke-width="1.3" stroke-linejoin="round" stroke-linecap="round"/>
<path d="M56 396 L55 393.5 L57.5 392.5" fill="none" stroke="#1a1a1a" stroke-width="1.3" stroke-linejoin="round" stroke-linecap="round"/>
<path d="M60 395.5 L61.5 399 L64 401 L66 398" fill="none" stroke="#1a1a1a" stroke-width="1.3" stroke-linejoin="round" stroke-linecap="round"/>
<path d="M58 405.5 L55 407 L54 404" fill="none" stroke="#1a1a1a" stroke-width="1.3" stroke-linejoin="round" stroke-linecap="round"/>
<path d="M63 410 L62.5 413.5 L64.5 415" fill="none" stroke="#1a1a1a" stroke-width="1.3" stroke-linejoin="round" stroke-linecap="round"/>
<path d="M84.5 424.1 L88 422 L89.8 420.8 L92.5 416.7 L96.6 414" fill="none" stroke="#1a1a1a" stroke-width="1.3" stroke-linejoin="round" stroke-linecap="round"/>
<path d="M89.8 435 L91.2 439 L87.1 441.7 L82 441.7 L76.4 441.7 L72.3 437.7" fill="none" stroke="#1a1a1a" stroke-width="1.3" stroke-linejoin="round" stroke-linecap="round"/>
<path d="M76.4 441.7 L76.4 449.8 L79 451" fill="none" stroke="#1a1a1a" stroke-width="1.3" stroke-linejoin="round" stroke-linecap="round"/>
<path d="M87.1 441.7 L92.5 445.8 L95.2 452.5 L99.3 456.5 L102 461.9" fill="none" stroke="#1a1a1a" stroke-width="1.3" stroke-linejoin="round" stroke-linecap="round"/>
<path d="M99.7 461.8 L103 458 L106.2 455.3 L111 451.3 L115 449 L119.1 447.2 L124 445.5 L128.9 444 L133 442.8 L137 441.6 L138.6 438.3 L137.8 433.5 L140.5 433 L143.4 433.5 L146.5 435 L149.9 435.9 L152.5 435.2 L154.8 434.3 L156.5 431 L158 427.8 L159.6 423 L158 419.7 L155.5 420 L154 422.5" fill="none" stroke="#1a1a1a" stroke-width="1.3" stroke-linejoin="round" stroke-linecap="round"/>
<path d="M137.8 433.5 L135.5 428 L133.7 422.1" fill="none" stroke="#1a1a1a" stroke-width="1.3" stroke-linejoin="round" stroke-linecap="round"/>
<path d="M111 451.3 L111.3 447 L111 442.4" fill="none" stroke="#1a1a1a" stroke-width="1.3" stroke-linejoin="round" stroke-linecap="round"/>
<path d="M154.8 434.3 L153 430 L151 427.5" fill="none" stroke="#1a1a1a" stroke-width="1.3" stroke-linejoin="round" stroke-linecap="round"/>
<path d="M42.7 494.2 L47 491.2 L52 488 L57 484.7 L62 481.5 L67.6 478.1 L72.3 474 L79.1 471.3 L81.8 468.6 L86 467.5 L89.8 466.6 L95.2 463.3 L100.6 461.2" fill="none" stroke="#1a1a1a" stroke-width="1.3" stroke-linejoin="round" stroke-linecap="round"/>
<path d="M42.7 494.2 L44 492 L46.5 491.5 L47.5 494 L45 496.5 L42.7 494.2" fill="none" stroke="#1a1a1a" stroke-width="1.3" stroke-linejoin="round" stroke-linecap="round"/>
<path d="M67.6 478.1 L69.6 479.5 L76.4 481.4 L80.4 479.4 L81.8 475.4 L79.1 471.3" fill="none" stroke="#1a1a1a" stroke-width="1.3" stroke-linejoin="round" stroke-linecap="round"/>
<path d="M81.8 475.4 L81.6 479 L81.8 483.5 L83.1 488.8 L89.8 492.2 L95 493 L99.3 493.5 L105.4 492.6" fill="none" stroke="#1a1a1a" stroke-width="1.3" stroke-linejoin="round" stroke-linecap="round"/>
<path d="M83.1 488.8 L82.4 494.2 L84 498 L86.9 501 L92.5 505 L99.3 505.7 L103 506 L107 504" fill="none" stroke="#1a1a1a" stroke-width="1.3" stroke-linejoin="round" stroke-linecap="round"/>
<path d="M89.8 466.6 L90.8 475.4 L88.5 479.4" fill="none" stroke="#1a1a1a" stroke-width="1.3" stroke-linejoin="round" stroke-linecap="round"/>
<path d="M99.7 479.6 L103 481.5 L106.2 482.9 L110.2 482 L113 480.5 L115.9 479.6 L117 481 L118.3 483.7 L116 484.5" fill="none" stroke="#1a1a1a" stroke-width="1.3" stroke-linejoin="round" stroke-linecap="round"/>
<path d="M106.2 482.9 L105.6 487 L105.4 492.6 L108 494.5 L111 495.8 L111.5 499 L111.9 502.3" fill="none" stroke="#1a1a1a" stroke-width="1.3" stroke-linejoin="round" stroke-linecap="round"/>
<path d="M95.2 463.3 L97.5 470 L99.7 479.6" fill="none" stroke="#1a1a1a" stroke-width="1.3" stroke-linejoin="round" stroke-linecap="round"/>
<circle cx="144.3" cy="381.2" r="1.8" fill="#3ec3cb"/>
<circle cx="144.3" cy="387.3" r="1.8" fill="#f0806e"/>
<text x="146.4" y="383.5" font-size="6.2" fill="#222">WT</text>
<text x="146.4" y="389.6" font-size="6.2" fill="#333" textLength="20.2" lengthAdjust="spacingAndGlyphs">gata 2b</text>
<text x="167" y="386.6" font-size="3.6" fill="#333">-/-</text>
<line x1="36.6" y1="377.5" x2="36.6" y2="512.3" stroke="#222" stroke-width="1.0"/>
<line x1="36.6" y1="512.3" x2="169.8" y2="512.3" stroke="#222" stroke-width="1.0"/>
<line x1="64.5" y1="512.3" x2="64.5" y2="515.2" stroke="#333" stroke-width="0.8"/>
<text x="64.5" y="520.4" font-size="6" text-anchor="middle" fill="#333">−5</text>
<line x1="93" y1="512.3" x2="93" y2="515.2" stroke="#333" stroke-width="0.8"/>
<text x="93" y="520.4" font-size="6" text-anchor="middle" fill="#333">0</text>
<line x1="121.5" y1="512.3" x2="121.5" y2="515.2" stroke="#333" stroke-width="0.8"/>
<text x="121.5" y="520.4" font-size="6" text-anchor="middle" fill="#333">5</text>
<line x1="150" y1="512.3" x2="150" y2="515.2" stroke="#333" stroke-width="0.8"/>
<text x="150" y="520.4" font-size="6" text-anchor="middle" fill="#333">10</text>
<line x1="179.2" y1="377.5" x2="179.2" y2="512.3" stroke="#222" stroke-width="1.0"/>
<line x1="179.2" y1="512.3" x2="314.5" y2="512.3" stroke="#222" stroke-width="1.0"/>
<line x1="206.6" y1="512.3" x2="206.6" y2="515.2" stroke="#333" stroke-width="0.8"/>
<text x="206.6" y="520.4" font-size="6" text-anchor="middle" fill="#333">−5</text>
<line x1="235.5" y1="512.3" x2="235.5" y2="515.2" stroke="#333" stroke-width="0.8"/>
<text x="235.5" y="520.4" font-size="6" text-anchor="middle" fill="#333">0</text>
<line x1="264.4" y1="512.3" x2="264.4" y2="515.2" stroke="#333" stroke-width="0.8"/>
<text x="264.4" y="520.4" font-size="6" text-anchor="middle" fill="#333">5</text>
<line x1="293.3" y1="512.3" x2="293.3" y2="515.2" stroke="#333" stroke-width="0.8"/>
<text x="293.3" y="520.4" font-size="6" text-anchor="middle" fill="#333">10</text>
<line x1="33.4" y1="392" x2="36.6" y2="392" stroke="#333" stroke-width="0.8"/>
<text x="32.2" y="394.1" font-size="6" text-anchor="end" fill="#333">10</text>
<line x1="33.4" y1="420" x2="36.6" y2="420" stroke="#333" stroke-width="0.8"/>
<text x="32.2" y="422.1" font-size="6" text-anchor="end" fill="#333">5</text>
<line x1="33.4" y1="448" x2="36.6" y2="448" stroke="#333" stroke-width="0.8"/>
<text x="32.2" y="450.1" font-size="6" text-anchor="end" fill="#333">0</text>
<line x1="33.4" y1="476" x2="36.6" y2="476" stroke="#333" stroke-width="0.8"/>
<text x="32.2" y="478.1" font-size="6" text-anchor="end" fill="#333">−5</text>
<line x1="33.4" y1="504" x2="36.6" y2="504" stroke="#333" stroke-width="0.8"/>
<text x="32.2" y="506.1" font-size="6" text-anchor="end" fill="#333">−10</text>
<line x1="22.5" y1="388" x2="22.5" y2="515" stroke="#8a8a8a" stroke-width="1.4"/>
<path d="M22.5 384 L20.9 388.5 L24.1 388.5Z"/>
<text x="0" y="0" font-size="7.6" text-anchor="middle" font-weight="bold" fill="#333" transform="translate(19.3 445) rotate(-90)" textLength="23" lengthAdjust="spacingAndGlyphs">UMAP_2</text>
<line x1="35.5" y1="522.6" x2="304" y2="522.6" stroke="#8a8a8a" stroke-width="1.4"/>
<path d="M307.5 522.6 L303 521 L303 524.2Z"/>
<text x="179.8" y="532.1" font-size="8.3" text-anchor="middle" font-weight="bold" fill="#333" textLength="24.6" lengthAdjust="spacingAndGlyphs">UMAP_1</text>
<path d="M227.5 443.5h0m-.4 .2h0m-1.2-.9h0m-.3-.2h0m-.3 1h0m-2.4-.2h0m-.1 0h0m-1.2-.1h0m-.1-2h0m5.4 4.1h0m2.2 0h0m1.1-.8h0m0 0h0m.7 .8h0m.7-.6h0m.8 1h0m1.6 0h0m.7 .8h0m5.3-.2h0m1.3 .4h0m1-.9h0m1.4-1.3h0m1.4 1.7h0m.5 .3h0m.2 0h0m1.1-1.7h0m.9-.3h0m1 1.5h0m.9-.7h0m.1 .3h0m-.5 1.9h0m-1.3 .7h0m-.2 0h0m-.5-.6h0m-1 1.6h0m-.9-.1h0m-.3-1.8h0m-.4 2.4h0m-.6-.9h0m-3-.6h0m-.2-1.3h0m-.3 .5h0m-.5 1.9h0m-1-1.9h0m-2.1 .2h0m-.8 .8h0m-.2 .9h0m-.1-1h0m-2.1-.8h0m-2.1-.5h0m-1.6 4.1h0m6.3 1.6h0m2.6 0h0m.1-.5h0m2-1.5h0m.5 .7h0m.1 0h0m.2-.9h0m1.6 1.4h0m0 0h0m0 .4h0m1.7-2h0m1.1-.2h0m.3 2h0m1.7-2.2h0m-2.8 4.9h0m-.3 .8h0m-.3-2.1h0m-.1 1.3h0m-.3-1.4h0m-2 .8h0m-.1 .9h0m-.6 .7h0m-.9-.3h0m-.2 .3h0m-.4-.2h0m-.1-2.2h0m-.2 .8h0m0 .8h0m-1-2.1h0m-.6 1.8h0m-.7 .2h0m-.4 .6h0m0 .2h0m-.8-.5h0m-.7 .4h0m-.7-.9h0m-.5 1.1h0m-.2-.9h0m-.1 .8h0m0-.4h0m-1.1-1.1h0m0-1.2h0m-.4 .9h0m-.1 .5h0m-.4-.2h0m-.4 1.4h0m-1-.1h0m-.3-.5h0m-.9-.3h0m-.4-.3h0m-.1 1.2h0m0-1.1h0m-.2 .3h0m-.4 1h0m-.5-2.9h0m-.4 2.7h0m-.2-1.5h0m-.5 1.4h0m-.3-1.5h0m-.5 1.5h0m-.8 2.4h0m0 .9h0m.6-.5h0m.2-1.2h0m.2-.3h0m.2 1.2h0m.1-.1h0m.2 .5h0m.2-1.3h0m.4 1h0m.4-1.5h0m.3 2h0m.1-1.2h0m.1-.3h0m.1-.8h0m.2 .2h0m.2 0h0m.1 .2h0m.5 .4h0m.9-1h0m0 1.8h0m.5-.4h0m.2 .5h0m.5-1.5h0m0 1.1h0m.8 1.2h0m.1-1.8h0m.4 .1h0m.4 .6h0m0-.3h0m.6 1.2h0m0-1.1h0m.1-.1h0m0 1.2h0m.2-2.3h0m.7 1.5h0m.1-.7h0m.3 .2h0m.3-.8h0m.2 2.3h0m.1-1.3h0m.1 0h0m.3-.7h0m.1 .7h0m0-.2h0m.4-.6h0m.6 2h0m0 .1h0m0-2.2h0m.1 .5h0m.6 .9h0m.2-.6h0m.3 .8h0m.2-.3h0m.5-.2h0m.1-.9h0m0 2h0m.2-1.1h0m0-1.1h0m.1 2.1h0m0-2h0m.1-.8h0m.1 2.6h0m0-1.2h0m.3-.7h0m.4 .8h0m.3-1.1h0m.1 1.9h0m0 .5h0m0-.6h0m.9 .5h0m.5-1h0m0-.5h0m.1-.8h0m.2 .2h0m.4 .6h0m0-.8h0m.1 .3h0m.1 1.4h0m.6-1.2h0m.1-.1h0m.2 1.9h0m.2-2.2h0m.1 2h0m.3-1.1h0m.7-.5h0m2.4 1.8h0m2.7 2.5h0m-1.1-1h0m-.5 1.5h0m-.5-.8h0m-.4 .1h0m-1.8-1.9h0m-.6 2.2h0m-.6-.2h0m-.1 0h0m-.3-1.4h0m-.1 1.4h0m-.5-1.9h0m-.3 .6h0m-.3 1.6h0m-.6-.7h0m-.1-.6h0m0-.3h0m-.3 .8h0m-.1 .8h0m-.1-.8h0m-.5 .1h0m-.5-.1h0m-.3-.3h0m-.2 1h0m-.2-1.4h0m-.1 1.9h0m-.3-1.4h0m-.2-.6h0m-.1-.3h0m-.1 1.6h0m-.3 .3h0m0 0h0m-.2 .3h0m-.4 0h0m-.1-.6h0m-.5 0h0m-.6-1.9h0m-.2 .4h0m0 2h0m-.1-2.1h0m-.2 2.1h0m-.1-2h0m-.1-.4h0m-.7 2.1h0m-.1 .2h0m-.2-2.3h0m-.2 2.7h0m0-2.5h0m-.7-.4h0m0 .8h0m-.1-.3h0m0 1.6h0m-.8 .1h0m-.1-1.8h0m-.1 2.4h0m-.1-2.1h0m-.2 .6h0m-.2 1h0m-.1 .6h0m-.1-1.3h0m-.3 1h0m-.1-1h0m-.4-1.5h0m-.9 1h0m-.3 1.3h0m0-.6h0m-.1 .6h0m-.2-1h0m-.7-1.1h0m0 .7h0m-.3-.4h0m-.5 .1h0m-.9-.3h0m-.2-.1h0m-1.6 1.1h0m-.2 1.3h0m0 .1h0m-.7-2.3h0m-.3-.1h0m-.8 1h0m-.4 1.4h0m-.1-.9h0m-.3 .4h0m-4.4 3.3h0m.1 0h0m.6-.7h0m0-.1h0m.3 0h0m1.2-.9h0m.1 .8h0m.1-.3h0m.4-.8h0m.4 2h0m0-.4h0m.1-.3h0m.4-.3h0m.7 1h0m.1-2.4h0m.6-.2h0m.3 .3h0m.2 2.2h0m.6-2.5h0m.1 1.8h0m.1-.5h0m.2-1.1h0m0 0h0m.1 1.6h0m0-.3h0m0 1.4h0m.1-.2h0m.1-.3h0m.6-.6h0m.8-.8h0m.1 .4h0m0-.6h0m.2 .8h0m.2-.2h0m.1-.2h0m.1 .3h0m.3 1h0m.3-1.9h0m.1 1.5h0m.2-1.3h0m.9 1.1h0m0-.3h0m.5 .2h0m.3-1.8h0m.2 .8h0m.2 1.6h0m.4 0h0m.1-1.1h0m0 .4h0m.1-1.5h0m0 2.5h0m.1-2h0m.1 1.5h0m.1-1h0m.3 .8h0m.2 .5h0m0-.4h0m.1-.8h0m.1-1.2h0m.3 2h0m.7 .4h0m.1-2.3h0m.2 .5h0m.3-.1h0m.7-.4h0m.2 .9h0m1.2-.7h0m1.5 .5h0m.2-.8h0m0 .4h0m.4 .2h0m0 .1h0m1 .8h0m0 .5h0m.2-2h0m.3 .5h0m.1 .5h0m1.5 .4h0m.2 1.1h0m.1-1h0m0-1.3h0m.2 .6h0m.2 1.8h0m.3-2.4h0m.4 .1h0m.1 2.5h0m0-.5h0m.2-1.6h0m.1-.1h0m.4-.1h0m.5-.2h0m.4 1.7h0m1.3-1h0m2.2-.9h0m.9 1.8h0m.1-.9h0m1.3 4.7h0m-2.6-.5h0m-1.3-.4h0m-1.5-1.7h0m-.9 .4h0m-.7-.5h0m-.8 1.7h0m0-.5h0m-.8-1.3h0m-.7 .1h0m-.1 .7h0m0 1.8h0m-.3-.7h0m-.2 .7h0m-.1-2.4h0m0 2.1h0m-.2-1.8h0m-.8 1.8h0m-.1-1.4h0m-.1 .3h0m-.1 1.6h0m0-2.4h0m-.3 .5h0m-.2 1.9h0m-.1-2.8h0m-.2 2.9h0m-.3-1h0m-.3-.3h0m-.2-.7h0m-.6 .9h0m-.1 .1h0m-.6-.5h0m-.1 .1h0m-.5-.5h0m-.2 1.3h0m-.1-1.9h0m-.1 2.4h0m-.1-2.3h0m-.9-.1h0m-.2 .5h0m-.1-.2h0m-.1 1.2h0m-.2 .5h0m-.1 .3h0m-.2 0h0m-.4 0h0m-.3 .2h0m0-1.7h0m-.2 1.6h0m0-2.3h0m-.2 2.4h0m-.3-.7h0m-.2 0h0m-.3-2.2h0m-.3 1.2h0m-.1-.7h0m-.4 2.4h0m-.1-.5h0m0-.5h0m-.1 .4h0m-.6-.6h0m-.1-.7h0m-.1-.3h0m0 .5h0m-.1-.1h0m-.2-.6h0m-.1 1.7h0m0-1.3h0m0 0h0m-.1-.5h0m0 1.1h0m-.3 0h0m-.2 1.1h0m0-.2h0m-.5-.3h0m-.2-.1h0m-.2-1.6h0m-.3 1h0m-.2-.1h0m-.3 1.1h0m-.1-.2h0m-.1-1.3h0m-.4 .1h0m-.5-.2h0m-.3 1.9h0m-1.2-.4h0m0-1.8h0m-.3 1.6h0m-.1 .6h0m-.2-1.2h0m-.2-.9h0m-.5 1.4h0m-.1-1.2h0m-.6 1.6h0m0-.1h0m-.5 .1h0m-.2 .4h0m0-2.4h0m-.9 1.9h0m-.7-.9h0m-.1-1.2h0m-.3 0h0m-.3-.2h0m-.3 1.4h0m1.1 1.6h0m.3 .8h0m.4 .3h0m.4 .7h0m.1-1.1h0m1-.2h0m.1-.3h0m.5 .6h0m.1 1.2h0m0-.6h0m.2 1.3h0m0-2.1h0m.6-.4h0m.2 2.3h0m0-.6h0m.1 .6h0m0-1h0m.1 .7h0m1.1-.8h0m0-1.4h0m.3 .3h0m.1 2.4h0m.3-2.4h0m0 .4h0m.6 .4h0m.1-.3h0m.2-.6h0m.1 2.2h0m.1-1.9h0m0 0h0m.1 1.1h0m0 .9h0m.6-1.5h0m.4 .9h0m.1-.6h0m.6-.6h0m0 2.2h0m.2-2.7h0m.9 1.2h0m.3 1h0m.1-.1h0m.1-.9h0m.6 .8h0m.1-.2h0m0-1.6h0m0 1.2h0m.3-.3h0m.1 1.1h0m0 .1h0m.9-2.2h0m.2 2.5h0m.3-1.1h0m.1 .3h0m.4 .9h0m.1-.2h0m.4-1.8h0m.1-.4h0m.1 2.4h0m.3-.7h0m.3 .1h0m.2-1.3h0m.8-.4h0m0-.3h0m.4 2.4h0m.7-.2h0m.5-2h0m.3 .6h0m0 .8h0m.6 .4h0m0-.4h0m.2-1.5h0m.3 .3h0m.1 1.6h0m.1-1.7h0m.3 .9h0m.6 .2h0m.1-1.7h0m.1 2.6h0m1 .2h0m.1-2.3h0m.1 1h0m0 1h0m.5-1.4h0m0 0h0m.1 1.5h0m.4-.2h0m.3-.6h0m0-1.4h0m2.3 2h0m.2 .1h0m.1-1.6h0m.6-.8h0m.1-.1h0m1.3 1.3h0m1.2-1.2h0m.4 .9h0m1.9 1.7h0m.3-1.2h0m-2 3.9h0m-1.7-.2h0m-1.9-1.5h0m0-.6h0m-3.1 .3h0m-.6 1.8h0m-.2-.5h0m-.4-1.2h0m-.2-.5h0m0 .3h0m-.2 .1h0m-.2 2.2h0m-.2-1.8h0m-.1 .8h0m0-1.5h0m-.1 2.7h0m0-2.4h0m-.1 .2h0m0 1.7h0m0-2.2h0m-.2 1.7h0m-.2-.9h0m-.2 1.5h0m-.2-2.2h0m-.5 2.6h0m-.2-.1h0m-.5-.8h0m-.2 .5h0m-.4-.3h0m-.1 0h0m-.2 .4h0m0-.2h0m-.1-.7h0m0 1h0m-.1-2.2h0m-.5-.3h0m0 2.6h0m-.5-1.7h0m-.1 1.8h0m-.2-1.7h0m-.1 .2h0m-.2-1.1h0m-.5 1.1h0m-.1 1.3h0m0-1.8h0m-.1 .6h0m-.1 0h0m-.6-.2h0m-.3-.4h0m-.1 0h0m-.3 .3h0m-.1-.3h0m0-.7h0m-.2 .5h0m-1.3-.4h0m-.4 1.3h0m-.3 .6h0m-.2 .2h0m-.6-.1h0m0-1.7h0m0-.5h0m-.5 2.8h0m-.2-2.7h0m-.3 1h0m-.4 1.3h0m-.1-1.7h0m-.2 1.2h0m-.4-1.2h0m-.2-.1h0m-.1 1h0m-.5-.6h0m0 .1h0m-.2 .5h0m-.1-1.5h0m0 1.9h0m0-.5h0m-.4 .7h0m-.5-1.6h0m-.2 .7h0m0-.2h0m-.3-.1h0m-1.1-.6h0m2.2 2.6h0m.6 0h0m.2 .3h0m.4 1.1h0m.4-.5h0m.2 .8h0m.6 .5h0m0-.3h0m.2-1.2h0m.2-.6h0m.1 1.7h0m1.3-.2h0m.1-.7h0m.4 1.4h0m.1-.6h0m.1 .3h0m0-1.2h0m.2 0h0m.6 1h0m0 .3h0m.3-2h0m0 .7h0m1 .8h0m.6-.8h0m.1 .2h0m0-.5h0m.2-.1h0m.4 1.4h0m.3-1.2h0m.1 1.7h0m.1-.9h0m0-1.4h0m1.6 1.2h0m0 .8h0m.2-1.6h0m.5 .2h0m0 1.2h0m.3-.9h0m.6-.7h0m.3 1h0m.3-.8h0m.2 0h0m.1 1.4h0m0 0h0m.5-1.1h0m.2 .8h0m0-.6h0m.1-.4h0m.1 .1h0m1.1 .7h0m3.4-.9h0m1.1 1.6h0m.4 0h0m-1.2 1h0m-.2 .1h0m-15.4 2h0m0 .8h0m-.3-.3h0m-.2-.6h0m-.8-.7h0m1.4 3.2h0m20.7 4.8h0" stroke="#1f078c" stroke-width="0.8" stroke-linecap="round"/>
<path d="M251.8 440.7h0m-2.7 3h0m-22.1-.5h0m-.3 .2h0m-1.7 .1h0m-.2-.8h0m-.5 .2h0m-.2 .4h0m-.2-.2h0m-.2-1h0m-.5-.1h0m-.3-.1h0m-.8 1.1h0m-.8-.2h0m1.7 1.3h0m1.1 0h0m.5 .3h0m.1 .4h0m1.2-.2h0m.8 .8h0m0-.1h0m.1-.2h0m1.7 1.2h0m.2 0h0m.4-2.2h0m.3 .3h0m.5 2.2h0m.1-1.8h0m.9 1h0m0-.3h0m.2 .6h0m1.4 .3h0m.3-.3h0m.4-.9h0m.5-.2h0m2.1 1.1h0m.5 .7h0m.8-.3h0m.1 .4h0m4.7-1h0m2.8-1.5h0m.1 1.5h0m2.5-1.8h0m.2 1.1h0m.2 1.6h0m.7 3h0m-.6-2h0m-.4-.5h0m-1.7 2.4h0m-.5-.1h0m-2.2-.4h0m-.7-1.5h0m-1.6-.5h0m-1.4-.2h0m-2 .9h0m-2.5 .1h0m-.9-.3h0m-6.7 5.1h0m.9-.4h0m1.1-.4h0m.8 .6h0m.5-.4h0m.1-.1h0m.9 .3h0m.1 .4h0m.3-1.6h0m.5 .1h0m.1 1.4h0m1.3-1.3h0m.9 1.3h0m2.7-1.2h0m.6-.3h0m.1 1.5h0m.3-1.5h0m1.3 1.7h0m.5-1.2h0m.1 0h0m.7-.1h0m.6 1.1h0m1.4-1h0m.6-.3h0m.4 .6h0m2.4-1.8h0m.3 1h0m.2-.8h0m.2 1.4h0m.7 .2h0m1.7 3.4h0m-4.1-.3h0m-1.5-1.3h0m-.2 1.6h0m-.6-2.2h0m0 .4h0m-1.2 1h0m-1.1-.1h0m-2.1-.9h0m-.2 .7h0m-.4 .3h0m-.1-1.5h0m0 2h0m-.2-2.1h0m0 1.8h0m-.8-1.2h0m-1.4 .5h0m-.1 1.4h0m-1.4-.9h0m-.8-1.3h0m-.9 1.9h0m-1.6-1.5h0m-.1 .7h0m-.1 .4h0m-.6-1.3h0m-.1 2h0m-1.1-1.9h0m0 1.9h0m-.1-2.3h0m-.1 .3h0m-.2-.3h0m-1.2 .1h0m-.5 2.2h0m-.2 .1h0m-.3 3.3h0m5.3-2.5h0m4.7 .3h0m3.9 .3h0m2.8-.4h0m3.8 1.2h0m1.7 2.2h0m-1.7 1.4h0m-.2-1.3h0m-1.8 1h0m-2.3-.8h0m-2-.1h0m-.8-.1h0m-.6-1.1h0m-3.7 .3h0m-.1 2.1h0m-.1-2.1h0m-.5 .9h0m-6.2 .2h0m-.4 1.6h0m6.9 1.1h0m.8-.4h0m9.8 1.8h0m.5 .3h0m.4-.5h0m3.2 .6h0m3 2.8h0m-1.2-1h0m-.8-.2h0m-.6 1.4h0m-1-1.4h0m-1.8 0h0m-4.3-.5h0m-.6 0h0m-1.8 0h0m-1.7 .9h0m-1.7-1.2h0m-1.5 .5h0m-1-.1h0m-1.2 1.8h0m-1.5-1.6h0m-1.2 .7h0m-2.8-1.8h0m-1.2 2.6h0m-2.5-1.4h0m-2 .9h0m5.4 2.3h0m2.3-1.4h0m3 .9h0m.8-.3h0m.6-.2h0m4 2.3h0m.3-.3h0m1.5 0h0m4.4-.7h0m1.1 .4h0m.8-2h0m.8 2.2h0m.4-1h0m1.8-.7h0m.2 0h0m.1 1h0m-2.7 2h0m-.8 .8h0m-.5 .7h0m-4.1-2.2h0m0 .4h0m-.5 .3h0m-1.9 1.3h0m-6 .1h0m-1.6 .3h0m-2.4 .4h0m-.9-.4h0m-.6 .4h0m-20.4-1.2h0m8 3.2h0m12.1-1.8h0m.4 .6h0m1 .9h0m.9 1h0m.7-1.7h0m.1 .7h0m2.4-.6h0m1.4-.7h0m2 1.7h0m1.6-1.5h0m7.7 .5h0m.5-.5h0m-14.3 4.1h0m-1.4 .5h0m-.4-.3h0m-1.2 .8h0m-17.7-1.2h0m18.4 2.6h0m.9 0h0m.3 .8h0m.4-1h0m.3 .6h0m0-.1h0m.9 .5h0m1.5 2.9h0m-.1-1h0m-2.1-.6h0m6.7 3.3h0m.2 2.7h0" stroke="#450597" stroke-width="0.8" stroke-linecap="round"/>
<path d="M216.4 434.7h0m4.4 2.8h0m-.4-.2h0m-1.2 .1h0m-3.5 .1h0m-.6 .1h0m-1.2 1.6h0m1.5 .3h0m.6-1.3h0m0 2.7h0m.1-.5h0m4.6 0h0m.7-.7h0m31.7 .1h0m.4 0h0m.8 .7h0m.6 .4h0m.9 1.8h0m-.2 1h0m-.5-1.4h0m-.1 1.3h0m-.2 .1h0m-.2-.5h0m-.1-1h0m-.1 1h0m-1.5-1.8h0m-.2 .6h0m0 1.3h0m-.1-1.5h0m-.9 .3h0m-24.5 1.7h0m-.6 .1h0m-.5-1.1h0m-2.1 .3h0m-.5-.9h0m-.3 .9h0m-1.6-1.4h0m-.1-.4h0m-.8 1.4h0m-1.7 1h0m-.2-1.9h0m-1.2 .1h0m-1.7-.6h0m4 4.6h0m.3 .6h0m.9-.8h0m1 1.2h0m2-2.8h0m3.2 .5h0m.1-.4h0m1.8 .9h0m.4-.4h0m.1 1.9h0m.8-.7h0m.2-.1h0m.3-1.3h0m.7 .9h0m.3 1.4h0m2.7-.9h0m9.9-.5h0m4.9 .8h0m2.7 .7h0m8.6-2.9h0m-2.4 3.3h0m-10.5 1.3h0m-5.9 1h0m-.7 .3h0m-1.2-.4h0m-1.3 .3h0m-.2-.7h0m-1.2 .6h0m-1.1 0h0m-1.4 0h0m-.1 .2h0m-.5 0h0m-.3-.4h0m-.1 0h0m-12.5 0h0m-2-2h0m-.9 1.2h0m-.3-.3h0m11 3h0m.6 .9h0m.4-.1h0m.2 .4h0m.8-1.3h0m.5-.8h0m1 0h0m.3-.2h0m.2 .7h0m1.3-.4h0m.5 2.2h0m.8-1.9h0m.3 2h0m.4-2.6h0m.9 .6h0m.1-.6h0m.4 .4h0m.1-.4h0m.8 1.8h0m.6 .1h0m0-.9h0m0-.5h0m.3 0h0m.8 1.7h0m.3-2.3h0m.5 1.9h0m.4-1.8h0m.1 1.5h0m.3 .2h0m.3-1.2h0m1.3 1.6h0m2.2-.4h0m.1-.1h0m0 0h0m1.1-.9h0m.1 1.3h0m.2-1.7h0m.9 1.4h0m1-.1h0m.1-1.5h0m2 1.7h0m1.1-1.6h0m1.3 3.9h0m-1.6-.2h0m-2.1 1.2h0m-.3-1.3h0m-.2 .6h0m-.3 .9h0m-1.1-2.5h0m-3.6 1.5h0m-1.9-1.2h0m-3.9-.4h0m-1.3 .2h0m-.5-.2h0m-1.4 0h0m-.1 .2h0m-1.5 .4h0m-5.5 .4h0m20.4 3.3h0m.1-.2h0m-37.6 12.2h0m.6 1.1h0m2.8-.4h0m1.5-.9h0m.8 .1h0m.5 .9h0m2.9 .2h0m1.7 .2h0m26.5-.4h0m1.6 .9h0m-2.5 .4h0m-22.4 2.3h0m-.7-.6h0m-.1-1h0m-.4 .5h0m-1.4 .9h0m-.2-1.2h0m-.4 .9h0m-.7-1.1h0m-2.5-.1h0m-2.7 1.3h0m-2.8-1.7h0m-1.9 .8h0m-1.3 .3h0m-.1-1.3h0m-.9 1.9h0m0 .6h0m-1.1 0h0m-2.9 2.5h0m1.2-2.3h0m0 .5h0m1 .4h0m1.9 1.5h0m.4 .2h0m1.8-2.3h0m2.2 1.1h0m4.2 .2h0m2.4 .2h0m.3-1.4h0m1.9 .9h0m2.2 1.4h0m21.3 .6h0m-12.3 1.2h0m-.9 .2h0m-.4 .6h0m-.2 .5h0m-4.8-1.5h0m-3.1-.4h0m-4.9 .6h0m-.5 .9h0m-.6-2h0m-.6 1.4h0m-.4-.1h0m-.1-1h0m-4.2 1.5h0m-.2-.5h0m-1.6 .9h0m-1.4-1.6h0m-.2 0h0m-.4 .3h0m-1.6 1.4h0m-.2-.2h0m-1.5-2.3h0m1.5 2.7h0m2.5 1h0m.6 .9h0m1.1-1h0m.5-.2h0m.1 .8h0m1.1 .7h0m0-.5h0m1.9 1.2h0m2.7-1.5h0m2.9-.5h0m1.6 1h0m0-.4h0m.1-.8h0m3.8 .3h0m.1 .1h0m3 0h0m.5 1.6h0m.2-.8h0m1.7 .6h0m.9-1.3h0m.2-.9h0m.1 2h0m1.2-1.2h0m.4-.7h0m12.2 .9h0m-12.7 3.5h0m-1.8-1.8h0m-10.6 1.1h0m-6.7 .1h0m-1.5-1.1h0m18.8 3.8h0m7.9 1.9h0m5-.7h0m5.4-1.1h0" stroke="#6b03a2" stroke-width="0.8" stroke-linecap="round"/>
<path d="M213.5 434.8h0m.7-.6h0m.2 .7h0m1.5-1.4h0m5.3 4.4h0m-3.3-.4h0m-.3-1h0m-.3-.8h0m-.3-.2h0m-.6 2.3h0m-.3-.5h0m-.4-.2h0m-.1-1.8h0m-.2 2h0m-.5-.4h0m-.3 .9h0m-.2 0h0m-.5-.7h0m-.7-.1h0m-.1 3.7h0m.7-2.1h0m.4 .5h0m.5 .9h0m0-1.3h0m.3-.2h0m3.4 2h0m.6-1.6h0m.5 .6h0m1.1 .6h0m.4-2.1h0m.2 2h0m.2 .6h0m.1-1h0m.1-1.3h0m.1 .5h0m.6 1.7h0m31.3-.3h0m1.1-.4h0m.8 2.8h0m-.8-.2h0m-1 1h0m-.2 .4h0m-30.8-.7h0m-.1-1h0m-.8 .4h0m-1 .1h0m-.3 1.3h0m-.3-.7h0m-.1 .2h0m-.4-.9h0m-.9-.7h0m0-.5h0m-.1 .1h0m-.1 .5h0m-.8-.7h0m-.5 0h0m-.6 1.4h0m-.1-1.3h0m-.7 1.2h0m-.4-1.1h0m-.7 .4h0m-.5 0h0m4.1 4.1h0m.8-1.4h0m.2 2.4h0m.8-1.3h0m1.1 1.3h0m.1-.2h0m31.3 .1h0m1.8-2h0m.1 1.6h0m2.1-1.5h0m.5 3.1h0m-2.3 .8h0m-1.4 .7h0m-.9-1h0m-.4-1.1h0m-.7 .3h0m-.1 1.7h0m-2.6-.3h0m-9.2 .2h0m-1.3 .1h0m-.1 .2h0m-.5-.5h0m-.3 .5h0m-12-2h0m-.1-.2h0m-.3-.1h0m-.1 0h0m0 0h0m-.6 2.5h0m-1.5-2.6h0m-.4 1.5h0m-.6 1.2h0m-.9-2.3h0m-.1 .8h0m-1.2 .3h0m-.1-1.1h0m0-.1h0m-.2-.3h0m-.3 .1h0m-.1 1h0m2.8 1.8h0m2.2-.1h0m0 .1h0m3.5 2.5h0m6.3-2.6h0m.1 .6h0m.7 .8h0m.6-1h0m2.9 1.2h0m0-1.1h0m2.3 .5h0m2.1 .8h0m.2-1.3h0m3.6 .4h0m.2 .3h0m1.2 1.4h0m.5-.4h0m2.6 .5h0m.6-.1h0m1.7-2.4h0m.5 .4h0m.8 1.2h0m.1 .6h0m.1-1.3h0m1.3 1.6h0m.3-1.5h0m.2 1.5h0m.4-.4h0m-1.4 1h0m-1.9 1.2h0m-.6-1.3h0m-.9 2.1h0m-.8-.6h0m-.2-.9h0m-.2 1.8h0m-2.1-1.4h0m-.1 1.3h0m-1.2-.8h0m0-.8h0m-.1-.7h0m1.3 3.7h0m-3.4 11h0m-35.2 2.3h0m2-.8h0m1 .6h0m1.8-.2h0m.1 .8h0m1.1-1h0m.9 .5h0m.6-1.6h0m.4 1h0m.6 .3h0m.7-.6h0m.3 1.2h0m.6 0h0m.3-.1h0m1.5 .6h0m.2-.5h0m0 .1h0m2.1 2.5h0m-2.5 .8h0m-.3-.6h0m0-.6h0m-.1-1.6h0m-.2 .9h0m-.2 2h0m-.2-2.5h0m-.7 .2h0m-1.6 2.3h0m-.2-.2h0m-.5-2.1h0m-.1 0h0m-.1 1.1h0m-1.3 .9h0m-.2-1.7h0m-.3-.3h0m-.3 2.1h0m-.3-2.1h0m-.7 1.7h0m-1.1-1.9h0m-.5 1.3h0m-.3 .4h0m-.3-1.6h0m-.7 1.3h0m-.7 .9h0m-.1-2.4h0m-.2 .8h0m-.4 1.5h0m0-1.5h0m-1.7 1.5h0m-.5-.3h0m-.2-.1h0m-1.1 .5h0m-.2 0h0m-.3-1.4h0m0 .5h0m-.5 .9h0m-.1 1.2h0m.5 1.1h0m.1-1.3h0m.2 .1h0m.3 1.7h0m.3-2h0m.5 2.2h0m.2-2h0m.9-.2h0m.3 0h0m3.1 .6h0m.1-.8h0m.3 .4h0m.2 .4h0m.8-.3h0m.2 1.5h0m0-2h0m1.1 .7h0m.1 1.3h0m0-.3h0m.1-.1h0m.4 .4h0m.1 .5h0m.9-.3h0m.4 .2h0m.1-1.9h0m.4 .8h0m.6-1.4h0m.6 2.2h0m.5-1.4h0m0 .6h0m.1 .4h0m.1-1.4h0m.1 2.2h0m.4-.6h0m.2-.5h0m.4 1.1h0m.5-1.8h0m.2 1.5h0m.5-2.5h0m.2 2.4h0m.8-.5h0m.1 .8h0m.1-1.7h0m0 1.5h0m1.9-1h0m.4 1.2h0m.7-2.4h0m.9 2.3h0m.8-1.1h0m9.2 4.1h0m-1.3 .2h0m-1.1-.4h0m-.2-.2h0m-.7-.3h0m-.8-.5h0m-5.1 .7h0m-.2 .7h0m-.4-2.1h0m-1.3 1.6h0m-.2 .6h0m-1-1.4h0m-.4-1.1h0m-.9 .5h0m0 1.2h0m-1-.9h0m-.7-.6h0m-.1-.5h0m-3.2 0h0m-.2 .2h0m-.3 1.4h0m0-.2h0m-.3 .9h0m-.7-.3h0m-.1-.9h0m-2.2-.1h0m-.1 .3h0m-.1-.9h0m-.9 1.9h0m-.1-1.2h0m-.4-.6h0m-.2 1.7h0m-.4 .3h0m-.3-2.3h0m-1.2 2h0m-.1-.8h0m-.1 1.1h0m-.4-.3h0m-.2-.9h0m-.1 1.2h0m-.3-.7h0m-.5-1.7h0m0 2.7h0m-.7-1.8h0m-.1-.2h0m-.7 .9h0m-.5-.2h0m-.4-1.4h0m1.3 3.2h0m1.1 1.3h0m2.8-1.6h0m2 0h0m.1 2.5h0m.2-1h0m1.1 .8h0m.4-2h0m.2 1.6h0m0 .1h0m0-1.2h0m.5-.7h0m1.7 1.2h0m.2 1.2h0m1.8-.6h0m.7-1.5h0m.5-.4h0m.4 2.1h0m0-.3h0m.4 .2h0m.4-2h0m.6 1.7h0m.1-.3h0m.4-.5h0m.4 .9h0m.4-.3h0m1 .1h0m.4-.9h0m.2 1h0m.7-.6h0m.4-.9h0m.2 .6h0m0 1.1h0m.1-.2h0m2.4 1.1h0m.7-2.9h0m2.5 2.3h0m.7 .6h0m10.9-.2h0m2.6-.9h0m1.8 3.1h0m-14.6-1.5h0m-.5-.2h0m-.1 .6h0m-1.4-.8h0m-1.6 1.9h0m-7.2-1.7h0m-1.2 1h0m-.5-.7h0m-2.4-.4h0m-.2 1.2h0m-.2-1.1h0m-1.3 0h0m-1.5 .9h0m-1.8-.8h0m19.4 4h0m2.2 .1h0m4.9-1.1h0m4.2 1h0m1 1.5h0m2.5-.5h0m-7.9 .8h0" stroke="#8b0ea0" stroke-width="0.8" stroke-linecap="round"/>
<path d="M227.4 425.5h0m-14 8.8h0m3 .4h0m.9-.2h0m2.2 2.9h0m-4-.6h0m-.4 .5h0m-2.3-.4h0m.1 2.5h0m.1-.1h0m.2-.9h0m2.7 .6h0m3 1h0m1.1-.7h0m.7-1.3h0m.3 2.9h0m.5-1.7h0m44 1.5h0m-2.9 1.5h0m-.4-.8h0m-.8 1.6h0m-38.4-.7h0m-.3 .5h0m-.2-.9h0m-.3 1.3h0m-.5 .1h0m-1-.9h0m-.6 .2h0m-.4 1h0m-.4-.3h0m-.2-1.6h0m-.1 1.8h0m-.5-.7h0m-1.2-1.5h0m3.7 2.7h0m33.2 1.7h0m.2 .1h0m1.3-.6h0m.5 .8h0m.2 .9h0m.7-.5h0m2.8 .5h0m.3-.9h0m.2 .2h0m3.9-1.6h0m1.5 1.9h0m-1.2 .8h0m-3 1.6h0m-1.1-1.5h0m-2.9 1.2h0m-.2-.8h0m-1.6 1.2h0m-.3-1.5h0m-.4-.1h0m-1.9 1.7h0m-.4-1.9h0m-28.2 0h0m-1.9 1.7h0m0-1.4h0m-.2 1.8h0m-.2-.5h0m-.1-1.7h0m-.1 .1h0m-2.8 .8h0m-.4-.5h0m-.1 1h0m-.1-1h0m5.6 2.7h0m26.8 .6h0m2 1h0m1.8-1.7h0m.3 1.1h0m.6 .4h0m.3 .2h0m.2-1h0m.9 1h0m-2.4 1.6h0m-.1-.4h0m-.5 0h0m-.4 .5h0m-6.1 .8h0m-39.5 16.6h0m.8-.4h0m1.3-.8h0m3.7 0h0m1.2 .4h0m9 3.5h0m-.8-2.4h0m-.2 1.8h0m-.2-1.4h0m-.2 2.1h0m-.4-.6h0m-.7 .2h0m-3.4-.6h0m-.3-1.1h0m-.5 1.1h0m-.6-1.2h0m-2.6 .3h0m-.1 .5h0m-.1-.9h0m-.3 .9h0m-.5-.3h0m-1.1 1.9h0m-.2-1.2h0m-2.2-.9h0m-.8-.5h0m-.1 .2h0m-1.7 2h0m-1.4-1h0m-.1 1.3h0m-.5 3.1h0m.9-2.5h0m1.8 .4h0m1 1.5h0m0-2.2h0m.9 .8h0m.8 1.5h0m.2-1.7h0m0 1.2h0m.2-1.1h0m0-.3h0m.8 .9h0m.8-.9h0m.3 1.6h0m.3 .6h0m5.3-.8h0m1-1.7h0m1.6 1.1h0m.2 1.2h0m1.5 0h0m1.9-.2h0m.2 .6h0m.3-2.9h0m1.3 .7h0m.2 1.5h0m11.3 2.4h0m-2.1 1.1h0m-.2-.3h0m-1.5 .4h0m0-.4h0m-7.8-1.8h0m-.3 1.4h0m-2.3-2h0m-.4 2.4h0m-1.6-.1h0m-.5-1.2h0m-.1 .7h0m-.2-.9h0m-.8 .2h0m-.6-.8h0m-.3 .8h0m-.4-.3h0m-.1 1.1h0m-.8-1.7h0m-1.2 1h0m-.7 .1h0m-.2 .7h0m0-.5h0m-1.2-.5h0m-1.7 1.1h0m0-2h0m-.3 1.4h0m-.1-.6h0m-.2 1.1h0m-.7-.2h0m-1-.5h0m-.3 .6h0m-.5-1.7h0m-.6 0h0m-1.5 2.7h0m-1.6-2.7h0m3.8 3.9h0m1.1 .1h0m.6 1.4h0m1-.7h0m.6-1.6h0m1.4 .6h0m1.9-.9h0m.6 .2h0m.4 1.3h0m.8-1.3h0m2.1 1.9h0m.4-1.5h0m.2 .1h0m.2-.6h0m.4 1.5h0m.1 .7h0m.1-1.6h0m1.5-.4h0m.5 2.5h0m1.3-2.4h0m4.7 2h0m3.3-1.9h0m.5 1.5h0m.3-1.3h0m.2-.4h0m0 2h0m.2-1.4h0m.1 1.5h0m.8-1.2h0m.4 .8h0m.6-1.7h0m5.6 .6h0m3.6-.5h0m1 .6h0m.8 4h0m-2.3 .4h0m-3.2-1.6h0m-1-.1h0m-.4 1.8h0m-5.1-2.2h0m-.4 2.1h0m-.4-2.2h0m-5.1 .6h0m-3.7-.2h0m-4.8 0h0m-3.9 .3h0m29.8 3h0m.1 .8h0m2.9-.9h0m-2.7 3.1h0m-59.6 3.3h0" stroke="#a52590" stroke-width="0.8" stroke-linecap="round"/>
<path d="M239 412.7h0m-.7-.4h0m-.7 .6h0m-5.2 3.3h0m2-.9h0m2.3-1.1h0m-1 2.9h0m-.4 .2h0m-1.1 .5h0m-.3-.1h0m-1.6-.6h0m-5.6 5.7h0m.4-.2h0m44.7-1.4h0m5.7 4.5h0m-49.2-2h0m-.6-.3h0m-.4 .5h0m-.2 2h0m0-2.5h0m-.8 1.6h0m-.4-.2h0m0-1.2h0m-6 15.9h0m44.4 .9h0m.9-.7h0m1.6 1h0m.3-.7h0m.7-.6h0m1 1.5h0m.7-1.4h0m1.7-.3h0m.2 1.5h0m0-1.4h0m.3 1.1h0m4.9-.1h0m-1.4 2.5h0m-1.2 .5h0m-4.3-1h0m-1.8-1.3h0m-2.2 .4h0m-.6 2.2h0m-.1 0h0m-2.4-2.2h0m-.3-.4h0m-.3 2.4h0m-.2-1.8h0m-.4 .5h0m-.2 .3h0m-.1 .7h0m0-1h0m-.4-.4h0m-1 1.5h0m-.3 .2h0m-41.2-1.3h0m40.2 4.7h0m.8-.2h0m.2-.8h0m.3 1h0m.7-.4h0m1.6-.9h0m.2-.6h0m.3 1.2h0m.4-.4h0m1.1-.3h0m.9 .1h0m.1-.2h0m.4-1.3h0m4.8 .2h0m-4.7 3h0m-1 .7h0m-1.9 .9h0m-1.3 .4h0m-.1-1.7h0m-.2-.4h0m-4.2 .3h0m-.3 2.1h0m-1.2 .8h0m.5 1.3h0m3.7-1.1h0m-7.6 4.9h0m-38 15.8h0m-6.2 5.4h0m1.7-1.6h0m15.6-.7h0m19 4.9h0m-1-1h0m-.4-.1h0m-3.8 .7h0m-1 0h0m-.4-.5h0m-.1-.2h0m-.6 .8h0m-.3 .9h0m0-.4h0m-9.6-.9h0m-31 4.1h0m1.8 0h0m.4-1.4h0m.4 .8h0m15.2 .9h0m2.2 0h0m2.8-1.9h0m2.2-.1h0m7.8 .4h0m1.9 1.2h0m3.3 .3h0m1.3-1.5h0m.3 1h0m.5 .5h0m.4-2.3h0m.3 2.3h0m.2-.9h0m.3-1.9h0m.3 .2h0m.2 1.6h0m.6 1.1h0m.3-.3h0m.6 0h0m5.8 1.6h0m-1 .9h0m-1.8-1.7h0m-1.4 0h0m-2.8 1h0m-.3 .3h0m-.6-1.4h0m-.8 1.5h0m-.2-1.3h0m-.3 .5h0m-5 .8h0m-1 .2h0m-3.4-1h0m-24.2-.5h0m-.3 .3h0m-1.2 .6h0m-.6-.1h0m-.2-.3h0m-1.1 1.4h0m-.8-.6h0m-.5 1.1h0m-.6-1.9h0m-.3 1.6h0m-1.7-1.8h0m-1.6 1h0m-4.6 3.5h0m.6-.7h0m.3-.3h0m.8 .8h0m.2-1.3h0m.2 1.2h0m.7-.6h0m.9 .9h0m0-2h0m.3 1.4h0m.8 .6h0m.4-.3h0m1.7-1.3h0m1.2 1.1h0m.4-.8h0m1.4-.1h0m1.1-.9h0m32.3 .2h0m3.4 1.2h0m3.1-.6h0m1.7 1.3h0m.8 .6h0m.3-1.9h0m1.7 1.5h0m2.6-1.2h0m1.5 .9h0m-1.5 2h0m-2.9-.4h0m-1.1-.2h0m-.2 .1h0m-45.9 .5h0m-.3-.2h0m-.4-.3h0m-.3-.3h0m-.7 2.2h0m-.6-1.9h0m-.7 .1h0m-.7 .1h0m-1.5 .2h0m-1.5-.6h0m-1-.1h0m-.1 1.5h0m-.4 .4h0m-2.4 .2h0m1.1 2.2h0m.3-.3h0m.8 .5h0m.2 .9h0m.9-.4h0m1.5-.2h0m0-1.5h0m.4 1.7h0m.6-.9h0m.4-.7h0m.6-.1h0m.1-.1h0m.1 .8h0m.3-.3h0m.9-.3h0m-3.9 3.3h0m-.4 .8h0m-1.8-.8h0" stroke="#bf3b80" stroke-width="0.8" stroke-linecap="round"/>
<path d="M253.7 413h0m-.2-.9h0m-14.1 .3h0m-.3 .2h0m-.4 .8h0m-.3-.4h0m-.5 .1h0m-.3 .7h0m-.4-.6h0m-4.7 2.2h0m.2 .1h0m.8-.1h0m.1-1h0m.1-.4h0m.2 2.9h0m.1-1.9h0m.4 1.4h0m.2-2.4h0m.3 .7h0m.3 .6h0m.2 .8h0m.2-1.7h0m.2 1.4h0m0 .1h0m0-1.3h0m0 1.4h0m0-.6h0m.2 1.5h0m.4-.4h0m0 0h0m.2-1.7h0m0 1h0m.1-.8h0m0-.1h0m.1 .1h0m.2-.7h0m.3 1h0m.1 .3h0m.2 .5h0m0 .2h0m.4-1.6h0m.2 .3h0m.3-.4h0m.1 .6h0m.1-.9h0m16.9-.2h0m.8 .4h0m.1-.2h0m-20.7 3.7h0m-1.5-.2h0m-.5 .1h0m-.3-.5h0m-.2 .6h0m-.2-.5h0m-.1 .3h0m-.1 .2h0m-.2-.8h0m-.4 0h0m-4.8 5.6h0m43.4-1.9h0m2.7 .9h0m.1 .1h0m1.3 .8h0m3.2 2h0m-3.3 0h0m-.5 1h0m-.8-2.4h0m-45.4 1.1h0m-.6 .9h0m-.2-1.9h0m-.7 .3h0m0-.5h0m-.3-.2h0m-.1 1.4h0m-.6-.7h0m49.5 4.3h0m.8-1.7h0m1.5 2.6h0m0-.1h0m2.8-.4h0m1.8 3.3h0m-4.6-1.5h0m-1.2 1.1h0m2.2 4.8h0m-1.2 .5h0m-1 .6h0m-.8 .1h0m-.1-.2h0m-1.1-1.5h0m0 2.2h0m-.9-.7h0m-.1 .1h0m-.4-1.2h0m0 1.1h0m-.5-1.2h0m-7 4.5h0m1.7-1.1h0m1.6-.6h0m.2 .6h0m.1 1.5h0m.5-1.5h0m1.2-.7h0m.1 1h0m1.4-.8h0m.8 1.5h0m.5-1.7h0m.5 0h0m0 2.2h0m.9-2.5h0m.5 .1h0m1.2-.2h0m1.8 2.1h0m.9-1.3h0m-2.1 2.2h0m-2.7 .5h0m-.3-.5h0m-2.1 2.2h0m-.4 .3h0m-2.4-1.3h0m-2.7 .9h0m-.2 .4h0m-.1 0h0m-3.9 1.5h0m3.8 .7h0m1.6-1.2h0m1 .8h0m1.4-1.5h0m.8 .9h0m.3-.9h0m-13.7 3.5h0m-1.4-.2h0m-11.2 31.9h0m-7.1-1.5h0m-.2 .7h0m0-.3h0m-4.1 1.2h0m-3.9 .3h0m-34.5 3.1h0m0-.2h0m1.3-.5h0m.3 .6h0m1.7-.2h0m2.3 .1h0m25.4 .3h0m1.9-1.4h0m7.3 .4h0m.1-1.5h0m1.4 2.6h0m.6-.1h0m0 .1h0m.9-1.5h0m.5-.1h0m0 .4h0m.3-1.1h0m2.4-.3h0m1.6 .5h0m.4-.4h0m.5 1.2h0m5.4 4.3h0m-2.4-1h0m-4.1-.3h0m-2.5 .9h0m-1.7-2.1h0m-.6 .6h0m-.5-.1h0m-.3-.6h0m-.7-.2h0m-.6 0h0m-3.3 1h0m-.8 .9h0m-30.4-2h0m-.2 1.1h0m-1.6-.5h0m0 1.2h0m-.3-1.8h0m-.3 2.8h0m0-.5h0m0 0h0m-1.1-1.4h0m0 .2h0m-1.2-.5h0m-.1 2h0m0 .1h0m0-.6h0m0 .3h0m-.1-.4h0m-.1 .2h0m0 .3h0m-.2 .1h0m-.7-.3h0m-.3-2.1h0m-.1 .4h0m-.7 .1h0m-.9 1.9h0m-1.5-.5h0m-.8 .8h0m-3.5 2.2h0m0 .6h0m1.8 .2h0m.2-.4h0m0 0h0m.2 .4h0m1-.3h0m.4-2.6h0m.4 .2h0m1.5 .8h0m.3 .2h0m.8-.9h0m.8-.1h0m.1 1.7h0m.1-1.1h0m.4 2h0m.2-.5h0m.9 .4h0m0-1.7h0m.2-.7h0m0-.3h0m.3 .7h0m.2 1.4h0m.4-.6h0m.2-.9h0m36.6 .2h0m4.8-.8h0m2.9 .8h0m3.7 1.8h0m.3-.4h0m.3 1.9h0m-3.6-.4h0m-47.1-.5h0m-1.3 1.2h0m-.2-.2h0m-.1 .8h0m-.2-.6h0m-.2-.1h0m-.3-.6h0m-.4-.2h0m-.9 2.3h0m-.1-1.5h0m-.3 .2h0m-.5 .2h0m-.1-.5h0m-.1 1h0m-.1-1.4h0m-.1 1.6h0m-.3 .1h0m0-.6h0m-.2-1.8h0m-.3 2.4h0m-.3 .4h0m-.5-1.1h0m-.3 .8h0m-.1-.4h0m0-.6h0m-.1-.1h0m0-.2h0m-.4 1.5h0m-1-1.2h0m-.1-1.6h0m-.1 .3h0m-.2 1.9h0m-.1-1.3h0m-.2 1.7h0m-.2-1h0m0-.7h0m-.4 .7h0m0 0h0m-.2 .2h0m-1.7-.2h0m-.2 .7h0m-.2 .1h0m1.6 1.6h0m1 .3h0m.4 1.5h0m.4-.6h0m.3-1.1h0m.9 .9h0m.3-1.2h0m1 .6h0m.3 1h0m.4-.6h0m0 .6h0m1.1-2.2h0m.6-.2h0m.1 .7h0m-5.1 4h0m-.6-1.7h0m-.3 .3h0" stroke="#d3536e" stroke-width="0.8" stroke-linecap="round"/>
<path d="M198.7 392.9h0m-5.6 6.6h0m-.7 3.6h0m.9 1.2h0m1.7-1.3h0m.3-.5h0m5-.2h0m-1.8 4.1h0m-1.3 4.3h0m11-.6h0m1 .6h0m46.5 2.7h0m0 .1h0m-2.2-.8h0m-.2-.1h0m-15.2 0h0m-2.4 1h0m-.5-.4h0m-24.1-1.2h0m-.8 1.9h0m-2.2-.1h0m-.8-2.6h0m-1.6 1.7h0m.6 3.8h0m27.1-2.1h0m.3 1.7h0m.2-.1h0m1.1-.8h0m.2 1.4h0m.1-1h0m3.8-1.4h0m16.9-.3h0m13.2 4.5h0m-33.4-1.4h0m-.9 1.1h0m-1.1-.2h0m-1.5-1h0m-26.1 0h0m64.6 3.6h0m.3-.6h0m.9 2h0m.1-1.2h0m15.6 3.9h0m-1.5 .2h0m-9.7-1.1h0m-.2 1.9h0m-.5 0h0m0-.6h0m-.1-.5h0m-.7 0h0m-.2 .7h0m-.2-1h0m-.1 .4h0m.7 1.2h0m0 2.2h0m.3-2h0m.1 1.6h0m2.3 .2h0m.7-1h0m1.6-.2h0m.3 .6h0m2.1-.6h0m1 .4h0m1.1 1.8h0m-3.3 .2h0m-.7 .3h0m0 .3h0m-.6 .4h0m-.2 1.4h0m-.1-.1h0m-.2-1h0m-.7-.4h0m-1.3-.3h0m-.8-.5h0m-.3 1h0m-.1 3.6h0m.8-1.9h0m.4 2.8h0m.9-2.8h0m3.6 1.3h0m.8-.2h0m.2 .3h0m-1.3 4.1h0m-.4-.2h0m-.8-2.1h0m-.1 .7h0m0-.6h0m-1.8 .5h0m0-.1h0m-.7 .3h0m-.4-.9h0m-.2 1.3h0m-.4-.2h0m-1.7-.1h0m-1.3 1h0m-2.2-.1h0m-.1 .2h0m-.4-.7h0m-.1 .3h0m-1.7 1.3h0m1 .4h0m2.9 1.3h0m.6-.6h0m1.4 .8h0m.2-1h0m.2 .6h0m.9-.8h0m.7 2.1h0m1-1.7h0m.4-.5h0m.5 .8h0m1.3-.3h0m-3.3 2.2h0m-.5 .2h0m-.4-.6h0m-3.1 .7h0m-.5 .9h0m-1 1.3h0m-.5-.7h0m-.2-.5h0m-2.5 .1h0m-.2-1.2h0m-5.6 3.3h0m1 .1h0m2.3-.4h0m4.8-.3h0m-30.5 32.8h0m-.5 .8h0m-2.2 .2h0m-10.9 1.7h0m-27.5 2.9h0m.6-.5h0m26.6-1.7h0m1.4 .9h0m1-.5h0m.4 1.7h0m1-1.4h0m1 0h0m.8 .8h0m2.8 .7h0m4.3 .1h0m.3-2.6h0m.1 .6h0m.3 .2h0m1.6 .5h0m1.1-.8h0m4.4 .6h0m.4 2.3h0m-5.6 .3h0m-.7 1.6h0m-.6-1.5h0m-.7-.8h0m-.4 .4h0m-.5 1.6h0m-.1-1.8h0m-.4 1.3h0m-.5 .3h0m-.1-1.8h0m-3.1 .9h0m-3.2-.6h0m-1.4-.1h0m-.3 1.9h0m-1.3-1.3h0m-.9 .3h0m-27.6-1.2h0m-1.9 1.1h0m-.8-.1h0m-.2-.9h0m-1.5 2.4h0m-1.5 .1h0m-2.6-.1h0m-.4 .7h0m1.2 .2h0m3 1.4h0m1.1-1.4h0m36.3 1.5h0m.5-2h0m2.7 .3h0m5.8 2.5h0m5.6 2.7h0m-1.3-1.1h0m-51.8 .3h0m-.3 0h0m-4.7-.8h0m-3.9 1.4h0m.9 1.2h0m43.9 .7h0m3.4 .7h0m8.3-.1h0m2 .9h0m1.8-.2h0m2.9-1.9h0m1.8 .9h0m.2 2.4h0m-9.8 1.6h0m-8.9 .7h0m3.8 .4h0m1-.4h0m2.7 2.5h0m.2-.5h0m6.5-1.5h0m3.8 3.1h0m-6.1-.7h0" stroke="#e26e5c" stroke-width="0.8" stroke-linecap="round"/>
<path d="M199.6 392.2h0m1.3-.1h0m1.1-.3h0m1.3 1h0m.1-1.2h0m3.8 2.7h0m-4.7 .6h0m-2.5-.1h0m-1.8 .6h0m-.8-.5h0m-.1 .5h0m-.2 .5h0m-.4-.8h0m-.2 .7h0m-.3-.1h0m-.3-.1h0m-1.2 .2h0m0-.1h0m-.4-.2h0m-1.4 3.4h0m.2-2.3h0m0 .6h0m.8-.1h0m.2 .1h0m.3-.9h0m.7 2h0m.3-2.2h0m.1 2.3h0m.6-1.6h0m.2 .8h0m.2-.1h0m.7-1.3h0m0 1.4h0m0 1h0m0-.5h0m.1-2h0m0 1.9h0m.6 .1h0m.3-1h0m.3-.1h0m.2-.5h0m1.6 0h0m.3 .1h0m.2 1.4h0m0-1.4h0m.1-.3h0m.8 1h0m.7-.3h0m.3-.3h0m1.6 4.2h0m-3.3 .6h0m-.8-.4h0m-1.1-1.3h0m-1 .8h0m-.1-.7h0m-.4 .7h0m-.3-1.6h0m-1 2h0m-.3-1.7h0m-.2 .8h0m0 .9h0m-.6-1.9h0m0 2.5h0m-.4-1.2h0m-.4 .7h0m-.1 .2h0m-1-2.1h0m-.9 .9h0m-.1 .6h0m-.2-.6h0m-.6 2.4h0m1 .8h0m0 1.1h0m.1-.9h0m.2-1.3h0m.7 .1h0m0 1.2h0m.2 .9h0m1.2-1.7h0m2.1-.2h0m.4 1.6h0m.5 .6h0m1.5-1h0m.7-.1h0m.4 0h0m1.8-.8h0m.4 2.1h0m1.3-2.8h0m.8 5.1h0m-1 .1h0m-2.6-1.7h0m-1.7 .6h0m-.2-.7h0m-.3 .5h0m-.6-1h0m0 2.9h0m-.6-1.5h0m-.3-1.4h0m-.7 1.9h0m-.9-1.6h0m-.5 2.4h0m-.4-.4h0m-.2 .6h0m-.1-2.3h0m-1.2 0h0m0 1.3h0m0-.2h0m-.2 .3h0m-.3-.8h0m-.1 .1h0m-.1 .9h0m2.3 2.1h0m.9-1h0m.4 2.1h0m.4-1.7h0m.2-.4h0m.2 1.6h0m.5-1.2h0m0 .8h0m.1 1.1h0m.3-.2h0m.6-2.3h0m.6 1h0m2.1-.3h0m0 .4h0m.9 1h0m.3 .2h0m5.6-1.2h0m29.8 4.4h0m-25.3 0h0m-.9-.2h0m-.4-1.1h0m-.5-1.2h0m0 2.1h0m-.2-.7h0m-.4 0h0m-.5 1h0m-.3 .2h0m-.3-1h0m-.4-1.4h0m-.5 1.5h0m-.2-.8h0m-1.2 1.8h0m-.1-.6h0m-.3-2h0m-.2 .8h0m-7.2-1h0m5.6 3.6h0m.6 1.5h0m.1-2h0m.3 1.6h0m0-.4h0m1.5 .5h0m.8-.2h0m2.2-1h0m.9-.4h0m.1-.1h0m21 2.7h0m55.2 5.8h0m.3-1.7h0m.2 .8h0m.8 .6h0m.1-.2h0m.4 0h0m1.1-1.7h0m.9 2.4h0m1.3-2.4h0m1.5 2.3h0m-1.7 1.4h0m-1.3 1.4h0m-1.1-1h0m-.4-.1h0m-2.8 .4h0m-.5-1h0m-.9 1.8h0m-.7-2.1h0m-.1 .1h0m0 .1h0m0 1.1h0m-.3 .1h0m-.2 .4h0m-.4-.7h0m-.4-.1h0m-.3 .3h0m-.2 .4h0m-1.2 0h0m-1 .3h0m-.3 .2h0m-1.4 3h0m0-1.1h0m.1 .9h0m0-1.1h0m.8 1.1h0m.9-.4h0m.6-1.2h0m0 1.7h0m.1-1.6h0m.7 .8h0m.1 .7h0m.2-2.1h0m0 2.5h0m.7-2.4h0m.5 .5h0m.6 .1h0m.7-.6h0m.1 1h0m.5 .2h0m.5 .1h0m.7-.9h0m.2 1.8h0m.3-.9h0m3.5-.6h0m2.6-.4h0m.1 4.2h0m-2.4-1.9h0m-1.8 2.7h0m-.9-.6h0m-.4 .5h0m-.4-.1h0m-1.1-1.2h0m-.1 1.3h0m-.7-.7h0m-.7-.3h0m-.4 1.2h0m-1.1-2.5h0m-.2-.3h0m-.2 .1h0m-.4 .6h0m-1.4 2.1h0m-3.8-1.2h0m-.2-1.6h0m.1 4h0m.3 .6h0m.2 .8h0m2.5 .1h0m1.5-1.1h0m.1 .5h0m.2-1h0m.5 1.3h0m.2-.2h0m.1-1.5h0m.1 1.8h0m.6-1h0m2 .9h0m.4 .1h0m.4-.3h0m.4-.3h0m.7 .5h0m.2 2.6h0m-.6-1.1h0m-.7 1.6h0m0-1.1h0m-.1-1h0m-.6 2.2h0m-1-1.8h0m0 .7h0m-.1-1.4h0m-.7 2.7h0m-.3-2.1h0m-.5-.3h0m-.1 .3h0m-.1 2.3h0m-.1-2h0m-.3 .2h0m-1.1 1.1h0m-.4-.5h0m-.5-1.2h0m-.2 1.8h0m-.1-.2h0m-.6-1.1h0m-.1 .7h0m0-.2h0m-.1-.6h0m-.3 .3h0m-1.3-.2h0m-.7-.5h0m-.6 .1h0m-1.3 .6h0m-1.9 3.6h0m1.4 .6h0m.2 .2h0m2.9-2.6h0m1.7 .7h0m2-.4h0m.2-.3h0m-39.5 38.4h0m-.5 .6h0m-.2 1h0m-1.4 1.9h0m-.1-.1h0m-.5-2.4h0m-.2 1.2h0m-1.1 .9h0m-11 2.6h0m1.1-2h0m7.7 1.5h0m1.2-1.6h0m.8 1.6h0m2.1-.1h0m.3-1.4h0m.3 1.3h0m.8 .5h0m.8 .4h0m0-1.4h0m.4-.3h0m1.9 1.1h0m4 3.3h0m-5.6 .8h0m-.2-.4h0m-.9-2.4h0m0 2.7h0m-.8-.5h0m0 .1h0m-.3 0h0m-.2-.5h0m-.7-1.2h0m-10.8 1.8h0m0-.3h0m-3.5 .8h0m-.2-1.4h0m-4.5 3.9h0m.9-.1h0m.1 .3h0m1-.4h0m6.1-.7h0m1.6-.9h0m0 1.7h0m.8-.4h0m1.1-.9h0m2.6 1.2h0m1.9 .4h0m10.7-2h0m-1.6 5.2h0m-.2-.9h0m-.2 .5h0m-.6-1.3h0m-4.1 .8h0m-2.2-.2h0m-1.8-1.6h0m-.8 1.9h0m-.5-.8h0m-1.9-1h0m-1.2 2.7h0m-.7-1.2h0m-.3-1.6h0m-1.8 1.3h0m0 1.4h0m-.8-1.9h0m0-.2h0m-.2 1.2h0m-.6-.4h0m-1.6-.7h0m-.6 .6h0m-.3 0h0m-1.1-1.1h0m-.8 .2h0m-.6 3.2h0m1.9 .6h0m.1-.9h0m.9 1.1h0m2 .6h0m2.8-1.9h0m.2 .6h0m.4 2h0m3-.6h0m.8-.2h0m.9 0h0m.1-1.8h0m1.3 .9h0m.4-.7h0m.6 2.4h0m.4-1.4h0m.9-.7h0m0 1.5h0m.3-1.2h0m1.5 1.4h0m.4-.1h0m1.1-2.3h0m.7 2h0m.6-.6h0m2.8 .9h0m1.2-1.5h0m.8 1.2h0m.1-.9h0m.7-.8h0m.7 .5h0m1.5 1.4h0m.9 3.4h0m-1.2-1.1h0m-1.9-1.3h0m-2.8 2.7h0m-.4-1.1h0m-.1 .1h0m-.2-1.9h0m-.2 2.6h0m-.3-.8h0m-.1 .7h0m-.1 0h0m-.3-.3h0m-.5-.9h0m-.4 .8h0m-.5 .2h0m-.3-1.6h0m-1.1 1.8h0m-1.8-.5h0m-.3-2h0m-.1 1.1h0m-1.7-.2h0m-.5 1.3h0m-.3-1.5h0m0 .6h0m-.3-.4h0m0 .2h0m-2.3-.7h0m-.1 .5h0m0-.7h0m0 1.4h0m-.4-.5h0m0 .8h0m-.6 .6h0m-.9-2.5h0m0 .7h0m-.8-.4h0m-2.4 .6h0m-.6 .8h0m-.5-.8h0m-.7 .5h0m-.5 .1h0m3.6 1.8h0m1.3 .5h0m1.6-.1h0m.5 .4h0m.9 1h0m.7 .3h0m.3-1.9h0m.3 .6h0m.1 .7h0m.5-.3h0m1 1.3h0m.1-1.1h0m.5-1.6h0m1.2 1.2h0m.9 .9h0m.4-1.5h0m.6 1.7h0m.8-2.1h0m.2 1.6h0m.4 0h0m.2-1.6h0m.9 1.9h0m.8-2.1h0m.3 1.9h0m.6 .3h0m.8-2.1h0m5.4 .2h0m.1-.2h0m0 .2h0m.8 2.4h0m-.6 1.5h0m-.4-1.1h0m-.3 0h0m-1.8 .4h0m-.1-.4h0m-2 2.5h0m-.8-1.5h0m-.9 1.3h0m-.9-.7h0m-.4 .6h0m-1.3-1.5h0m-.1-.9h0m-.2 2.1h0m-1.5-2h0m-1.3 .5h0m0 .1h0m-.7 .8h0m-.7-.9h0m-.1 1.3h0m-1.4 .8h0m-.3-2.7h0m-.2 .6h0m-2.4-.1h0m-.3-.5h0m-.1 2.2h0m-2.1-.2h0m-.7-1.1h0m-.6 .4h0m2.8 1.8h0m4.1 .6h0m1.4 .8h0m.4 .1h0m6.5 .6h0" stroke="#f08849" stroke-width="0.8" stroke-linecap="round"/>
<path d="M215.9 389.3h0m-17.6 3.3h0m.2-.1h0m.7-.4h0m.3 .7h0m1-.2h0m.6 .2h0m0-1.1h0m.7 .9h0m.1-1h0m.1 .3h0m.1 .6h0m.1-.5h0m.2-.3h0m.9-.1h0m.2 .2h0m0 1h0m.1-1.4h0m.3 .4h0m.1 .2h0m.3 .6h0m.6-1.7h0m.3 .5h0m.4-.3h0m.1 .8h0m.1 .3h0m.6 .2h0m.3-.7h0m1.9 .6h0m.4-1.7h0m.7 1.3h0m.2-.9h0m.8 .7h0m1.4-1h0m1.3 1.2h0m1.3-1.6h0m.6 2.3h0m.1 3.2h0m-2.1-2.4h0m-.1 .2h0m-1.3 2.2h0m-1.3-1.9h0m-.1 1.3h0m-.8-1.5h0m-1.1 .6h0m-.6 0h0m-.4-.1h0m-.2-1.1h0m-.5 1.9h0m-.2-.2h0m-.2 1h0m-.1 0h0m-.1-.4h0m-.2 .2h0m-.6-.9h0m-.1-1.1h0m-.5 2h0m0-1h0m-.6 .2h0m-.3 .6h0m-.1-2.4h0m-.3 1h0m-.3 0h0m-.2-.3h0m-.4 1.3h0m-.3-.6h0m-.2 .5h0m-1-1.6h0m-.3 2.2h0m-.3-2.3h0m-.1 1.3h0m-.2-.8h0m-.2 1.2h0m-.2 .5h0m-.1-.5h0m-.1-1.4h0m0-.2h0m0 .3h0m-.1 1.6h0m-.2 0h0m-.6-1.9h0m-.4-.3h0m-.1 1.8h0m-1-1.2h0m-.4 1.6h0m0-1.5h0m-.2 1.2h0m-.4 1h0m-.1-1.5h0m-.1 1.2h0m-.2-.9h0m-.1-.4h0m-1 1.1h0m-.3 .5h0m-.6-.3h0m-.5 3h0m0-.1h0m.4-.6h0m.1-1.5h0m.2 1.5h0m0 0h0m.1-.9h0m.2 1.1h0m.1-.3h0m.1 0h0m0 .2h0m.1-1.2h0m0-.3h0m.3 1.4h0m.2-.2h0m.4-.4h0m.5 0h0m0-1.2h0m.7 .5h0m.2 .9h0m.5 .5h0m.3-.2h0m.1-.6h0m.1 1.3h0m.2-2h0m.1 1.5h0m0-.3h0m0 .5h0m0 .1h0m.3-1.8h0m.5 .4h0m.2-.2h0m0-.1h0m.3 .6h0m.1 .5h0m0-1h0m.2 1.3h0m.4 .3h0m1.3-.2h0m.1 0h0m.1-1.8h0m0 .5h0m.3 1.3h0m.2 .1h0m.1-1.6h0m.6 .7h0m.2-1.1h0m0 1.1h0m0 0h0m.3 .3h0m.9 .7h0m.6-.5h0m.9-.8h0m.6-.5h0m.1 1.2h0m0-1.4h0m1.4 2.6h0m0-1.9h0m.1-.6h0m1.2 .3h0m.2 .8h0m.4 .8h0m0 .5h0m.1-2.7h0m.1 1.1h0m0 1.5h0m.8-2.6h0m.1 .3h0m0 .6h0m1.9 1.7h0m.8-.7h0m.6-1h0m.6 1.3h0m1-1.7h0m1 1.3h0m-.6 3.7h0m-1.5 .2h0m-1.4-1.4h0m-.9-1.1h0m-.1 1.4h0m-.5-1.1h0m-1.7 .8h0m-.3 .6h0m-.2-.2h0m0-1.6h0m-1.2 0h0m-.1 .2h0m0 .8h0m-.2 .1h0m-.2-.9h0m-.8 1.4h0m-.2-.8h0m-.2 .8h0m-1.1 .7h0m-.7-1.1h0m-.2 1.2h0m-.2-1.7h0m-.1-.7h0m-.2 2.5h0m-.2-1.1h0m-.2-.8h0m-.1-.2h0m-.1-.5h0m-.5 1.6h0m0-1.5h0m-.4 2.5h0m-.2-.1h0m0-1.8h0m0 .2h0m-.1 .6h0m-.1-.2h0m-.3 .6h0m-.4-1.2h0m-.2 1.4h0m-.2-.5h0m-.3 0h0m-.4-1.5h0m-.1 .5h0m0 1.3h0m-.2 .7h0m-.2-.7h0m0-1h0m-.3 .4h0m-.3 .8h0m-.3-1.6h0m-.1 .9h0m0 1.3h0m0 .1h0m-.4-2.5h0m-.4 2.1h0m-.3-.3h0m0-2.1h0m-.1 1.7h0m-.4-.8h0m-.2-.1h0m-.6 1.3h0m-.1 .7h0m-.2-2.3h0m-.4 2.3h0m-.4-.8h0m-.1-1.3h0m-.1 1.9h0m-.1-2.4h0m-.1 .3h0m-.2 .6h0m-.1 1.7h0m-.2-.7h0m-.1-1h0m-.1 1.7h0m-.3-2.7h0m-.2 .7h0m0-.1h0m-.2-.5h0m-.2 2.5h0m-.1-1.9h0m-.2 1.4h0m0-1.7h0m-.4-.5h0m-.1-.1h0m-.3 .3h0m-.8 1.3h0m.4 2.7h0m.1 1.5h0m.5-1h0m.2-1.2h0m0 0h0m0 .1h0m.5 .4h0m.2 1h0m.5-.3h0m.3-.3h0m0 .9h0m.6-.7h0m.1 1.2h0m.1-2.8h0m.1 1.2h0m.1-1.2h0m.1 2.5h0m.3-2.1h0m0-.1h0m.1-.4h0m.4 0h0m0 2.2h0m0-1.7h0m.2 2.3h0m.4-1.6h0m.6 1.7h0m.1-.8h0m.2-.9h0m.4 1.4h0m.3-2h0m.2 2.2h0m.5-.9h0m.4-1.6h0m.3-.2h0m.1 1.1h0m.1-1.1h0m0 2.5h0m.6-2.6h0m.5 .6h0m.1 1.3h0m.6 .7h0m.6 0h0m.1-.5h0m.6-1.1h0m.1 .3h0m0-.1h0m.1-.4h0m0 1.5h0m.4 .4h0m.1-2.7h0m.1 .9h0m.2-.5h0m.1 2.1h0m.2 0h0m.8-1.2h0m.1 1.4h0m0-2.7h0m.9 .4h0m.1 .2h0m.2 1.7h0m.2-.1h0m.7 .6h0m.4-1h0m.1-.5h0m.1 0h0m.5-1.1h0m.4 .1h0m.1 1.7h0m1-.3h0m0 .8h0m.7-2.5h0m1.2 2.9h0m1.2-1.1h0m.6-1.7h0m.6 2h0m.6-1.5h0m-3 2.5h0m-.5 1.3h0m-.6-.6h0m-1.5-.6h0m-.1 2.5h0m-.6-2h0m-.5 1.9h0m-.2-.5h0m-.1-.9h0m-.1 .8h0m-.1-.7h0m-.1 1.6h0m-.4-.2h0m0-.3h0m-.1-.2h0m-.2-.4h0m-.1-1.7h0m0 1.8h0m0 .9h0m-.3-.9h0m-.1 .6h0m-.6-.1h0m-.1 .3h0m-.3-.3h0m0-2h0m-.2 2h0m0 .1h0m-.5-2.1h0m-.1-.4h0m-.1 1.3h0m-.6 .5h0m-.4-1.6h0m-.1 .6h0m-.1 .5h0m-.2-.9h0m-.5 1.5h0m-.3-1.1h0m-.3 1.4h0m-.1-1.5h0m-.1 .1h0m-.5 1.5h0m-.1-.7h0m-.1-.5h0m-.3-.7h0m-.2 1h0m0 1.5h0m-.3-2.2h0m-.2-.4h0m-.1 2.4h0m0-2.2h0m-.3 .2h0m-.2 .8h0m-.3 .7h0m-.5-.2h0m-.7-1.9h0m-.3 2.1h0m-.3-.2h0m-.5-1.8h0m-.3 2.4h0m-.4-.9h0m-.1-1.5h0m-.3 2.7h0m-.1-2.8h0m0 1.4h0m-.2 .7h0m-.1 .7h0m-.1-2.3h0m0-.6h0m-.1 1.3h0m0 0h0m-.2 .6h0m-.5-1.1h0m-.5-.8h0m0 1h0m0 .8h0m-.1-1h0m-.2 .3h0m-.5 .8h0m0 .1h0m1.1 1.1h0m1.8 2h0m.2 0h0m1.2 .8h0m.2-1.7h0m.2-1h0m.2 2.5h0m.1-2h0m.3 1h0m.3 .3h0m.4 .2h0m.2-1.3h0m.2 1.8h0m0 .1h0m.2-1.1h0m.2-.8h0m.1 .4h0m.7-1.1h0m.1 2.7h0m.1-.5h0m.2-1.2h0m.2 .8h0m0-.8h0m.3 .3h0m.3 .9h0m.2-.9h0m.3-1.3h0m.4 1.9h0m.1-1.7h0m.2 .7h0m.3 1.8h0m.4-2.6h0m.8 .1h0m.1 .6h0m.5-.4h0m.2 1.7h0m.3-1.6h0m.2 1h0m.8-1.4h0m1.5 .1h0m.9 0h0m2 4.9h0m-3.1-1.2h0m-4.6-1.1h0m-1.4 .3h0m-4.3-.3h0m8.5 5.4h0m2.3-1.5h0m.6 .6h0m.1-1.1h0m1.3-.4h0m86.6 3.6h0m-1.6 1.2h0m-.2-1.4h0m-.1 .6h0m-1.2 .5h0m-1.4 1.1h0m-.1 .2h0m-1.8-1h0m-.3-.7h0m-.1 .7h0m-.2 .5h0m-82.7-1.6h0m78.8 4.9h0m.3-.1h0m1.7-.4h0m0-.2h0m.1-1h0m1.3-.7h0m1.1 1.5h0m1-1.5h0m.4 2.5h0m.6-1.7h0m.8 .1h0m.5 0h0m1.2 1.5h0m0-1.8h0m1.4-.8h0m4.5 2.6h0m-.5 .6h0m-2.5 2.6h0m-1.4-2.3h0m-.8 .8h0m0 0h0m-.9 .8h0m-.1 .6h0m-.6-.1h0m-.9-1.8h0m-1-.4h0m-.7-.3h0m-.8 2.5h0m-.6-1.8h0m-.1-.7h0m-.1 0h0m-.6 1h0m-.1-1.1h0m0 2.1h0m-1.5-2h0m-.3 2.3h0m0 .5h0m-.5-1.4h0m-.3 .5h0m-2.4-.8h0m-1.9 1.2h0m-3.2 3h0m.4-2h0m.4 .2h0m1.4-.4h0m.5 1.8h0m.4 .9h0m2.4-1.6h0m.3-.1h0m1 .5h0m.6-.6h0m.9-.7h0m.3 2.4h0m.3-.8h0m.3-.6h0m.5-1.1h0m1 1.6h0m.3-.2h0m.5-1.1h0m.2 1.6h0m.2-1.6h0m.2 .7h0m.1 1.3h0m1.2-1.1h0m.1 .3h0m1.1-1.5h0m.8 1.1h0m.5-.8h0m3.4-.6h0m2.4 2.4h0m5.9 2h0m-1.4-.3h0m-6.6 .6h0m-3.8-.6h0m-1.1 .3h0m-.4 1.3h0m-.1-.6h0m-1.8 .3h0m-.2-1.5h0m-.9-.7h0m-1-.1h0m-.6 .3h0m-1 2.2h0m-.1-1.1h0m-.8-.6h0m0 1.7h0m-.1 0h0m-.3-.3h0m-.1 .3h0m-.7-1h0m0 .7h0m-.4-.5h0m-.5-.7h0m-.1 1.5h0m-.1-1.6h0m-.1 1.5h0m-.1-1.5h0m-.9-.9h0m-.3 1.2h0m-.1-.2h0m-.3 .8h0m-.5-1.5h0m-.3 2h0m-.7 .4h0m-.3-.5h0m-3.7 .5h0m-.2 .5h0m0 1.9h0m1.2-1.1h0m1.9 .6h0m1.2-.3h0m.1 .2h0m1 .5h0m4.8-2h0m.9 .6h0m1 0h0m1.6 .5h0m1.1-.5h0m.3 .8h0m.4-.1h0m1 1h0m.1-1h0m-3.2 2.2h0m-.5 .5h0m-1.9-.1h0m-.5 .4h0m-.5 .7h0m-.1-1.8h0m-.3 .1h0m-.5 1.2h0m-.2 .2h0m0-.4h0m-.5-.1h0m-.2 .9h0m-.1 .2h0m-.2-2.2h0m0 1.5h0m-.3-1.7h0m-.2 1.6h0m-.3 1h0m-1.1-2.4h0m-1.7 2.6h0m-1.1-1.6h0m-.2 .8h0m-37.5 39.7h0m2.8 2h0m-1.7-.3h0m-1.1 1.1h0m-.7 .1h0m-.5-.3h0m-.1-1.9h0m-.9 1.1h0m-.6 .7h0m-.8 0h0m-3.8 .3h0m-9 1.1h0m1.1 .9h0m13.2 .6h0m.5-2.1h0m.1 1.5h0m.8-.3h0m.1-.1h0m.5-.2h0m.1 .8h0m4.5-1.4h0m-.3 3.1h0m-3.9 1.1h0m-2.7-.2h0m-1.2-.8h0m-7.2 0h0m-2.3 2.1h0m-1.7-.1h0m-4.9-.6h0m0 .1h0m-1.7 2.4h0m.9-.5h0m.2-.9h0m.9 1.7h0m1.4 1h0m.4-2.4h0m.1-.3h0m1.5 .1h0m.5 .2h0m.4 2.3h0m.5-.4h0m.4-1.3h0m.5 1.2h0m.2-.9h0m.3 1.3h0m.2-2.3h0m.2 .6h0m.7 .9h0m.4-1.7h0m.6 1.4h0m1.4 1.3h0m1.4 .2h0m4-.4h0m.8-.1h0m6.9 2.4h0m-2.2 1h0m-2.8-1.7h0m-.2 .5h0m-.1 .6h0m-.5 .7h0m-1.2-2.4h0m-1 1h0m0-1.4h0m-.1 .9h0m-.7 1.9h0m-.5-.9h0m-1.3 .5h0m-1-.4h0m-.1-.3h0m-2.2-.3h0m-.4-.2h0m-1.4-.8h0m-.5 .1h0m0 .7h0m-.1-.8h0m-.4 1.8h0m-1-1h0m-.5 1.6h0m-.7-1h0m-.3 .7h0m-.7-.5h0m-.2-1.6h0m0 2h0m-.8-1.2h0m-.3-.2h0m-.4 .6h0m-.3-.5h0m-.5-1.2h0m0 2.9h0m-.8-2.1h0m-.1 .5h0m.6 2.6h0m1.6 1.4h0m.1-.6h0m1.2 .2h0m.2-.3h0m3.5-1.5h0m.3 .8h0m.2-.3h0m.3 .1h0m.1 1.9h0m.1 .2h0m0 .1h0m.2-1.8h0m.2 1h0m.3-1.4h0m.4 1.2h0m.3 .1h0m.6-.4h0m.2 .7h0m1.3-1.3h0m.2 1.2h0m1.3 .4h0m1.2-.2h0m0-.3h0m.1 .1h0m.6-1.1h0m.4-.3h0m.2 .8h0m.3 .2h0m.4-1h0m1.8-.7h0m1 1.7h0m.1-.7h0m.5-.6h0m.9 .9h0m0 .5h0m.3-1.1h0m1.2 1.5h0m1.7-.5h0m1.2-.1h0m0-.6h0m0 1.4h0m.2-1h0m.7 .3h0m.8 .9h0m.3-1.3h0m.8 .6h0m2.2 2h0m-.1 .5h0m0 1.4h0m-.6-1.2h0m-1.3-1.1h0m0-.6h0m0 1.9h0m-1.4-1.2h0m-1.4 0h0m-.3 .8h0m-1.3-.1h0m-.6-1.1h0m-.2 .6h0m-.2 .3h0m-.4 1.3h0m-.9-2.2h0m0 2.5h0m0-.9h0m-.3 1h0m-.4-2.9h0m-.3 .4h0m-1.5 1.9h0m-.8-1.4h0m-.3 1.2h0m0-1.2h0m0 .2h0m-1.3-.7h0m-.7-.1h0m-.1 1.4h0m-.9 .5h0m-1.2 .6h0m-.3-1.7h0m-.3-.5h0m-.4 1.8h0m0-2.2h0m-.2 .6h0m-.3 1.2h0m-.4-.9h0m-.4 .4h0m0-1.4h0m-.6 0h0m-.1 2.1h0m-.1-.2h0m0-1h0m-.1 1.4h0m-.4-2.2h0m-.1 .7h0m-.3-.8h0m-.1 2.3h0m-.2-2.2h0m-.1 1.8h0m-.2 .7h0m-.4-2.1h0m-.4 2.1h0m-.2-.4h0m-.1-1.9h0m-.3 2.2h0m-.2-1.6h0m-.1 .2h0m-.8-.3h0m-.3 .4h0m-.8 1.5h0m-1-.6h0m-.9-1.5h0m-.1 .6h0m4.6 4h0m.8-1.3h0m.7 1.5h0m.1 .4h0m.2-2.5h0m0 .8h0m.8 1.2h0m.4-.7h0m1.5 .2h0m.7-.9h0m0 1.6h0m0-.9h0m.2 .8h0m.4-1.9h0m.5 2.3h0m0-1.2h0m.7 .5h0m.1 .1h0m.5 .4h0m.9 .1h0m.4-2.2h0m.1 .7h0m0-1h0m.3 2.4h0m.3-2.3h0m.1 1.3h0m.1-1.4h0m0-.3h0m.2 2.1h0m.3-2.1h0m.8 .5h0m.4-.4h0m.3 2.6h0m.1-1.5h0m.3 1.4h0m0-1.3h0m.2 .1h0m2-.4h0m.3 .7h0m1.3 1.1h0m0-1.7h0m0-.3h0m.3-.8h0m1.2 0h0m.1 .1h0m1.1 1.1h0m2.3 1.4h0m1-1.1h0m.6-.1h0m-1 2.6h0m-.9-.3h0m-.6 2.2h0m-.8-1.6h0m-.4 1.6h0m-.4-1.6h0m-.2-.8h0m-.2 .1h0m-.3-.5h0m-.8-.1h0m-.3 1.9h0m-.1 .8h0m-.4-.5h0m-.2-1.6h0m-.7 2h0m-.4 .2h0m-.2-1.1h0m-.8 .6h0m-.1-1.3h0m-.4 1.3h0m-.8-1h0m-.9-.5h0m-.6 .5h0m-.1 .5h0m-.1-1.5h0m-.2-.2h0m-.7 2.5h0m0-1.7h0m-.6 .5h0m-.6 .4h0m-.4-.7h0m-.5-1.1h0m-.5 .8h0m-.3-.6h0m-.4-.2h0m-.6 1.1h0m-.4 1.7h0m-.3-.5h0m-.1-.7h0m-2.1-1h0m-.3 1.6h0m-.2-.9h0m-.6-.6h0m-.3-.2h0m-1.3 .1h0m3 2.4h0m.1 .3h0m.5-.2h0m.6 .2h0m.3 0h0m0 .7h0m2.1-.6h0m.6 .9h0m.5 .1h0m2.5 .4h0m.1 .2h0m.5-.8h0m.2-1.1h0m1.6 1.1h0m.5-1.2h0m1.5 .9h0m.1 1.4h0m.7-1.8h0m.5-.4h0m1.7 1.3h0" stroke="#f6a53a" stroke-width="0.8" stroke-linecap="round"/>
<path d="M221 385.8h0m.4 .1h0m.8 .5h0m.1 .4h0m.6-.7h0m.1 .7h0m.4-.9h0m0 .9h0m1-2.3h0m.3 .8h0m.1-.8h0m.4-.4h0m2.1 0h0m-3.3 4.2h0m-.1-.7h0m-.6-.3h0m-1 2.1h0m-1.9-2.4h0m-.9 1.6h0m-1.2-.9h0m0 .9h0m-.4 1.3h0m0-2.7h0m-.8 .1h0m-.1 1.8h0m-1.2 .6h0m-.5-1.7h0m-1 1.2h0m-.8-.5h0m-14.6 4.1h0m.2-.4h0m0 0h0m2.9-.7h0m.8 .4h0m.3-1.1h0m.2 1.4h0m.4-.9h0m.6-.6h0m.4 .2h0m0 1.8h0m.2-.8h0m.2-1.4h0m.7 .5h0m.2 1.2h0m.2 .5h0m.5-2.4h0m.2 .3h0m.4 .1h0m.1 2h0m0-2h0m0 .9h0m.2-.2h0m.7 1.1h0m0-2.2h0m.2 .2h0m.2 2h0m.1-.5h0m1-1h0m0-.8h0m.3 1.7h0m.3-1.5h0m.2 2.2h0m.2-.9h0m0 0h0m.2-.8h0m.7 .9h0m0 .3h0m.7-1.2h0m.1 .2h0m.5-.2h0m.1-.4h0m.1 .7h0m.1 .8h0m.3-1.8h0m.5 1.4h0m.4-.1h0m.3-.2h0m.2 .5h0m0-1.2h0m.1 .3h0m0-.8h0m.4 1.7h0m.4-.3h0m.2-1.4h0m0 1.4h0m.2 .3h0m0 .8h0m0-.5h0m.2-1.9h0m.1-.2h0m0 2.4h0m.2 .1h0m.6-1.6h0m.2 1.6h0m.7-2h0m.3 1.1h0m.7-.9h0m.6 .3h0m.6-.9h0m0 .3h0m.3-.3h0m.4 1h0m-1.3 3.4h0m-.7-.4h0m-.4-.1h0m-.4 .5h0m-.4 .7h0m-.1-2h0m-.3-.4h0m-.6 1.6h0m-.5 1.1h0m-.2-.9h0m-.2 .6h0m-.7-.7h0m-.2-.7h0m0 .6h0m-1.4-.5h0m-.4-.5h0m0 .1h0m0-.2h0m-.5 1.2h0m-.3-.7h0m-.1 1.2h0m-.1 .6h0m-.1-.3h0m-.2 0h0m0 .1h0m-.1-.5h0m-.1-1.9h0m0 2.4h0m-.1 0h0m-.1-1.2h0m0 .4h0m-.2-1.3h0m0 .9h0m-.4 .1h0m-.3-.8h0m-.1 1.1h0m-.4 .8h0m-.4-.8h0m0-.2h0m-.5 .7h0m-.4-1.2h0m-.1 1.7h0m-.1-.9h0m-.4 1h0m-.2-.6h0m-.4-.2h0m-.1 .3h0m-.1-1.6h0m-.4 2.1h0m-.2-1.5h0m0-.4h0m-.2-.1h0m-.6-.5h0m-.1 1.4h0m-.2-1.1h0m-.1 0h0m-.5-.6h0m-.2 .9h0m-.7 .9h0m-.4-1.9h0m-.3 2.5h0m-.1-1.6h0m-.2 .4h0m-.5 .8h0m0 .6h0m-.1-2.2h0m-.1-.4h0m-1.3 .2h0m-3.4 .6h0m-.3-.7h0m0 2.4h0m-1.6-1.3h0m-1.2 1.3h0m-2.3 3h0m.5-.4h0m5.4 .7h0m1.1-2h0m.1-.6h0m1 1.3h0m.7 1h0m.1-1.9h0m.3 .2h0m1.2 .9h0m.6-.9h0m.1 1.8h0m.5-.6h0m.2-.6h0m.2-.9h0m.5 0h0m.5 1h0m.4 .1h0m.1-.8h0m0-.8h0m.7 .8h0m.2 1.8h0m.4-1.1h0m.3 1.3h0m.2-.4h0m0-.6h0m.2 .7h0m.2-1.2h0m.7-.1h0m.7 .2h0m.4 1h0m.1-1.3h0m.4 1.3h0m.1-2.2h0m0 1.7h0m.5 .7h0m0-.5h0m.1 .3h0m.3-2.2h0m.1 1.1h0m.6 .1h0m.3-1.2h0m.2 2.4h0m0 0h0m.5-.9h0m.3-.6h0m.1-.2h0m.6 1.2h0m.1-.3h0m.1 .1h0m.4-1.5h0m.2 1.1h0m.3 1.1h0m.2-.9h0m.5 .7h0m0-.2h0m.1-1.9h0m0 1.1h0m.1 .6h0m.5-.8h0m.1 1.5h0m.1-2h0m0-.2h0m1.5 1.1h0m.5-.9h0m-2.6 2.9h0m-.1 1.2h0m-.5-1.1h0m-1.4 0h0m-.1 2h0m-.4-.6h0m-.2 .6h0m-.1-.3h0m-.3-2.4h0m-.1 1.9h0m-.2-.2h0m-.2-1.3h0m-.4 1.3h0m-.1-1h0m-.1-.8h0m-.1 .7h0m-.1 .1h0m-.3 1.4h0m-.1 .5h0m-.5-1.7h0m-.1-.8h0m-.4 .2h0m-.3 1.7h0m-.3-1.3h0m-.1 1.6h0m-.2 .1h0m-.1-.8h0m-.2 .7h0m-.6-.3h0m-.3 .4h0m0 .1h0m-.1-.1h0m-.5-.8h0m0-1.4h0m-.2-.1h0m0 1.4h0m-.7 .1h0m-.2-1.1h0m-.2-.5h0m-.2 .9h0m-1.7 1.6h0m-.1 .1h0m-.2-2h0m-.3-.2h0m0 1.1h0m-.6-1.3h0m-.3 2.6h0m-.6-.9h0m-.5-.9h0m-.1 .4h0m-.1-.6h0m-.2 1.3h0m-.4-1.5h0m-.6 0h0m-.2 1.1h0m-.4-.3h0m-1.3 1h0m-.3-1.8h0m-.4-.5h0m-.5 .4h0m-2-.4h0m-.9 4.9h0m1.2-.2h0m.8-1.5h0m.6 .2h0m.2 .3h0m2.4 1h0m.2-.3h0m.5 .9h0m.3-2h0m0 1.4h0m.7 .5h0m.3-1h0m.6 1.3h0m.7-.1h0m.3-1.7h0m.1 .5h0m.1 .9h0m0-.2h0m.1-.2h0m.2-.8h0m.8 .1h0m.4-1.2h0m.5 2.5h0m.2-1h0m0-.7h0m.5 .7h0m0-.3h0m.2 1.2h0m.2-2.2h0m0 2.7h0m.2-.4h0m0-1.8h0m.5 1.2h0m.1 .8h0m0 .2h0m.1-1.9h0m.4 .4h0m.4-1.2h0m.1 0h0m.2 2.3h0m.1-1.2h0m0 1h0m0-1.8h0m.3-.2h0m.1 2.4h0m.5-.7h0m.1-.1h0m.2-1.9h0m.2 1h0m.2 .9h0m.2-.7h0m.4 1.4h0m.3-2.6h0m.2 2.3h0m.1 0h0m.2-.5h0m1-.8h0m.4 1.5h0m.4-.2h0m.2-.2h0m.1-.7h0m.4-1h0m.2 2h0m.4-1.9h0m.1 .7h0m.3 0h0m.3-.5h0m-2 2.4h0m-.7 1.2h0m0 .2h0m0-1.4h0m0 1h0m-.3-.5h0m-.5 1.6h0m0-2.1h0m-.3 .8h0m-.3 1.4h0m0 0h0m-.1 .2h0m-.1-.4h0m-.4-.1h0m-.1 .3h0m-.1-.6h0m-.3 .6h0m-.1-1h0m-.4 0h0m-.7-.2h0m0 1.4h0m0-1h0m-.2-.9h0m-.1 1.4h0m-.4 .4h0m-.3-.6h0m-.9 .9h0m-.2-.8h0m-.4-.7h0m-.2 .2h0m-.2 .2h0m-.2-1.1h0m-.1-.3h0m-.3 2.4h0m-1.2 .3h0m-.5-.4h0m-1.2-1.5h0m-.3-.7h0m-.2 1.6h0m-.9-1.6h0m-.5 .4h0m-.1 0h0m-.1-.5h0m-.4-.1h0m-1.1 2.7h0m-.1-.4h0m-.7 .2h0m-.5-2.2h0m-.3 2.2h0m-.6 3h0m.1-.1h0m.4-.1h0m.8-2.3h0m.2 .2h0m.6 .5h0m1.5 .2h0m.2-.7h0m.9 .5h0m0 1.8h0m.2-2.3h0m.3-.3h0m.3 2.3h0m.6-1.4h0m.5 0h0m.5 .7h0m0 .8h0m.2-1.6h0m.9 1.2h0m.2-.2h0m0-.5h0m.3-.4h0m.5 1.8h0m.4-1.5h0m.3-1.1h0m0 1.1h0m.1-.2h0m.1-.3h0m.5-.6h0m.2 2.6h0m.7-2.4h0m2.3 0h0m-7.7 3.1h0m-2-.1h0m97.5 8.6h0m-.1-.5h0m-.5 .3h0m-1.1 .2h0m-.4-1.9h0m-.1-.5h0m-.7 .8h0m-.2-.2h0m-.3-.9h0m-.5 1h0m-.1-.6h0m0 1.4h0m-.2-.7h0m-.5 1.2h0m-.4 .3h0m-1.3-.1h0m-.6-.7h0m-1.3 0h0m-1.7 1.9h0m1 .3h0m1.1 .9h0m.4-1.1h0m.2 .3h0m.7-.6h0m2-.4h0m0 2h0m.3-2.1h0m0 2.7h0m.3-1.6h0m.2 1.6h0m.3-1.1h0m.7 .2h0m1.5-1.5h0m.2 .4h0m1.4-.5h0m0-.4h0m1.8 .8h0m1.1 4.1h0m-.4 .9h0m-.8-2.5h0m-.5 2.5h0m-1-1.5h0m-1.1 .1h0m-.3 .5h0m-.6 .8h0m0-2.5h0m-.1 2h0m-.3-.6h0m-1 1h0m0-1.7h0m-.6 1.3h0m-.5-.5h0m-.3-1.4h0m-1.1 1.2h0m-.3-.7h0m-.4 1.2h0m0 .7h0m-.8-1.8h0m-1.2 .9h0m-1.5-1h0m-2.9 4.3h0m1.8-.5h0m0-.3h0m1 1.4h0m.1-2.2h0m.7 1.5h0m1.4 .1h0m1 .6h0m.2-.9h0m.1-.6h0m.1 .8h0m.2-.8h0m.7 .4h0m.4-1.4h0m.1 1.9h0m.4 .6h0m1-2h0m1.2 .4h0m.2 1.1h0m.2-1.2h0m1.3 .3h0m.4-.6h0m2.1-.2h0m4.4 3.4h0m-.1-.3h0m-5.6 0h0m-.9 2.2h0m-.7-2.6h0m-.3 2.7h0m-.2-1.3h0m-.5-1.2h0m0 .1h0m-.6-.5h0m-.2 1.8h0m-1 .4h0m-.6-1.5h0m-.4-.6h0m-.3 2.5h0m-1-2.6h0m-.2 1.2h0m-.1-.7h0m-.1 1.4h0m-.1 .3h0m-.7 .6h0m-.7-1.9h0m-.1 0h0m-1-.6h0m-.2 1.4h0m-.4 .3h0m-.2 .8h0m0-.9h0m-2.1 .1h0m-1 .9h0m-.2-1.2h0m.2 3.8h0m1.2-1.2h0m.3-1.3h0m.4 1.8h0m.2 .8h0m.5-2.4h0m.3 .2h0m.6 1.1h0m1.9-.7h0m.4 .5h0m.6-1.1h0m.2 2.6h0m.3-.1h0m.3 .2h0m.1-2.4h0m.4 .5h0m.1-.3h0m.7 1.4h0m.3-.3h0m.4-1.2h0m.1-.2h0m2.5-.4h0m-5 3.3h0m-3 .5h0m-.3-.5h0m-.6-.2h0m-1.9 2.2h0m-.2-.4h0m-27.7 42.8h0m-1.7-2.2h0m-1.5-.2h0m-1.2 .6h0m-.6 .8h0m-.5 .2h0m-5.5 .8h0m-.7-.7h0m-2.8-.3h0m-.2-1.2h0m-.4 1.7h0m-.3-1.3h0m0 1.6h0m0-1.3h0m-.5 1.6h0m-.1-2.1h0m0-.1h0m-1.1 1.4h0m-.5-.6h0m-14.2 1.4h0m.7 .3h0m3.3 1.3h0m11.6 .4h0m.1-1.3h0m.2 .6h0m.4-.9h0m.2 2.7h0m.4-.9h0m.5-1.9h0m.2 .1h0m.8 2.2h0m.4-1.5h0m.4 1.7h0m0-1h0m.6-.5h0m.3 .1h0m.6 .6h0m1.9 .4h0m1.6-.9h0m.2 0h0m.2 .4h0m1 .2h0m.7-.4h0m1 .2h0m.3-1.1h0m.9-.2h0m.3 2.5h0m.5-.5h0m.3-1.9h0m1.4-.5h0m.2 1.6h0m3.3-.3h0m-3 1.8h0m-7.2 .3h0m-2.4-.3h0m-.1 .4h0m-4.3 2.4h0m-.3-2h0m-.1-.8h0m-.5 2.3h0m-.3 .4h0m-.2-.9h0m-.3-1.1h0m-.2 1.5h0m-.7-1.5h0m-.2-.5h0m-15.5 1.9h0m-2.9 2.6h0m.3 .9h0m.7-2.2h0m.8 1.8h0m1.2 0h0m2.6 0h0m.1-1.5h0m1.8 .5h0m.7-1.3h0m5.4 2.7h0m11.3-1.1h0m-6.4 1.8h0m-1.9-.2h0m-1.1 1.6h0m-.4-1.1h0m-9.1 1.3h0m-.3-.8h0m-1.8 0h0m-.5-.4h0m-.8 1.6h0m0-1.1h0m-2.3 1h0m-.8-1.2h0m.9 4h0m3.4-1.9h0m2.5 1.1h0m.4-.3h0m.3 1.2h0m1.6 .6h0m1.8-2.8h0m.8 .4h0m1.9 1.6h0m1.7-1.7h0m1.1 1.4h0m.3 .1h0m.1-1.3h0m1.3 1.5h0m.6-1.9h0m1.2 1.9h0m.9-1h0m1.4 .6h0m1.8 1.2h0m.1-2.6h0m.2 1h0m2.5 1.4h0m1.4-.1h0m.5 .4h0m.3-.9h0m.4 3.8h0m-1.6-.6h0m-1 0h0m-3.3 .1h0m-1.2-1.4h0m-.6 .4h0m-.6-.9h0m-.3 .9h0m-1.4-.3h0m-.6 .1h0m-.3 1h0m-1.6 .1h0m-.2 .7h0m-.3-.5h0m-1.4 .4h0m-.4-1.3h0m-.9-.7h0m-.3 1.7h0m-.8-.1h0m-4.8-1.3h0m-5.1-.2h0m3.1 2.2h0m2.4 1.2h0m3 .8h0m2.9 .2h0m4.6-.6h0m2.4-.1h0m2.6 .2h0m.8-.7h0m.9-.1h0m.3-1h0m2.3 1.5h0m1.8 2.8h0m-2.7 .2h0m-.3-.4h0m-2.5 .5h0m-1.3-1.6h0m-1.8 1.3h0m-1.3-1h0m-.2-.3h0m-.2 2.9h0m-.1-1.1h0m-1.8 .8h0m-.1-2.2h0m-1.6 2.4h0m-.6-.9h0m-2 2.5h0m2.8 .1h0m1.4 .1h0m2.6-.9h0m1.9 .1h0m3.1 .1h0m1.1-.7h0" stroke="#f4c730" stroke-width="0.8" stroke-linecap="round"/>
<path d="M220 386.7h0m.5-.8h0m.1 .8h0m1.2-.2h0m1.6 .4h0m.1-.3h0m.5-.5h0m0-1.3h0m1.8 2.1h0m1.5-2.5h0m.1-.3h0m-1.9 3.1h0m-.6 .3h0m-.5-.1h0m-.5 2.1h0m-.3-.5h0m-.2-1.4h0m-.1 2.2h0m0-2.4h0m-.6-.1h0m-.5 .7h0m-.1-.1h0m-.4 1.5h0m-1 .5h0m0-2.3h0m0 1.1h0m-.1-1.4h0m-.2 .5h0m-.2-.7h0m-.1 0h0m-.2 1.3h0m-.2 1.1h0m-.1-.7h0m-.4-1.5h0m-1.2 2.2h0m0-2.2h0m-.2 .4h0m-.2 1.2h0m-.3-1.5h0m0-.1h0m0 1.6h0m-.5 0h0m-.1-.8h0m-.3 1.1h0m-.2-1.2h0m-.2 .9h0m-.9 .4h0m-.3-.5h0m-.6 .2h0m0-.6h0m-.1 1.5h0m-1.1-.4h0m-.6-.3h0m-.6 .2h0m-.6 .3h0m-.7-.3h0m-7.5 3h0m2.3 .5h0m2-1.5h0m1.9 .7h0m.1 .7h0m1.2-2h0m.1 2.1h0m.5-1.2h0m0-1.2h0m.3-.3h0m1.4 .4h0m.2 1.1h0m.6-1h0m.5 0h0m0 1.4h0m.5-.9h0m.7 .6h0m.2-1.2h0m.4 2h0m.1 .1h0m.2-1h0m0-.5h0m.3 .9h0m.1-.3h0m.3 .5h0m.2-.6h0m.1-.4h0m.9 .9h0m.2 .7h0m.1-2h0m.2 .4h0m.1-.4h0m.2 2h0m.1-1h0m.5 .1h0m.6-.9h0m.1-.6h0m1.3 .8h0m.3-1.2h0m1 .4h0m.2 .2h0m-1.5 2.7h0m-.8 2h0m-.1-.5h0m-.2-.6h0m-.1 .1h0m-.1 1h0m-.7-1.5h0m0-.3h0m-.2 2.1h0m-.5-2.2h0m-.1 1.5h0m-.2-.1h0m-.1-1.1h0m-.2 1.1h0m0 .7h0m-.1-1.9h0m0 .4h0m0-.7h0m-.2 .5h0m0-.6h0m0 2.4h0m-.2-2h0m0 1.9h0m-.1-.1h0m-.1 .3h0m-.2-1.8h0m0-.1h0m-.1-.4h0m-.1 1.6h0m-.3 .4h0m-.1-1.5h0m-.2 .5h0m-.4-1.5h0m-.2 1h0m-.1-.4h0m-.4 1.9h0m-.1 .1h0m-1.1-.2h0m-.6-1.3h0m-.5 1.7h0m-1.6-1.4h0m-.5-.1h0m-1.5-1h0m-.1 1.1h0m-2.2-.8h0m-.4 1h0m-.7 0h0m-11.6 4h0m6.9-.6h0m5.7 0h0m.7-.1h0m2.7-1.3h0m1.3 .5h0m1.5 1.7h0m.8-1.7h0m.8-.3h0m.7 .2h0m.3 1.9h0m.2-2h0m0 2h0m0-.9h0m.1 .4h0m.1-2h0m.4 1.9h0m.6-2.1h0m0 2.2h0m.2-.9h0m.2-.5h0m.1-.8h0m.2 .5h0m.3-.6h0m.5 1.1h0m.1-.6h0m.2 1h0m0-.7h0m.1 1.5h0m-1.5 .8h0m-1.2 2.5h0m0-1.1h0m-1.3 .7h0m-.3-.9h0m-.2-.2h0m-.1 .7h0m-1.1 .4h0m-.5-1.6h0m-.3-.5h0m-.4 .3h0m-.6 2.4h0m-.2-.5h0m0-1.2h0m-1.5 1.2h0m-1.8-2h0m-1.1 1.1h0m-3.2 .9h0m-5.3 3.1h0m6.8 0h0m2.4-1.8h0m2 2.1h0m.4-1.3h0m1.4 1.2h0m.1-.7h0m1-.5h0m.6-1.5h0m1.2 .2h0m0 1.5h0m.1-.7h0m.1-.1h0m.2 .5h0m0 1h0m.5-1.8h0m-1 2.6h0m-4.5 1.9h0m-1.3-.7h0m-4.6-1.1h0m-3.5 .7h0m-4.6-.7h0m2.7 4.2h0m9.1 0h0m2-.7h0m.1 .1h0m90.3 10.6h0m-1-1.3h0m-.9 .6h0m-.3-.9h0m-.3 .3h0m-.1-.3h0m-.1 2h0m-1.7-1h0m-2-.8h0m.3 4.3h0m1.6-1h0m.7 .6h0m.4-1.2h0m1-.3h0m.2 .5h0m.3-.5h0m0 .2h0m0 .7h0m.3-.7h0m1.8 1h0m.6-1.5h0m.7 2h0m.1-.2h0m.5 1.6h0m-.5 1.6h0m-.1-2.2h0m-.5 1.9h0m-.3 .6h0m-.6-.2h0m-1-.9h0m0-1.1h0m-.1 1.7h0m0-1.5h0m0 0h0m-.4 1.7h0m-1.8-1.6h0m-1-.4h0m-.5 1.6h0m-1.2 0h0m-.1-1h0m-.3 .7h0m-2.5-.2h0m-1.8 0h0m-.3-.2h0m2.4 2.2h0m1.5 2.2h0m1.3-.5h0m1.7-.7h0m1.1 .6h0m.2 .2h0m.7 .5h0m1.3-1.9h0m.2 2.2h0m.5-1h0m.3 .1h0m0-.9h0m.1 1.2h0m0-1.7h0m.1 .6h0m2 .8h0m.3-.1h0m4.2 2.3h0m-1.6-.3h0m-4.9-.9h0m-1.2 .6h0m-1.3-.6h0m-.3 2.1h0m-.4 .2h0m-.7-1.4h0m-.6 1.1h0m-.1-.7h0m-2 1.4h0m-2.5 2.5h0m1-2.2h0m.1 2.3h0m1.7-.4h0m.7-1.1h0m1.3-.7h0m1 .1h0m-42.6 44.7h0m2.6-.5h0m.5 .5h0m.4-.1h0m2 2.8h0m-.5 .3h0m-.3-.7h0m-.4-1.9h0m-.1 1.6h0m0 .9h0m-.2-1.1h0m0-.4h0m-.1-.5h0m-.5 1h0m-.2 .8h0m0-.3h0m-.1-2.2h0m0 .3h0m-.3 .8h0m-.3-1.1h0m-.2 2.1h0m-.1-1.4h0m-.1 2h0m-.5-.3h0m0-.6h0m-.5-.8h0m-.2-.9h0m-.3 .3h0m-.2 .9h0m-.1-1.1h0m-.3 .8h0m-.1-.2h0m-.1 .2h0m-.1 0h0m-.8 1.6h0m0-.3h0m-.1-.4h0m-.3-.8h0m-.5-.6h0m0 1.9h0m0-.4h0m0 .3h0m-.4-.2h0m-.2-.7h0m-.2 1h0m-.1-.8h0m-.2 .2h0m-.4 .6h0m-.7-.2h0m-.5 .3h0m-1.6-.1h0m-.7-.1h0m-.5-.4h0m-2.7-.2h0m0-.3h0m-.1-1h0m-.9 .9h0m-.1-.8h0m-14 4.2h0m13.9-.1h0m1.1 .5h0m.1-1.4h0m0 .3h0m0-.8h0m.1 1.6h0m0 .2h0m.4-.5h0m.6-.4h0m.1 1.4h0m.8-.3h0m.2 .4h0m.2-1.4h0m.2 1.4h0m.3-1.8h0m.1 1.4h0m.1-.1h0m.1-2.1h0m0 2.4h0m.6-1.1h0m.3-.2h0m.2-1.1h0m.4 1.2h0m.7 1.6h0m.1-.9h0m.3-.1h0m.3 .9h0m.2-1.1h0m.1-.5h0m.5-.3h0m.1 0h0m.1 .1h0m.2 1.3h0m.5 .2h0m.1-.5h0m.3-.4h0m0-1.1h0m.3 .8h0m.3 1.5h0m.6-2.5h0m.1-.3h0m.2 0h0m.5 1.9h0m.1 .7h0m.1-1.8h0m.2 1.3h0m.5-1.2h0m.2 0h0m.1 .3h0m.2 .4h0m.3-1.5h0m.1 1.6h0m.1 .5h0m.7-.4h0m.2 .5h0m0-1.1h0m0 .7h0m.3-1.9h0m.3 2.6h0m.1-1.8h0m1-.8h0m.1 1.2h0m.6 1.4h0m.1-.4h0m0-1.1h0m.1 0h0m.3 .5h0m.6-.4h0m0 .4h0m.5 .7h0m-2.9 1.3h0m-.1-.5h0m-.1 0h0m0 .9h0m-.4-.9h0m-1 .9h0m-1.2-.5h0m-.5 0h0m-1.7 0h0m-1.7-.2h0m-2-.2h0m-1.2 .3h0m0-.3h0m-.1 .9h0m-.5-.4h0m-.3 .7h0m-.6 0h0m-.5-.9h0m-1.1 .8h0m-.3-.1h0m-.2 .4h0m0 .7h0m0-1.6h0m-.1 2h0m-.2-1.2h0m-.1-.9h0m-.4-.5h0m-.1 1.7h0m-1 .7h0m-8.1-.1h0m-.7-2.2h0m-4.3 3.3h0m14.7-.2h0m-12.6 5.6h0m19 2.9h0m-17.6 4.9h0" stroke="#f1e826" stroke-width="0.8" stroke-linecap="round"/>
<linearGradient id="plg" x1="0" y1="1" x2="0" y2="0"><stop offset="0" stop-color="rgb(13, 8, 135)"/><stop offset="0.25" stop-color="rgb(126, 3, 168)"/><stop offset="0.5" stop-color="rgb(204, 71, 120)"/><stop offset="0.75" stop-color="rgb(248, 149, 64)"/><stop offset="1" stop-color="rgb(240, 249, 33)"/></linearGradient>
<text x="310" y="381.5" font-size="6" text-anchor="middle" fill="#222">Pseudotime</text>
<rect x="303.9" y="385.8" width="5.9" height="33" fill="url(#plg)"/>
<text x="311.6" y="389.5" font-size="6" fill="#222">20</text>
<text x="311.6" y="396.6" font-size="6" fill="#222">15</text>
<text x="311.6" y="403.7" font-size="6" fill="#222">10</text>
<text x="311.6" y="410.7" font-size="6" fill="#222">5</text>
<text x="311.6" y="417.8" font-size="6" fill="#222">0</text>
<text x="340" y="375.3" font-size="11.4" font-weight="bold">M</text>
<line x1="359.5" y1="381.2" x2="359.5" y2="574.8" stroke="#dcdcdc" stroke-width="0.5"/>
<line x1="366.5" y1="381.2" x2="366.5" y2="574.8" stroke="#dcdcdc" stroke-width="0.5"/>
<line x1="373.5" y1="381.2" x2="373.5" y2="574.8" stroke="#dcdcdc" stroke-width="0.5"/>
<line x1="380.5" y1="381.2" x2="380.5" y2="574.8" stroke="#dcdcdc" stroke-width="0.5"/>
<line x1="387.5" y1="381.2" x2="387.5" y2="574.8" stroke="#dcdcdc" stroke-width="0.5"/>
<line x1="394.5" y1="381.2" x2="394.5" y2="574.8" stroke="#dcdcdc" stroke-width="0.5"/>
<line x1="401.5" y1="381.2" x2="401.5" y2="574.8" stroke="#dcdcdc" stroke-width="0.5"/>
<line x1="408.5" y1="381.2" x2="408.5" y2="574.8" stroke="#dcdcdc" stroke-width="0.5"/>
<line x1="415.5" y1="381.2" x2="415.5" y2="574.8" stroke="#dcdcdc" stroke-width="0.5"/>
<line x1="422.5" y1="381.2" x2="422.5" y2="574.8" stroke="#dcdcdc" stroke-width="0.5"/>
<line x1="429.5" y1="381.2" x2="429.5" y2="574.8" stroke="#dcdcdc" stroke-width="0.5"/>
<line x1="436.5" y1="381.2" x2="436.5" y2="574.8" stroke="#dcdcdc" stroke-width="0.5"/>
<line x1="356" y1="387.4" x2="442.8" y2="387.4" stroke="#dcdcdc" stroke-width="0.5"/>
<line x1="356" y1="397" x2="442.8" y2="397" stroke="#dcdcdc" stroke-width="0.5"/>
<line x1="356" y1="406.6" x2="442.8" y2="406.6" stroke="#dcdcdc" stroke-width="0.5"/>
<line x1="356" y1="416.2" x2="442.8" y2="416.2" stroke="#dcdcdc" stroke-width="0.5"/>
<line x1="356" y1="425.8" x2="442.8" y2="425.8" stroke="#dcdcdc" stroke-width="0.5"/>
<line x1="356" y1="435.4" x2="442.8" y2="435.4" stroke="#dcdcdc" stroke-width="0.5"/>
<line x1="356" y1="445" x2="442.8" y2="445" stroke="#dcdcdc" stroke-width="0.5"/>
<line x1="356" y1="454.6" x2="442.8" y2="454.6" stroke="#dcdcdc" stroke-width="0.5"/>
<line x1="356" y1="464.2" x2="442.8" y2="464.2" stroke="#dcdcdc" stroke-width="0.5"/>
<line x1="356" y1="473.8" x2="442.8" y2="473.8" stroke="#dcdcdc" stroke-width="0.5"/>
<line x1="356" y1="483.4" x2="442.8" y2="483.4" stroke="#dcdcdc" stroke-width="0.5"/>
<line x1="356" y1="493" x2="442.8" y2="493" stroke="#dcdcdc" stroke-width="0.5"/>
<line x1="356" y1="502.6" x2="442.8" y2="502.6" stroke="#dcdcdc" stroke-width="0.5"/>
<line x1="356" y1="512.2" x2="442.8" y2="512.2" stroke="#dcdcdc" stroke-width="0.5"/>
<line x1="356" y1="521.8" x2="442.8" y2="521.8" stroke="#dcdcdc" stroke-width="0.5"/>
<line x1="356" y1="531.4" x2="442.8" y2="531.4" stroke="#dcdcdc" stroke-width="0.5"/>
<line x1="356" y1="541" x2="442.8" y2="541" stroke="#dcdcdc" stroke-width="0.5"/>
<line x1="356" y1="550.6" x2="442.8" y2="550.6" stroke="#dcdcdc" stroke-width="0.5"/>
<line x1="356" y1="560.2" x2="442.8" y2="560.2" stroke="#dcdcdc" stroke-width="0.5"/>
<line x1="356" y1="569.8" x2="442.8" y2="569.8" stroke="#dcdcdc" stroke-width="0.5"/>
<rect x="356.0" y="381.2" width="86.80000000000001" height="193.59999999999997" fill="none" stroke="#000" stroke-width="0.9"/>
<line x1="401.5" y1="381.2" x2="401.5" y2="574.8" stroke="#000" stroke-width="0.9"/>
<line x1="393.3" y1="381.2" x2="393.3" y2="574.8" stroke="#555" stroke-width="0.8" stroke-dasharray="3 2"/>
<line x1="409.7" y1="381.2" x2="409.7" y2="574.8" stroke="#555" stroke-width="0.8" stroke-dasharray="3 2"/>
<line x1="360.2" y1="387.4" x2="375.6" y2="387.4" stroke="#c8102e" stroke-width="1.4"/>
<circle cx="367.9" cy="387.4" r="1.8" fill="#c8102e"/>
<line x1="374.9" y1="397" x2="377.7" y2="397" stroke="#c8102e" stroke-width="1.4"/>
<circle cx="376.3" cy="397" r="1.8" fill="#c8102e"/>
<line x1="374.2" y1="406.6" x2="384" y2="406.6" stroke="#c8102e" stroke-width="1.4"/>
<circle cx="379.1" cy="406.6" r="1.8" fill="#c8102e"/>
<line x1="384.7" y1="416.2" x2="387.5" y2="416.2" stroke="#c8102e" stroke-width="1.4"/>
<circle cx="385.8" cy="416.2" r="1.8" fill="#c8102e"/>
<line x1="384" y1="425.8" x2="393.1" y2="425.8" stroke="#c8102e" stroke-width="1.4"/>
<circle cx="388.5" cy="425.8" r="1.8" fill="#c8102e"/>
<line x1="389.6" y1="435.4" x2="396.9" y2="435.4" stroke="#c8102e" stroke-width="1.4"/>
<circle cx="393.1" cy="435.4" r="1.8" fill="#c8102e"/>
<line x1="388.9" y1="445" x2="401.5" y2="445" stroke="#c8102e" stroke-width="1.4"/>
<circle cx="393.1" cy="445" r="1.8" fill="#c8102e"/>
<line x1="395.9" y1="454.6" x2="399.4" y2="454.6" stroke="#a8a8a8" stroke-width="0.8"/>
<circle cx="397.9" cy="454.6" r="1.2" fill="#a8a8a8"/>
<line x1="394.5" y1="464.2" x2="407.8" y2="464.2" stroke="#a8a8a8" stroke-width="0.8"/>
<circle cx="401.5" cy="464.2" r="1.2" fill="#a8a8a8"/>
<line x1="404" y1="473.8" x2="406.8" y2="473.8" stroke="#a8a8a8" stroke-width="0.8"/>
<circle cx="405.4" cy="473.8" r="1.2" fill="#a8a8a8"/>
<line x1="409.2" y1="483.4" x2="410.6" y2="483.4" stroke="#a8a8a8" stroke-width="0.8"/>
<circle cx="409.9" cy="483.4" r="1.2" fill="#a8a8a8"/>
<line x1="407.8" y1="493" x2="428.8" y2="493" stroke="#c8102e" stroke-width="1.4"/>
<circle cx="418" cy="493" r="1.8" fill="#c8102e"/>
<line x1="417.6" y1="502.6" x2="423.9" y2="502.6" stroke="#c8102e" stroke-width="1.4"/>
<circle cx="420.8" cy="502.6" r="1.8" fill="#c8102e"/>
<line x1="418.3" y1="512.2" x2="426.7" y2="512.2" stroke="#c8102e" stroke-width="1.4"/>
<circle cx="422.5" cy="512.2" r="1.8" fill="#c8102e"/>
<line x1="418.3" y1="521.8" x2="430.2" y2="521.8" stroke="#c8102e" stroke-width="1.4"/>
<circle cx="423.9" cy="521.8" r="1.8" fill="#c8102e"/>
<line x1="421.1" y1="531.4" x2="429.5" y2="531.4" stroke="#c8102e" stroke-width="1.4"/>
<circle cx="426.4" cy="531.4" r="1.8" fill="#c8102e"/>
<line x1="418.3" y1="541" x2="435.1" y2="541" stroke="#c8102e" stroke-width="1.4"/>
<circle cx="426" cy="541" r="1.8" fill="#c8102e"/>
<line x1="423.2" y1="550.6" x2="431.6" y2="550.6" stroke="#c8102e" stroke-width="1.4"/>
<circle cx="427.4" cy="550.6" r="1.8" fill="#c8102e"/>
<line x1="420.4" y1="560.2" x2="439.3" y2="560.2" stroke="#c8102e" stroke-width="1.4"/>
<circle cx="428.8" cy="560.2" r="1.8" fill="#c8102e"/>
<line x1="429.5" y1="569.8" x2="438.2" y2="569.8" stroke="#c8102e" stroke-width="1.4"/>
<circle cx="433.4" cy="569.8" r="1.8" fill="#c8102e"/>
<line x1="442.8" y1="387.4" x2="444.8" y2="387.4" stroke="#000" stroke-width="0.6"/>
<text x="446.6" y="389.6" font-size="6.3" fill="#222">hbba1 + klf1</text>
<line x1="442.8" y1="397" x2="444.8" y2="397" stroke="#000" stroke-width="0.6"/>
<text x="446.6" y="399.2" font-size="6.3" fill="#222">myeloid progenitors 1</text>
<line x1="442.8" y1="406.6" x2="444.8" y2="406.6" stroke="#000" stroke-width="0.6"/>
<text x="446.6" y="408.8" font-size="6.3" fill="#222">myeloid progenitors 2</text>
<line x1="442.8" y1="416.2" x2="444.8" y2="416.2" stroke="#000" stroke-width="0.6"/>
<text x="446.6" y="418.4" font-size="6.3" fill="#222">erythroid progenitors 2</text>
<line x1="442.8" y1="425.8" x2="444.8" y2="425.8" stroke="#000" stroke-width="0.6"/>
<text x="446.6" y="428" font-size="6.3" fill="#222">myeloid progenitors 3</text>
<line x1="442.8" y1="435.4" x2="444.8" y2="435.4" stroke="#000" stroke-width="0.6"/>
<text x="446.6" y="437.6" font-size="6.3" fill="#222">neutrophils</text>
<line x1="442.8" y1="445" x2="444.8" y2="445" stroke="#000" stroke-width="0.6"/>
<text x="446.6" y="447.2" font-size="6.3" fill="#222">doublets</text>
<line x1="442.8" y1="454.6" x2="444.8" y2="454.6" stroke="#000" stroke-width="0.6"/>
<text x="446.6" y="456.8" font-size="6.3" fill="#222">erythroid progenitors 1</text>
<line x1="442.8" y1="464.2" x2="444.8" y2="464.2" stroke="#000" stroke-width="0.6"/>
<text x="446.6" y="466.4" font-size="6.3" fill="#222">thrombocytes</text>
<line x1="442.8" y1="473.8" x2="444.8" y2="473.8" stroke="#000" stroke-width="0.6"/>
<text x="446.6" y="476" font-size="6.3" fill="#222">NK</text>
<line x1="442.8" y1="483.4" x2="444.8" y2="483.4" stroke="#000" stroke-width="0.6"/>
<text x="446.6" y="485.6" font-size="6.3" fill="#222">HSPC1</text>
<line x1="442.8" y1="493" x2="444.8" y2="493" stroke="#000" stroke-width="0.6"/>
<text x="446.6" y="495.2" font-size="6.3" fill="#222">epcam</text>
<line x1="442.8" y1="502.6" x2="444.8" y2="502.6" stroke="#000" stroke-width="0.6"/>
<text x="446.6" y="504.8" font-size="6.3" fill="#222">HSPC2</text>
<line x1="442.8" y1="512.2" x2="444.8" y2="512.2" stroke="#000" stroke-width="0.6"/>
<text x="446.6" y="514.4" font-size="6.3" fill="#222">monocytes</text>
<line x1="442.8" y1="521.8" x2="444.8" y2="521.8" stroke="#000" stroke-width="0.6"/>
<text x="446.6" y="524" font-size="6.3" fill="#222">T cells</text>
<line x1="442.8" y1="531.4" x2="444.8" y2="531.4" stroke="#000" stroke-width="0.6"/>
<text x="446.6" y="533.6" font-size="6.3" fill="#222">phagocytic B cells</text>
<line x1="442.8" y1="541" x2="444.8" y2="541" stroke="#000" stroke-width="0.6"/>
<text x="446.6" y="543.2" font-size="6.3" fill="#222">monocyte progenitors</text>
<line x1="442.8" y1="550.6" x2="444.8" y2="550.6" stroke="#000" stroke-width="0.6"/>
<text x="446.6" y="552.8" font-size="6.3" fill="#222">lymphoid progenitor</text>
<line x1="442.8" y1="560.2" x2="444.8" y2="560.2" stroke="#000" stroke-width="0.6"/>
<text x="446.6" y="562.4" font-size="6.3" fill="#222">pigr3.5</text>
<line x1="442.8" y1="569.8" x2="444.8" y2="569.8" stroke="#000" stroke-width="0.6"/>
<text x="446.6" y="572" font-size="6.3" fill="#222">B cells</text>
<line x1="359.5" y1="574.8" x2="359.5" y2="576.8" stroke="#000" stroke-width="0.6"/>
<text x="359.5" y="582.8" font-size="6" text-anchor="middle" fill="#222">−3</text>
<line x1="373.5" y1="574.8" x2="373.5" y2="576.8" stroke="#000" stroke-width="0.6"/>
<text x="373.5" y="582.8" font-size="6" text-anchor="middle" fill="#222">−2</text>
<line x1="387.5" y1="574.8" x2="387.5" y2="576.8" stroke="#000" stroke-width="0.6"/>
<text x="387.5" y="582.8" font-size="6" text-anchor="middle" fill="#222">−1</text>
<line x1="401.5" y1="574.8" x2="401.5" y2="576.8" stroke="#000" stroke-width="0.6"/>
<text x="401.5" y="582.8" font-size="6" text-anchor="middle" fill="#222">0</text>
<line x1="415.5" y1="574.8" x2="415.5" y2="576.8" stroke="#000" stroke-width="0.6"/>
<text x="415.5" y="582.8" font-size="6" text-anchor="middle" fill="#222">1</text>
<line x1="429.5" y1="574.8" x2="429.5" y2="576.8" stroke="#000" stroke-width="0.6"/>
<text x="429.5" y="582.8" font-size="6" text-anchor="middle" fill="#222">2</text>
<text x="365.9" y="377.6" font-size="6.6" text-anchor="middle" fill="#222">WT</text>
<text x="418.6" y="377.6" font-size="6.2" font-style="italic" fill="#444" textLength="19.3" lengthAdjust="spacingAndGlyphs">gata 2b</text>
<text x="438.3" y="374.4" font-size="3.6" font-style="italic" fill="#444">-/-</text>
<line x1="349.8" y1="379.5" x2="349.8" y2="586.3" stroke="#666" stroke-width="1.0"/>
<line x1="349.8" y1="586.3" x2="447.5" y2="586.3" stroke="#666" stroke-width="1.0"/>
<text x="0" y="0" font-size="7.6" text-anchor="middle" font-weight="bold" fill="#333" transform="translate(346.3 483.1) rotate(-90)" textLength="20" lengthAdjust="spacingAndGlyphs">Clusters</text>
<text x="398.5" y="596.8" font-size="7.8" text-anchor="middle" font-weight="bold" fill="#333" textLength="43" lengthAdjust="spacingAndGlyphs">Log2 Fold Change</text>
<text x="346" y="606.2" font-size="6" fill="#222">Significance</text>
<line x1="392" y1="599.5" x2="392" y2="608.5" stroke="#c8102e" stroke-width="0.9"/>
<circle cx="392" cy="604" r="1.5" fill="#c8102e"/>
<text x="397" y="606.2" font-size="6" fill="#222">FDR &lt; 0.05</text>
<line x1="437.5" y1="599.5" x2="437.5" y2="608.5" stroke="#aaa" stroke-width="0.7"/>
<circle cx="437.5" cy="604" r="1" fill="#aaa"/>
<text x="441" y="606.2" font-size="6" fill="#222">n.s.</text>
<text x="32.5" y="544.6" font-size="11.4" font-weight="bold">N</text>
<text x="100" y="544.6" font-size="11.4" font-weight="bold">O</text>
<text x="162" y="545" font-size="11.4" font-weight="bold">P</text>
<text x="226" y="545" font-size="11.4" font-weight="bold">Q</text>
<line x1="22.6" y1="545" x2="22.6" y2="598.3" stroke="#8a8a8a" stroke-width="1.4"/>
<path d="M22.6 541 L21 545.5 L24.2 545.5Z"/>
<line x1="22.6" y1="598.3" x2="319" y2="598.3" stroke="#8a8a8a" stroke-width="1.4"/>
<path d="M322.5 598.3 L318 596.7 L318 599.9Z"/>
<text x="0" y="0" font-size="7.4" text-anchor="middle" fill="#333" transform="translate(18.6 571.7) rotate(-90)" textLength="26.7" lengthAdjust="spacingAndGlyphs">Expression</text>
<text x="171.7" y="608.5" font-size="7.4" text-anchor="middle" fill="#333" textLength="28.3" lengthAdjust="spacingAndGlyphs">Pseudotime</text>
<linearGradient id="pq0" gradientUnits="userSpaceOnUse" x1="46" y1="0" x2="96" y2="0"><stop offset="0" stop-color="rgb(13, 8, 135)"/><stop offset="0.25" stop-color="rgb(126, 3, 168)"/><stop offset="0.5" stop-color="rgb(204, 71, 120)"/><stop offset="0.75" stop-color="rgb(248, 149, 64)"/><stop offset="1" stop-color="rgb(240, 249, 33)"/></linearGradient>
<line x1="44.5" y1="546.5" x2="44.5" y2="593" stroke="#444" stroke-width="1.0"/>
<line x1="42.3" y1="556.1" x2="44.5" y2="556.1" stroke="#444" stroke-width="0.7"/>
<text x="41.7" y="558" font-size="5.6" text-anchor="end" fill="#333">1.000</text>
<line x1="42.3" y1="566.8" x2="44.5" y2="566.8" stroke="#444" stroke-width="0.7"/>
<text x="41.7" y="568.7" font-size="5.6" text-anchor="end" fill="#333">0.100</text>
<line x1="42.3" y1="577.5" x2="44.5" y2="577.5" stroke="#444" stroke-width="0.7"/>
<text x="41.7" y="579.4" font-size="5.6" text-anchor="end" fill="#333">0.010</text>
<line x1="42.3" y1="588.2" x2="44.5" y2="588.2" stroke="#444" stroke-width="0.7"/>
<text x="41.7" y="590.1" font-size="5.6" text-anchor="end" fill="#333">0.001</text>
<text x="71" y="549" font-size="6.2" text-anchor="middle" fill="#333">gata2b</text>
<path d="M49 548.6h0m1.5 2.9h0m-1.5-1h0m-.8 1.1h0m-.2-1.6h0m-.5 .6h0m-.5-1.6h0m-.5 2h0m-.5-1.5h0m-.2 .8h0m.2 2.2h0m1.2 .3h0m1.2 .2h0m1.2-.5h0m-.1 3.6h0m-1 0h0m-1 0h0m-1 0h0" stroke="#23078d" stroke-width="1.4" stroke-linecap="round"/>
<path d="M51.2 553.2h0m.8-.9h0m1.5 0h0m.5 1.1h0m1-1.1h0m.5 3.8h0m-1 0h0m-1 0h0m-1 0h0m-1 0h0" stroke="#50059a" stroke-width="1.4" stroke-linecap="round"/>
<path d="M59.3 550h0m-3.3 1.6h0" stroke="#7e03a8" stroke-width="1.4" stroke-linecap="round"/>
<path d="M62 553h0" stroke="#9d1e94" stroke-width="1.4" stroke-linecap="round"/>
<path d="M69.5 553h0m-1.7 3.1h0" stroke="#bc3981" stroke-width="1.4" stroke-linecap="round"/>
<path d="M80.3 556.1h0" stroke="#e67556" stroke-width="1.4" stroke-linecap="round"/>
<path d="M88.6 551h0" stroke="#f4bd33" stroke-width="1.4" stroke-linecap="round"/>
<rect x="46" y="591.9" width="50" height="1.4" fill="url(#pq0)"/>
<path d="M46 568.4C46.7 568.9 48.5 570.3 50 571.5C51.5 572.7 53.3 574.1 55 575.5C56.7 576.9 58.3 578.7 60 580C61.7 581.3 63.3 582.4 65 583.5C66.7 584.6 68.3 585.6 70 586.5C71.7 587.4 73.3 588 75 588.6C76.7 589.2 78.3 589.7 80 590C81.7 590.3 83.3 590.5 85 590.6C86.7 590.7 88.2 590.6 90 590.4C91.8 590.2 94.6 589.6 95.5 589.4" fill="none" stroke="#1a1a1a" stroke-width="1.0"/>
<linearGradient id="pq1" gradientUnits="userSpaceOnUse" x1="113.5" y1="0" x2="158" y2="0"><stop offset="0" stop-color="rgb(13, 8, 135)"/><stop offset="0.25" stop-color="rgb(126, 3, 168)"/><stop offset="0.5" stop-color="rgb(204, 71, 120)"/><stop offset="0.75" stop-color="rgb(248, 149, 64)"/><stop offset="1" stop-color="rgb(240, 249, 33)"/></linearGradient>
<line x1="112.4" y1="546.6" x2="112.4" y2="593" stroke="#444" stroke-width="1.0"/>
<line x1="110.2" y1="556.1" x2="112.4" y2="556.1" stroke="#444" stroke-width="0.7"/>
<text x="109.6" y="558" font-size="5.6" text-anchor="end" fill="#333">10.00</text>
<line x1="110.2" y1="566" x2="112.4" y2="566" stroke="#444" stroke-width="0.7"/>
<text x="109.6" y="567.9" font-size="5.6" text-anchor="end" fill="#333">1.00</text>
<line x1="110.2" y1="575.9" x2="112.4" y2="575.9" stroke="#444" stroke-width="0.7"/>
<text x="109.6" y="577.8" font-size="5.6" text-anchor="end" fill="#333">0.10</text>
<line x1="110.2" y1="585" x2="112.4" y2="585" stroke="#444" stroke-width="0.7"/>
<text x="109.6" y="586.9" font-size="5.6" text-anchor="end" fill="#333">0.01</text>
<text x="137.5" y="549" font-size="6.2" text-anchor="middle" fill="#333">CD37</text>
<rect x="124.9" y="565.5" width="33.1" height="1.5" fill="url(#pq1)"/>
<path d="M121 563.5h0m-3 2.7h0m1.2 0h0m1.2 0h0" stroke="#50059a" stroke-width="1.4" stroke-linecap="round"/>
<path d="M126 561.4h0" stroke="#7e03a8" stroke-width="1.4" stroke-linecap="round"/>
<path d="M137 564.8 L137 559 L140 557 L143 555.6 L146 554.5 L148 553.5 L152 555 L155 555.5 L158 555.5 L158 564.8Z" fill="url(#pq1)"/>
<path d="M129.4 560.8h0m1.1 0h0m.4-.5h0m.1 0h0m.1 .5h0m.1-.3h0m-.3 1.4h0m0 .2h0m0-1.1h0m-.3 1.5h0m-.8 .7h0m-.5-2.1h0m0 2.5h0m-.3-1.4h0m-.1 1.6h0m0-1.3h0m-.2-1.3h0m-.5 1.5h0m-.1 1h0m-.6-.8h0m-.3-.7h0m0-.2h0m.3 2.5h0m.3 .4h0m3.3-.6h0" stroke="#9d1e94" stroke-width="1.3" stroke-linecap="round"/>
<path d="M131.8 559.9h0m1.1 .7h0m.7-.8h0m.2 .2h0m.2 .5h0m.9-.7h0m.3-1.3h0m.1 2.2h0m0 0h0m.1-.5h0m.3-.4h0m-1.4 3h0m-.4-1.8h0m-.1 .5h0m-.8 2.3h0m-.4-1.1h0m-.3-.6h0m-.8-.9h0m-.1 2.8h0m1 0h0m.7 .2h0m0 .6h0m.6 .1h0" stroke="#bc3981" stroke-width="1.3" stroke-linecap="round"/>
<path d="M140.1 557.1h0m-.5 .6h0m-.2-.6h0m-3.6 3.7h0m.1-1.2h0m.4-1h0m.4-.3h0m.1 1.1h0m0-.6h0m.8 1.9h0m.7-2.3h0m.2-.4h0m.2 2h0m.4-1.9h0m.4 2h0m.2 .8h0m.2-.6h0m.2 2.9h0m-.1-1.5h0m-.8-.5h0m-.5 .6h0m-.2 1.6h0m0-.8h0m-.1 1h0m-.8-1.4h0m-.3-1.1h0m0 1.5h0m-.3 0h0m0 .6h0m-.3-1.4h0m.2 2.2h0m1.1 .3h0" stroke="#d4566c" stroke-width="1.3" stroke-linecap="round"/>
<path d="M143.7 554.8h0m.9 .4h0m0 1.7h0m-.1-1h0m-.2-.8h0m0 2.5h0m-.1-1.8h0m-.5-.4h0m-.7 .8h0m-.2 .7h0m-.3 .9h0m-.3-2h0m-.1 1.2h0m-1.2 3h0m.2-.8h0m.7 1.5h0m.2-2.5h0m.5 2.2h0m.3 .5h0m.2-1.6h0m1.5-.4h0m0 1.5h0m.1-2.2h0m-2.1 3.3h0m-.5-.2h0m0 .7h0m-.3 .9h0m-1.1-1.4h0m3.6 3.4h0" stroke="#e67556" stroke-width="1.3" stroke-linecap="round"/>
<path d="M145 554.5h0m.4 .2h0m.1 0h0m.8-.1h0m2.6-.9h0m.1 3h0m-.5 .3h0m-.1-1.5h0m-.7 2.3h0m-.4-1.9h0m-.2 1.3h0m-.4-1.8h0m-.9 .7h0m-.4 2.8h0m.3 .1h0m.1-.4h0m.1 .6h0m.2 1h0m2.7 .5h0m-.9 2.8h0m-.9-1.3h0m-.7 0h0m-.6-1h0m-.2 .8h0m-.8 1.2h0m2.6 1.1h0m1.6 .3h0" stroke="#f89540" stroke-width="1.3" stroke-linecap="round"/>
<path d="M149.2 554.2h0m.5 0h0m1 .4h0m.8 .3h0m.1 0h0m1.6-.2h0m.1 1.2h0m-1.5 .8h0m-.2 .2h0m-.3-1.9h0m-.1 .5h0m-.1 .6h0m-.2 1.2h0m-.3-1.1h0m-.6 2.6h0m.2 .7h0m0-1.3h0m1-.1h0m.4 0h0m.2 1.1h0m.6-1.2h0m1 4.4h0m-.7 .1h0m-.2-.9h0m-.4 1.4h0m-.2 .9h0m-.6-2.3h0m-.5 .7h0m-1.1 1.3h0m-.5-1.9h0m.1 2.7h0m.1-.4h0m1.4 .9h0m.4-.9h0m1.8 .4h0" stroke="#f4bd33" stroke-width="1.3" stroke-linecap="round"/>
<path d="M157.6 557.3h0m-.1-2h0m-.1 2h0m0-.8h0m-1.1-1.4h0m-.9 .7h0m-.4 .2h0m-1.2 1.2h0m-.1 1.8h0m.8 1.3h0m.3-1.5h0m.5-.2h0m.3 .5h0m.5-.4h0m.4 .3h0m1.3 3h0m-.2 .5h0m-.3-.5h0m-.5 .8h0m-.6 .7h0m-.7-1.2h0m-.2-.4h0m-.4 1.6h0m-.5-2h0m-.3-.3h0m-.1 3.5h0m1.1-.5h0m.8-.1h0m0 .9h0" stroke="#f1e527" stroke-width="1.3" stroke-linecap="round"/>
<rect x="113.5" y="590.5" width="44.5" height="1.4" fill="url(#pq1)"/>
<path d="M113.6 590C114.7 589.6 117.6 588.6 120 587.5C122.4 586.4 125.7 585 128 583.5C130.3 582 132 580.2 134 578.5C136 576.8 138 574.4 140 573C142 571.6 144.2 570.7 146 570.2C147.8 569.7 149.1 569.6 151 569.8C152.9 570 156.4 571.3 157.5 571.6" fill="none" stroke="#1a1a1a" stroke-width="1.0"/>
<linearGradient id="pq2" gradientUnits="userSpaceOnUse" x1="174.5" y1="0" x2="219" y2="0"><stop offset="0" stop-color="rgb(13, 8, 135)"/><stop offset="0.25" stop-color="rgb(126, 3, 168)"/><stop offset="0.5" stop-color="rgb(204, 71, 120)"/><stop offset="0.75" stop-color="rgb(248, 149, 64)"/><stop offset="1" stop-color="rgb(240, 249, 33)"/></linearGradient>
<line x1="173.1" y1="546.6" x2="173.1" y2="593" stroke="#444" stroke-width="1.0"/>
<line x1="170.9" y1="561.4" x2="173.1" y2="561.4" stroke="#444" stroke-width="0.7"/>
<text x="170.3" y="563.3" font-size="5.6" text-anchor="end" fill="#333">10.0</text>
<line x1="170.9" y1="573.6" x2="173.1" y2="573.6" stroke="#444" stroke-width="0.7"/>
<text x="170.3" y="575.5" font-size="5.6" text-anchor="end" fill="#333">1.0</text>
<line x1="170.9" y1="585.4" x2="173.1" y2="585.4" stroke="#444" stroke-width="0.7"/>
<text x="170.3" y="587.3" font-size="5.6" text-anchor="end" fill="#333">0.1</text>
<text x="197" y="549" font-size="6.2" text-anchor="middle" fill="#333">gm1</text>
<rect x="186.5" y="572.9" width="32.3" height="1.5" fill="url(#pq2)"/>
<path d="M178.4 573.6h0m-1.2 0h0m-1.2 0h0" stroke="#23078d" stroke-width="1.4" stroke-linecap="round"/>
<path d="M181.7 573.6h0m-1.2 0h0" stroke="#50059a" stroke-width="1.4" stroke-linecap="round"/>
<path d="M203 570.8 L203 558 L206 556 L210 553.5 L215 552.8 L218.6 553 L218.6 570.8Z" fill="url(#pq2)"/>
<path d="M176.6 565.9h0m.1 1h0m.8-2.5h0m.1 1h0m.2-1h0m.9 .2h0m-.6 4.2h0m-.1-1.6h0m-.6 1h0m-.8 1.2h0m-.2-.3h0m-.8-.9h0m-.4 1.3h0m2.9 .7h0m.8-.2h0" stroke="#23078d" stroke-width="1.3" stroke-linecap="round"/>
<path d="M181.5 563.9h0m-2-.2h0m.2 1.1h0m.2 1.2h0m.4-1.7h0m1.5 2h0m.2-1.5h0m.8 .1h0m.3-.2h0m-.2 4.1h0m-1.7 .2h0m-.1-.3h0m-.2 1.2h0m-1.1-2.4h0m1.5 3h0" stroke="#50059a" stroke-width="1.3" stroke-linecap="round"/>
<path d="M187.7 563.9h0m-.2-.8h0m-3.9 1.4h0m.4 1h0m.6 1h0m1.6-.5h0m.2-.8h0m0 .5h0m.1-.1h0m.7-1.5h0m.1 1.4h0m0-1h0m.1 1.7h0m.3 2.1h0m-.6-.4h0m-.1 1.2h0m0-1.3h0m-.3 1.1h0m-.1 .7h0m-.3-2h0m-1.1 .4h0m-1.5 1.3h0m.9 .7h0m2.2 .4h0m.1 0h0m.4 .3h0" stroke="#7e03a8" stroke-width="1.3" stroke-linecap="round"/>
<path d="M189.6 559.2h0m0 1h0m.8-.9h0m.4 1.5h0m1.4 3h0m-.3-.6h0m-.7-.4h0m-.4 1.1h0m-.2-2.7h0m-.1-.2h0m-.5 2.5h0m-.3-1.7h0m-.2 1.9h0m-.4-1.5h0m-1 1.4h0m-.1 1.1h0m.5-.4h0m.2 .9h0m.2-1h0m.9 1.6h0m0-1.8h0m1.1 2.4h0m.6-1.6h0m.5 .8h0m.2 .7h0m-.5 1.5h0m-.3 .6h0m-.8 .1h0m-.9 .8h0m-.7-1.4h0m-.2 .4h0m-.4 .4h0m0 .7h0m-.3-2.3h0m-.1 .1h0" stroke="#9d1e94" stroke-width="1.3" stroke-linecap="round"/>
<path d="M196.2 563.8h0m-.4-.8h0m-.2 0h0m-.3 .7h0m-.5-.2h0m-.3 .2h0m-.6-.3h0m-.4 .3h0m-.4-1.1h0m-.4 .7h0m0 .8h0m.4 1.5h0m.1-1.2h0m.6 .6h0m.2 1.6h0m.1-1.7h0m.1 .9h0m.1-.7h0m.7 .3h0m0-.9h0m.2 2.4h0m.2-1.5h0m.2-.9h0m.2 1.1h0m.5 .3h0m.2-1.8h0m-.4 5.1h0m-.5 .1h0m-.8-1.8h0m-.1 .6h0m-.5 1.6h0m-.1-2.1h0m-.1-.6h0m-.3 2.4h0m-.1-.8h0m0-1h0m-.5 2.2h0m-.1 0h0m-.1-1.4h0m-.1-.3h0m-.5 0h0m2.5 2.6h0m.3 .2h0m.8-.3h0m.8-.4h0" stroke="#bc3981" stroke-width="1.3" stroke-linecap="round"/>
<path d="M200.9 559.3h0m-.1 2.7h0m-.3 .9h0m-.2-1.6h0m-.4 2.2h0m-.7-1.4h0m-.1-.9h0m0 .7h0m-.8 .4h0m-.1 0h0m0 1.1h0m0 .1h0m-.8-1h0m-.2 3.4h0m.1-.7h0m.7 .5h0m.2 .9h0m.2-2.5h0m.1 .8h0m.1 .9h0m.4-1.5h0m.5 1h0m.1-.9h0m1 2.4h0m.3 2.9h0m-1.6-1.8h0m-.1 0h0m-.2 .3h0m-.2-.8h0m-.9 1.6h0m-.7-1.1h0m-.2 1.5h0m-.2 1.1h0m.8-.1h0" stroke="#d4566c" stroke-width="1.3" stroke-linecap="round"/>
<path d="M203.3 557.4h0m-2.1 2h0m.4 .3h0m.2 .9h0m.4-2h0m.1 1.1h0m.1 .8h0m.3-1.9h0m.5 2.3h0m.1-2.3h0m1.9 1.9h0m.4 .9h0m-1 1.4h0m0 .2h0m-1.7 .8h0m-1.3-1.3h0m-.3-.3h0m.3 1.8h0m.5 1.1h0m1.5 1.7h0m.6-1.9h0m.6 3.7h0m-1.8 .3h0m-.6-1.7h0m-.3 .1h0m-.5 .2h0m0 2.6h0" stroke="#e67556" stroke-width="1.3" stroke-linecap="round"/>
<path d="M207.6 554.7h0m.9-.3h0m.3 .4h0m.9 0h0m0 2.6h0m-.9-.4h0m-.1-.3h0m-.1 0h0m-.6-1.2h0m-.8 .5h0m-.9 1.1h0m-.4-1.4h0m1.2 2.7h0m1.2 2.5h0m.6-1.1h0m0 .5h0m0-.2h0m-.5 3.1h0m-.4-2.1h0m-.2 1.7h0m-.7-.2h0m-.1-1.2h0m-.9-.3h0m-.1 2.1h0m0 .7h0m-.3 .3h0m.7 0h0m.7 1.5h0m.8-.6h0m.6 .7h0m1.5 1.3h0m-.2 1.4h0m-.1 .5h0m-1.1 .3h0m-2-.1h0m3.2 .8h0m.2 1h0" stroke="#f89540" stroke-width="1.3" stroke-linecap="round"/>
<path d="M210.2 554.4h0m.1 .2h0m.4-1h0m1.7-.3h0m.4 1.5h0m.3-1.8h0m1.1-.2h0m.1 2h0m.2-.4h0m0-.8h0m0 3.7h0m-.7-2.3h0m-.5 2.8h0m-1.2-1.9h0m-.3 .9h0m-1.4 .2h0m-.1-.1h0m1.6 3.4h0m.7 .6h0m1.1-1.5h0m.1-.4h0m.4 4.8h0m-.9-1.3h0m-.2 .8h0m-.4 .4h0m-.2-.6h0m-.1-1h0m-.4-.6h0m0 2.1h0m-.2 2.4h0m1.6-1.7h0m-.3 3.9h0m-.9-.4h0m-.4 .1h0m-.5 1.1h0m-.2 1.4h0m.2 .3h0m.3 0h0m.4-.7h0" stroke="#f4bd33" stroke-width="1.3" stroke-linecap="round"/>
<path d="M216.2 552.7h0m1 1h0m-1.5 1.9h0m-.9-.4h0m.6 4.4h0m1.8 .5h0m.7-2h0m-.5 2.9h0m-.7 1h0m0-.7h0m-1.1 2h0m0 .4h0m-.2-.8h0m-.3-.8h0m-.3-.7h0m-.1 3.4h0m.3 .9h0m.5-.2h0m.1-1.3h0m.2 2.1h0m2.7 .1h0m.2 2.9h0m-.5-.6h0m-1.2-1h0m-.3 1.5h0m-1.6 0h0m2.8 .9h0" stroke="#f1e527" stroke-width="1.3" stroke-linecap="round"/>
<path d="M186 570.4h0m1.1 0h0" stroke="#7e03a8" stroke-width="1.2" stroke-linecap="round"/>
<path d="M188.2 570.4h0m1.1 0h0m1.1 0h0m1.1 0h0" stroke="#9d1e94" stroke-width="1.2" stroke-linecap="round"/>
<path d="M192.6 570.4h0m1.1 0h0m1.1 0h0m1.1 0h0" stroke="#bc3981" stroke-width="1.2" stroke-linecap="round"/>
<path d="M197 570.4h0m1.1 0h0m1.1 0h0m1.1 0h0" stroke="#d4566c" stroke-width="1.2" stroke-linecap="round"/>
<path d="M201.4 570.4h0m1.1 0h0m1.1 0h0m1.1 0h0" stroke="#e67556" stroke-width="1.2" stroke-linecap="round"/>
<path d="M205.8 570.4h0m1.1 0h0m1.1 0h0m1.1 0h0" stroke="#f89540" stroke-width="1.2" stroke-linecap="round"/>
<path d="M210.2 570.4h0m1.1 0h0m1.1 0h0m1.1 0h0" stroke="#f4bd33" stroke-width="1.2" stroke-linecap="round"/>
<path d="M214.6 570.4h0m1.1 0h0m1.1 0h0m1.1 0h0" stroke="#f1e527" stroke-width="1.2" stroke-linecap="round"/>
<rect x="174.5" y="590.6" width="44.5" height="1.4" fill="url(#pq2)"/>
<path d="M174.5 587C175.4 587.4 178.2 588.6 180 589.2C181.8 589.8 183.3 590.3 185 590.4C186.7 590.5 188.3 590.4 190 589.8C191.7 589.2 193.3 588.3 195 586.8C196.7 585.3 198.3 582.9 200 581C201.7 579.1 203.3 576.8 205 575.2C206.7 573.6 208.5 572 210 571.2C211.5 570.4 212.5 569.9 214 570.4C215.5 570.9 218.2 573.4 219 574" fill="none" stroke="#1a1a1a" stroke-width="1.0"/>
<linearGradient id="pq3" gradientUnits="userSpaceOnUse" x1="242" y1="0" x2="282.6" y2="0"><stop offset="0" stop-color="rgb(13, 8, 135)"/><stop offset="0.25" stop-color="rgb(126, 3, 168)"/><stop offset="0.5" stop-color="rgb(204, 71, 120)"/><stop offset="0.75" stop-color="rgb(248, 149, 64)"/><stop offset="1" stop-color="rgb(240, 249, 33)"/></linearGradient>
<line x1="240.2" y1="546.7" x2="240.2" y2="593" stroke="#444" stroke-width="1.0"/>
<line x1="238" y1="554.1" x2="240.2" y2="554.1" stroke="#444" stroke-width="0.7"/>
<text x="237.4" y="556" font-size="5.6" text-anchor="end" fill="#333">100.0</text>
<line x1="238" y1="565.6" x2="240.2" y2="565.6" stroke="#444" stroke-width="0.7"/>
<text x="237.4" y="567.5" font-size="5.6" text-anchor="end" fill="#333">10.0</text>
<line x1="238" y1="576.6" x2="240.2" y2="576.6" stroke="#444" stroke-width="0.7"/>
<text x="237.4" y="578.5" font-size="5.6" text-anchor="end" fill="#333">1.0</text>
<line x1="238" y1="587.8" x2="240.2" y2="587.8" stroke="#444" stroke-width="0.7"/>
<text x="237.4" y="589.7" font-size="5.6" text-anchor="end" fill="#333">0.1</text>
<text x="263" y="549" font-size="6.2" text-anchor="middle" fill="#333">hbba1</text>
<rect x="242.2" y="575.5" width="40.4" height="2.3" fill="url(#pq3)"/>
<path d="M242.2 573.6 L242.2 568.5 L246 567.5 L250 567.8 L254 566 L255.5 556 L258 554.5 L262 555 L264 553.5 L270 553 L276 552.6 L282.6 552.3 L282.6 573.6Z" fill="url(#pq3)"/>
<rect x="258" y="560" width="1.4" height="1.6" fill="#fff"/>
<rect x="257" y="565" width="1.4" height="1.6" fill="#fff"/>
<rect x="260.5" y="558" width="1.4" height="1.6" fill="#fff"/>
<rect x="259" y="562.5" width="1.4" height="1.6" fill="#fff"/>
<rect x="261" y="566.5" width="1.4" height="1.6" fill="#fff"/>
<rect x="256.5" y="568" width="1.4" height="1.6" fill="#fff"/>
<rect x="260" y="569.5" width="1.4" height="1.6" fill="#fff"/>
<path d="M242.9 566h0m.4 0h0m1.4-.4h0m.5 .4h0m.2-.5h0m0 .2h0m-1.1 2.2h0m-.4-.4h0m-1.1-.5h0" stroke="#23078d" stroke-width="1.2" stroke-linecap="round"/>
<path d="M247 566.1h0m1.4 .1h0m.3 .3h0m.2 1.3h0m-.2-.6h0m-.5 .1h0m-1 .6h0" stroke="#50059a" stroke-width="1.2" stroke-linecap="round"/>
<path d="M250.4 566.7h0m.9-1.8h0m.3 .7h0m.5 1.3h0m1.8-.8h0m-3.3 1.9h0m0-.6h0m-.3-.1h0" stroke="#7e03a8" stroke-width="1.2" stroke-linecap="round"/>
<path d="M254.3 565.5h0" stroke="#9d1e94" stroke-width="1.2" stroke-linecap="round"/>
<path d="M252.5 557.5h0" stroke="#7e03a8" stroke-width="1.3" stroke-linecap="round"/>
<path d="M256 556.5h0" stroke="#9d1e94" stroke-width="1.3" stroke-linecap="round"/>
<path d="M270 551.5h0" stroke="#e67556" stroke-width="1.3" stroke-linecap="round"/>
<path d="M276 551.2h0" stroke="#f4bd33" stroke-width="1.3" stroke-linecap="round"/>
<path d="M280 551h0" stroke="#f1e527" stroke-width="1.3" stroke-linecap="round"/>
<rect x="242" y="590.7" width="40.6" height="1.4" fill="url(#pq3)"/>
<path d="M241 590C242.5 588.8 247.2 585.2 250 583C252.8 580.8 255.3 578.8 258 576.5C260.7 574.2 263.3 571.8 266 569.5C268.7 567.2 271.2 564.8 274 562.5C276.8 560.2 281.2 557.1 282.6 556" fill="none" stroke="#1a1a1a" stroke-width="1.0"/>
<text x="306" y="548.8" font-size="6.2" text-anchor="middle" fill="#333">pseudotime</text>
<linearGradient id="plg2" x1="0" y1="1" x2="0" y2="0"><stop offset="0" stop-color="rgb(13, 8, 135)"/><stop offset="0.25" stop-color="rgb(126, 3, 168)"/><stop offset="0.5" stop-color="rgb(204, 71, 120)"/><stop offset="0.75" stop-color="rgb(248, 149, 64)"/><stop offset="1" stop-color="rgb(240, 249, 33)"/></linearGradient>
<rect x="291.5" y="550" width="6" height="38.5" fill="url(#plg2)"/>
<text x="300" y="557" font-size="5.8" fill="#333">20</text>
<text x="300" y="566" font-size="5.8" fill="#333">15</text>
<text x="300" y="574" font-size="5.8" fill="#333">10</text>
<text x="300" y="582" font-size="5.8" fill="#333">5</text>
<text x="300" y="590" font-size="5.8" fill="#333">0</text>
</svg></body></html>
